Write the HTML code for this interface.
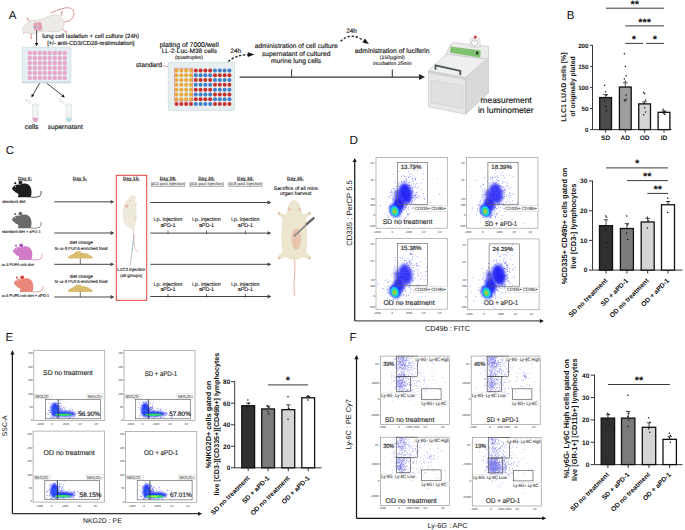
<!DOCTYPE html><html><head><meta charset="utf-8"><style>html,body{margin:0;padding:0;background:#fff;width:685px;height:530px;overflow:hidden}svg{display:block}text{font-family:"Liberation Sans",sans-serif;text-rendering:geometricPrecision}</style></head><body><svg width="685" height="530" viewBox="0 0 685 530"><defs><filter id="b04" x="-50%" y="-50%" width="200%" height="200%"><feGaussianBlur stdDeviation="0.4"/></filter><filter id="b06" x="-50%" y="-50%" width="200%" height="200%"><feGaussianBlur stdDeviation="0.6"/></filter><filter id="b08" x="-50%" y="-50%" width="200%" height="200%"><feGaussianBlur stdDeviation="0.8"/></filter><filter id="b10" x="-50%" y="-50%" width="200%" height="200%"><feGaussianBlur stdDeviation="1.0"/></filter><filter id="b12" x="-50%" y="-50%" width="200%" height="200%"><feGaussianBlur stdDeviation="1.2"/></filter><filter id="b15" x="-50%" y="-50%" width="200%" height="200%"><feGaussianBlur stdDeviation="1.5"/></filter></defs><rect width="685" height="530" fill="#fff"/><text x="8.8" y="18.7" font-size="11.5" fill="#111">A</text>
<path d="M64.00,22.00 C65.03,21.73 68.57,21.52 70.20,20.40 C71.83,19.28 73.38,17.08 73.80,15.30 C74.22,13.52 73.82,10.97 72.70,9.70 C71.58,8.43 69.40,7.70 67.10,7.70 C64.80,7.70 61.70,8.77 58.90,9.70 C56.10,10.63 51.73,12.70 50.30,13.30" fill="none" stroke="#d98c8c" stroke-width="0.95"/>
<line x1="29.5" y1="21.5" x2="27.8" y2="18.9" stroke="#d99090" stroke-width="0.9"/>
<line x1="31.3" y1="33" x2="31.3" y2="37.8" stroke="#d99090" stroke-width="0.9"/>
<line x1="61" y1="16" x2="62" y2="12.3" stroke="#d99090" stroke-width="0.9"/>
<line x1="62" y1="29" x2="66.1" y2="31.7" stroke="#d99090" stroke-width="0.9"/>
<line x1="24.5" y1="31.5" x2="23.5" y2="33.8" stroke="#d99090" stroke-width="0.9"/>
<circle cx="27.6" cy="18.7" r="0.9" fill="#e09a9a"/>
<circle cx="31.3" cy="38" r="0.9" fill="#e09a9a"/>
<circle cx="62.1" cy="12" r="0.9" fill="#e09a9a"/>
<circle cx="66.3" cy="31.9" r="0.9" fill="#e09a9a"/>
<path d="M22.40,29.60 C22.48,28.82 23.37,27.43 24.00,26.50 C24.63,25.57 25.15,24.92 26.20,24.00 C27.25,23.08 28.83,21.60 30.30,21.00 C31.77,20.40 33.38,20.58 35.00,20.40 C36.62,20.22 38.42,20.30 40.00,19.90 C41.58,19.50 43.05,18.58 44.50,18.00 C45.95,17.42 46.80,16.93 48.70,16.40 C50.60,15.87 54.02,14.80 55.90,14.80 C57.78,14.80 58.82,15.55 60.00,16.40 C61.18,17.25 62.33,18.72 63.00,19.90 C63.67,21.08 64.00,22.22 64.00,23.50 C64.00,24.78 63.67,26.40 63.00,27.60 C62.33,28.80 61.53,30.02 60.00,30.70 C58.47,31.38 56.18,31.62 53.80,31.70 C51.42,31.78 48.08,31.20 45.70,31.20 C43.32,31.20 41.22,31.37 39.50,31.70 C37.78,32.03 36.77,32.87 35.40,33.20 C34.03,33.53 32.83,33.78 31.30,33.70 C29.77,33.62 27.50,33.12 26.20,32.70 C24.90,32.28 24.13,31.72 23.50,31.20 C22.87,30.68 22.32,30.38 22.40,29.60Z" fill="#ecebe7" stroke="#cbbca6" stroke-width="0.5"/>
<path d="M33.6,23.5 Q36.5,21.3 41.2,22.3 Q42.6,26 41.8,30.3 Q37.5,31.3 34.6,30.2 Q32.8,27 33.6,23.5 Z" fill="#e0a0b2"/>
<line x1="37.6" y1="22.5" x2="37.6" y2="30.5" stroke="#ecebe7" stroke-width="0.5"/>
<line x1="33.2" y1="27.4" x2="38" y2="27.2" stroke="#8fb0d8" stroke-width="0.8"/>
<line x1="36.6" y1="30.5" x2="36.6" y2="44.2" stroke="#222" stroke-width="0.8"/>
<path d="M36.6,46.3 L34.9,42.9 L38.3,42.9 Z" fill="#111"/>
<text x="42.2" y="37.9" font-size="6" stroke="#111" stroke-width="0.14" fill="#111">lung cell isolation + cell culture (24h)</text>
<text x="47.2" y="44.6" font-size="5.9" stroke="#111" stroke-width="0.14" fill="#111">[+/- anti-CD3/CD28-restimulation]</text>
<rect x="22.4" y="47.4" width="48.4" height="35.6" fill="#e5eef0" stroke="#c3d3d7" stroke-width="0.6" rx="0.8"/>
<rect x="22.4" y="81.6" width="48.4" height="1.4" fill="#c9d9dc" stroke="none" stroke-width="1"/>
<circle cx="29.8" cy="53" r="2.2" fill="#e8a6ca"/>
<circle cx="34.79" cy="53" r="2.2" fill="#e8a6ca"/>
<circle cx="39.78" cy="53" r="2.2" fill="#e8a6ca"/>
<circle cx="44.77" cy="53" r="2.2" fill="#e8a6ca"/>
<circle cx="49.76" cy="53" r="2.2" fill="#e8a6ca"/>
<circle cx="54.75" cy="53" r="2.2" fill="#e8a6ca"/>
<circle cx="59.74" cy="53" r="2.2" fill="#e8a6ca"/>
<circle cx="64.73" cy="53" r="2.2" fill="#e8a6ca"/>
<circle cx="29.8" cy="57.98" r="2.2" fill="#e8a6ca"/>
<circle cx="34.79" cy="57.98" r="2.2" fill="#e8a6ca"/>
<circle cx="39.78" cy="57.98" r="2.2" fill="#e8a6ca"/>
<circle cx="44.77" cy="57.98" r="2.2" fill="#e8a6ca"/>
<circle cx="49.76" cy="57.98" r="2.2" fill="#e8a6ca"/>
<circle cx="54.75" cy="57.98" r="2.2" fill="#e8a6ca"/>
<circle cx="59.74" cy="57.98" r="2.2" fill="#e8a6ca"/>
<circle cx="64.73" cy="57.98" r="2.2" fill="#e8a6ca"/>
<circle cx="29.8" cy="62.96" r="2.2" fill="#e8a6ca"/>
<circle cx="34.79" cy="62.96" r="2.2" fill="#e8a6ca"/>
<circle cx="39.78" cy="62.96" r="2.2" fill="#e8a6ca"/>
<circle cx="44.77" cy="62.96" r="2.2" fill="#e8a6ca"/>
<circle cx="49.76" cy="62.96" r="2.2" fill="#e8a6ca"/>
<circle cx="54.75" cy="62.96" r="2.2" fill="#e8a6ca"/>
<circle cx="59.74" cy="62.96" r="2.2" fill="#e8a6ca"/>
<circle cx="64.73" cy="62.96" r="2.2" fill="#e8a6ca"/>
<circle cx="29.8" cy="67.94" r="2.2" fill="#e8a6ca"/>
<circle cx="34.79" cy="67.94" r="2.2" fill="#e8a6ca"/>
<circle cx="39.78" cy="67.94" r="2.2" fill="#e8a6ca"/>
<circle cx="44.77" cy="67.94" r="2.2" fill="#e8a6ca"/>
<circle cx="49.76" cy="67.94" r="2.2" fill="#e8a6ca"/>
<circle cx="54.75" cy="67.94" r="2.2" fill="#e8a6ca"/>
<circle cx="59.74" cy="67.94" r="2.2" fill="#e8a6ca"/>
<circle cx="64.73" cy="67.94" r="2.2" fill="#e8a6ca"/>
<circle cx="29.8" cy="72.92" r="2.2" fill="#e8a6ca"/>
<circle cx="34.79" cy="72.92" r="2.2" fill="#e8a6ca"/>
<circle cx="39.78" cy="72.92" r="2.2" fill="#e8a6ca"/>
<circle cx="44.77" cy="72.92" r="2.2" fill="#e8a6ca"/>
<circle cx="49.76" cy="72.92" r="2.2" fill="#e8a6ca"/>
<circle cx="54.75" cy="72.92" r="2.2" fill="#e8a6ca"/>
<circle cx="59.74" cy="72.92" r="2.2" fill="#e8a6ca"/>
<circle cx="64.73" cy="72.92" r="2.2" fill="#e8a6ca"/>
<circle cx="29.8" cy="77.9" r="2.2" fill="#e8a6ca"/>
<circle cx="34.79" cy="77.9" r="2.2" fill="#e8a6ca"/>
<circle cx="39.78" cy="77.9" r="2.2" fill="#e8a6ca"/>
<circle cx="44.77" cy="77.9" r="2.2" fill="#e8a6ca"/>
<circle cx="49.76" cy="77.9" r="2.2" fill="#e8a6ca"/>
<circle cx="54.75" cy="77.9" r="2.2" fill="#e8a6ca"/>
<circle cx="59.74" cy="77.9" r="2.2" fill="#e8a6ca"/>
<circle cx="64.73" cy="77.9" r="2.2" fill="#e8a6ca"/>
<line x1="39.6" y1="83.3" x2="32.6" y2="95.3" stroke="#222" stroke-width="0.85"/>
<path d="M31.4,97.5 L31.7,93.98 L34.3,95.48 Z" fill="#111"/>
<line x1="46.8" y1="83.3" x2="63" y2="96" stroke="#222" stroke-width="0.85"/>
<path d="M64.8,97.5 L61.35,96.71 L63.2,94.35 Z" fill="#111"/>
<path d="M26,98.8 L31,102.5 L30,103.8 L25.3,100 Z" fill="#f2f4f4" stroke="#c8cfd0" stroke-width="0.4"/>
<path d="M32.5,104 L38.1,104 L38.1,118.5 Q38.1,122.3 35.3,122.3 Q32.5,122.3 32.5,118.5 Z" fill="#f2f5f5" stroke="#c8d0d2" stroke-width="0.45"/>
<path d="M32.8,117.8 L37.8,117.8 L37.8,118.6 Q37.8,122 35.3,122 Q32.8,122 32.8,118.6 Z" fill="#e6a0c6"/>
<path d="M59.5,98.8 L64.5,102.5 L63.5,103.8 L58.8,100 Z" fill="#f2f4f4" stroke="#c8cfd0" stroke-width="0.4"/>
<path d="M66,104 L71.6,104 L71.6,118.5 Q71.6,122.3 68.8,122.3 Q66,122.3 66,118.5 Z" fill="#f2f5f5" stroke="#c8d0d2" stroke-width="0.45"/>
<path d="M66.3,117.8 L71.3,117.8 L71.3,118.6 Q71.3,122 68.8,122 Q66.3,122 66.3,118.6 Z" fill="#b5dced"/>
<text x="24.8" y="128.9" font-size="6.8" stroke="#111" stroke-width="0.14" fill="#111">cells</text>
<text x="47.7" y="128.9" font-size="6.65" stroke="#111" stroke-width="0.14" fill="#111">supernatant</text>
<text x="189.2" y="46.5" font-size="6.9" stroke="#111" stroke-width="0.14" text-anchor="middle" fill="#111">plating of 7000/well</text>
<text x="189.3" y="53" font-size="6.5" stroke="#111" stroke-width="0.14" text-anchor="middle" fill="#111">LL-2-Luc-M38 cells</text>
<text x="189" y="59.3" font-size="5" stroke="#111" stroke-width="0.1" text-anchor="middle" fill="#111">(quadruples)</text>
<text x="136" y="67.1" font-size="6.7" stroke="#111" stroke-width="0.14" fill="#111">standard</text>
<line x1="162.5" y1="65.6" x2="174.6" y2="68.6" stroke="#e0707c" stroke-width="0.6"/>
<rect x="168.3" y="62.4" width="66.2" height="48.2" fill="#e6eef0" stroke="#c4d4d8" stroke-width="0.6" rx="0.8"/>
<circle cx="176.5" cy="70.4" r="2" fill="#e9a93a"/>
<circle cx="181.31" cy="70.4" r="2" fill="#e9a93a"/>
<circle cx="186.12" cy="70.4" r="2" fill="#e9a93a"/>
<circle cx="190.93" cy="70.4" r="2" fill="#e9a93a"/>
<circle cx="195.74" cy="70.4" r="2" fill="#c9302c"/>
<circle cx="200.55" cy="70.4" r="2" fill="#c9302c"/>
<circle cx="205.36" cy="70.4" r="2" fill="#c9302c"/>
<circle cx="210.17" cy="70.4" r="2" fill="#c9302c"/>
<circle cx="214.98" cy="70.4" r="2" fill="#3f7fca"/>
<circle cx="219.79" cy="70.4" r="2" fill="#3f7fca"/>
<circle cx="224.6" cy="70.4" r="2" fill="#3f7fca"/>
<circle cx="229.41" cy="70.4" r="2" fill="#3f7fca"/>
<circle cx="176.5" cy="75.21" r="2" fill="#e9a93a"/>
<circle cx="181.31" cy="75.21" r="2" fill="#e9a93a"/>
<circle cx="186.12" cy="75.21" r="2" fill="#e9a93a"/>
<circle cx="190.93" cy="75.21" r="2" fill="#e9a93a"/>
<circle cx="195.74" cy="75.21" r="2" fill="#3f7fca"/>
<circle cx="200.55" cy="75.21" r="2" fill="#3f7fca"/>
<circle cx="205.36" cy="75.21" r="2" fill="#3f7fca"/>
<circle cx="210.17" cy="75.21" r="2" fill="#3f7fca"/>
<circle cx="214.98" cy="75.21" r="2" fill="#c9302c"/>
<circle cx="219.79" cy="75.21" r="2" fill="#c9302c"/>
<circle cx="224.6" cy="75.21" r="2" fill="#c9302c"/>
<circle cx="229.41" cy="75.21" r="2" fill="#c9302c"/>
<circle cx="176.5" cy="80.02" r="2" fill="#e9a93a"/>
<circle cx="181.31" cy="80.02" r="2" fill="#e9a93a"/>
<circle cx="186.12" cy="80.02" r="2" fill="#e9a93a"/>
<circle cx="190.93" cy="80.02" r="2" fill="#e9a93a"/>
<circle cx="195.74" cy="80.02" r="2" fill="#c9302c"/>
<circle cx="200.55" cy="80.02" r="2" fill="#c9302c"/>
<circle cx="205.36" cy="80.02" r="2" fill="#c9302c"/>
<circle cx="210.17" cy="80.02" r="2" fill="#c9302c"/>
<circle cx="214.98" cy="80.02" r="2" fill="#3f7fca"/>
<circle cx="219.79" cy="80.02" r="2" fill="#3f7fca"/>
<circle cx="224.6" cy="80.02" r="2" fill="#3f7fca"/>
<circle cx="229.41" cy="80.02" r="2" fill="#3f7fca"/>
<circle cx="176.5" cy="84.83" r="2" fill="#e9a93a"/>
<circle cx="181.31" cy="84.83" r="2" fill="#e9a93a"/>
<circle cx="186.12" cy="84.83" r="2" fill="#e9a93a"/>
<circle cx="190.93" cy="84.83" r="2" fill="#e9a93a"/>
<circle cx="195.74" cy="84.83" r="2" fill="#3f7fca"/>
<circle cx="200.55" cy="84.83" r="2" fill="#3f7fca"/>
<circle cx="205.36" cy="84.83" r="2" fill="#3f7fca"/>
<circle cx="210.17" cy="84.83" r="2" fill="#3f7fca"/>
<circle cx="214.98" cy="84.83" r="2" fill="#c9302c"/>
<circle cx="219.79" cy="84.83" r="2" fill="#c9302c"/>
<circle cx="224.6" cy="84.83" r="2" fill="#c9302c"/>
<circle cx="229.41" cy="84.83" r="2" fill="#c9302c"/>
<circle cx="176.5" cy="89.64" r="2" fill="#e9a93a"/>
<circle cx="181.31" cy="89.64" r="2" fill="#e9a93a"/>
<circle cx="186.12" cy="89.64" r="2" fill="#e9a93a"/>
<circle cx="190.93" cy="89.64" r="2" fill="#e9a93a"/>
<circle cx="195.74" cy="89.64" r="2" fill="#c9302c"/>
<circle cx="200.55" cy="89.64" r="2" fill="#c9302c"/>
<circle cx="205.36" cy="89.64" r="2" fill="#c9302c"/>
<circle cx="210.17" cy="89.64" r="2" fill="#c9302c"/>
<circle cx="214.98" cy="89.64" r="2" fill="#3f7fca"/>
<circle cx="219.79" cy="89.64" r="2" fill="#3f7fca"/>
<circle cx="224.6" cy="89.64" r="2" fill="#3f7fca"/>
<circle cx="229.41" cy="89.64" r="2" fill="#3f7fca"/>
<circle cx="176.5" cy="94.45" r="2" fill="#e9a93a"/>
<circle cx="181.31" cy="94.45" r="2" fill="#e9a93a"/>
<circle cx="186.12" cy="94.45" r="2" fill="#e9a93a"/>
<circle cx="190.93" cy="94.45" r="2" fill="#e9a93a"/>
<circle cx="195.74" cy="94.45" r="2" fill="#3f7fca"/>
<circle cx="200.55" cy="94.45" r="2" fill="#3f7fca"/>
<circle cx="205.36" cy="94.45" r="2" fill="#3f7fca"/>
<circle cx="210.17" cy="94.45" r="2" fill="#3f7fca"/>
<circle cx="214.98" cy="94.45" r="2" fill="#c9302c"/>
<circle cx="219.79" cy="94.45" r="2" fill="#c9302c"/>
<circle cx="224.6" cy="94.45" r="2" fill="#c9302c"/>
<circle cx="229.41" cy="94.45" r="2" fill="#c9302c"/>
<circle cx="176.5" cy="99.26" r="2" fill="#e9a93a"/>
<circle cx="181.31" cy="99.26" r="2" fill="#e9a93a"/>
<circle cx="186.12" cy="99.26" r="2" fill="#e9a93a"/>
<circle cx="190.93" cy="99.26" r="2" fill="#e9a93a"/>
<circle cx="195.74" cy="99.26" r="2" fill="#c9302c"/>
<circle cx="200.55" cy="99.26" r="2" fill="#c9302c"/>
<circle cx="205.36" cy="99.26" r="2" fill="#c9302c"/>
<circle cx="210.17" cy="99.26" r="2" fill="#c9302c"/>
<circle cx="214.98" cy="99.26" r="2" fill="#3f7fca"/>
<circle cx="219.79" cy="99.26" r="2" fill="#3f7fca"/>
<circle cx="224.6" cy="99.26" r="2" fill="#3f7fca"/>
<circle cx="229.41" cy="99.26" r="2" fill="#3f7fca"/>
<circle cx="176.5" cy="104.07" r="2" fill="#c9302c"/>
<circle cx="181.31" cy="104.07" r="2" fill="#c9302c"/>
<circle cx="186.12" cy="104.07" r="2" fill="#c9302c"/>
<circle cx="190.93" cy="104.07" r="2" fill="#c9302c"/>
<circle cx="195.74" cy="104.07" r="2" fill="#3f7fca"/>
<circle cx="200.55" cy="104.07" r="2" fill="#3f7fca"/>
<circle cx="205.36" cy="104.07" r="2" fill="#3f7fca"/>
<circle cx="210.17" cy="104.07" r="2" fill="#3f7fca"/>
<circle cx="214.98" cy="104.07" r="2" fill="#c9302c"/>
<circle cx="219.79" cy="104.07" r="2" fill="#c9302c"/>
<circle cx="224.6" cy="104.07" r="2" fill="#c9302c"/>
<circle cx="229.41" cy="104.07" r="2" fill="#c9302c"/>
<rect x="174.4" y="68.2" width="18.3" height="32.8" fill="none" stroke="#e07885" stroke-width="0.6"/>
<text x="230.4" y="52.6" font-size="6.3" stroke="#111" stroke-width="0.14" fill="#111">24h</text>
<path d="M228.4,61.4 Q236,55 248,54.8" fill="none" stroke="#1a1a1a" stroke-width="1.3" stroke-dasharray="2.4,1.6"/>
<path d="M254.3,54.6 L247.8,56.9 L247.8,52.3 Z" fill="#111"/>
<line x1="239.6" y1="77.1" x2="420.5" y2="77.1" stroke="#333" stroke-width="1.3"/>
<path d="M425,77 L419,79.9 L419,74.1 Z" fill="#222"/>
<line x1="291.6" y1="69.4" x2="291.6" y2="77.1" stroke="#333" stroke-width="1"/>
<line x1="392.3" y1="69.4" x2="392.3" y2="77.1" stroke="#333" stroke-width="1"/>
<text x="296.3" y="48.4" font-size="6.7" stroke="#111" stroke-width="0.14" text-anchor="middle" fill="#111">administration of cell culture</text>
<text x="296.2" y="55.9" font-size="6.7" stroke="#111" stroke-width="0.14" text-anchor="middle" fill="#111">supernatant of cultured</text>
<text x="296.1" y="63.4" font-size="6.7" stroke="#111" stroke-width="0.14" text-anchor="middle" fill="#111">murine lung cells</text>
<text x="346.3" y="32.8" font-size="6.3" stroke="#111" stroke-width="0.14" fill="#111">24h</text>
<path d="M340.5,41.4 Q350.2,31.5 363,40.3" fill="none" stroke="#1a1a1a" stroke-width="1.3" stroke-dasharray="2.4,1.8"/>
<path d="M368.9,43.9 L362.45,42.45 L364.95,38.59 Z" fill="#111"/>
<text x="392.2" y="52.6" font-size="6.76" stroke="#111" stroke-width="0.14" text-anchor="middle" fill="#111">administration of luciferin</text>
<text x="392.3" y="58.7" font-size="5.2" stroke="#111" stroke-width="0.1" text-anchor="middle" fill="#111">(150µg/ml)</text>
<text x="392.3" y="64.5" font-size="5.1" stroke="#111" stroke-width="0.1" text-anchor="middle" fill="#111">incubation 25min</text>
<polygon points="465.6,77.5 488.5,58.2 488.5,93.1 465.6,114.2" fill="#d9d9d9" stroke="#b9b9b9" stroke-width="0.5"/>
<polygon points="428.4,70.8 465.6,77.5 465.6,114.2 428.4,106.8" fill="#e7e7e7" stroke="#b9b9b9" stroke-width="0.5"/>
<polygon points="431.2,80.2 463,85.8 463,108.6 431.2,102.6" fill="#e0e0e0" stroke="#c4c4c4" stroke-width="0.45"/>
<polygon points="428.4,70.8 465.6,77.5 465.6,79.6 428.4,72.9" fill="#d4d4d4" stroke="#bdbdbd" stroke-width="0.3"/>
<polygon points="428.4,70.8 446,54 486.5,58.8 465.6,77.5" fill="#efefef" stroke="#b9b9b9" stroke-width="0.5"/>
<polygon points="446,54 450.5,44.2 454,42.6 488.5,46.6 488.5,58.2 486.5,58.8" fill="#ebebeb" stroke="#b9b9b9" stroke-width="0.5"/>
<polygon points="450.6,46.6 480.8,50.4 480.2,57.4 450,52.8" fill="#80c270"/>
<rect x="476" y="51.6" width="2.3" height="2.9" fill="#333"/>
<path d="M435.4,69.6 L435.6,65.4 L460.3,70.9 L460.3,75.1" fill="none" stroke="#4a5357" stroke-width="1.8"/>
<rect x="470.4" y="38.2" width="9.6" height="8.9" rx="1" fill="#f2f2f2" stroke="#aaa" stroke-width="0.4"/>
<circle cx="474.6" cy="42.8" r="3.0" fill="#fff" stroke="#888" stroke-width="0.45"/>
<line x1="474.6" y1="40.6" x2="474.6" y2="42.8" stroke="#777" stroke-width="0.35"/>
<circle cx="475.3" cy="37.0" r="1.5" fill="#d13a3a"/>
<text x="480.6" y="103" font-size="8.35" stroke="#111" stroke-width="0.14" fill="#111">measurement</text>
<text x="477.9" y="112.5" font-size="8.5" stroke="#111" stroke-width="0.14" fill="#111">in luminometer</text>
<text x="566.8" y="19.4" font-size="11.5" fill="#111">B</text>
<line x1="592.5" y1="45" x2="592.5" y2="129.6" stroke="#222" stroke-width="0.9"/>
<line x1="592.5" y1="129.6" x2="671.5" y2="129.6" stroke="#222" stroke-width="0.9"/>
<line x1="590.1" y1="129.6" x2="592.5" y2="129.6" stroke="#222" stroke-width="0.9"/>
<text x="588.5" y="131.8" font-size="6.2" font-weight="bold" text-anchor="end" fill="#111">0</text>
<line x1="590.1" y1="108.52" x2="592.5" y2="108.52" stroke="#222" stroke-width="0.9"/>
<text x="588.5" y="110.72" font-size="6.2" font-weight="bold" text-anchor="end" fill="#111">50</text>
<line x1="590.1" y1="87.45" x2="592.5" y2="87.45" stroke="#222" stroke-width="0.9"/>
<text x="588.5" y="89.65" font-size="6.2" font-weight="bold" text-anchor="end" fill="#111">100</text>
<line x1="590.1" y1="66.38" x2="592.5" y2="66.38" stroke="#222" stroke-width="0.9"/>
<text x="588.5" y="68.58" font-size="6.2" font-weight="bold" text-anchor="end" fill="#111">150</text>
<line x1="590.1" y1="45.3" x2="592.5" y2="45.3" stroke="#222" stroke-width="0.9"/>
<text x="588.5" y="47.5" font-size="6.2" font-weight="bold" text-anchor="end" fill="#111">200</text>
<rect x="599.7" y="97.57" width="11.8" height="32.03" fill="#4b4b4b" stroke="#111" stroke-width="1.3"/>
<line x1="605.6" y1="97.57" x2="605.6" y2="94.62" stroke="#222" stroke-width="0.8"/>
<line x1="603.2" y1="94.62" x2="608" y2="94.62" stroke="#222" stroke-width="0.8"/>
<circle cx="604.7" cy="85.34" r="0.75" fill="#111"/>
<circle cx="605.6" cy="91.66" r="0.75" fill="#111"/>
<circle cx="606.5" cy="95.04" r="0.75" fill="#111"/>
<circle cx="604.7" cy="100.94" r="0.75" fill="#111"/>
<circle cx="605.6" cy="106.42" r="0.75" fill="#111"/>
<circle cx="606.5" cy="110.63" r="0.75" fill="#111"/>
<line x1="605.6" y1="129.6" x2="605.6" y2="132.6" stroke="#222" stroke-width="0.9"/>
<rect x="619.4" y="87.03" width="11.8" height="42.57" fill="#9d9d9d" stroke="#111" stroke-width="1.3"/>
<line x1="625.3" y1="87.03" x2="625.3" y2="82.81" stroke="#222" stroke-width="0.8"/>
<line x1="622.9" y1="82.81" x2="627.7" y2="82.81" stroke="#222" stroke-width="0.8"/>
<circle cx="624.4" cy="53.73" r="0.75" fill="#111"/>
<circle cx="625.3" cy="66.38" r="0.75" fill="#111"/>
<circle cx="626.2" cy="75.65" r="0.75" fill="#111"/>
<circle cx="624.4" cy="79.02" r="0.75" fill="#111"/>
<circle cx="625.3" cy="81.13" r="0.75" fill="#111"/>
<circle cx="626.2" cy="95.04" r="0.75" fill="#111"/>
<circle cx="624.4" cy="100.09" r="0.75" fill="#111"/>
<circle cx="625.3" cy="100.94" r="0.75" fill="#111"/>
<circle cx="626.2" cy="99.25" r="0.75" fill="#111"/>
<line x1="625.3" y1="129.6" x2="625.3" y2="132.6" stroke="#222" stroke-width="0.9"/>
<rect x="638.7" y="103.89" width="11.8" height="25.71" fill="#d5d5d5" stroke="#111" stroke-width="1.3"/>
<line x1="644.6" y1="103.89" x2="644.6" y2="101.78" stroke="#222" stroke-width="0.8"/>
<line x1="642.2" y1="101.78" x2="647" y2="101.78" stroke="#222" stroke-width="0.8"/>
<circle cx="643.7" cy="92.51" r="0.75" fill="#111"/>
<circle cx="644.6" cy="93.77" r="0.75" fill="#111"/>
<circle cx="645.5" cy="100.09" r="0.75" fill="#111"/>
<circle cx="643.7" cy="103.47" r="0.75" fill="#111"/>
<circle cx="644.6" cy="107.68" r="0.75" fill="#111"/>
<circle cx="645.5" cy="111.9" r="0.75" fill="#111"/>
<circle cx="643.7" cy="114.85" r="0.75" fill="#111"/>
<line x1="644.6" y1="129.6" x2="644.6" y2="132.6" stroke="#222" stroke-width="0.9"/>
<rect x="658.1" y="112.32" width="11.8" height="17.28" fill="#ffffff" stroke="#111" stroke-width="1.3"/>
<line x1="664" y1="112.32" x2="664" y2="111.05" stroke="#222" stroke-width="0.8"/>
<line x1="661.6" y1="111.05" x2="666.4" y2="111.05" stroke="#222" stroke-width="0.8"/>
<circle cx="663.1" cy="109.37" r="0.75" fill="#111"/>
<circle cx="664" cy="111.05" r="0.75" fill="#111"/>
<circle cx="664.9" cy="111.9" r="0.75" fill="#111"/>
<circle cx="663.1" cy="112.74" r="0.75" fill="#111"/>
<circle cx="664" cy="113.58" r="0.75" fill="#111"/>
<circle cx="664.9" cy="114.43" r="0.75" fill="#111"/>
<line x1="664" y1="129.6" x2="664" y2="132.6" stroke="#222" stroke-width="0.9"/>
<text x="605.6" y="140.4" font-size="6.5" font-weight="bold" text-anchor="middle" fill="#111">SD</text>
<text x="625.3" y="140.4" font-size="6.5" font-weight="bold" text-anchor="middle" fill="#111">AD</text>
<text x="644.6" y="140.4" font-size="6.5" font-weight="bold" text-anchor="middle" fill="#111">OD</text>
<text x="664" y="140.4" font-size="6.5" font-weight="bold" text-anchor="middle" fill="#111">ID</text>
<line x1="606" y1="8.2" x2="664" y2="8.2" stroke="#222" stroke-width="0.9"/>
<line x1="625.3" y1="25.9" x2="664" y2="25.9" stroke="#222" stroke-width="0.9"/>
<line x1="625.3" y1="43.4" x2="643" y2="43.4" stroke="#222" stroke-width="0.9"/>
<line x1="646.2" y1="43.4" x2="664" y2="43.4" stroke="#222" stroke-width="0.9"/>
<text x="634.8" y="7.93" font-size="11" font-weight="bold" text-anchor="middle" fill="#111">**</text>
<text x="644.7" y="25.83" font-size="11" font-weight="bold" text-anchor="middle" fill="#111">***</text>
<text x="634" y="43.23" font-size="11" font-weight="bold" text-anchor="middle" fill="#111">*</text>
<text x="655" y="43.23" font-size="11" font-weight="bold" text-anchor="middle" fill="#111">*</text>
<text x="565.6" y="87" font-size="7" font-weight="bold" text-anchor="middle" fill="#111" transform="rotate(-90 565.6 87)">LLC1 LUAD cells [%]</text>
<text x="575.4" y="86.6" font-size="6.8" font-weight="bold" text-anchor="middle" fill="#111" transform="rotate(-90 575.4 86.6)">of originally plated</text>
<text x="5.7" y="153.8" font-size="11.5" fill="#111">C</text>
<text x="25" y="179.6" font-size="4.7" font-weight="bold" text-anchor="middle" fill="#111" text-decoration="underline">Day 0:</text>
<text x="79.9" y="179.6" font-size="4.7" font-weight="bold" text-anchor="middle" fill="#111" text-decoration="underline">Day 5:</text>
<text x="131.3" y="179.6" font-size="4.7" font-weight="bold" text-anchor="middle" fill="#111" text-decoration="underline">Day 15:</text>
<text x="168" y="179.6" font-size="4.7" font-weight="bold" text-anchor="middle" fill="#111" text-decoration="underline">Day 28:</text>
<text x="206.5" y="179.6" font-size="4.7" font-weight="bold" text-anchor="middle" fill="#111" text-decoration="underline">Day 30:</text>
<text x="245.4" y="179.6" font-size="4.7" font-weight="bold" text-anchor="middle" fill="#111" text-decoration="underline">Day 33:</text>
<text x="295.4" y="179.6" font-size="4.7" font-weight="bold" text-anchor="middle" fill="#111" text-decoration="underline">Day 35:</text>
<text x="168" y="184.9" font-size="4.1" text-anchor="middle" fill="#111" text-decoration="underline">[d13 post injection]</text>
<text x="206.5" y="184.9" font-size="4.1" text-anchor="middle" fill="#111" text-decoration="underline">[d15 post injection]</text>
<text x="245.4" y="184.9" font-size="4.1" text-anchor="middle" fill="#111" text-decoration="underline">[d18 post injection]</text>
<g transform="translate(11.2,181.3) scale(1)"><path d="M0.7,7.1 Q1.8,4.6 4.2,3.6 Q6.8,2.7 8.6,3.4 Q11,1.9 14.2,2.3 Q20,3.2 20.3,10 Q20.4,14.6 19.2,16 L6.9,16 Q6.4,14.5 7.6,13.2 L5.8,11.7 Q4,11.3 3.6,10.2 Q2,9.6 0.7,7.1 Z" fill="#1e1e1e"/><circle cx="9.2" cy="1.3" r="1.9" fill="#1e1e1e"/><path d="M2.6,2.6 L4.0,0.1 L5.4,2.6 Z" fill="#1e1e1e"/><circle cx="4.3" cy="5.0" r="0.55" fill="#fff"/><path d="M19.4,15.9 Q26,16.3 28.4,15.1 Q30.6,13 29.8,9.7" fill="none" stroke="#1e1e1e" stroke-width="0.75"/></g>
<g transform="translate(11.2,212.3) scale(1)"><path d="M0.7,7.1 Q1.8,4.6 4.2,3.6 Q6.8,2.7 8.6,3.4 Q11,1.9 14.2,2.3 Q20,3.2 20.3,10 Q20.4,14.6 19.2,16 L6.9,16 Q6.4,14.5 7.6,13.2 L5.8,11.7 Q4,11.3 3.6,10.2 Q2,9.6 0.7,7.1 Z" fill="#6a6a6a"/><circle cx="9.2" cy="1.3" r="1.9" fill="#6a6a6a"/><path d="M2.6,2.6 L4.0,0.1 L5.4,2.6 Z" fill="#6a6a6a"/><circle cx="4.3" cy="5.0" r="0.55" fill="#fff"/><path d="M19.4,15.9 Q26,16.3 28.4,15.1 Q30.6,13 29.8,9.7" fill="none" stroke="#6a6a6a" stroke-width="0.75"/></g>
<g transform="translate(12,244) scale(1)"><path d="M0.7,7.1 Q1.8,4.6 4.2,3.6 Q6.8,2.7 8.6,3.4 Q11,1.9 14.2,2.3 Q20,3.2 20.3,10 Q20.4,14.6 19.2,16 L6.9,16 Q6.4,14.5 7.6,13.2 L5.8,11.7 Q4,11.3 3.6,10.2 Q2,9.6 0.7,7.1 Z" fill="#d27cc8"/><circle cx="9.2" cy="1.3" r="1.9" fill="#a855b8"/><path d="M2.6,2.6 L4.0,0.1 L5.4,2.6 Z" fill="#a855b8"/><circle cx="4.3" cy="5.0" r="0.55" fill="#fff"/><path d="M19.4,15.9 Q26,16.3 28.4,15.1 Q30.6,13 29.8,9.7" fill="none" stroke="#d27cc8" stroke-width="0.75"/></g>
<g transform="translate(13,276) scale(1)"><path d="M0.7,7.1 Q1.8,4.6 4.2,3.6 Q6.8,2.7 8.6,3.4 Q11,1.9 14.2,2.3 Q20,3.2 20.3,10 Q20.4,14.6 19.2,16 L6.9,16 Q6.4,14.5 7.6,13.2 L5.8,11.7 Q4,11.3 3.6,10.2 Q2,9.6 0.7,7.1 Z" fill="#e9877a"/><circle cx="9.2" cy="1.3" r="1.9" fill="#d8403e"/><path d="M2.6,2.6 L4.0,0.1 L5.4,2.6 Z" fill="#d8403e"/><circle cx="4.3" cy="5.0" r="0.55" fill="#fff"/><path d="M19.4,15.9 Q26,16.3 28.4,15.1 Q30.6,13 29.8,9.7" fill="none" stroke="#e9877a" stroke-width="0.75"/></g>
<text x="1.9" y="202.7" font-size="4.08" stroke="#111" stroke-width="0.1" fill="#111">standard diet</text>
<text x="1.9" y="233.3" font-size="3.97" stroke="#111" stroke-width="0.1" fill="#111">standard diet + aPD-1</text>
<text x="1.8" y="265.6" font-size="3.92" stroke="#111" stroke-width="0.1" fill="#111">ω-3 PUFA rich diet</text>
<text x="1.8" y="297.1" font-size="3.86" stroke="#111" stroke-width="0.1" fill="#111">ω-3 PUFA rich diet + aPD-1</text>
<line x1="54.3" y1="201.8" x2="111.36" y2="201.8" stroke="#444" stroke-width="1"/>
<path d="M114.4,201.8 L110.6,203.7 L110.6,199.9 Z" fill="#444"/>
<line x1="54.3" y1="233" x2="111.36" y2="233" stroke="#444" stroke-width="1"/>
<path d="M114.4,233 L110.6,234.9 L110.6,231.1 Z" fill="#444"/>
<line x1="54.3" y1="264.3" x2="111.36" y2="264.3" stroke="#444" stroke-width="1"/>
<path d="M114.4,264.3 L110.6,266.2 L110.6,262.4 Z" fill="#444"/>
<line x1="54.3" y1="297" x2="111.36" y2="297" stroke="#444" stroke-width="1"/>
<path d="M114.4,297 L110.6,298.9 L110.6,295.1 Z" fill="#444"/>
<text x="81.3" y="244.2" font-size="4.49" stroke="#111" stroke-width="0.1" text-anchor="middle" fill="#111">diet change</text>
<text x="81.2" y="249.5" font-size="4.43" stroke="#111" stroke-width="0.1" text-anchor="middle" fill="#111">to ω-3 PUFA enriched food</text>
<path d="M68.1,258.6 L68.3,256.4 L70,255.4 L72,254.6 L73.5,253.9 L75,252.6 L76.2,251.6 L78.5,251.1 L80.6,251.7 L82,253 L85.5,253.2 L88,253.9 L89.8,255.4 L92,256.1 L92.5,257.4 L92.5,258.6 Z" fill="#d9b96c"/>
<circle cx="71" cy="257.4" r="0.55" fill="#e6ce92"/>
<circle cx="74" cy="256.8" r="0.55" fill="#e6ce92"/>
<circle cx="77" cy="257.6" r="0.55" fill="#e6ce92"/>
<circle cx="80" cy="256.6" r="0.55" fill="#e6ce92"/>
<circle cx="83" cy="257.5" r="0.55" fill="#e6ce92"/>
<circle cx="86" cy="256.9" r="0.55" fill="#e6ce92"/>
<circle cx="89" cy="257.6" r="0.55" fill="#e6ce92"/>
<circle cx="76.5" cy="254.5" r="0.55" fill="#e6ce92"/>
<circle cx="79.5" cy="253.7" r="0.55" fill="#e6ce92"/>
<circle cx="83.5" cy="255" r="0.55" fill="#e6ce92"/>
<circle cx="86.5" cy="255.2" r="0.55" fill="#e6ce92"/>
<circle cx="78.2" cy="252.4" r="0.55" fill="#e6ce92"/>
<line x1="80.3" y1="258.6" x2="80.3" y2="264" stroke="#333" stroke-width="0.7"/>
<text x="81.3" y="277.5" font-size="4.49" stroke="#111" stroke-width="0.1" text-anchor="middle" fill="#111">diet change</text>
<text x="81.2" y="282.8" font-size="4.43" stroke="#111" stroke-width="0.1" text-anchor="middle" fill="#111">to ω-3 PUFA enriched food</text>
<path d="M68.1,291.9 L68.3,289.7 L70,288.7 L72,287.9 L73.5,287.2 L75,285.9 L76.2,284.9 L78.5,284.4 L80.6,285 L82,286.3 L85.5,286.5 L88,287.2 L89.8,288.7 L92,289.4 L92.5,290.7 L92.5,291.9 Z" fill="#d9b96c"/>
<circle cx="71" cy="290.7" r="0.55" fill="#e6ce92"/>
<circle cx="74" cy="290.1" r="0.55" fill="#e6ce92"/>
<circle cx="77" cy="290.9" r="0.55" fill="#e6ce92"/>
<circle cx="80" cy="289.9" r="0.55" fill="#e6ce92"/>
<circle cx="83" cy="290.8" r="0.55" fill="#e6ce92"/>
<circle cx="86" cy="290.2" r="0.55" fill="#e6ce92"/>
<circle cx="89" cy="290.9" r="0.55" fill="#e6ce92"/>
<circle cx="76.5" cy="287.8" r="0.55" fill="#e6ce92"/>
<circle cx="79.5" cy="287" r="0.55" fill="#e6ce92"/>
<circle cx="83.5" cy="288.3" r="0.55" fill="#e6ce92"/>
<circle cx="86.5" cy="288.5" r="0.55" fill="#e6ce92"/>
<circle cx="78.2" cy="285.7" r="0.55" fill="#e6ce92"/>
<line x1="80.3" y1="291.9" x2="80.3" y2="297.3" stroke="#333" stroke-width="0.7"/>
<rect x="116.3" y="175.3" width="30.4" height="125" fill="none" stroke="#e8403f" stroke-width="1"/>
<path d="M133.40,195.40 C134.22,195.33 135.08,196.00 135.40,196.60 C135.72,197.20 135.38,198.10 135.30,199.00 C135.22,199.90 134.82,201.00 134.90,202.00 C134.98,203.00 135.60,203.67 135.80,205.00 C136.00,206.33 136.05,208.17 136.10,210.00 C136.15,211.83 136.15,214.17 136.10,216.00 C136.05,217.83 136.05,219.42 135.80,221.00 C135.55,222.58 135.03,224.28 134.60,225.50 C134.17,226.72 133.83,227.78 133.20,228.30 C132.57,228.82 131.75,228.88 130.80,228.60 C129.85,228.32 128.60,227.70 127.50,226.60 C126.40,225.50 124.97,223.77 124.20,222.00 C123.43,220.23 123.07,218.00 122.90,216.00 C122.73,214.00 122.93,211.83 123.20,210.00 C123.47,208.17 123.87,206.58 124.50,205.00 C125.13,203.42 126.00,201.83 127.00,200.50 C128.00,199.17 129.43,197.85 130.50,197.00 C131.57,196.15 132.58,195.47 133.40,195.40Z" fill="#eeeadb" stroke="#dcd4bc" stroke-width="0.3"/>
<ellipse cx="126.6" cy="206" rx="1.9" ry="1.5" fill="#e9b7ae"/>
<ellipse cx="135.9" cy="204.4" rx="0.7" ry="1.0" fill="#e9b7ae"/><ellipse cx="135.9" cy="218.7" rx="0.7" ry="1.1" fill="#e9b7ae"/>
<circle cx="130.7" cy="200.2" r="0.35" fill="#a05050"/>
<path d="M133.2,228.3 Q133.6,238 134.6,247 Q135.8,251.5 139,252.4" fill="none" stroke="#e3a08e" stroke-width="0.6"/>
<line x1="134.3" y1="234.7" x2="130.2" y2="265.2" stroke="#9a9a9a" stroke-width="0.6"/>
<line x1="133.4" y1="239.5" x2="131.9" y2="250.8" stroke="#a8cce0" stroke-width="1"/>
<text x="131.3" y="271.4" font-size="4.42" stroke="#111" stroke-width="0.1" text-anchor="middle" fill="#111">L1C2 injection</text>
<text x="131.3" y="277.2" font-size="4.42" stroke="#111" stroke-width="0.1" text-anchor="middle" fill="#111">(all groups)</text>
<line x1="150.3" y1="202.5" x2="268.36" y2="202.5" stroke="#444" stroke-width="1"/>
<path d="M271.4,202.5 L267.6,204.4 L267.6,200.6 Z" fill="#444"/>
<line x1="150.3" y1="233.1" x2="268.36" y2="233.1" stroke="#444" stroke-width="1"/>
<path d="M271.4,233.1 L267.6,235 L267.6,231.2 Z" fill="#444"/>
<line x1="150.3" y1="264.3" x2="268.36" y2="264.3" stroke="#444" stroke-width="1"/>
<path d="M271.4,264.3 L267.6,266.2 L267.6,262.4 Z" fill="#444"/>
<line x1="150.3" y1="296.5" x2="268.36" y2="296.5" stroke="#444" stroke-width="1"/>
<path d="M271.4,296.5 L267.6,298.4 L267.6,294.6 Z" fill="#444"/>
<line x1="168" y1="230.5" x2="168" y2="234.1" stroke="#333" stroke-width="0.7"/>
<line x1="206.5" y1="230.5" x2="206.5" y2="234.1" stroke="#333" stroke-width="0.7"/>
<line x1="245.4" y1="230.5" x2="245.4" y2="234.1" stroke="#333" stroke-width="0.7"/>
<line x1="168" y1="293.9" x2="168" y2="297.5" stroke="#333" stroke-width="0.7"/>
<line x1="206.5" y1="293.9" x2="206.5" y2="297.5" stroke="#333" stroke-width="0.7"/>
<line x1="245.4" y1="293.9" x2="245.4" y2="297.5" stroke="#333" stroke-width="0.7"/>
<text x="168" y="221.4" font-size="5.36" stroke="#111" stroke-width="0.1" text-anchor="middle" fill="#111">i.p. injection</text>
<text x="168" y="227" font-size="5.36" stroke="#111" stroke-width="0.1" text-anchor="middle" fill="#111">aPD-1</text>
<text x="206.5" y="221.4" font-size="5.36" stroke="#111" stroke-width="0.1" text-anchor="middle" fill="#111">i.p. injection</text>
<text x="206.5" y="227" font-size="5.36" stroke="#111" stroke-width="0.1" text-anchor="middle" fill="#111">aPD-1</text>
<text x="245.4" y="221.4" font-size="5.36" stroke="#111" stroke-width="0.1" text-anchor="middle" fill="#111">i.p. injection</text>
<text x="245.4" y="227" font-size="5.36" stroke="#111" stroke-width="0.1" text-anchor="middle" fill="#111">aPD-1</text>
<text x="168" y="285.6" font-size="5.36" stroke="#111" stroke-width="0.1" text-anchor="middle" fill="#111">i.p. injection</text>
<text x="168" y="291.2" font-size="5.36" stroke="#111" stroke-width="0.1" text-anchor="middle" fill="#111">aPD-1</text>
<text x="206.5" y="285.6" font-size="5.36" stroke="#111" stroke-width="0.1" text-anchor="middle" fill="#111">i.p. injection</text>
<text x="206.5" y="291.2" font-size="5.36" stroke="#111" stroke-width="0.1" text-anchor="middle" fill="#111">aPD-1</text>
<text x="245.4" y="285.6" font-size="5.36" stroke="#111" stroke-width="0.1" text-anchor="middle" fill="#111">i.p. injection</text>
<text x="245.4" y="291.2" font-size="5.36" stroke="#111" stroke-width="0.1" text-anchor="middle" fill="#111">aPD-1</text>
<text x="295.9" y="190" font-size="5.14" stroke="#111" stroke-width="0.1" text-anchor="middle" fill="#111">Sacrifice of all mice</text>
<text x="295.7" y="195.3" font-size="5.18" stroke="#111" stroke-width="0.1" text-anchor="middle" fill="#111">organ harvest</text>
<path d="M294.5,296.5 Q293.2,285 294.6,275 Q295.5,265 294.5,256" fill="none" stroke="#e3a08e" stroke-width="0.8"/>
<path d="M294.30,200.60 C295.40,200.60 296.68,201.38 297.60,202.20 C298.52,203.02 299.30,204.37 299.80,205.50 C300.30,206.63 300.37,207.92 300.60,209.00 C300.83,210.08 300.77,210.97 301.20,212.00 C301.63,213.03 302.30,214.90 303.20,215.20 C304.10,215.50 305.53,214.27 306.60,213.80 C307.67,213.33 308.97,212.33 309.60,212.40 C310.23,212.47 311.03,213.17 310.40,214.20 C309.77,215.23 306.50,216.63 305.80,218.60 C305.10,220.57 306.05,222.77 306.20,226.00 C306.35,229.23 306.68,234.50 306.70,238.00 C306.72,241.50 306.48,244.75 306.30,247.00 C306.12,249.25 305.22,250.23 305.60,251.50 C305.98,252.77 307.77,253.58 308.60,254.60 C309.43,255.62 310.57,256.88 310.60,257.60 C310.63,258.32 310.03,259.03 308.80,258.90 C307.57,258.77 304.80,256.85 303.20,256.80 C301.60,256.75 300.68,258.20 299.20,258.60 C297.72,259.00 295.93,259.20 294.30,259.20 C292.67,259.20 290.88,259.00 289.40,258.60 C287.92,258.20 287.00,256.75 285.40,256.80 C283.80,256.85 281.03,258.77 279.80,258.90 C278.57,259.03 277.97,258.32 278.00,257.60 C278.03,256.88 279.17,255.62 280.00,254.60 C280.83,253.58 282.62,252.77 283.00,251.50 C283.38,250.23 282.48,249.25 282.30,247.00 C282.12,244.75 281.88,241.50 281.90,238.00 C281.92,234.50 282.25,229.23 282.40,226.00 C282.55,222.77 283.50,220.57 282.80,218.60 C282.10,216.63 278.83,215.23 278.20,214.20 C277.57,213.17 278.37,212.47 279.00,212.40 C279.63,212.33 280.93,213.33 282.00,213.80 C283.07,214.27 284.50,215.50 285.40,215.20 C286.30,214.90 286.97,213.03 287.40,212.00 C287.83,210.97 287.77,210.08 288.00,209.00 C288.23,207.92 288.30,206.63 288.80,205.50 C289.30,204.37 290.08,203.02 291.00,202.20 C291.92,201.38 293.20,200.60 294.30,200.60Z" fill="#ece6cf" stroke="#d2c6a2" stroke-width="0.35"/>
<circle cx="309.8" cy="213.2" r="0.9" fill="#e8a49a"/>
<circle cx="279" cy="213.2" r="0.9" fill="#e8a49a"/>
<circle cx="309.6" cy="258.2" r="0.9" fill="#e8a49a"/>
<circle cx="279" cy="258.2" r="0.9" fill="#e8a49a"/>
<ellipse cx="296.3" cy="239" rx="5.0" ry="10.5" fill="#e9c6ad"/>
<circle cx="295.6" cy="231" r="0.25" fill="#777"/>
<circle cx="295.6" cy="233" r="0.25" fill="#777"/>
<circle cx="295.6" cy="235" r="0.25" fill="#777"/>
<circle cx="295.6" cy="237" r="0.25" fill="#777"/>
<circle cx="295.6" cy="239" r="0.25" fill="#777"/>
<circle cx="295.6" cy="241" r="0.25" fill="#777"/>
<circle cx="295.6" cy="243" r="0.25" fill="#777"/>
<circle cx="295.6" cy="245" r="0.25" fill="#777"/>
<circle cx="295.6" cy="247" r="0.25" fill="#777"/>
<circle cx="295.6" cy="249" r="0.25" fill="#777"/>
<line x1="293.8" y1="236.3" x2="314.2" y2="217.6" stroke="#8a8a8a" stroke-width="1.8"/>
<line x1="306" y1="224.7" x2="314.2" y2="217.6" stroke="#666" stroke-width="2.2"/>
<circle cx="289.4" cy="209.4" r="1.2" fill="#e8b0a6"/><circle cx="299.4" cy="209.4" r="1.2" fill="#e8b0a6"/>
<text x="349.6" y="144.2" font-size="11.8" fill="#111">D</text>
<line x1="354.7" y1="160.5" x2="354.7" y2="320.9" stroke="#1a1a1a" stroke-width="1.25"/>
<path d="M354.7,157.9 L356.7,161.9 L352.7,161.9 Z" fill="#111"/>
<line x1="354.7" y1="320.9" x2="541" y2="320.9" stroke="#555" stroke-width="1.3"/>
<path d="M543.9,320.9 L539.9,322.9 L539.9,318.9 Z" fill="#111"/>
<text x="351.5" y="213" font-size="7.7" text-anchor="middle" fill="#111" transform="rotate(-90 351.5 213)">CD335 : PerCP 5.5</text>
<text x="447.5" y="330.6" font-size="7.3" text-anchor="middle" fill="#111">CD49b : FITC</text>
<path d="M403.8 198.4h0.6v0.6h-0.6zM404.0 190.5h0.6v0.6h-0.6zM399.5 193.6h0.6v0.6h-0.6zM412.7 193.5h0.6v0.6h-0.6zM412.2 192.1h0.6v0.6h-0.6zM408.1 193.4h0.6v0.6h-0.6zM394.7 206.0h0.6v0.6h-0.6zM408.8 196.0h0.6v0.6h-0.6zM394.5 181.2h0.6v0.6h-0.6zM399.7 191.0h0.6v0.6h-0.6zM407.5 191.4h0.6v0.6h-0.6zM408.9 185.1h0.6v0.6h-0.6zM407.5 195.6h0.6v0.6h-0.6zM401.2 211.2h0.6v0.6h-0.6zM409.1 202.5h0.6v0.6h-0.6zM401.5 187.6h0.6v0.6h-0.6zM403.3 192.8h0.6v0.6h-0.6zM409.6 193.3h0.6v0.6h-0.6zM402.6 185.0h0.6v0.6h-0.6zM402.1 206.0h0.6v0.6h-0.6zM400.2 197.6h0.6v0.6h-0.6zM408.3 177.3h0.6v0.6h-0.6zM405.8 205.1h0.6v0.6h-0.6zM392.4 195.8h0.6v0.6h-0.6zM404.8 185.3h0.6v0.6h-0.6zM408.7 190.7h0.6v0.6h-0.6zM396.0 205.1h0.6v0.6h-0.6zM409.9 199.8h0.6v0.6h-0.6zM414.9 191.9h0.6v0.6h-0.6zM406.3 180.0h0.6v0.6h-0.6zM409.5 185.1h0.6v0.6h-0.6zM402.6 182.1h0.6v0.6h-0.6zM399.2 190.6h0.6v0.6h-0.6zM413.9 169.6h0.6v0.6h-0.6zM396.0 199.5h0.6v0.6h-0.6zM414.9 194.0h0.6v0.6h-0.6zM393.2 174.5h0.6v0.6h-0.6zM407.8 184.7h0.6v0.6h-0.6zM398.2 205.5h0.6v0.6h-0.6zM412.7 191.0h0.6v0.6h-0.6zM407.1 196.2h0.6v0.6h-0.6zM415.9 193.9h0.6v0.6h-0.6zM408.9 196.5h0.6v0.6h-0.6zM395.3 209.7h0.6v0.6h-0.6zM411.7 195.0h0.6v0.6h-0.6zM392.7 192.7h0.6v0.6h-0.6zM411.0 173.0h0.6v0.6h-0.6zM404.3 203.1h0.6v0.6h-0.6zM397.0 212.1h0.6v0.6h-0.6zM409.1 189.7h0.6v0.6h-0.6zM407.6 198.0h0.6v0.6h-0.6zM406.3 203.4h0.6v0.6h-0.6zM401.2 190.8h0.6v0.6h-0.6zM412.3 189.9h0.6v0.6h-0.6zM399.8 204.5h0.6v0.6h-0.6zM415.0 184.2h0.6v0.6h-0.6zM396.5 195.7h0.6v0.6h-0.6zM404.5 190.4h0.6v0.6h-0.6zM414.6 178.8h0.6v0.6h-0.6zM413.7 176.9h0.6v0.6h-0.6zM400.4 201.2h0.6v0.6h-0.6zM412.8 197.6h0.6v0.6h-0.6zM407.7 193.1h0.6v0.6h-0.6zM406.5 197.8h0.6v0.6h-0.6zM404.4 196.0h0.6v0.6h-0.6zM409.2 191.1h0.6v0.6h-0.6zM410.5 195.9h0.6v0.6h-0.6zM418.6 189.9h0.6v0.6h-0.6zM402.7 190.5h0.6v0.6h-0.6zM405.4 201.7h0.6v0.6h-0.6zM403.3 197.5h0.6v0.6h-0.6zM417.4 162.8h0.6v0.6h-0.6zM398.2 198.5h0.6v0.6h-0.6zM408.1 193.9h0.6v0.6h-0.6zM402.7 200.3h0.6v0.6h-0.6zM407.3 187.0h0.6v0.6h-0.6zM421.3 188.9h0.6v0.6h-0.6zM401.9 193.5h0.6v0.6h-0.6zM404.0 192.9h0.6v0.6h-0.6zM387.8 196.3h0.6v0.6h-0.6zM412.1 178.6h0.6v0.6h-0.6zM405.1 202.1h0.6v0.6h-0.6zM411.1 204.5h0.6v0.6h-0.6zM394.4 194.5h0.6v0.6h-0.6zM403.3 199.8h0.6v0.6h-0.6zM412.6 163.9h0.6v0.6h-0.6zM412.6 175.7h0.6v0.6h-0.6zM409.9 176.5h0.6v0.6h-0.6zM406.6 203.7h0.6v0.6h-0.6zM404.5 195.1h0.6v0.6h-0.6zM410.7 191.8h0.6v0.6h-0.6zM404.9 207.7h0.6v0.6h-0.6zM412.3 186.9h0.6v0.6h-0.6zM423.3 173.6h0.6v0.6h-0.6zM411.4 187.5h0.6v0.6h-0.6zM406.4 199.1h0.6v0.6h-0.6zM406.9 198.2h0.6v0.6h-0.6zM395.6 183.0h0.6v0.6h-0.6zM409.5 181.8h0.6v0.6h-0.6zM398.8 181.9h0.6v0.6h-0.6zM413.7 196.1h0.6v0.6h-0.6zM415.1 179.4h0.6v0.6h-0.6zM405.5 181.9h0.6v0.6h-0.6zM410.5 205.7h0.6v0.6h-0.6zM399.7 210.4h0.6v0.6h-0.6zM411.9 188.1h0.6v0.6h-0.6zM392.7 212.1h0.6v0.6h-0.6zM404.9 187.3h0.6v0.6h-0.6zM408.1 195.5h0.6v0.6h-0.6zM415.2 178.6h0.6v0.6h-0.6zM412.9 203.6h0.6v0.6h-0.6zM414.9 186.7h0.6v0.6h-0.6zM400.7 204.7h0.6v0.6h-0.6zM406.2 193.6h0.6v0.6h-0.6zM414.8 186.0h0.6v0.6h-0.6zM390.6 196.0h0.6v0.6h-0.6zM393.4 206.2h0.6v0.6h-0.6zM407.6 186.0h0.6v0.6h-0.6zM405.4 200.8h0.6v0.6h-0.6zM406.0 205.2h0.6v0.6h-0.6zM405.1 202.9h0.6v0.6h-0.6zM415.2 203.7h0.6v0.6h-0.6zM401.1 203.2h0.6v0.6h-0.6zM393.3 188.1h0.6v0.6h-0.6zM392.7 208.9h0.6v0.6h-0.6zM397.5 196.4h0.6v0.6h-0.6zM404.3 193.1h0.6v0.6h-0.6zM401.7 196.8h0.6v0.6h-0.6zM417.1 187.8h0.6v0.6h-0.6zM409.0 200.8h0.6v0.6h-0.6zM404.2 181.4h0.6v0.6h-0.6zM401.9 204.7h0.6v0.6h-0.6zM394.8 192.0h0.6v0.6h-0.6zM412.0 197.3h0.6v0.6h-0.6zM405.5 200.5h0.6v0.6h-0.6zM406.6 181.1h0.6v0.6h-0.6zM395.3 191.4h0.6v0.6h-0.6zM411.5 184.6h0.6v0.6h-0.6zM399.6 188.2h0.6v0.6h-0.6zM395.5 196.3h0.6v0.6h-0.6zM397.8 199.8h0.6v0.6h-0.6zM390.2 203.0h0.6v0.6h-0.6zM401.3 176.2h0.6v0.6h-0.6zM410.2 188.0h0.6v0.6h-0.6zM391.0 191.1h0.6v0.6h-0.6zM407.4 187.6h0.6v0.6h-0.6zM410.6 197.6h0.6v0.6h-0.6zM409.8 193.9h0.6v0.6h-0.6zM414.2 195.1h0.6v0.6h-0.6zM408.4 171.6h0.6v0.6h-0.6zM411.3 202.6h0.6v0.6h-0.6zM403.6 189.2h0.6v0.6h-0.6zM418.1 170.2h0.6v0.6h-0.6zM408.5 214.5h0.6v0.6h-0.6zM399.5 202.2h0.6v0.6h-0.6zM417.8 186.0h0.6v0.6h-0.6zM409.1 199.7h0.6v0.6h-0.6zM399.6 194.7h0.6v0.6h-0.6zM407.4 199.8h0.6v0.6h-0.6zM405.3 191.0h0.6v0.6h-0.6zM398.9 192.4h0.6v0.6h-0.6zM411.3 191.1h0.6v0.6h-0.6zM400.0 187.3h0.6v0.6h-0.6zM422.8 195.7h0.6v0.6h-0.6zM409.6 166.2h0.6v0.6h-0.6zM409.5 195.5h0.6v0.6h-0.6zM416.4 191.8h0.6v0.6h-0.6zM405.1 198.0h0.6v0.6h-0.6zM392.9 208.5h0.6v0.6h-0.6zM407.6 185.1h0.6v0.6h-0.6zM414.1 206.1h0.6v0.6h-0.6zM396.4 190.7h0.6v0.6h-0.6zM407.4 193.7h0.6v0.6h-0.6zM402.9 184.7h0.6v0.6h-0.6zM419.3 196.3h0.6v0.6h-0.6zM397.7 183.6h0.6v0.6h-0.6zM416.6 197.1h0.6v0.6h-0.6zM417.3 195.1h0.6v0.6h-0.6zM399.8 197.9h0.6v0.6h-0.6zM391.5 192.1h0.6v0.6h-0.6zM405.1 198.0h0.6v0.6h-0.6zM400.8 193.8h0.6v0.6h-0.6zM408.5 195.0h0.6v0.6h-0.6zM409.6 192.9h0.6v0.6h-0.6zM403.4 201.3h0.6v0.6h-0.6zM405.8 184.8h0.6v0.6h-0.6zM401.4 194.7h0.6v0.6h-0.6zM404.8 194.6h0.6v0.6h-0.6zM405.5 194.5h0.6v0.6h-0.6zM404.6 181.2h0.6v0.6h-0.6zM408.2 201.6h0.6v0.6h-0.6zM408.3 189.7h0.6v0.6h-0.6zM408.4 182.2h0.6v0.6h-0.6zM393.2 199.1h0.6v0.6h-0.6zM399.5 202.6h0.6v0.6h-0.6zM398.5 171.0h0.6v0.6h-0.6zM398.7 211.0h0.6v0.6h-0.6zM403.0 180.9h0.6v0.6h-0.6zM400.5 200.1h0.6v0.6h-0.6zM408.7 193.0h0.6v0.6h-0.6zM415.1 195.1h0.6v0.6h-0.6zM405.4 198.6h0.6v0.6h-0.6zM416.3 197.1h0.6v0.6h-0.6zM412.2 179.4h0.6v0.6h-0.6zM404.5 200.2h0.6v0.6h-0.6zM403.6 203.9h0.6v0.6h-0.6zM409.4 199.7h0.6v0.6h-0.6zM404.1 217.7h0.6v0.6h-0.6zM413.6 187.0h0.6v0.6h-0.6zM406.1 217.3h0.6v0.6h-0.6zM403.3 202.2h0.6v0.6h-0.6zM411.9 189.9h0.6v0.6h-0.6zM397.9 198.1h0.6v0.6h-0.6zM407.8 202.5h0.6v0.6h-0.6zM410.6 190.7h0.6v0.6h-0.6zM411.0 195.4h0.6v0.6h-0.6zM406.8 192.7h0.6v0.6h-0.6zM403.9 200.1h0.6v0.6h-0.6zM398.6 190.0h0.6v0.6h-0.6zM405.5 178.8h0.6v0.6h-0.6zM402.7 174.9h0.6v0.6h-0.6zM401.1 200.3h0.6v0.6h-0.6zM409.2 190.6h0.6v0.6h-0.6zM404.0 180.0h0.6v0.6h-0.6zM417.4 192.2h0.6v0.6h-0.6zM412.6 181.1h0.6v0.6h-0.6zM404.3 176.0h0.6v0.6h-0.6zM410.6 199.4h0.6v0.6h-0.6zM393.2 198.0h0.6v0.6h-0.6zM409.6 174.1h0.6v0.6h-0.6zM393.6 188.1h0.6v0.6h-0.6zM401.4 181.3h0.6v0.6h-0.6zM405.7 195.1h0.6v0.6h-0.6zM409.6 197.6h0.6v0.6h-0.6zM415.3 199.4h0.6v0.6h-0.6zM397.0 191.9h0.6v0.6h-0.6zM398.6 185.7h0.6v0.6h-0.6zM405.0 193.1h0.6v0.6h-0.6zM408.7 176.2h0.6v0.6h-0.6zM397.5 196.3h0.6v0.6h-0.6zM404.2 190.4h0.6v0.6h-0.6zM405.1 185.7h0.6v0.6h-0.6zM410.1 194.1h0.6v0.6h-0.6zM404.9 186.7h0.6v0.6h-0.6zM404.4 167.4h0.6v0.6h-0.6zM399.1 196.1h0.6v0.6h-0.6zM395.7 199.2h0.6v0.6h-0.6zM406.5 179.2h0.6v0.6h-0.6zM403.9 190.6h0.6v0.6h-0.6zM408.5 197.3h0.6v0.6h-0.6zM405.3 184.8h0.6v0.6h-0.6zM404.6 192.6h0.6v0.6h-0.6zM410.3 193.4h0.6v0.6h-0.6zM400.8 182.0h0.6v0.6h-0.6zM403.1 186.9h0.6v0.6h-0.6zM398.3 195.0h0.6v0.6h-0.6zM402.3 195.3h0.6v0.6h-0.6zM408.9 187.3h0.6v0.6h-0.6zM420.6 182.8h0.6v0.6h-0.6zM412.7 190.7h0.6v0.6h-0.6zM404.7 192.5h0.6v0.6h-0.6zM393.5 208.3h0.6v0.6h-0.6zM401.6 220.8h0.6v0.6h-0.6zM399.9 214.5h0.6v0.6h-0.6zM402.6 212.5h0.6v0.6h-0.6zM401.1 205.9h0.6v0.6h-0.6zM401.1 200.3h0.6v0.6h-0.6zM405.1 200.7h0.6v0.6h-0.6zM399.5 219.5h0.6v0.6h-0.6zM396.7 206.9h0.6v0.6h-0.6zM405.0 207.0h0.6v0.6h-0.6zM393.2 208.3h0.6v0.6h-0.6zM401.5 211.1h0.6v0.6h-0.6zM393.4 217.3h0.6v0.6h-0.6zM408.0 206.9h0.6v0.6h-0.6zM399.6 204.2h0.6v0.6h-0.6zM406.5 202.6h0.6v0.6h-0.6zM402.0 203.9h0.6v0.6h-0.6zM393.8 211.1h0.6v0.6h-0.6zM406.0 206.7h0.6v0.6h-0.6zM393.9 211.7h0.6v0.6h-0.6zM397.7 208.7h0.6v0.6h-0.6zM407.1 213.6h0.6v0.6h-0.6zM394.9 220.5h0.6v0.6h-0.6zM398.0 211.5h0.6v0.6h-0.6zM394.1 206.5h0.6v0.6h-0.6zM387.5 217.5h0.6v0.6h-0.6zM406.2 199.5h0.6v0.6h-0.6zM389.0 197.1h0.6v0.6h-0.6zM405.1 204.0h0.6v0.6h-0.6zM397.6 204.9h0.6v0.6h-0.6zM397.3 200.3h0.6v0.6h-0.6zM398.1 198.2h0.6v0.6h-0.6zM397.6 208.7h0.6v0.6h-0.6zM400.8 205.4h0.6v0.6h-0.6zM392.6 207.8h0.6v0.6h-0.6zM395.1 216.2h0.6v0.6h-0.6zM402.6 206.1h0.6v0.6h-0.6zM395.2 202.6h0.6v0.6h-0.6zM392.4 204.7h0.6v0.6h-0.6zM399.8 209.9h0.6v0.6h-0.6zM401.4 219.4h0.6v0.6h-0.6zM393.8 206.9h0.6v0.6h-0.6zM414.8 195.6h0.6v0.6h-0.6zM394.9 207.8h0.6v0.6h-0.6zM398.9 209.2h0.6v0.6h-0.6zM396.6 209.0h0.6v0.6h-0.6zM398.3 211.4h0.6v0.6h-0.6zM386.6 201.5h0.6v0.6h-0.6zM398.0 200.6h0.6v0.6h-0.6zM391.7 210.6h0.6v0.6h-0.6zM394.1 210.6h0.6v0.6h-0.6zM402.5 208.6h0.6v0.6h-0.6zM401.0 206.2h0.6v0.6h-0.6zM389.5 206.6h0.6v0.6h-0.6zM400.7 203.6h0.6v0.6h-0.6zM397.4 211.3h0.6v0.6h-0.6zM392.7 210.6h0.6v0.6h-0.6zM409.2 203.5h0.6v0.6h-0.6zM398.9 205.9h0.6v0.6h-0.6zM407.2 208.7h0.6v0.6h-0.6zM403.4 202.7h0.6v0.6h-0.6zM397.9 206.7h0.6v0.6h-0.6zM387.3 215.4h0.6v0.6h-0.6zM403.4 196.3h0.6v0.6h-0.6zM402.5 206.0h0.6v0.6h-0.6zM400.7 209.0h0.6v0.6h-0.6zM389.0 205.5h0.6v0.6h-0.6zM407.0 203.4h0.6v0.6h-0.6zM391.9 198.6h0.6v0.6h-0.6zM390.7 208.8h0.6v0.6h-0.6zM408.2 209.4h0.6v0.6h-0.6zM399.5 220.2h0.6v0.6h-0.6zM394.9 202.8h0.6v0.6h-0.6zM401.2 210.1h0.6v0.6h-0.6zM391.9 199.8h0.6v0.6h-0.6zM399.7 208.3h0.6v0.6h-0.6zM390.2 205.6h0.6v0.6h-0.6zM394.7 209.6h0.6v0.6h-0.6zM397.3 206.3h0.6v0.6h-0.6zM395.9 213.1h0.6v0.6h-0.6zM406.3 204.6h0.6v0.6h-0.6zM403.1 202.3h0.6v0.6h-0.6zM398.4 211.3h0.6v0.6h-0.6zM407.1 204.5h0.6v0.6h-0.6zM397.6 208.0h0.6v0.6h-0.6zM389.0 206.9h0.6v0.6h-0.6zM393.9 209.0h0.6v0.6h-0.6zM391.2 194.9h0.6v0.6h-0.6zM398.2 208.4h0.6v0.6h-0.6zM394.7 212.1h0.6v0.6h-0.6zM396.4 203.2h0.6v0.6h-0.6zM400.9 197.4h0.6v0.6h-0.6zM393.9 206.7h0.6v0.6h-0.6zM403.1 205.8h0.6v0.6h-0.6zM399.9 202.9h0.6v0.6h-0.6zM399.8 216.8h0.6v0.6h-0.6zM393.9 221.0h0.6v0.6h-0.6zM394.1 206.9h0.6v0.6h-0.6zM399.0 212.9h0.6v0.6h-0.6zM390.6 194.2h0.6v0.6h-0.6zM401.6 211.6h0.6v0.6h-0.6zM401.7 222.6h0.6v0.6h-0.6zM399.2 208.3h0.6v0.6h-0.6zM403.6 209.0h0.6v0.6h-0.6zM408.0 199.4h0.6v0.6h-0.6zM395.7 186.1h0.6v0.6h-0.6zM402.9 204.6h0.6v0.6h-0.6zM403.5 219.7h0.6v0.6h-0.6zM398.0 205.3h0.6v0.6h-0.6zM395.0 201.8h0.6v0.6h-0.6zM394.2 210.6h0.6v0.6h-0.6zM398.2 207.2h0.6v0.6h-0.6zM397.0 212.3h0.6v0.6h-0.6zM401.0 205.9h0.6v0.6h-0.6zM402.0 205.9h0.6v0.6h-0.6zM391.1 215.5h0.6v0.6h-0.6zM400.8 201.1h0.6v0.6h-0.6zM404.5 208.9h0.6v0.6h-0.6zM388.6 216.5h0.6v0.6h-0.6zM410.7 212.5h0.6v0.6h-0.6zM408.8 200.0h0.6v0.6h-0.6zM384.3 213.5h0.6v0.6h-0.6zM406.4 198.4h0.6v0.6h-0.6zM410.9 202.7h0.6v0.6h-0.6zM415.5 197.3h0.6v0.6h-0.6zM405.5 176.1h0.6v0.6h-0.6zM400.1 209.9h0.6v0.6h-0.6zM424.7 197.4h0.6v0.6h-0.6zM404.3 220.8h0.6v0.6h-0.6zM401.4 210.6h0.6v0.6h-0.6zM429.5 202.3h0.6v0.6h-0.6zM423.2 193.3h0.6v0.6h-0.6zM408.9 200.9h0.6v0.6h-0.6zM407.6 215.4h0.6v0.6h-0.6zM439.5 193.8h0.6v0.6h-0.6zM397.9 207.8h0.6v0.6h-0.6zM391.2 207.8h0.6v0.6h-0.6zM414.0 198.5h0.6v0.6h-0.6zM413.4 183.2h0.6v0.6h-0.6zM416.6 183.3h0.6v0.6h-0.6zM396.2 195.1h0.6v0.6h-0.6zM400.4 212.1h0.6v0.6h-0.6zM407.1 197.0h0.6v0.6h-0.6zM413.6 220.8h0.6v0.6h-0.6zM406.1 206.2h0.6v0.6h-0.6zM423.4 205.0h0.6v0.6h-0.6zM436.9 178.0h0.6v0.6h-0.6zM405.5 206.8h0.6v0.6h-0.6zM419.5 209.8h0.6v0.6h-0.6zM402.2 189.2h0.6v0.6h-0.6zM407.4 214.2h0.6v0.6h-0.6zM390.7 189.5h0.6v0.6h-0.6zM405.7 178.6h0.6v0.6h-0.6zM402.4 196.6h0.6v0.6h-0.6zM412.3 193.4h0.6v0.6h-0.6zM393.7 197.1h0.6v0.6h-0.6zM405.3 193.8h0.6v0.6h-0.6zM406.2 210.8h0.6v0.6h-0.6zM422.6 222.3h0.6v0.6h-0.6zM395.0 196.8h0.6v0.6h-0.6zM395.9 201.4h0.6v0.6h-0.6zM413.3 185.5h0.6v0.6h-0.6zM412.5 201.5h0.6v0.6h-0.6zM380.4 205.3h0.6v0.6h-0.6zM422.7 179.4h0.6v0.6h-0.6zM417.3 204.3h0.6v0.6h-0.6zM412.6 207.1h0.6v0.6h-0.6zM424.3 199.1h0.6v0.6h-0.6zM418.2 196.9h0.6v0.6h-0.6zM416.2 192.0h0.6v0.6h-0.6zM404.5 222.6h0.6v0.6h-0.6zM412.2 199.9h0.6v0.6h-0.6zM390.0 192.3h0.6v0.6h-0.6zM408.7 213.1h0.6v0.6h-0.6zM412.0 208.1h0.6v0.6h-0.6zM405.4 218.0h0.6v0.6h-0.6zM400.5 195.2h0.6v0.6h-0.6z" fill="#2b2bff"/>
<ellipse cx="405.5" cy="193.3" rx="6.6" ry="10.4" fill="#1c1cf4" fill-opacity="0.95" filter="url(#b15)" transform="rotate(-12 405.5 193.3)"/>
<ellipse cx="399" cy="204.3" rx="5.2" ry="6.5" fill="#1c1cf4" fill-opacity="0.95" filter="url(#b12)" transform="rotate(-30 399 204.3)"/>
<ellipse cx="398.5" cy="196.8" rx="3.6" ry="7.5" fill="#2222f0" fill-opacity="0.75" filter="url(#b15)" transform="rotate(-15 398.5 196.8)"/>
<ellipse cx="395.2" cy="210.4" rx="5.6" ry="7.0" fill="#1530ff" filter="url(#b08)" transform="rotate(-25 395.2 210.4)"/>
<ellipse cx="394.8" cy="211" rx="4.0" ry="5.4" fill="#22c8f5" filter="url(#b06)" transform="rotate(-20 394.8 211)"/>
<ellipse cx="394.6" cy="211.3" rx="2.7" ry="3.4" fill="#40e070" filter="url(#b04)"/>
<circle cx="394.5" cy="211.5" r="1.3" fill="#f0e030" filter="url(#b04)"/>
<circle cx="394.4" cy="211.7" r="0.6" fill="#f03020"/>
<rect x="376" y="157.4" width="71.3" height="70.8" fill="none" stroke="#a0a0a0" stroke-width="0.7"/>
<rect x="397.3" y="162.4" width="30.2" height="42.3" fill="none" stroke="#5a5a5a" stroke-width="0.6"/>
<rect x="414" y="205.6" width="33.6" height="5.8" fill="#fff" stroke="#bbb" stroke-width="0.35"/>
<text x="415" y="209.9" font-size="4.6" textLength="31.2" lengthAdjust="spacingAndGlyphs" stroke="#333" stroke-width="0.06" fill="#333">CD335+ CD49b+</text>
<text x="411" y="169.3" font-size="6.1" stroke="#2a2a2a" stroke-width="0.18" text-anchor="middle" fill="#2a2a2a">13.79%</text>
<text x="382.8" y="223.8" font-size="6.9" textLength="49.5" lengthAdjust="spacingAndGlyphs" stroke="#2a2a2a" stroke-width="0.15" fill="#2a2a2a">SD no treatment</text>
<text x="374.8" y="164.3" font-size="2.8" text-anchor="end" fill="#333">10⁵</text>
<line x1="375.1" y1="163.3" x2="376" y2="163.3" stroke="#888" stroke-width="0.35"/>
<text x="374.8" y="181.4" font-size="2.8" text-anchor="end" fill="#333">10⁴</text>
<line x1="375.1" y1="180.4" x2="376" y2="180.4" stroke="#888" stroke-width="0.35"/>
<text x="374.8" y="199.5" font-size="2.8" text-anchor="end" fill="#333">10³</text>
<line x1="375.1" y1="198.5" x2="376" y2="198.5" stroke="#888" stroke-width="0.35"/>
<text x="374.8" y="205.8" font-size="2.8" text-anchor="end" fill="#333">500</text>
<line x1="375.1" y1="204.8" x2="376" y2="204.8" stroke="#888" stroke-width="0.35"/>
<text x="374.8" y="216.4" font-size="2.8" text-anchor="end" fill="#333">0</text>
<line x1="375.1" y1="215.4" x2="376" y2="215.4" stroke="#888" stroke-width="0.35"/>
<text x="374.8" y="226.7" font-size="2.8" text-anchor="end" fill="#333">-500</text>
<line x1="375.1" y1="225.7" x2="376" y2="225.7" stroke="#888" stroke-width="0.35"/>
<text x="377.2" y="233.4" font-size="2.8" text-anchor="middle" fill="#333">-2000</text>
<line x1="377.2" y1="228.2" x2="377.2" y2="229.1" stroke="#888" stroke-width="0.35"/>
<text x="392.2" y="233.4" font-size="2.8" text-anchor="middle" fill="#333">0</text>
<line x1="392.2" y1="228.2" x2="392.2" y2="229.1" stroke="#888" stroke-width="0.35"/>
<text x="408.9" y="233.4" font-size="2.8" text-anchor="middle" fill="#333">2000</text>
<line x1="408.9" y1="228.2" x2="408.9" y2="229.1" stroke="#888" stroke-width="0.35"/>
<text x="424" y="233.4" font-size="2.8" text-anchor="middle" fill="#333">10⁴</text>
<line x1="424" y1="228.2" x2="424" y2="229.1" stroke="#888" stroke-width="0.35"/>
<text x="440" y="233.4" font-size="2.8" text-anchor="middle" fill="#333">10⁵</text>
<line x1="440" y1="228.2" x2="440" y2="229.1" stroke="#888" stroke-width="0.35"/>
<path d="M501.9 190.7h0.6v0.6h-0.6zM494.3 188.1h0.6v0.6h-0.6zM494.4 199.5h0.6v0.6h-0.6zM498.4 180.2h0.6v0.6h-0.6zM498.9 193.2h0.6v0.6h-0.6zM489.6 203.2h0.6v0.6h-0.6zM494.3 190.4h0.6v0.6h-0.6zM501.3 203.0h0.6v0.6h-0.6zM491.6 199.0h0.6v0.6h-0.6zM490.4 217.5h0.6v0.6h-0.6zM492.9 205.7h0.6v0.6h-0.6zM491.9 202.5h0.6v0.6h-0.6zM510.5 161.9h0.6v0.6h-0.6zM493.3 198.9h0.6v0.6h-0.6zM495.5 186.7h0.6v0.6h-0.6zM510.1 187.1h0.6v0.6h-0.6zM485.4 205.9h0.6v0.6h-0.6zM484.9 208.9h0.6v0.6h-0.6zM492.3 195.9h0.6v0.6h-0.6zM504.3 190.1h0.6v0.6h-0.6zM487.1 180.8h0.6v0.6h-0.6zM503.8 196.3h0.6v0.6h-0.6zM490.8 203.4h0.6v0.6h-0.6zM499.3 197.5h0.6v0.6h-0.6zM481.4 196.7h0.6v0.6h-0.6zM502.0 197.1h0.6v0.6h-0.6zM501.8 166.7h0.6v0.6h-0.6zM497.2 197.0h0.6v0.6h-0.6zM512.7 176.0h0.6v0.6h-0.6zM494.0 194.1h0.6v0.6h-0.6zM501.9 185.9h0.6v0.6h-0.6zM503.6 181.8h0.6v0.6h-0.6zM497.8 187.0h0.6v0.6h-0.6zM497.1 185.7h0.6v0.6h-0.6zM485.7 208.0h0.6v0.6h-0.6zM498.1 186.6h0.6v0.6h-0.6zM497.4 201.6h0.6v0.6h-0.6zM489.7 194.7h0.6v0.6h-0.6zM499.6 196.2h0.6v0.6h-0.6zM493.9 173.7h0.6v0.6h-0.6zM504.2 192.2h0.6v0.6h-0.6zM496.2 190.1h0.6v0.6h-0.6zM497.8 187.9h0.6v0.6h-0.6zM489.4 188.8h0.6v0.6h-0.6zM492.2 188.7h0.6v0.6h-0.6zM488.6 202.3h0.6v0.6h-0.6zM487.6 203.0h0.6v0.6h-0.6zM489.5 199.2h0.6v0.6h-0.6zM505.0 190.6h0.6v0.6h-0.6zM491.3 195.5h0.6v0.6h-0.6zM497.1 175.8h0.6v0.6h-0.6zM492.2 196.2h0.6v0.6h-0.6zM493.1 195.0h0.6v0.6h-0.6zM500.9 197.9h0.6v0.6h-0.6zM502.0 195.7h0.6v0.6h-0.6zM494.2 193.5h0.6v0.6h-0.6zM494.3 190.6h0.6v0.6h-0.6zM494.9 176.9h0.6v0.6h-0.6zM493.9 193.6h0.6v0.6h-0.6zM489.8 195.5h0.6v0.6h-0.6zM499.5 189.7h0.6v0.6h-0.6zM509.6 161.7h0.6v0.6h-0.6zM494.8 176.0h0.6v0.6h-0.6zM502.5 215.2h0.6v0.6h-0.6zM479.8 201.5h0.6v0.6h-0.6zM499.5 188.4h0.6v0.6h-0.6zM499.7 169.7h0.6v0.6h-0.6zM501.6 193.8h0.6v0.6h-0.6zM496.2 187.1h0.6v0.6h-0.6zM500.2 186.3h0.6v0.6h-0.6zM497.6 187.3h0.6v0.6h-0.6zM481.5 199.2h0.6v0.6h-0.6zM497.4 199.4h0.6v0.6h-0.6zM490.4 195.1h0.6v0.6h-0.6zM500.1 192.3h0.6v0.6h-0.6zM504.2 208.1h0.6v0.6h-0.6zM490.2 177.2h0.6v0.6h-0.6zM501.7 204.8h0.6v0.6h-0.6zM502.1 197.8h0.6v0.6h-0.6zM492.1 187.8h0.6v0.6h-0.6zM501.9 181.4h0.6v0.6h-0.6zM484.3 188.7h0.6v0.6h-0.6zM512.3 203.7h0.6v0.6h-0.6zM491.6 187.9h0.6v0.6h-0.6zM497.6 185.0h0.6v0.6h-0.6zM504.6 188.1h0.6v0.6h-0.6zM489.0 208.5h0.6v0.6h-0.6zM492.3 196.7h0.6v0.6h-0.6zM496.0 189.8h0.6v0.6h-0.6zM498.2 185.2h0.6v0.6h-0.6zM484.1 177.3h0.6v0.6h-0.6zM487.9 189.4h0.6v0.6h-0.6zM496.0 193.4h0.6v0.6h-0.6zM499.7 192.3h0.6v0.6h-0.6zM490.9 188.4h0.6v0.6h-0.6zM482.3 197.5h0.6v0.6h-0.6zM499.3 196.4h0.6v0.6h-0.6zM495.3 191.5h0.6v0.6h-0.6zM502.2 190.1h0.6v0.6h-0.6zM500.9 196.1h0.6v0.6h-0.6zM497.5 204.6h0.6v0.6h-0.6zM492.4 191.1h0.6v0.6h-0.6zM490.8 187.6h0.6v0.6h-0.6zM506.2 204.9h0.6v0.6h-0.6zM496.2 198.2h0.6v0.6h-0.6zM503.7 197.0h0.6v0.6h-0.6zM503.9 177.1h0.6v0.6h-0.6zM491.9 199.0h0.6v0.6h-0.6zM505.4 189.5h0.6v0.6h-0.6zM490.5 192.0h0.6v0.6h-0.6zM491.8 186.6h0.6v0.6h-0.6zM505.9 182.3h0.6v0.6h-0.6zM496.2 213.4h0.6v0.6h-0.6zM503.8 192.5h0.6v0.6h-0.6zM492.1 198.5h0.6v0.6h-0.6zM506.6 193.9h0.6v0.6h-0.6zM504.3 190.0h0.6v0.6h-0.6zM499.5 189.3h0.6v0.6h-0.6zM498.9 203.9h0.6v0.6h-0.6zM486.8 196.5h0.6v0.6h-0.6zM497.7 186.6h0.6v0.6h-0.6zM494.1 201.2h0.6v0.6h-0.6zM509.1 192.8h0.6v0.6h-0.6zM498.2 177.0h0.6v0.6h-0.6zM508.6 187.8h0.6v0.6h-0.6zM495.9 182.2h0.6v0.6h-0.6zM495.7 182.5h0.6v0.6h-0.6zM496.6 197.0h0.6v0.6h-0.6zM496.3 195.4h0.6v0.6h-0.6zM490.6 209.0h0.6v0.6h-0.6zM491.9 177.4h0.6v0.6h-0.6zM494.9 186.1h0.6v0.6h-0.6zM489.5 192.4h0.6v0.6h-0.6zM498.0 180.7h0.6v0.6h-0.6zM495.2 206.8h0.6v0.6h-0.6zM500.5 189.3h0.6v0.6h-0.6zM496.9 191.3h0.6v0.6h-0.6zM495.8 199.9h0.6v0.6h-0.6zM495.5 170.1h0.6v0.6h-0.6zM496.0 184.4h0.6v0.6h-0.6zM500.3 185.0h0.6v0.6h-0.6zM497.1 213.1h0.6v0.6h-0.6zM489.3 185.2h0.6v0.6h-0.6zM486.9 174.2h0.6v0.6h-0.6zM483.9 201.9h0.6v0.6h-0.6zM492.0 176.9h0.6v0.6h-0.6zM486.5 203.1h0.6v0.6h-0.6zM491.1 191.6h0.6v0.6h-0.6zM498.2 204.7h0.6v0.6h-0.6zM508.7 196.8h0.6v0.6h-0.6zM497.0 194.1h0.6v0.6h-0.6zM507.8 201.0h0.6v0.6h-0.6zM494.1 198.1h0.6v0.6h-0.6zM498.0 192.4h0.6v0.6h-0.6zM492.8 181.6h0.6v0.6h-0.6zM492.6 179.7h0.6v0.6h-0.6zM504.1 194.2h0.6v0.6h-0.6zM488.3 209.7h0.6v0.6h-0.6zM501.9 171.9h0.6v0.6h-0.6zM508.1 195.0h0.6v0.6h-0.6zM509.5 174.9h0.6v0.6h-0.6zM499.5 195.2h0.6v0.6h-0.6zM497.4 193.8h0.6v0.6h-0.6zM502.9 175.4h0.6v0.6h-0.6zM488.0 183.2h0.6v0.6h-0.6zM492.5 188.7h0.6v0.6h-0.6zM498.5 194.2h0.6v0.6h-0.6zM496.3 186.3h0.6v0.6h-0.6zM493.2 203.2h0.6v0.6h-0.6zM501.1 191.5h0.6v0.6h-0.6zM494.0 208.6h0.6v0.6h-0.6zM492.2 200.8h0.6v0.6h-0.6zM503.6 186.8h0.6v0.6h-0.6zM501.5 179.7h0.6v0.6h-0.6zM502.7 191.7h0.6v0.6h-0.6zM485.8 203.9h0.6v0.6h-0.6zM490.3 207.7h0.6v0.6h-0.6zM491.7 193.3h0.6v0.6h-0.6zM497.9 188.8h0.6v0.6h-0.6zM497.8 186.7h0.6v0.6h-0.6zM500.5 190.8h0.6v0.6h-0.6zM497.5 165.9h0.6v0.6h-0.6zM503.6 189.6h0.6v0.6h-0.6zM484.5 199.1h0.6v0.6h-0.6zM499.1 201.6h0.6v0.6h-0.6zM489.1 210.8h0.6v0.6h-0.6zM495.1 216.1h0.6v0.6h-0.6zM495.1 199.7h0.6v0.6h-0.6zM493.7 183.3h0.6v0.6h-0.6zM503.2 198.2h0.6v0.6h-0.6zM506.1 196.4h0.6v0.6h-0.6zM492.4 178.7h0.6v0.6h-0.6zM491.9 188.3h0.6v0.6h-0.6zM490.8 200.8h0.6v0.6h-0.6zM498.2 189.2h0.6v0.6h-0.6zM497.2 190.9h0.6v0.6h-0.6zM497.5 199.3h0.6v0.6h-0.6zM502.3 183.4h0.6v0.6h-0.6zM486.3 210.9h0.6v0.6h-0.6zM496.8 203.0h0.6v0.6h-0.6zM485.4 194.6h0.6v0.6h-0.6zM496.3 179.0h0.6v0.6h-0.6zM492.7 201.3h0.6v0.6h-0.6zM503.1 204.8h0.6v0.6h-0.6zM490.5 182.0h0.6v0.6h-0.6zM499.5 200.2h0.6v0.6h-0.6zM497.4 179.8h0.6v0.6h-0.6zM501.2 198.0h0.6v0.6h-0.6zM499.7 186.5h0.6v0.6h-0.6zM498.1 199.4h0.6v0.6h-0.6zM492.5 176.9h0.6v0.6h-0.6zM498.2 196.4h0.6v0.6h-0.6zM496.2 201.2h0.6v0.6h-0.6zM492.3 193.8h0.6v0.6h-0.6zM494.1 199.2h0.6v0.6h-0.6zM506.5 185.6h0.6v0.6h-0.6zM509.5 201.2h0.6v0.6h-0.6zM501.2 196.0h0.6v0.6h-0.6zM507.6 185.8h0.6v0.6h-0.6zM495.4 183.0h0.6v0.6h-0.6zM499.2 204.2h0.6v0.6h-0.6zM491.8 209.3h0.6v0.6h-0.6zM487.4 207.8h0.6v0.6h-0.6zM480.0 213.1h0.6v0.6h-0.6zM486.1 200.2h0.6v0.6h-0.6zM484.1 201.9h0.6v0.6h-0.6zM493.7 213.1h0.6v0.6h-0.6zM480.5 212.4h0.6v0.6h-0.6zM493.9 203.3h0.6v0.6h-0.6zM479.7 202.3h0.6v0.6h-0.6zM484.8 208.9h0.6v0.6h-0.6zM486.5 194.6h0.6v0.6h-0.6zM490.0 197.6h0.6v0.6h-0.6zM494.0 199.6h0.6v0.6h-0.6zM484.4 201.7h0.6v0.6h-0.6zM485.3 214.6h0.6v0.6h-0.6zM493.7 210.4h0.6v0.6h-0.6zM490.5 197.5h0.6v0.6h-0.6zM485.5 203.5h0.6v0.6h-0.6zM482.7 209.9h0.6v0.6h-0.6zM484.2 202.5h0.6v0.6h-0.6zM482.3 194.5h0.6v0.6h-0.6zM492.2 214.8h0.6v0.6h-0.6zM489.6 200.9h0.6v0.6h-0.6zM472.4 207.8h0.6v0.6h-0.6zM495.9 208.6h0.6v0.6h-0.6zM494.2 215.7h0.6v0.6h-0.6zM495.4 204.2h0.6v0.6h-0.6zM494.9 211.5h0.6v0.6h-0.6zM479.4 204.4h0.6v0.6h-0.6zM480.1 206.1h0.6v0.6h-0.6zM492.1 200.4h0.6v0.6h-0.6zM476.3 214.6h0.6v0.6h-0.6zM490.9 215.6h0.6v0.6h-0.6zM480.7 213.2h0.6v0.6h-0.6zM501.0 218.8h0.6v0.6h-0.6zM487.3 208.4h0.6v0.6h-0.6zM487.7 212.8h0.6v0.6h-0.6zM494.8 207.3h0.6v0.6h-0.6zM480.4 211.2h0.6v0.6h-0.6zM485.8 210.6h0.6v0.6h-0.6zM490.2 216.5h0.6v0.6h-0.6zM495.4 204.1h0.6v0.6h-0.6zM490.7 217.4h0.6v0.6h-0.6zM485.4 209.4h0.6v0.6h-0.6zM495.7 214.3h0.6v0.6h-0.6zM491.7 198.9h0.6v0.6h-0.6zM481.0 208.3h0.6v0.6h-0.6zM490.9 222.1h0.6v0.6h-0.6zM483.4 213.6h0.6v0.6h-0.6zM493.2 196.8h0.6v0.6h-0.6zM483.7 207.8h0.6v0.6h-0.6zM485.6 205.9h0.6v0.6h-0.6zM491.4 201.9h0.6v0.6h-0.6zM491.4 203.0h0.6v0.6h-0.6zM485.3 210.0h0.6v0.6h-0.6zM485.2 208.5h0.6v0.6h-0.6zM498.2 207.0h0.6v0.6h-0.6zM487.7 211.2h0.6v0.6h-0.6zM486.4 213.3h0.6v0.6h-0.6zM480.9 210.5h0.6v0.6h-0.6zM485.5 202.0h0.6v0.6h-0.6zM499.2 201.7h0.6v0.6h-0.6zM499.1 210.7h0.6v0.6h-0.6zM497.3 200.9h0.6v0.6h-0.6zM495.8 215.5h0.6v0.6h-0.6zM487.9 206.0h0.6v0.6h-0.6zM503.3 207.9h0.6v0.6h-0.6zM486.1 203.0h0.6v0.6h-0.6zM491.3 208.8h0.6v0.6h-0.6zM489.7 217.1h0.6v0.6h-0.6zM486.6 209.6h0.6v0.6h-0.6zM497.4 200.8h0.6v0.6h-0.6zM494.8 217.8h0.6v0.6h-0.6zM480.5 200.2h0.6v0.6h-0.6zM482.4 195.7h0.6v0.6h-0.6zM491.3 195.7h0.6v0.6h-0.6zM491.6 215.5h0.6v0.6h-0.6zM478.9 204.9h0.6v0.6h-0.6zM477.1 211.5h0.6v0.6h-0.6zM484.2 205.2h0.6v0.6h-0.6zM488.9 210.1h0.6v0.6h-0.6zM486.5 206.9h0.6v0.6h-0.6zM485.3 207.5h0.6v0.6h-0.6zM481.6 207.2h0.6v0.6h-0.6zM477.0 203.9h0.6v0.6h-0.6zM500.1 207.3h0.6v0.6h-0.6zM481.0 208.3h0.6v0.6h-0.6zM482.8 196.9h0.6v0.6h-0.6zM484.2 211.2h0.6v0.6h-0.6zM490.9 206.2h0.6v0.6h-0.6zM483.0 200.3h0.6v0.6h-0.6zM496.7 208.3h0.6v0.6h-0.6zM482.9 194.1h0.6v0.6h-0.6zM480.4 221.7h0.6v0.6h-0.6zM481.7 206.3h0.6v0.6h-0.6zM489.9 205.9h0.6v0.6h-0.6zM486.9 198.6h0.6v0.6h-0.6zM482.3 216.9h0.6v0.6h-0.6zM484.1 211.9h0.6v0.6h-0.6zM478.4 205.2h0.6v0.6h-0.6zM490.2 213.0h0.6v0.6h-0.6zM481.9 210.4h0.6v0.6h-0.6zM502.0 192.9h0.6v0.6h-0.6zM503.3 191.0h0.6v0.6h-0.6zM485.5 201.6h0.6v0.6h-0.6zM482.6 184.2h0.6v0.6h-0.6zM490.6 211.0h0.6v0.6h-0.6zM490.9 217.0h0.6v0.6h-0.6zM480.4 186.1h0.6v0.6h-0.6zM518.3 206.6h0.6v0.6h-0.6zM509.8 191.9h0.6v0.6h-0.6zM507.9 204.9h0.6v0.6h-0.6zM505.7 202.1h0.6v0.6h-0.6zM513.5 194.0h0.6v0.6h-0.6zM483.1 184.1h0.6v0.6h-0.6zM512.8 192.9h0.6v0.6h-0.6zM482.0 190.5h0.6v0.6h-0.6zM490.4 186.5h0.6v0.6h-0.6zM492.5 194.3h0.6v0.6h-0.6zM488.9 190.3h0.6v0.6h-0.6zM497.1 196.3h0.6v0.6h-0.6zM498.2 204.8h0.6v0.6h-0.6zM501.4 175.5h0.6v0.6h-0.6zM489.1 192.2h0.6v0.6h-0.6zM507.4 182.9h0.6v0.6h-0.6zM486.6 198.3h0.6v0.6h-0.6zM491.9 213.7h0.6v0.6h-0.6zM490.4 213.4h0.6v0.6h-0.6zM476.1 180.1h0.6v0.6h-0.6zM513.7 207.0h0.6v0.6h-0.6zM503.4 203.3h0.6v0.6h-0.6zM503.4 187.2h0.6v0.6h-0.6zM509.9 195.4h0.6v0.6h-0.6zM510.4 202.9h0.6v0.6h-0.6zM469.0 186.4h0.6v0.6h-0.6zM512.4 200.2h0.6v0.6h-0.6zM491.1 204.7h0.6v0.6h-0.6zM490.6 195.3h0.6v0.6h-0.6zM498.0 203.5h0.6v0.6h-0.6zM517.8 202.3h0.6v0.6h-0.6zM522.9 223.4h0.6v0.6h-0.6zM520.6 214.5h0.6v0.6h-0.6zM498.4 203.4h0.6v0.6h-0.6zM494.6 193.0h0.6v0.6h-0.6zM495.7 194.1h0.6v0.6h-0.6zM519.6 208.2h0.6v0.6h-0.6zM490.3 178.8h0.6v0.6h-0.6zM495.9 196.8h0.6v0.6h-0.6zM481.4 188.2h0.6v0.6h-0.6zM496.2 200.0h0.6v0.6h-0.6zM516.8 203.4h0.6v0.6h-0.6zM498.9 197.3h0.6v0.6h-0.6zM488.1 219.8h0.6v0.6h-0.6zM510.6 222.4h0.6v0.6h-0.6zM491.7 202.2h0.6v0.6h-0.6zM484.3 213.4h0.6v0.6h-0.6zM477.1 208.6h0.6v0.6h-0.6zM511.9 218.7h0.6v0.6h-0.6zM483.4 214.9h0.6v0.6h-0.6z" fill="#2b2bff"/>
<ellipse cx="496.1" cy="193.3" rx="6.6" ry="10.4" fill="#1c1cf4" fill-opacity="0.85" filter="url(#b15)" transform="rotate(-12 496.1 193.3)"/>
<ellipse cx="489.6" cy="204.3" rx="5.2" ry="6.5" fill="#1c1cf4" fill-opacity="0.85" filter="url(#b12)" transform="rotate(-30 489.6 204.3)"/>
<ellipse cx="489.1" cy="196.8" rx="3.6" ry="7.5" fill="#2222f0" fill-opacity="0.75" filter="url(#b15)" transform="rotate(-15 489.1 196.8)"/>
<ellipse cx="485.8" cy="210.4" rx="5.6" ry="7.0" fill="#1530ff" filter="url(#b08)" transform="rotate(-25 485.8 210.4)"/>
<ellipse cx="485.4" cy="211" rx="4.0" ry="5.4" fill="#22c8f5" filter="url(#b06)" transform="rotate(-20 485.4 211)"/>
<ellipse cx="485.2" cy="211.3" rx="2.7" ry="3.4" fill="#40e070" filter="url(#b04)"/>
<circle cx="485.1" cy="211.5" r="1.3" fill="#f0e030" filter="url(#b04)"/>
<circle cx="485" cy="211.7" r="0.6" fill="#f03020"/>
<rect x="466.6" y="157.4" width="71.3" height="70.8" fill="none" stroke="#a0a0a0" stroke-width="0.7"/>
<rect x="487.9" y="162.4" width="30.2" height="42.3" fill="none" stroke="#5a5a5a" stroke-width="0.6"/>
<rect x="504.6" y="205.6" width="33.6" height="5.8" fill="#fff" stroke="#bbb" stroke-width="0.35"/>
<text x="505.6" y="209.9" font-size="4.6" textLength="31.2" lengthAdjust="spacingAndGlyphs" stroke="#333" stroke-width="0.06" fill="#333">CD335+ CD49b+</text>
<text x="501.6" y="169.3" font-size="6.1" stroke="#2a2a2a" stroke-width="0.18" text-anchor="middle" fill="#2a2a2a">18.39%</text>
<text x="484.8" y="225.6" font-size="6.9" textLength="32.4" lengthAdjust="spacingAndGlyphs" stroke="#2a2a2a" stroke-width="0.15" fill="#2a2a2a">SD + aPD-1</text>
<text x="465.4" y="164.3" font-size="2.8" text-anchor="end" fill="#333">10⁵</text>
<line x1="465.7" y1="163.3" x2="466.6" y2="163.3" stroke="#888" stroke-width="0.35"/>
<text x="465.4" y="181.4" font-size="2.8" text-anchor="end" fill="#333">10⁴</text>
<line x1="465.7" y1="180.4" x2="466.6" y2="180.4" stroke="#888" stroke-width="0.35"/>
<text x="465.4" y="199.5" font-size="2.8" text-anchor="end" fill="#333">10³</text>
<line x1="465.7" y1="198.5" x2="466.6" y2="198.5" stroke="#888" stroke-width="0.35"/>
<text x="465.4" y="205.8" font-size="2.8" text-anchor="end" fill="#333">500</text>
<line x1="465.7" y1="204.8" x2="466.6" y2="204.8" stroke="#888" stroke-width="0.35"/>
<text x="465.4" y="216.4" font-size="2.8" text-anchor="end" fill="#333">0</text>
<line x1="465.7" y1="215.4" x2="466.6" y2="215.4" stroke="#888" stroke-width="0.35"/>
<text x="465.4" y="226.7" font-size="2.8" text-anchor="end" fill="#333">-500</text>
<line x1="465.7" y1="225.7" x2="466.6" y2="225.7" stroke="#888" stroke-width="0.35"/>
<text x="467.8" y="233.4" font-size="2.8" text-anchor="middle" fill="#333">-2000</text>
<line x1="467.8" y1="228.2" x2="467.8" y2="229.1" stroke="#888" stroke-width="0.35"/>
<text x="482.8" y="233.4" font-size="2.8" text-anchor="middle" fill="#333">0</text>
<line x1="482.8" y1="228.2" x2="482.8" y2="229.1" stroke="#888" stroke-width="0.35"/>
<text x="499.5" y="233.4" font-size="2.8" text-anchor="middle" fill="#333">2000</text>
<line x1="499.5" y1="228.2" x2="499.5" y2="229.1" stroke="#888" stroke-width="0.35"/>
<text x="514.6" y="233.4" font-size="2.8" text-anchor="middle" fill="#333">10⁴</text>
<line x1="514.6" y1="228.2" x2="514.6" y2="229.1" stroke="#888" stroke-width="0.35"/>
<text x="530.6" y="233.4" font-size="2.8" text-anchor="middle" fill="#333">10⁵</text>
<line x1="530.6" y1="228.2" x2="530.6" y2="229.1" stroke="#888" stroke-width="0.35"/>
<path d="M400.9 268.7h0.6v0.6h-0.6zM396.9 288.8h0.6v0.6h-0.6zM416.2 263.2h0.6v0.6h-0.6zM400.6 272.8h0.6v0.6h-0.6zM421.8 275.9h0.6v0.6h-0.6zM402.0 258.3h0.6v0.6h-0.6zM401.1 287.1h0.6v0.6h-0.6zM417.6 265.7h0.6v0.6h-0.6zM401.0 271.0h0.6v0.6h-0.6zM393.2 288.1h0.6v0.6h-0.6zM398.4 287.2h0.6v0.6h-0.6zM394.4 266.8h0.6v0.6h-0.6zM407.4 265.7h0.6v0.6h-0.6zM410.6 271.5h0.6v0.6h-0.6zM397.9 283.3h0.6v0.6h-0.6zM411.0 253.0h0.6v0.6h-0.6zM417.4 273.1h0.6v0.6h-0.6zM410.4 253.8h0.6v0.6h-0.6zM400.8 272.6h0.6v0.6h-0.6zM412.5 256.6h0.6v0.6h-0.6zM399.8 257.1h0.6v0.6h-0.6zM403.9 277.8h0.6v0.6h-0.6zM394.5 273.2h0.6v0.6h-0.6zM408.8 287.4h0.6v0.6h-0.6zM409.8 268.9h0.6v0.6h-0.6zM397.8 268.4h0.6v0.6h-0.6zM401.2 277.2h0.6v0.6h-0.6zM405.2 289.9h0.6v0.6h-0.6zM407.4 262.7h0.6v0.6h-0.6zM415.5 278.2h0.6v0.6h-0.6zM406.2 266.6h0.6v0.6h-0.6zM393.3 269.7h0.6v0.6h-0.6zM411.4 263.4h0.6v0.6h-0.6zM396.9 279.6h0.6v0.6h-0.6zM407.1 278.9h0.6v0.6h-0.6zM409.8 285.3h0.6v0.6h-0.6zM400.0 285.7h0.6v0.6h-0.6zM399.1 283.4h0.6v0.6h-0.6zM406.7 275.6h0.6v0.6h-0.6zM411.8 270.7h0.6v0.6h-0.6zM412.7 278.8h0.6v0.6h-0.6zM406.4 268.0h0.6v0.6h-0.6zM400.6 271.0h0.6v0.6h-0.6zM404.2 274.2h0.6v0.6h-0.6zM424.9 270.9h0.6v0.6h-0.6zM410.5 263.3h0.6v0.6h-0.6zM400.9 272.9h0.6v0.6h-0.6zM406.7 263.3h0.6v0.6h-0.6zM416.0 263.6h0.6v0.6h-0.6zM412.5 248.3h0.6v0.6h-0.6zM405.5 276.5h0.6v0.6h-0.6zM406.7 279.0h0.6v0.6h-0.6zM407.3 274.5h0.6v0.6h-0.6zM393.2 272.7h0.6v0.6h-0.6zM390.3 286.8h0.6v0.6h-0.6zM407.5 271.0h0.6v0.6h-0.6zM400.2 270.7h0.6v0.6h-0.6zM417.5 284.8h0.6v0.6h-0.6zM405.1 286.3h0.6v0.6h-0.6zM395.2 260.1h0.6v0.6h-0.6zM402.4 266.9h0.6v0.6h-0.6zM401.9 277.3h0.6v0.6h-0.6zM425.2 258.4h0.6v0.6h-0.6zM405.8 276.3h0.6v0.6h-0.6zM405.3 282.8h0.6v0.6h-0.6zM417.0 256.6h0.6v0.6h-0.6zM406.6 270.8h0.6v0.6h-0.6zM407.8 258.1h0.6v0.6h-0.6zM394.1 257.0h0.6v0.6h-0.6zM408.9 274.1h0.6v0.6h-0.6zM406.0 251.0h0.6v0.6h-0.6zM403.1 267.7h0.6v0.6h-0.6zM396.3 269.3h0.6v0.6h-0.6zM410.0 276.9h0.6v0.6h-0.6zM405.4 278.8h0.6v0.6h-0.6zM401.6 276.3h0.6v0.6h-0.6zM405.8 279.0h0.6v0.6h-0.6zM405.0 272.6h0.6v0.6h-0.6zM404.6 268.1h0.6v0.6h-0.6zM420.0 272.0h0.6v0.6h-0.6zM408.3 294.4h0.6v0.6h-0.6zM414.6 254.7h0.6v0.6h-0.6zM410.0 279.7h0.6v0.6h-0.6zM417.8 280.7h0.6v0.6h-0.6zM410.5 260.3h0.6v0.6h-0.6zM399.8 279.0h0.6v0.6h-0.6zM408.8 262.5h0.6v0.6h-0.6zM403.0 271.1h0.6v0.6h-0.6zM405.9 276.8h0.6v0.6h-0.6zM403.6 262.9h0.6v0.6h-0.6zM413.6 285.3h0.6v0.6h-0.6zM404.8 283.9h0.6v0.6h-0.6zM408.4 278.8h0.6v0.6h-0.6zM408.6 265.1h0.6v0.6h-0.6zM409.2 281.7h0.6v0.6h-0.6zM399.7 295.2h0.6v0.6h-0.6zM419.1 284.9h0.6v0.6h-0.6zM418.4 274.9h0.6v0.6h-0.6zM403.3 269.1h0.6v0.6h-0.6zM400.2 277.3h0.6v0.6h-0.6zM405.3 280.3h0.6v0.6h-0.6zM392.4 301.9h0.6v0.6h-0.6zM420.3 266.7h0.6v0.6h-0.6zM409.9 276.3h0.6v0.6h-0.6zM407.3 271.0h0.6v0.6h-0.6zM404.7 266.3h0.6v0.6h-0.6zM406.7 273.0h0.6v0.6h-0.6zM407.6 264.7h0.6v0.6h-0.6zM405.8 274.1h0.6v0.6h-0.6zM409.4 261.8h0.6v0.6h-0.6zM408.2 281.9h0.6v0.6h-0.6zM409.4 268.5h0.6v0.6h-0.6zM402.3 273.0h0.6v0.6h-0.6zM410.2 286.4h0.6v0.6h-0.6zM404.5 268.1h0.6v0.6h-0.6zM407.9 274.6h0.6v0.6h-0.6zM399.6 269.5h0.6v0.6h-0.6zM404.8 280.5h0.6v0.6h-0.6zM397.7 267.7h0.6v0.6h-0.6zM408.7 260.6h0.6v0.6h-0.6zM406.2 276.8h0.6v0.6h-0.6zM404.8 264.4h0.6v0.6h-0.6zM405.1 270.8h0.6v0.6h-0.6zM407.7 264.8h0.6v0.6h-0.6zM412.6 254.5h0.6v0.6h-0.6zM404.4 274.4h0.6v0.6h-0.6zM411.8 265.1h0.6v0.6h-0.6zM409.0 266.8h0.6v0.6h-0.6zM410.3 288.2h0.6v0.6h-0.6zM402.9 279.2h0.6v0.6h-0.6zM399.5 285.9h0.6v0.6h-0.6zM413.4 270.5h0.6v0.6h-0.6zM398.1 281.0h0.6v0.6h-0.6zM413.0 280.7h0.6v0.6h-0.6zM410.8 253.9h0.6v0.6h-0.6zM401.1 289.4h0.6v0.6h-0.6zM397.5 288.3h0.6v0.6h-0.6zM417.7 275.4h0.6v0.6h-0.6zM412.8 267.3h0.6v0.6h-0.6zM397.5 276.5h0.6v0.6h-0.6zM404.2 273.9h0.6v0.6h-0.6zM410.0 270.3h0.6v0.6h-0.6zM406.7 277.3h0.6v0.6h-0.6zM405.5 291.4h0.6v0.6h-0.6zM408.4 273.3h0.6v0.6h-0.6zM404.2 268.5h0.6v0.6h-0.6zM414.2 271.2h0.6v0.6h-0.6zM398.5 271.7h0.6v0.6h-0.6zM404.6 270.0h0.6v0.6h-0.6zM412.5 259.5h0.6v0.6h-0.6zM408.7 273.7h0.6v0.6h-0.6zM397.8 277.8h0.6v0.6h-0.6zM404.9 278.9h0.6v0.6h-0.6zM402.6 278.0h0.6v0.6h-0.6zM394.7 268.5h0.6v0.6h-0.6zM410.6 281.4h0.6v0.6h-0.6zM405.4 268.1h0.6v0.6h-0.6zM412.5 250.6h0.6v0.6h-0.6zM400.3 282.6h0.6v0.6h-0.6zM409.7 262.0h0.6v0.6h-0.6zM393.2 293.3h0.6v0.6h-0.6zM406.5 264.8h0.6v0.6h-0.6zM405.9 282.2h0.6v0.6h-0.6zM388.7 292.2h0.6v0.6h-0.6zM410.3 251.7h0.6v0.6h-0.6zM410.5 254.5h0.6v0.6h-0.6zM412.9 274.2h0.6v0.6h-0.6zM420.1 261.2h0.6v0.6h-0.6zM405.5 283.8h0.6v0.6h-0.6zM401.3 269.0h0.6v0.6h-0.6zM403.1 274.2h0.6v0.6h-0.6zM398.5 281.7h0.6v0.6h-0.6zM409.0 272.9h0.6v0.6h-0.6zM416.6 265.6h0.6v0.6h-0.6zM414.0 264.7h0.6v0.6h-0.6zM410.4 253.1h0.6v0.6h-0.6zM406.8 271.5h0.6v0.6h-0.6zM402.3 269.5h0.6v0.6h-0.6zM403.2 268.0h0.6v0.6h-0.6zM391.2 274.7h0.6v0.6h-0.6zM401.9 270.4h0.6v0.6h-0.6zM398.6 275.7h0.6v0.6h-0.6zM410.6 269.1h0.6v0.6h-0.6zM402.3 288.2h0.6v0.6h-0.6zM411.9 279.7h0.6v0.6h-0.6zM413.0 267.2h0.6v0.6h-0.6zM404.7 284.8h0.6v0.6h-0.6zM401.9 274.3h0.6v0.6h-0.6zM408.0 276.2h0.6v0.6h-0.6zM403.7 284.0h0.6v0.6h-0.6zM404.3 281.3h0.6v0.6h-0.6zM412.5 276.9h0.6v0.6h-0.6zM410.3 260.5h0.6v0.6h-0.6zM397.0 271.8h0.6v0.6h-0.6zM408.6 286.7h0.6v0.6h-0.6zM397.6 280.4h0.6v0.6h-0.6zM399.9 269.4h0.6v0.6h-0.6zM403.7 281.2h0.6v0.6h-0.6zM406.9 284.4h0.6v0.6h-0.6zM399.1 285.2h0.6v0.6h-0.6zM411.5 271.7h0.6v0.6h-0.6zM408.6 267.0h0.6v0.6h-0.6zM398.4 273.2h0.6v0.6h-0.6zM401.3 303.3h0.6v0.6h-0.6zM402.3 291.0h0.6v0.6h-0.6zM406.8 276.2h0.6v0.6h-0.6zM410.3 264.1h0.6v0.6h-0.6zM411.5 274.6h0.6v0.6h-0.6zM395.6 284.1h0.6v0.6h-0.6zM409.1 276.5h0.6v0.6h-0.6zM415.8 265.1h0.6v0.6h-0.6zM408.8 279.4h0.6v0.6h-0.6zM399.6 287.9h0.6v0.6h-0.6zM396.1 265.8h0.6v0.6h-0.6zM408.9 261.8h0.6v0.6h-0.6zM404.7 258.5h0.6v0.6h-0.6zM405.9 262.8h0.6v0.6h-0.6zM407.7 258.2h0.6v0.6h-0.6zM408.4 269.9h0.6v0.6h-0.6zM405.9 273.0h0.6v0.6h-0.6zM406.3 260.8h0.6v0.6h-0.6zM382.6 288.0h0.6v0.6h-0.6zM392.4 285.1h0.6v0.6h-0.6zM400.6 275.9h0.6v0.6h-0.6zM393.4 284.1h0.6v0.6h-0.6zM391.7 289.8h0.6v0.6h-0.6zM397.2 282.9h0.6v0.6h-0.6zM392.1 292.6h0.6v0.6h-0.6zM394.0 291.3h0.6v0.6h-0.6zM400.7 276.4h0.6v0.6h-0.6zM391.5 287.8h0.6v0.6h-0.6zM400.1 292.5h0.6v0.6h-0.6zM402.8 294.0h0.6v0.6h-0.6zM395.8 286.5h0.6v0.6h-0.6zM402.7 285.2h0.6v0.6h-0.6zM404.3 278.3h0.6v0.6h-0.6zM401.9 286.8h0.6v0.6h-0.6zM386.2 293.7h0.6v0.6h-0.6zM399.9 287.9h0.6v0.6h-0.6zM391.5 285.0h0.6v0.6h-0.6zM407.1 282.8h0.6v0.6h-0.6zM377.2 282.7h0.6v0.6h-0.6zM390.8 287.0h0.6v0.6h-0.6zM395.6 282.3h0.6v0.6h-0.6zM392.9 294.1h0.6v0.6h-0.6zM389.3 299.5h0.6v0.6h-0.6zM394.7 281.2h0.6v0.6h-0.6zM402.7 291.2h0.6v0.6h-0.6zM391.7 292.3h0.6v0.6h-0.6zM387.0 282.3h0.6v0.6h-0.6zM404.8 286.3h0.6v0.6h-0.6zM390.2 290.9h0.6v0.6h-0.6zM403.5 287.7h0.6v0.6h-0.6zM387.2 285.7h0.6v0.6h-0.6zM400.5 292.4h0.6v0.6h-0.6zM409.1 286.3h0.6v0.6h-0.6zM395.1 287.6h0.6v0.6h-0.6zM405.2 282.2h0.6v0.6h-0.6zM405.8 271.3h0.6v0.6h-0.6zM402.8 283.7h0.6v0.6h-0.6zM400.8 291.9h0.6v0.6h-0.6zM390.9 287.3h0.6v0.6h-0.6zM399.4 291.3h0.6v0.6h-0.6zM392.4 281.9h0.6v0.6h-0.6zM386.5 303.0h0.6v0.6h-0.6zM396.8 286.5h0.6v0.6h-0.6zM389.0 293.4h0.6v0.6h-0.6zM394.8 296.4h0.6v0.6h-0.6zM403.1 287.9h0.6v0.6h-0.6zM402.4 281.1h0.6v0.6h-0.6zM396.0 284.3h0.6v0.6h-0.6zM390.4 287.9h0.6v0.6h-0.6zM397.1 296.4h0.6v0.6h-0.6zM377.9 283.8h0.6v0.6h-0.6zM392.5 285.0h0.6v0.6h-0.6zM400.5 290.2h0.6v0.6h-0.6zM398.2 285.0h0.6v0.6h-0.6zM401.0 290.0h0.6v0.6h-0.6zM386.9 286.2h0.6v0.6h-0.6zM389.8 280.7h0.6v0.6h-0.6zM398.9 288.2h0.6v0.6h-0.6zM398.7 282.5h0.6v0.6h-0.6zM396.8 282.3h0.6v0.6h-0.6zM400.3 291.9h0.6v0.6h-0.6zM408.5 295.4h0.6v0.6h-0.6zM393.2 285.1h0.6v0.6h-0.6zM392.4 289.6h0.6v0.6h-0.6zM409.9 292.1h0.6v0.6h-0.6zM384.8 280.3h0.6v0.6h-0.6zM390.2 290.9h0.6v0.6h-0.6zM398.0 289.6h0.6v0.6h-0.6zM408.7 282.8h0.6v0.6h-0.6zM392.9 299.6h0.6v0.6h-0.6zM400.1 283.1h0.6v0.6h-0.6zM385.8 278.7h0.6v0.6h-0.6zM383.3 288.2h0.6v0.6h-0.6zM398.3 293.8h0.6v0.6h-0.6zM397.2 283.6h0.6v0.6h-0.6zM393.6 299.2h0.6v0.6h-0.6zM387.4 288.8h0.6v0.6h-0.6zM398.2 291.5h0.6v0.6h-0.6zM395.6 290.8h0.6v0.6h-0.6zM402.9 286.9h0.6v0.6h-0.6zM395.3 286.7h0.6v0.6h-0.6zM392.2 286.6h0.6v0.6h-0.6zM396.2 289.1h0.6v0.6h-0.6zM406.0 295.6h0.6v0.6h-0.6zM395.3 291.4h0.6v0.6h-0.6zM399.8 292.4h0.6v0.6h-0.6zM398.1 289.4h0.6v0.6h-0.6zM395.2 283.1h0.6v0.6h-0.6zM403.2 295.6h0.6v0.6h-0.6zM402.0 290.4h0.6v0.6h-0.6zM399.6 285.1h0.6v0.6h-0.6zM387.3 291.8h0.6v0.6h-0.6zM399.2 284.5h0.6v0.6h-0.6zM392.2 295.5h0.6v0.6h-0.6zM387.2 298.4h0.6v0.6h-0.6zM401.8 302.0h0.6v0.6h-0.6zM393.7 287.7h0.6v0.6h-0.6zM395.0 288.7h0.6v0.6h-0.6zM396.7 283.3h0.6v0.6h-0.6zM404.4 283.1h0.6v0.6h-0.6zM398.9 289.5h0.6v0.6h-0.6zM398.5 277.6h0.6v0.6h-0.6zM411.0 278.4h0.6v0.6h-0.6zM388.5 281.6h0.6v0.6h-0.6zM402.9 303.3h0.6v0.6h-0.6zM390.6 294.4h0.6v0.6h-0.6zM395.0 278.5h0.6v0.6h-0.6zM401.4 286.0h0.6v0.6h-0.6zM418.1 303.8h0.6v0.6h-0.6zM397.1 298.8h0.6v0.6h-0.6zM419.9 292.6h0.6v0.6h-0.6zM395.4 293.6h0.6v0.6h-0.6zM404.5 287.0h0.6v0.6h-0.6zM402.2 290.8h0.6v0.6h-0.6zM421.6 296.4h0.6v0.6h-0.6zM403.1 294.7h0.6v0.6h-0.6zM426.3 271.6h0.6v0.6h-0.6zM426.6 266.8h0.6v0.6h-0.6zM413.6 289.9h0.6v0.6h-0.6zM426.8 286.1h0.6v0.6h-0.6zM399.3 273.2h0.6v0.6h-0.6zM388.5 292.0h0.6v0.6h-0.6zM402.7 274.2h0.6v0.6h-0.6zM413.4 273.6h0.6v0.6h-0.6zM399.9 277.3h0.6v0.6h-0.6zM429.2 300.4h0.6v0.6h-0.6zM403.8 263.9h0.6v0.6h-0.6zM409.9 283.7h0.6v0.6h-0.6zM410.9 289.6h0.6v0.6h-0.6zM401.5 293.9h0.6v0.6h-0.6zM417.7 285.3h0.6v0.6h-0.6zM400.3 277.0h0.6v0.6h-0.6zM415.7 269.6h0.6v0.6h-0.6zM403.8 273.8h0.6v0.6h-0.6zM386.5 290.0h0.6v0.6h-0.6zM405.6 283.2h0.6v0.6h-0.6zM418.2 264.9h0.6v0.6h-0.6zM405.1 286.3h0.6v0.6h-0.6zM417.7 269.8h0.6v0.6h-0.6zM416.0 285.4h0.6v0.6h-0.6zM425.0 296.5h0.6v0.6h-0.6zM406.0 277.7h0.6v0.6h-0.6zM401.2 271.5h0.6v0.6h-0.6zM405.6 260.3h0.6v0.6h-0.6zM404.8 287.9h0.6v0.6h-0.6zM419.9 278.6h0.6v0.6h-0.6zM425.4 275.0h0.6v0.6h-0.6zM404.1 260.3h0.6v0.6h-0.6zM395.3 273.3h0.6v0.6h-0.6zM426.4 289.0h0.6v0.6h-0.6zM390.9 289.1h0.6v0.6h-0.6zM412.6 280.1h0.6v0.6h-0.6zM406.3 279.2h0.6v0.6h-0.6zM398.6 262.0h0.6v0.6h-0.6zM404.8 297.9h0.6v0.6h-0.6zM425.6 279.5h0.6v0.6h-0.6zM395.8 280.3h0.6v0.6h-0.6zM418.3 286.9h0.6v0.6h-0.6zM398.0 287.0h0.6v0.6h-0.6z" fill="#2b2bff"/>
<ellipse cx="405.5" cy="274.3" rx="6.6" ry="10.4" fill="#1c1cf4" fill-opacity="0.85" filter="url(#b15)" transform="rotate(-12 405.5 274.3)"/>
<ellipse cx="399" cy="285.3" rx="5.2" ry="6.5" fill="#1c1cf4" fill-opacity="0.85" filter="url(#b12)" transform="rotate(-30 399 285.3)"/>
<ellipse cx="398.5" cy="277.8" rx="3.6" ry="7.5" fill="#2222f0" fill-opacity="0.75" filter="url(#b15)" transform="rotate(-15 398.5 277.8)"/>
<ellipse cx="395.2" cy="291.4" rx="5.6" ry="7.0" fill="#1530ff" filter="url(#b08)" transform="rotate(-25 395.2 291.4)"/>
<ellipse cx="394.8" cy="292" rx="4.0" ry="5.4" fill="#22c8f5" filter="url(#b06)" transform="rotate(-20 394.8 292)"/>
<ellipse cx="394.6" cy="292.3" rx="2.7" ry="3.4" fill="#40e070" filter="url(#b04)"/>
<circle cx="394.5" cy="292.5" r="1.3" fill="#f0e030" filter="url(#b04)"/>
<circle cx="394.4" cy="292.7" r="0.6" fill="#f03020"/>
<rect x="376" y="238.4" width="71.3" height="70.8" fill="none" stroke="#a0a0a0" stroke-width="0.7"/>
<rect x="397.3" y="243.4" width="30.2" height="42.3" fill="none" stroke="#5a5a5a" stroke-width="0.6"/>
<rect x="414" y="286.6" width="33.6" height="5.8" fill="#fff" stroke="#bbb" stroke-width="0.35"/>
<text x="415" y="290.9" font-size="4.6" textLength="31.2" lengthAdjust="spacingAndGlyphs" stroke="#333" stroke-width="0.06" fill="#333">CD335+ CD49b+</text>
<text x="411" y="250.3" font-size="6.1" stroke="#2a2a2a" stroke-width="0.18" text-anchor="middle" fill="#2a2a2a">15.38%</text>
<text x="383.4" y="304.8" font-size="6.9" textLength="51.2" lengthAdjust="spacingAndGlyphs" stroke="#2a2a2a" stroke-width="0.15" fill="#2a2a2a">OD no treatment</text>
<text x="374.8" y="245.3" font-size="2.8" text-anchor="end" fill="#333">10⁵</text>
<line x1="375.1" y1="244.3" x2="376" y2="244.3" stroke="#888" stroke-width="0.35"/>
<text x="374.8" y="262.4" font-size="2.8" text-anchor="end" fill="#333">10⁴</text>
<line x1="375.1" y1="261.4" x2="376" y2="261.4" stroke="#888" stroke-width="0.35"/>
<text x="374.8" y="280.5" font-size="2.8" text-anchor="end" fill="#333">10³</text>
<line x1="375.1" y1="279.5" x2="376" y2="279.5" stroke="#888" stroke-width="0.35"/>
<text x="374.8" y="286.8" font-size="2.8" text-anchor="end" fill="#333">500</text>
<line x1="375.1" y1="285.8" x2="376" y2="285.8" stroke="#888" stroke-width="0.35"/>
<text x="374.8" y="297.4" font-size="2.8" text-anchor="end" fill="#333">0</text>
<line x1="375.1" y1="296.4" x2="376" y2="296.4" stroke="#888" stroke-width="0.35"/>
<text x="374.8" y="307.7" font-size="2.8" text-anchor="end" fill="#333">-500</text>
<line x1="375.1" y1="306.7" x2="376" y2="306.7" stroke="#888" stroke-width="0.35"/>
<text x="377.2" y="314.4" font-size="2.8" text-anchor="middle" fill="#333">-2000</text>
<line x1="377.2" y1="309.2" x2="377.2" y2="310.1" stroke="#888" stroke-width="0.35"/>
<text x="392.2" y="314.4" font-size="2.8" text-anchor="middle" fill="#333">0</text>
<line x1="392.2" y1="309.2" x2="392.2" y2="310.1" stroke="#888" stroke-width="0.35"/>
<text x="408.9" y="314.4" font-size="2.8" text-anchor="middle" fill="#333">2000</text>
<line x1="408.9" y1="309.2" x2="408.9" y2="310.1" stroke="#888" stroke-width="0.35"/>
<text x="424" y="314.4" font-size="2.8" text-anchor="middle" fill="#333">10⁴</text>
<line x1="424" y1="309.2" x2="424" y2="310.1" stroke="#888" stroke-width="0.35"/>
<text x="440" y="314.4" font-size="2.8" text-anchor="middle" fill="#333">10⁵</text>
<line x1="440" y1="309.2" x2="440" y2="310.1" stroke="#888" stroke-width="0.35"/>
<path d="M497.5 279.7h0.6v0.6h-0.6zM496.2 261.8h0.6v0.6h-0.6zM499.2 281.2h0.6v0.6h-0.6zM491.8 276.5h0.6v0.6h-0.6zM504.4 268.2h0.6v0.6h-0.6zM494.7 295.1h0.6v0.6h-0.6zM504.1 281.4h0.6v0.6h-0.6zM492.8 292.2h0.6v0.6h-0.6zM488.3 274.3h0.6v0.6h-0.6zM503.5 284.5h0.6v0.6h-0.6zM492.9 270.9h0.6v0.6h-0.6zM500.0 255.8h0.6v0.6h-0.6zM502.8 277.6h0.6v0.6h-0.6zM496.0 280.6h0.6v0.6h-0.6zM503.7 274.9h0.6v0.6h-0.6zM502.1 286.8h0.6v0.6h-0.6zM495.8 277.2h0.6v0.6h-0.6zM495.5 285.4h0.6v0.6h-0.6zM496.2 279.9h0.6v0.6h-0.6zM499.7 274.5h0.6v0.6h-0.6zM509.6 268.5h0.6v0.6h-0.6zM507.7 277.8h0.6v0.6h-0.6zM507.1 268.9h0.6v0.6h-0.6zM504.6 278.6h0.6v0.6h-0.6zM494.9 278.6h0.6v0.6h-0.6zM498.0 274.3h0.6v0.6h-0.6zM507.0 263.9h0.6v0.6h-0.6zM488.2 263.1h0.6v0.6h-0.6zM496.0 269.7h0.6v0.6h-0.6zM498.9 279.5h0.6v0.6h-0.6zM509.8 272.0h0.6v0.6h-0.6zM501.7 266.2h0.6v0.6h-0.6zM502.4 285.1h0.6v0.6h-0.6zM507.2 252.4h0.6v0.6h-0.6zM504.4 286.3h0.6v0.6h-0.6zM504.0 258.2h0.6v0.6h-0.6zM496.9 280.6h0.6v0.6h-0.6zM501.4 265.6h0.6v0.6h-0.6zM493.2 285.8h0.6v0.6h-0.6zM490.4 291.3h0.6v0.6h-0.6zM498.9 277.0h0.6v0.6h-0.6zM490.5 272.7h0.6v0.6h-0.6zM503.1 258.8h0.6v0.6h-0.6zM511.8 255.4h0.6v0.6h-0.6zM491.2 278.2h0.6v0.6h-0.6zM501.8 279.6h0.6v0.6h-0.6zM496.5 273.5h0.6v0.6h-0.6zM497.3 269.7h0.6v0.6h-0.6zM482.7 290.6h0.6v0.6h-0.6zM500.4 275.0h0.6v0.6h-0.6zM494.9 278.4h0.6v0.6h-0.6zM498.7 273.6h0.6v0.6h-0.6zM505.7 255.3h0.6v0.6h-0.6zM500.4 263.8h0.6v0.6h-0.6zM496.8 289.0h0.6v0.6h-0.6zM492.0 276.5h0.6v0.6h-0.6zM495.1 284.7h0.6v0.6h-0.6zM492.7 261.7h0.6v0.6h-0.6zM502.0 269.6h0.6v0.6h-0.6zM496.8 285.1h0.6v0.6h-0.6zM493.3 273.4h0.6v0.6h-0.6zM499.7 277.7h0.6v0.6h-0.6zM495.6 285.3h0.6v0.6h-0.6zM512.8 264.1h0.6v0.6h-0.6zM510.5 249.6h0.6v0.6h-0.6zM507.6 267.1h0.6v0.6h-0.6zM499.7 270.8h0.6v0.6h-0.6zM494.8 264.4h0.6v0.6h-0.6zM496.3 287.3h0.6v0.6h-0.6zM505.9 267.8h0.6v0.6h-0.6zM495.5 269.4h0.6v0.6h-0.6zM491.3 294.3h0.6v0.6h-0.6zM502.9 273.5h0.6v0.6h-0.6zM495.7 266.4h0.6v0.6h-0.6zM507.0 277.7h0.6v0.6h-0.6zM492.9 286.1h0.6v0.6h-0.6zM491.9 283.4h0.6v0.6h-0.6zM492.8 273.3h0.6v0.6h-0.6zM501.9 276.8h0.6v0.6h-0.6zM505.1 263.7h0.6v0.6h-0.6zM508.7 282.1h0.6v0.6h-0.6zM498.7 278.6h0.6v0.6h-0.6zM493.9 275.1h0.6v0.6h-0.6zM490.6 278.9h0.6v0.6h-0.6zM500.0 286.0h0.6v0.6h-0.6zM504.7 279.0h0.6v0.6h-0.6zM496.5 273.3h0.6v0.6h-0.6zM496.7 277.3h0.6v0.6h-0.6zM486.8 286.9h0.6v0.6h-0.6zM489.0 274.1h0.6v0.6h-0.6zM498.9 269.5h0.6v0.6h-0.6zM509.2 268.6h0.6v0.6h-0.6zM508.6 280.5h0.6v0.6h-0.6zM495.7 279.4h0.6v0.6h-0.6zM506.9 267.5h0.6v0.6h-0.6zM499.4 268.9h0.6v0.6h-0.6zM499.2 270.9h0.6v0.6h-0.6zM499.3 283.2h0.6v0.6h-0.6zM507.5 271.5h0.6v0.6h-0.6zM500.1 281.6h0.6v0.6h-0.6zM497.0 265.4h0.6v0.6h-0.6zM505.7 262.5h0.6v0.6h-0.6zM504.6 262.8h0.6v0.6h-0.6zM510.2 259.5h0.6v0.6h-0.6zM504.1 285.6h0.6v0.6h-0.6zM492.8 290.7h0.6v0.6h-0.6zM493.7 260.5h0.6v0.6h-0.6zM503.3 278.6h0.6v0.6h-0.6zM497.5 251.8h0.6v0.6h-0.6zM498.5 271.7h0.6v0.6h-0.6zM496.4 272.7h0.6v0.6h-0.6zM487.6 274.3h0.6v0.6h-0.6zM510.0 283.3h0.6v0.6h-0.6zM496.5 268.8h0.6v0.6h-0.6zM501.3 282.9h0.6v0.6h-0.6zM503.3 261.5h0.6v0.6h-0.6zM499.8 275.1h0.6v0.6h-0.6zM507.8 281.1h0.6v0.6h-0.6zM502.1 283.9h0.6v0.6h-0.6zM496.3 289.5h0.6v0.6h-0.6zM496.1 279.2h0.6v0.6h-0.6zM504.5 263.3h0.6v0.6h-0.6zM494.4 260.2h0.6v0.6h-0.6zM499.8 273.3h0.6v0.6h-0.6zM496.8 279.8h0.6v0.6h-0.6zM485.6 280.2h0.6v0.6h-0.6zM499.3 271.6h0.6v0.6h-0.6zM503.8 288.1h0.6v0.6h-0.6zM496.0 267.0h0.6v0.6h-0.6zM495.0 276.9h0.6v0.6h-0.6zM502.5 264.7h0.6v0.6h-0.6zM505.0 262.0h0.6v0.6h-0.6zM504.0 275.8h0.6v0.6h-0.6zM501.7 292.7h0.6v0.6h-0.6zM497.2 273.5h0.6v0.6h-0.6zM501.8 280.8h0.6v0.6h-0.6zM490.4 280.7h0.6v0.6h-0.6zM494.2 282.2h0.6v0.6h-0.6zM507.3 270.8h0.6v0.6h-0.6zM498.1 276.3h0.6v0.6h-0.6zM480.4 289.9h0.6v0.6h-0.6zM502.3 274.2h0.6v0.6h-0.6zM496.3 268.7h0.6v0.6h-0.6zM497.7 285.9h0.6v0.6h-0.6zM498.2 286.9h0.6v0.6h-0.6zM482.8 277.5h0.6v0.6h-0.6zM500.5 273.4h0.6v0.6h-0.6zM488.4 273.0h0.6v0.6h-0.6zM506.6 258.9h0.6v0.6h-0.6zM492.6 267.1h0.6v0.6h-0.6zM495.4 281.8h0.6v0.6h-0.6zM502.5 254.0h0.6v0.6h-0.6zM507.9 264.7h0.6v0.6h-0.6zM495.1 291.3h0.6v0.6h-0.6zM498.3 263.2h0.6v0.6h-0.6zM494.8 269.5h0.6v0.6h-0.6zM492.5 274.2h0.6v0.6h-0.6zM504.3 275.0h0.6v0.6h-0.6zM490.2 303.8h0.6v0.6h-0.6zM492.6 278.2h0.6v0.6h-0.6zM499.0 281.2h0.6v0.6h-0.6zM496.8 279.4h0.6v0.6h-0.6zM511.9 269.1h0.6v0.6h-0.6zM492.0 280.4h0.6v0.6h-0.6zM493.8 273.2h0.6v0.6h-0.6zM500.0 276.8h0.6v0.6h-0.6zM497.0 282.9h0.6v0.6h-0.6zM497.6 262.9h0.6v0.6h-0.6zM504.3 268.4h0.6v0.6h-0.6zM506.4 264.8h0.6v0.6h-0.6zM502.4 275.5h0.6v0.6h-0.6zM482.0 268.4h0.6v0.6h-0.6zM491.8 290.4h0.6v0.6h-0.6zM487.0 288.1h0.6v0.6h-0.6zM505.6 275.7h0.6v0.6h-0.6zM503.0 267.8h0.6v0.6h-0.6zM498.7 276.4h0.6v0.6h-0.6zM501.4 279.6h0.6v0.6h-0.6zM497.5 268.5h0.6v0.6h-0.6zM495.3 279.7h0.6v0.6h-0.6zM488.4 267.6h0.6v0.6h-0.6zM496.2 270.4h0.6v0.6h-0.6zM497.1 250.7h0.6v0.6h-0.6zM496.7 273.0h0.6v0.6h-0.6zM503.6 253.9h0.6v0.6h-0.6zM496.9 279.5h0.6v0.6h-0.6zM501.9 283.8h0.6v0.6h-0.6zM505.4 261.6h0.6v0.6h-0.6zM502.8 269.4h0.6v0.6h-0.6zM493.8 290.7h0.6v0.6h-0.6zM494.9 268.3h0.6v0.6h-0.6zM496.3 267.7h0.6v0.6h-0.6zM505.1 274.9h0.6v0.6h-0.6zM507.6 274.0h0.6v0.6h-0.6zM495.0 285.7h0.6v0.6h-0.6zM494.7 271.9h0.6v0.6h-0.6zM497.8 275.1h0.6v0.6h-0.6zM506.3 265.3h0.6v0.6h-0.6zM501.0 273.0h0.6v0.6h-0.6zM490.9 267.9h0.6v0.6h-0.6zM497.4 278.6h0.6v0.6h-0.6zM500.8 277.8h0.6v0.6h-0.6zM499.1 270.0h0.6v0.6h-0.6zM501.5 263.9h0.6v0.6h-0.6zM490.4 275.1h0.6v0.6h-0.6zM489.8 273.7h0.6v0.6h-0.6zM494.1 271.4h0.6v0.6h-0.6zM498.5 267.1h0.6v0.6h-0.6zM496.2 259.8h0.6v0.6h-0.6zM499.7 265.8h0.6v0.6h-0.6zM501.3 247.1h0.6v0.6h-0.6zM493.8 278.9h0.6v0.6h-0.6zM483.5 278.0h0.6v0.6h-0.6zM499.4 275.0h0.6v0.6h-0.6zM489.4 280.7h0.6v0.6h-0.6zM499.7 264.9h0.6v0.6h-0.6zM503.5 271.7h0.6v0.6h-0.6zM498.9 270.1h0.6v0.6h-0.6zM502.2 273.6h0.6v0.6h-0.6zM505.9 275.2h0.6v0.6h-0.6zM494.9 274.0h0.6v0.6h-0.6zM504.6 268.3h0.6v0.6h-0.6zM501.2 278.0h0.6v0.6h-0.6zM497.7 253.4h0.6v0.6h-0.6zM499.6 275.9h0.6v0.6h-0.6zM499.7 266.9h0.6v0.6h-0.6zM506.4 269.6h0.6v0.6h-0.6zM494.9 269.5h0.6v0.6h-0.6zM501.1 263.2h0.6v0.6h-0.6zM492.5 295.7h0.6v0.6h-0.6zM507.0 280.2h0.6v0.6h-0.6zM507.4 275.8h0.6v0.6h-0.6zM488.2 290.2h0.6v0.6h-0.6zM506.6 275.2h0.6v0.6h-0.6zM486.5 291.5h0.6v0.6h-0.6zM507.4 265.8h0.6v0.6h-0.6zM499.6 281.1h0.6v0.6h-0.6zM498.3 284.7h0.6v0.6h-0.6zM499.3 280.4h0.6v0.6h-0.6zM499.3 260.4h0.6v0.6h-0.6zM492.5 306.5h0.6v0.6h-0.6zM500.6 285.6h0.6v0.6h-0.6zM506.0 286.8h0.6v0.6h-0.6zM502.3 267.2h0.6v0.6h-0.6zM498.9 256.5h0.6v0.6h-0.6zM497.6 283.2h0.6v0.6h-0.6zM485.2 282.4h0.6v0.6h-0.6zM504.0 284.2h0.6v0.6h-0.6zM493.0 271.0h0.6v0.6h-0.6zM487.0 270.3h0.6v0.6h-0.6zM502.2 291.9h0.6v0.6h-0.6zM491.6 290.4h0.6v0.6h-0.6zM501.5 268.5h0.6v0.6h-0.6zM512.6 244.6h0.6v0.6h-0.6zM498.4 276.5h0.6v0.6h-0.6zM512.2 284.7h0.6v0.6h-0.6zM513.1 268.9h0.6v0.6h-0.6zM505.0 284.1h0.6v0.6h-0.6zM502.0 276.1h0.6v0.6h-0.6zM497.6 271.1h0.6v0.6h-0.6zM482.6 299.7h0.6v0.6h-0.6zM487.2 276.2h0.6v0.6h-0.6zM491.3 288.1h0.6v0.6h-0.6zM490.8 298.9h0.6v0.6h-0.6zM489.2 286.8h0.6v0.6h-0.6zM485.4 288.2h0.6v0.6h-0.6zM487.2 289.5h0.6v0.6h-0.6zM508.0 290.6h0.6v0.6h-0.6zM484.8 299.6h0.6v0.6h-0.6zM494.8 293.1h0.6v0.6h-0.6zM494.0 293.1h0.6v0.6h-0.6zM493.7 296.5h0.6v0.6h-0.6zM495.7 296.2h0.6v0.6h-0.6zM486.9 288.3h0.6v0.6h-0.6zM485.5 293.9h0.6v0.6h-0.6zM494.7 285.6h0.6v0.6h-0.6zM493.2 303.6h0.6v0.6h-0.6zM497.0 281.8h0.6v0.6h-0.6zM489.3 292.0h0.6v0.6h-0.6zM489.6 290.6h0.6v0.6h-0.6zM496.7 290.2h0.6v0.6h-0.6zM483.4 292.5h0.6v0.6h-0.6zM489.2 289.0h0.6v0.6h-0.6zM486.5 280.2h0.6v0.6h-0.6zM482.5 286.2h0.6v0.6h-0.6zM483.6 272.4h0.6v0.6h-0.6zM496.5 281.5h0.6v0.6h-0.6zM485.6 291.4h0.6v0.6h-0.6zM475.7 296.1h0.6v0.6h-0.6zM485.3 292.2h0.6v0.6h-0.6zM487.0 290.1h0.6v0.6h-0.6zM490.4 288.3h0.6v0.6h-0.6zM479.1 279.7h0.6v0.6h-0.6zM489.6 296.5h0.6v0.6h-0.6zM486.6 291.4h0.6v0.6h-0.6zM490.7 291.1h0.6v0.6h-0.6zM495.6 279.5h0.6v0.6h-0.6zM491.4 287.3h0.6v0.6h-0.6zM488.0 283.3h0.6v0.6h-0.6zM485.2 282.3h0.6v0.6h-0.6zM483.4 303.0h0.6v0.6h-0.6zM499.7 288.4h0.6v0.6h-0.6zM494.1 282.6h0.6v0.6h-0.6zM473.5 277.6h0.6v0.6h-0.6zM490.6 296.7h0.6v0.6h-0.6zM489.6 282.4h0.6v0.6h-0.6zM488.4 282.5h0.6v0.6h-0.6zM481.6 286.9h0.6v0.6h-0.6zM487.5 283.6h0.6v0.6h-0.6zM484.6 282.9h0.6v0.6h-0.6zM491.2 296.4h0.6v0.6h-0.6zM488.6 301.4h0.6v0.6h-0.6zM480.3 289.9h0.6v0.6h-0.6zM483.0 287.4h0.6v0.6h-0.6zM490.4 291.6h0.6v0.6h-0.6zM496.4 285.1h0.6v0.6h-0.6zM482.5 287.2h0.6v0.6h-0.6zM491.5 284.2h0.6v0.6h-0.6zM495.0 298.1h0.6v0.6h-0.6zM481.5 290.4h0.6v0.6h-0.6zM495.7 277.1h0.6v0.6h-0.6zM491.0 287.0h0.6v0.6h-0.6zM481.5 296.0h0.6v0.6h-0.6zM491.1 285.5h0.6v0.6h-0.6zM492.4 292.1h0.6v0.6h-0.6zM494.3 291.7h0.6v0.6h-0.6zM492.2 281.4h0.6v0.6h-0.6zM487.3 289.1h0.6v0.6h-0.6zM473.6 300.8h0.6v0.6h-0.6zM487.6 282.1h0.6v0.6h-0.6zM479.2 289.8h0.6v0.6h-0.6zM490.0 284.9h0.6v0.6h-0.6zM487.4 283.1h0.6v0.6h-0.6zM485.4 287.7h0.6v0.6h-0.6zM486.0 292.3h0.6v0.6h-0.6zM489.0 289.1h0.6v0.6h-0.6zM492.2 295.7h0.6v0.6h-0.6zM493.3 289.6h0.6v0.6h-0.6zM488.8 283.6h0.6v0.6h-0.6zM487.8 292.3h0.6v0.6h-0.6zM491.1 286.0h0.6v0.6h-0.6zM482.0 279.3h0.6v0.6h-0.6zM491.7 294.3h0.6v0.6h-0.6zM492.0 280.3h0.6v0.6h-0.6zM488.6 289.6h0.6v0.6h-0.6zM484.4 290.3h0.6v0.6h-0.6zM488.6 283.4h0.6v0.6h-0.6zM482.5 293.0h0.6v0.6h-0.6zM491.9 283.1h0.6v0.6h-0.6zM483.9 293.5h0.6v0.6h-0.6zM493.3 286.5h0.6v0.6h-0.6zM499.1 286.6h0.6v0.6h-0.6zM483.6 294.7h0.6v0.6h-0.6zM488.7 290.3h0.6v0.6h-0.6zM490.0 282.4h0.6v0.6h-0.6zM482.9 287.2h0.6v0.6h-0.6zM498.0 282.4h0.6v0.6h-0.6zM497.7 289.6h0.6v0.6h-0.6zM483.3 289.9h0.6v0.6h-0.6zM493.1 283.0h0.6v0.6h-0.6zM477.4 290.4h0.6v0.6h-0.6zM483.3 290.9h0.6v0.6h-0.6zM478.6 287.5h0.6v0.6h-0.6zM485.1 279.7h0.6v0.6h-0.6zM488.4 289.3h0.6v0.6h-0.6zM486.5 281.4h0.6v0.6h-0.6zM491.0 278.1h0.6v0.6h-0.6zM492.9 291.2h0.6v0.6h-0.6zM499.6 293.5h0.6v0.6h-0.6zM491.9 289.8h0.6v0.6h-0.6zM490.0 280.6h0.6v0.6h-0.6zM498.3 291.4h0.6v0.6h-0.6zM488.1 281.6h0.6v0.6h-0.6zM498.5 291.4h0.6v0.6h-0.6zM482.9 292.2h0.6v0.6h-0.6zM500.9 288.2h0.6v0.6h-0.6zM492.1 285.9h0.6v0.6h-0.6zM486.1 294.6h0.6v0.6h-0.6zM507.7 289.0h0.6v0.6h-0.6zM489.1 292.9h0.6v0.6h-0.6zM493.7 291.8h0.6v0.6h-0.6zM509.1 271.5h0.6v0.6h-0.6zM483.2 282.4h0.6v0.6h-0.6zM509.1 286.5h0.6v0.6h-0.6zM514.7 267.3h0.6v0.6h-0.6zM504.5 276.0h0.6v0.6h-0.6zM499.2 287.0h0.6v0.6h-0.6zM484.6 280.6h0.6v0.6h-0.6zM482.0 286.4h0.6v0.6h-0.6zM486.2 277.5h0.6v0.6h-0.6zM500.8 275.7h0.6v0.6h-0.6zM513.4 275.9h0.6v0.6h-0.6zM509.3 286.6h0.6v0.6h-0.6zM483.8 280.8h0.6v0.6h-0.6zM486.4 279.1h0.6v0.6h-0.6zM494.1 304.5h0.6v0.6h-0.6zM492.1 301.6h0.6v0.6h-0.6zM503.9 268.1h0.6v0.6h-0.6zM470.8 291.7h0.6v0.6h-0.6zM511.8 287.8h0.6v0.6h-0.6zM495.0 280.4h0.6v0.6h-0.6zM501.3 279.8h0.6v0.6h-0.6zM490.5 279.0h0.6v0.6h-0.6zM513.7 276.1h0.6v0.6h-0.6zM502.9 269.9h0.6v0.6h-0.6zM488.1 267.3h0.6v0.6h-0.6zM495.1 291.2h0.6v0.6h-0.6zM501.9 277.6h0.6v0.6h-0.6zM506.1 279.3h0.6v0.6h-0.6zM502.8 286.5h0.6v0.6h-0.6zM505.1 254.5h0.6v0.6h-0.6zM480.1 292.3h0.6v0.6h-0.6zM494.6 276.9h0.6v0.6h-0.6zM518.0 289.8h0.6v0.6h-0.6zM523.5 289.2h0.6v0.6h-0.6zM495.0 291.7h0.6v0.6h-0.6zM487.1 278.1h0.6v0.6h-0.6zM490.3 280.7h0.6v0.6h-0.6zM508.3 277.7h0.6v0.6h-0.6zM502.2 277.5h0.6v0.6h-0.6zM509.8 251.3h0.6v0.6h-0.6zM495.0 285.3h0.6v0.6h-0.6zM483.2 295.1h0.6v0.6h-0.6zM500.7 298.2h0.6v0.6h-0.6zM510.8 290.7h0.6v0.6h-0.6zM495.8 270.7h0.6v0.6h-0.6zM494.8 278.0h0.6v0.6h-0.6zM501.2 277.9h0.6v0.6h-0.6zM513.7 277.9h0.6v0.6h-0.6zM494.5 294.0h0.6v0.6h-0.6zM497.8 269.2h0.6v0.6h-0.6zM503.4 281.0h0.6v0.6h-0.6zM470.0 285.6h0.6v0.6h-0.6zM483.5 274.7h0.6v0.6h-0.6zM504.3 286.8h0.6v0.6h-0.6zM493.9 308.4h0.6v0.6h-0.6zM503.5 276.2h0.6v0.6h-0.6z" fill="#2b2bff"/>
<ellipse cx="498.8" cy="274.8" rx="6.6" ry="10.4" fill="#1c1cf4" fill-opacity="0.95" filter="url(#b15)" transform="rotate(-12 498.8 274.8)"/>
<ellipse cx="490.8" cy="285.8" rx="5.2" ry="6.5" fill="#1c1cf4" fill-opacity="0.95" filter="url(#b12)" transform="rotate(-30 490.8 285.8)"/>
<ellipse cx="490.3" cy="278.3" rx="3.6" ry="7.5" fill="#2222f0" fill-opacity="0.75" filter="url(#b15)" transform="rotate(-15 490.3 278.3)"/>
<ellipse cx="487" cy="291.9" rx="5.6" ry="7.0" fill="#1530ff" filter="url(#b08)" transform="rotate(-25 487 291.9)"/>
<ellipse cx="486.6" cy="292.5" rx="4.0" ry="5.4" fill="#22c8f5" filter="url(#b06)" transform="rotate(-20 486.6 292.5)"/>
<ellipse cx="486.4" cy="292.8" rx="2.7" ry="3.4" fill="#40e070" filter="url(#b04)"/>
<circle cx="486.3" cy="293" r="1.3" fill="#f0e030" filter="url(#b04)"/>
<circle cx="486.2" cy="293.2" r="0.6" fill="#f03020"/>
<rect x="467.8" y="238.9" width="71.3" height="70.8" fill="none" stroke="#a0a0a0" stroke-width="0.7"/>
<rect x="489.1" y="243.9" width="30.2" height="42.3" fill="none" stroke="#5a5a5a" stroke-width="0.6"/>
<rect x="505.8" y="287.1" width="33.6" height="5.8" fill="#fff" stroke="#bbb" stroke-width="0.35"/>
<text x="506.8" y="291.4" font-size="4.6" textLength="31.2" lengthAdjust="spacingAndGlyphs" stroke="#333" stroke-width="0.06" fill="#333">CD335+ CD49b+</text>
<text x="502.8" y="250.8" font-size="6.1" stroke="#2a2a2a" stroke-width="0.18" text-anchor="middle" fill="#2a2a2a">24.29%</text>
<text x="484.1" y="304.8" font-size="6.9" textLength="34.2" lengthAdjust="spacingAndGlyphs" stroke="#2a2a2a" stroke-width="0.15" fill="#2a2a2a">OD + aPD-1</text>
<text x="466.6" y="245.8" font-size="2.8" text-anchor="end" fill="#333">10⁵</text>
<line x1="466.9" y1="244.8" x2="467.8" y2="244.8" stroke="#888" stroke-width="0.35"/>
<text x="466.6" y="262.9" font-size="2.8" text-anchor="end" fill="#333">10⁴</text>
<line x1="466.9" y1="261.9" x2="467.8" y2="261.9" stroke="#888" stroke-width="0.35"/>
<text x="466.6" y="281" font-size="2.8" text-anchor="end" fill="#333">10³</text>
<line x1="466.9" y1="280" x2="467.8" y2="280" stroke="#888" stroke-width="0.35"/>
<text x="466.6" y="287.3" font-size="2.8" text-anchor="end" fill="#333">500</text>
<line x1="466.9" y1="286.3" x2="467.8" y2="286.3" stroke="#888" stroke-width="0.35"/>
<text x="466.6" y="297.9" font-size="2.8" text-anchor="end" fill="#333">0</text>
<line x1="466.9" y1="296.9" x2="467.8" y2="296.9" stroke="#888" stroke-width="0.35"/>
<text x="466.6" y="308.2" font-size="2.8" text-anchor="end" fill="#333">-500</text>
<line x1="466.9" y1="307.2" x2="467.8" y2="307.2" stroke="#888" stroke-width="0.35"/>
<text x="469" y="314.9" font-size="2.8" text-anchor="middle" fill="#333">-2000</text>
<line x1="469" y1="309.7" x2="469" y2="310.6" stroke="#888" stroke-width="0.35"/>
<text x="484" y="314.9" font-size="2.8" text-anchor="middle" fill="#333">0</text>
<line x1="484" y1="309.7" x2="484" y2="310.6" stroke="#888" stroke-width="0.35"/>
<text x="500.7" y="314.9" font-size="2.8" text-anchor="middle" fill="#333">2000</text>
<line x1="500.7" y1="309.7" x2="500.7" y2="310.6" stroke="#888" stroke-width="0.35"/>
<text x="515.8" y="314.9" font-size="2.8" text-anchor="middle" fill="#333">10⁴</text>
<line x1="515.8" y1="309.7" x2="515.8" y2="310.6" stroke="#888" stroke-width="0.35"/>
<text x="531.8" y="314.9" font-size="2.8" text-anchor="middle" fill="#333">10⁵</text>
<line x1="531.8" y1="309.7" x2="531.8" y2="310.6" stroke="#888" stroke-width="0.35"/>
<line x1="592.5" y1="180.5" x2="592.5" y2="270.1" stroke="#222" stroke-width="0.9"/>
<line x1="592.5" y1="270.1" x2="682.5" y2="270.1" stroke="#222" stroke-width="0.9"/>
<line x1="589" y1="270.1" x2="592.5" y2="270.1" stroke="#222" stroke-width="0.9"/>
<text x="587.3" y="272.4" font-size="6.5" font-weight="bold" text-anchor="end" fill="#111">0</text>
<line x1="589" y1="240.4" x2="592.5" y2="240.4" stroke="#222" stroke-width="0.9"/>
<text x="587.3" y="242.7" font-size="6.5" font-weight="bold" text-anchor="end" fill="#111">10</text>
<line x1="589" y1="210.7" x2="592.5" y2="210.7" stroke="#222" stroke-width="0.9"/>
<text x="587.3" y="213" font-size="6.5" font-weight="bold" text-anchor="end" fill="#111">20</text>
<line x1="589" y1="181" x2="592.5" y2="181" stroke="#222" stroke-width="0.9"/>
<text x="587.3" y="183.3" font-size="6.5" font-weight="bold" text-anchor="end" fill="#111">30</text>
<rect x="599.5" y="225.7" width="13" height="44.4" fill="#2f2f2f" stroke="#111" stroke-width="1.3"/>
<line x1="606" y1="225.7" x2="606" y2="219.76" stroke="#222" stroke-width="0.8"/>
<line x1="603.8" y1="219.76" x2="608.2" y2="219.76" stroke="#222" stroke-width="0.8"/>
<circle cx="605.7" cy="216.05" r="0.75" fill="#111"/>
<circle cx="606.7" cy="217.23" r="0.75" fill="#111"/>
<circle cx="605.7" cy="229.41" r="0.75" fill="#111"/>
<circle cx="606.7" cy="242.78" r="0.75" fill="#111"/>
<line x1="606" y1="270.1" x2="606" y2="273.5" stroke="#222" stroke-width="0.9"/>
<rect x="620.4" y="228.52" width="13" height="41.58" fill="#7b7b7b" stroke="#111" stroke-width="1.3"/>
<line x1="626.9" y1="228.52" x2="626.9" y2="223.62" stroke="#222" stroke-width="0.8"/>
<line x1="624.7" y1="223.62" x2="629.1" y2="223.62" stroke="#222" stroke-width="0.8"/>
<circle cx="626.6" cy="216.05" r="0.75" fill="#111"/>
<circle cx="627.6" cy="224.66" r="0.75" fill="#111"/>
<circle cx="626.6" cy="232.98" r="0.75" fill="#111"/>
<circle cx="627.6" cy="239.51" r="0.75" fill="#111"/>
<line x1="626.9" y1="270.1" x2="626.9" y2="273.5" stroke="#222" stroke-width="0.9"/>
<rect x="641.2" y="221.99" width="13" height="48.11" fill="#d5d5d5" stroke="#111" stroke-width="1.3"/>
<line x1="647.7" y1="221.99" x2="647.7" y2="218.42" stroke="#222" stroke-width="0.8"/>
<line x1="645.5" y1="218.42" x2="649.9" y2="218.42" stroke="#222" stroke-width="0.8"/>
<circle cx="647.4" cy="217.23" r="0.75" fill="#111"/>
<circle cx="648.4" cy="220.8" r="0.75" fill="#111"/>
<circle cx="647.4" cy="227.93" r="0.75" fill="#111"/>
<line x1="647.7" y1="270.1" x2="647.7" y2="273.5" stroke="#222" stroke-width="0.9"/>
<rect x="661.5" y="204.76" width="13" height="65.34" fill="#ffffff" stroke="#111" stroke-width="1.3"/>
<line x1="668" y1="204.76" x2="668" y2="201.49" stroke="#222" stroke-width="0.8"/>
<line x1="665.8" y1="201.49" x2="670.2" y2="201.49" stroke="#222" stroke-width="0.8"/>
<circle cx="667.7" cy="198.23" r="0.75" fill="#111"/>
<circle cx="668.7" cy="201.79" r="0.75" fill="#111"/>
<circle cx="667.7" cy="212.48" r="0.75" fill="#111"/>
<line x1="668" y1="270.1" x2="668" y2="273.5" stroke="#222" stroke-width="0.9"/>
<line x1="606.1" y1="167.9" x2="668" y2="167.9" stroke="#222" stroke-width="0.9"/>
<text x="637.1" y="167.23" font-size="11" font-weight="bold" text-anchor="middle" fill="#111">*</text>
<line x1="627.1" y1="180.6" x2="668" y2="180.6" stroke="#222" stroke-width="0.9"/>
<text x="647.3" y="180.03" font-size="11" font-weight="bold" text-anchor="middle" fill="#111">**</text>
<line x1="647.3" y1="193.4" x2="668" y2="193.4" stroke="#222" stroke-width="0.9"/>
<text x="657.7" y="192.93" font-size="11" font-weight="bold" text-anchor="middle" fill="#111">**</text>
<text x="566.9" y="226" font-size="7.5" font-weight="bold" text-anchor="middle" fill="#111" transform="rotate(-90 566.9 226)">%CD335+ CD49b+ cells gated on</text>
<text x="575.9" y="226.2" font-size="7.5" font-weight="bold" text-anchor="middle" fill="#111" transform="rotate(-90 575.9 226.2)">live [CD3-] lymphocytes</text>
<text x="607.9" y="281" font-size="6.7" font-weight="bold" text-anchor="end" fill="#111" transform="rotate(-45 607.9 281)">SD no treatment</text>
<text x="628.7" y="281" font-size="6.7" font-weight="bold" text-anchor="end" fill="#111" transform="rotate(-45 628.7 281)">SD + aPD-1</text>
<text x="649.3" y="281" font-size="6.7" font-weight="bold" text-anchor="end" fill="#111" transform="rotate(-45 649.3 281)">OD no treatment</text>
<text x="669.7" y="281" font-size="6.7" font-weight="bold" text-anchor="end" fill="#111" transform="rotate(-45 669.7 281)">OD + aPD-1</text>
<text x="5.6" y="340.7" font-size="11.5" fill="#111">E</text>
<line x1="12.4" y1="353" x2="12.4" y2="513.7" stroke="#1a1a1a" stroke-width="1.25"/>
<path d="M12.4,350.2 L14.5,354.4 L10.3,354.4 Z" fill="#111"/>
<line x1="12.4" y1="513.7" x2="199" y2="513.7" stroke="#333" stroke-width="1.25"/>
<path d="M202,513.7 L198,515.7 L198,511.7 Z" fill="#111"/>
<text x="7" y="425.8" font-size="6.8" text-anchor="middle" fill="#111" transform="rotate(-90 7 425.8)">SSC-A</text>
<text x="102.4" y="522.6" font-size="6.9" text-anchor="middle" fill="#111">NKG2D : PE</text>
<path d="M57.1 409.3h0.6v0.6h-0.6zM48.6 403.0h0.6v0.6h-0.6zM55.7 408.6h0.6v0.6h-0.6zM54.3 414.1h0.6v0.6h-0.6zM56.4 417.2h0.6v0.6h-0.6zM59.0 416.9h0.6v0.6h-0.6zM55.9 411.4h0.6v0.6h-0.6zM54.8 409.1h0.6v0.6h-0.6zM50.3 407.3h0.6v0.6h-0.6zM53.0 407.0h0.6v0.6h-0.6zM60.5 410.9h0.6v0.6h-0.6zM60.6 413.5h0.6v0.6h-0.6zM59.5 414.2h0.6v0.6h-0.6zM54.2 413.3h0.6v0.6h-0.6zM55.2 407.5h0.6v0.6h-0.6zM52.9 417.3h0.6v0.6h-0.6zM59.2 406.1h0.6v0.6h-0.6zM57.2 411.4h0.6v0.6h-0.6zM57.6 408.3h0.6v0.6h-0.6zM51.8 409.9h0.6v0.6h-0.6zM59.3 413.2h0.6v0.6h-0.6zM58.6 414.6h0.6v0.6h-0.6zM52.9 409.6h0.6v0.6h-0.6zM57.5 414.1h0.6v0.6h-0.6zM56.8 412.0h0.6v0.6h-0.6zM48.7 409.7h0.6v0.6h-0.6zM64.9 410.8h0.6v0.6h-0.6zM49.9 410.4h0.6v0.6h-0.6zM51.3 406.9h0.6v0.6h-0.6zM57.1 417.2h0.6v0.6h-0.6zM57.9 412.7h0.6v0.6h-0.6zM59.8 410.7h0.6v0.6h-0.6zM53.3 409.4h0.6v0.6h-0.6zM57.5 408.6h0.6v0.6h-0.6zM54.0 408.2h0.6v0.6h-0.6zM51.1 405.4h0.6v0.6h-0.6zM56.0 408.2h0.6v0.6h-0.6zM56.4 415.9h0.6v0.6h-0.6zM57.3 409.7h0.6v0.6h-0.6zM52.2 405.1h0.6v0.6h-0.6zM57.6 406.0h0.6v0.6h-0.6zM57.8 405.1h0.6v0.6h-0.6zM56.8 409.5h0.6v0.6h-0.6zM59.8 408.1h0.6v0.6h-0.6zM55.0 410.9h0.6v0.6h-0.6zM56.5 417.1h0.6v0.6h-0.6zM55.4 407.5h0.6v0.6h-0.6zM55.2 411.9h0.6v0.6h-0.6zM57.1 412.8h0.6v0.6h-0.6zM62.7 409.7h0.6v0.6h-0.6zM52.1 410.5h0.6v0.6h-0.6zM57.7 400.1h0.6v0.6h-0.6zM56.3 403.4h0.6v0.6h-0.6zM57.9 415.8h0.6v0.6h-0.6zM59.9 403.3h0.6v0.6h-0.6zM61.1 413.7h0.6v0.6h-0.6zM55.0 412.0h0.6v0.6h-0.6zM61.6 408.4h0.6v0.6h-0.6zM56.2 407.4h0.6v0.6h-0.6zM60.3 400.5h0.6v0.6h-0.6zM61.2 405.6h0.6v0.6h-0.6zM59.5 402.8h0.6v0.6h-0.6zM53.1 407.2h0.6v0.6h-0.6zM59.2 402.8h0.6v0.6h-0.6zM58.4 407.0h0.6v0.6h-0.6zM60.6 408.5h0.6v0.6h-0.6zM58.0 409.1h0.6v0.6h-0.6zM62.5 408.2h0.6v0.6h-0.6zM56.6 412.8h0.6v0.6h-0.6zM53.7 410.7h0.6v0.6h-0.6zM48.4 410.3h0.6v0.6h-0.6zM54.1 403.3h0.6v0.6h-0.6zM51.4 414.7h0.6v0.6h-0.6zM57.8 403.2h0.6v0.6h-0.6zM62.6 406.8h0.6v0.6h-0.6zM55.0 410.9h0.6v0.6h-0.6zM52.4 402.8h0.6v0.6h-0.6zM53.7 414.9h0.6v0.6h-0.6zM59.6 403.0h0.6v0.6h-0.6zM60.5 409.9h0.6v0.6h-0.6zM58.0 410.0h0.6v0.6h-0.6zM57.7 405.5h0.6v0.6h-0.6zM53.2 406.8h0.6v0.6h-0.6zM55.0 412.5h0.6v0.6h-0.6zM52.1 416.7h0.6v0.6h-0.6zM54.1 407.3h0.6v0.6h-0.6zM58.7 411.7h0.6v0.6h-0.6zM55.1 405.2h0.6v0.6h-0.6zM52.8 402.9h0.6v0.6h-0.6zM60.3 414.5h0.6v0.6h-0.6zM62.8 412.0h0.6v0.6h-0.6zM57.5 413.1h0.6v0.6h-0.6zM59.6 408.7h0.6v0.6h-0.6zM50.4 403.7h0.6v0.6h-0.6zM53.0 413.1h0.6v0.6h-0.6zM60.4 408.3h0.6v0.6h-0.6zM58.6 409.6h0.6v0.6h-0.6zM57.3 407.5h0.6v0.6h-0.6zM56.2 409.8h0.6v0.6h-0.6zM50.0 412.1h0.6v0.6h-0.6zM56.3 414.0h0.6v0.6h-0.6zM60.0 413.2h0.6v0.6h-0.6zM59.1 405.7h0.6v0.6h-0.6zM50.4 417.0h0.6v0.6h-0.6zM60.5 405.7h0.6v0.6h-0.6zM60.8 412.7h0.6v0.6h-0.6zM47.8 413.7h0.6v0.6h-0.6zM52.9 414.9h0.6v0.6h-0.6zM53.9 406.6h0.6v0.6h-0.6zM50.9 408.9h0.6v0.6h-0.6zM59.8 406.9h0.6v0.6h-0.6zM62.7 412.8h0.6v0.6h-0.6zM54.4 404.5h0.6v0.6h-0.6zM50.6 412.2h0.6v0.6h-0.6zM60.8 405.2h0.6v0.6h-0.6zM56.3 408.6h0.6v0.6h-0.6zM55.4 412.0h0.6v0.6h-0.6zM63.6 407.0h0.6v0.6h-0.6zM59.2 414.5h0.6v0.6h-0.6zM55.3 409.2h0.6v0.6h-0.6zM51.6 414.5h0.6v0.6h-0.6zM54.5 407.0h0.6v0.6h-0.6zM56.5 406.1h0.6v0.6h-0.6zM52.7 408.5h0.6v0.6h-0.6zM61.5 408.9h0.6v0.6h-0.6zM58.1 403.4h0.6v0.6h-0.6zM49.5 417.7h0.6v0.6h-0.6zM54.9 403.1h0.6v0.6h-0.6zM55.9 412.4h0.6v0.6h-0.6zM50.3 406.0h0.6v0.6h-0.6zM57.2 405.8h0.6v0.6h-0.6zM59.1 414.0h0.6v0.6h-0.6zM57.8 407.9h0.6v0.6h-0.6zM56.1 407.1h0.6v0.6h-0.6zM55.8 411.2h0.6v0.6h-0.6zM55.3 414.0h0.6v0.6h-0.6zM65.3 407.4h0.6v0.6h-0.6zM57.5 413.4h0.6v0.6h-0.6zM58.5 408.8h0.6v0.6h-0.6zM54.6 414.2h0.6v0.6h-0.6zM58.5 412.0h0.6v0.6h-0.6zM53.5 412.5h0.6v0.6h-0.6zM59.1 409.0h0.6v0.6h-0.6zM49.8 412.4h0.6v0.6h-0.6zM52.2 403.9h0.6v0.6h-0.6zM55.5 412.2h0.6v0.6h-0.6zM56.5 404.7h0.6v0.6h-0.6zM51.3 407.4h0.6v0.6h-0.6zM56.3 406.2h0.6v0.6h-0.6zM51.1 417.4h0.6v0.6h-0.6zM53.4 409.1h0.6v0.6h-0.6zM60.0 411.8h0.6v0.6h-0.6zM65.1 412.6h0.6v0.6h-0.6zM70.2 410.3h0.6v0.6h-0.6zM51.9 418.2h0.6v0.6h-0.6zM64.1 415.2h0.6v0.6h-0.6zM75.1 414.7h0.6v0.6h-0.6zM65.1 409.4h0.6v0.6h-0.6zM50.9 415.8h0.6v0.6h-0.6zM70.7 414.7h0.6v0.6h-0.6zM50.3 407.9h0.6v0.6h-0.6zM55.6 410.3h0.6v0.6h-0.6zM66.2 410.7h0.6v0.6h-0.6zM78.6 411.7h0.6v0.6h-0.6zM59.9 415.5h0.6v0.6h-0.6zM67.7 411.0h0.6v0.6h-0.6zM72.0 418.1h0.6v0.6h-0.6zM54.1 412.7h0.6v0.6h-0.6zM55.4 408.4h0.6v0.6h-0.6zM70.3 415.1h0.6v0.6h-0.6zM73.3 414.4h0.6v0.6h-0.6zM47.2 413.2h0.6v0.6h-0.6zM59.0 410.3h0.6v0.6h-0.6zM55.1 415.2h0.6v0.6h-0.6zM62.2 418.3h0.6v0.6h-0.6zM68.9 408.5h0.6v0.6h-0.6zM72.6 416.5h0.6v0.6h-0.6zM65.1 410.2h0.6v0.6h-0.6zM80.3 410.0h0.6v0.6h-0.6zM64.1 408.5h0.6v0.6h-0.6zM53.8 409.0h0.6v0.6h-0.6zM74.3 416.3h0.6v0.6h-0.6zM61.3 409.9h0.6v0.6h-0.6zM64.3 414.3h0.6v0.6h-0.6zM51.4 410.4h0.6v0.6h-0.6zM63.9 415.1h0.6v0.6h-0.6zM65.5 414.4h0.6v0.6h-0.6zM53.9 407.0h0.6v0.6h-0.6zM67.5 411.0h0.6v0.6h-0.6zM63.7 412.3h0.6v0.6h-0.6zM69.0 411.3h0.6v0.6h-0.6zM77.5 413.4h0.6v0.6h-0.6zM69.4 414.9h0.6v0.6h-0.6zM73.9 414.3h0.6v0.6h-0.6zM49.4 411.7h0.6v0.6h-0.6zM81.2 414.5h0.6v0.6h-0.6zM69.7 414.5h0.6v0.6h-0.6zM59.2 411.6h0.6v0.6h-0.6zM59.1 416.2h0.6v0.6h-0.6zM68.0 417.8h0.6v0.6h-0.6zM69.2 418.1h0.6v0.6h-0.6zM68.8 410.3h0.6v0.6h-0.6zM80.1 414.2h0.6v0.6h-0.6zM75.3 413.8h0.6v0.6h-0.6zM61.9 413.7h0.6v0.6h-0.6zM54.9 410.3h0.6v0.6h-0.6zM57.0 412.0h0.6v0.6h-0.6zM52.8 413.0h0.6v0.6h-0.6zM81.0 413.2h0.6v0.6h-0.6zM72.6 412.7h0.6v0.6h-0.6zM68.3 413.2h0.6v0.6h-0.6zM60.0 413.5h0.6v0.6h-0.6zM51.7 414.4h0.6v0.6h-0.6zM62.2 410.5h0.6v0.6h-0.6zM61.6 414.7h0.6v0.6h-0.6zM58.8 414.5h0.6v0.6h-0.6zM69.8 417.3h0.6v0.6h-0.6zM55.2 413.0h0.6v0.6h-0.6zM69.3 417.1h0.6v0.6h-0.6zM67.1 415.2h0.6v0.6h-0.6zM51.8 411.8h0.6v0.6h-0.6zM79.5 412.6h0.6v0.6h-0.6zM84.0 411.4h0.6v0.6h-0.6zM62.3 409.2h0.6v0.6h-0.6zM70.4 414.0h0.6v0.6h-0.6zM82.7 413.7h0.6v0.6h-0.6zM62.6 409.7h0.6v0.6h-0.6zM64.1 415.7h0.6v0.6h-0.6zM71.4 416.4h0.6v0.6h-0.6zM72.5 413.2h0.6v0.6h-0.6zM70.2 413.7h0.6v0.6h-0.6zM53.0 417.7h0.6v0.6h-0.6zM68.1 410.6h0.6v0.6h-0.6zM68.2 414.0h0.6v0.6h-0.6zM73.7 417.0h0.6v0.6h-0.6zM78.4 410.9h0.6v0.6h-0.6zM48.3 414.0h0.6v0.6h-0.6zM67.8 414.2h0.6v0.6h-0.6zM54.9 412.1h0.6v0.6h-0.6zM66.5 415.2h0.6v0.6h-0.6zM84.3 414.1h0.6v0.6h-0.6zM59.4 407.2h0.6v0.6h-0.6zM74.4 413.0h0.6v0.6h-0.6zM63.8 410.8h0.6v0.6h-0.6zM71.3 408.7h0.6v0.6h-0.6zM65.8 413.6h0.6v0.6h-0.6zM67.5 416.7h0.6v0.6h-0.6zM63.9 413.5h0.6v0.6h-0.6zM72.4 409.3h0.6v0.6h-0.6zM62.2 413.5h0.6v0.6h-0.6zM73.3 411.2h0.6v0.6h-0.6zM72.0 414.3h0.6v0.6h-0.6zM51.5 409.5h0.6v0.6h-0.6zM52.0 413.7h0.6v0.6h-0.6zM66.6 415.2h0.6v0.6h-0.6zM72.1 411.9h0.6v0.6h-0.6zM74.4 415.4h0.6v0.6h-0.6zM69.0 414.5h0.6v0.6h-0.6zM53.3 414.2h0.6v0.6h-0.6zM55.6 410.2h0.6v0.6h-0.6zM61.7 413.7h0.6v0.6h-0.6zM64.3 412.4h0.6v0.6h-0.6zM55.9 413.8h0.6v0.6h-0.6zM58.2 409.7h0.6v0.6h-0.6zM65.6 417.1h0.6v0.6h-0.6zM61.2 410.6h0.6v0.6h-0.6zM77.2 417.7h0.6v0.6h-0.6zM62.2 412.8h0.6v0.6h-0.6z" fill="#2f3cff"/>
<ellipse cx="55" cy="409.6" rx="3.8" ry="6.8" fill="#2233f6" filter="url(#b10)"/>
<ellipse cx="63.8" cy="413.9" rx="11.5" ry="2.7" fill="#2233f6" filter="url(#b10)"/>
<ellipse cx="55.3" cy="410.3" rx="2.0" ry="3.5" fill="#3a70ff" fill-opacity="0.7" filter="url(#b10)"/>
<ellipse cx="63.3" cy="414.7" rx="8.6" ry="1.25" fill="#30e068" filter="url(#b04)"/>
<rect x="33.8" y="350.3" width="71" height="70.3" fill="none" stroke="#999" stroke-width="0.7"/>
<rect x="45.5" y="399.5" width="54.9" height="19.3" fill="none" stroke="#444" stroke-width="0.55"/>
<line x1="58.2" y1="399.5" x2="58.2" y2="418.8" stroke="#222" stroke-width="0.7"/>
<rect x="34.6" y="394.7" width="16.9" height="4" fill="#fff" stroke="#bbb" stroke-width="0.35"/>
<text x="35.3" y="397.8" font-size="4.3" textLength="14.5" lengthAdjust="spacingAndGlyphs" stroke="#333" stroke-width="0.06" fill="#333">NKG2D-</text>
<rect x="86.7" y="393.9" width="17.6" height="4.8" fill="#fff" stroke="#bbb" stroke-width="0.35"/>
<text x="87.8" y="397.7" font-size="4.3" textLength="15.2" lengthAdjust="spacingAndGlyphs" stroke="#333" stroke-width="0.06" fill="#333">NKG2D+</text>
<text x="89.1" y="415.6" font-size="6.4" stroke="#2a2a2a" stroke-width="0.18" text-anchor="middle" fill="#2a2a2a">56.90%</text>
<text x="43.1" y="374.6" font-size="6.9" textLength="49.5" lengthAdjust="spacingAndGlyphs" stroke="#2a2a2a" stroke-width="0.15" fill="#2a2a2a">SD no treatment</text>
<text x="32.6" y="354" font-size="2.8" text-anchor="end" fill="#333">250</text>
<line x1="32.9" y1="353" x2="33.8" y2="353" stroke="#888" stroke-width="0.35"/>
<text x="32.6" y="367.7" font-size="2.8" text-anchor="end" fill="#333">200</text>
<line x1="32.9" y1="366.7" x2="33.8" y2="366.7" stroke="#888" stroke-width="0.35"/>
<text x="32.6" y="381.3" font-size="2.8" text-anchor="end" fill="#333">150</text>
<line x1="32.9" y1="380.3" x2="33.8" y2="380.3" stroke="#888" stroke-width="0.35"/>
<text x="32.6" y="395" font-size="2.8" text-anchor="end" fill="#333">100</text>
<line x1="32.9" y1="394" x2="33.8" y2="394" stroke="#888" stroke-width="0.35"/>
<text x="32.6" y="408.2" font-size="2.8" text-anchor="end" fill="#333">50</text>
<line x1="32.9" y1="407.2" x2="33.8" y2="407.2" stroke="#888" stroke-width="0.35"/>
<text x="32.6" y="421.4" font-size="2.8" text-anchor="end" fill="#333">0</text>
<line x1="32.9" y1="420.4" x2="33.8" y2="420.4" stroke="#888" stroke-width="0.35"/>
<text x="40.2" y="425.4" font-size="2.8" text-anchor="middle" fill="#333">-2000</text>
<text x="52.3" y="425.4" font-size="2.8" text-anchor="middle" fill="#333">0</text>
<text x="65.9" y="425.4" font-size="2.8" text-anchor="middle" fill="#333">2000</text>
<text x="80.3" y="425.4" font-size="2.8" text-anchor="middle" fill="#333">10⁴</text>
<text x="96.4" y="425.4" font-size="2.8" text-anchor="middle" fill="#333">10⁵</text>
<path d="M147.0 414.3h0.6v0.6h-0.6zM148.1 401.7h0.6v0.6h-0.6zM142.6 404.3h0.6v0.6h-0.6zM148.1 410.3h0.6v0.6h-0.6zM152.9 408.6h0.6v0.6h-0.6zM147.6 410.1h0.6v0.6h-0.6zM147.5 416.4h0.6v0.6h-0.6zM151.2 407.1h0.6v0.6h-0.6zM149.0 408.1h0.6v0.6h-0.6zM146.9 410.5h0.6v0.6h-0.6zM146.6 407.7h0.6v0.6h-0.6zM152.1 408.6h0.6v0.6h-0.6zM149.0 417.3h0.6v0.6h-0.6zM148.7 414.4h0.6v0.6h-0.6zM151.5 414.7h0.6v0.6h-0.6zM152.7 403.4h0.6v0.6h-0.6zM153.5 409.9h0.6v0.6h-0.6zM140.2 406.9h0.6v0.6h-0.6zM141.5 409.7h0.6v0.6h-0.6zM141.2 405.3h0.6v0.6h-0.6zM147.6 410.5h0.6v0.6h-0.6zM143.6 408.7h0.6v0.6h-0.6zM146.1 410.1h0.6v0.6h-0.6zM146.5 408.8h0.6v0.6h-0.6zM149.7 402.6h0.6v0.6h-0.6zM144.7 410.4h0.6v0.6h-0.6zM145.1 407.3h0.6v0.6h-0.6zM144.9 410.7h0.6v0.6h-0.6zM151.0 409.0h0.6v0.6h-0.6zM145.5 411.4h0.6v0.6h-0.6zM145.6 401.1h0.6v0.6h-0.6zM147.5 408.1h0.6v0.6h-0.6zM144.4 412.6h0.6v0.6h-0.6zM146.7 407.3h0.6v0.6h-0.6zM138.7 402.1h0.6v0.6h-0.6zM146.6 409.3h0.6v0.6h-0.6zM148.1 410.8h0.6v0.6h-0.6zM144.8 404.1h0.6v0.6h-0.6zM142.6 409.2h0.6v0.6h-0.6zM142.4 413.2h0.6v0.6h-0.6zM141.7 401.7h0.6v0.6h-0.6zM145.8 401.8h0.6v0.6h-0.6zM152.4 405.3h0.6v0.6h-0.6zM146.3 408.7h0.6v0.6h-0.6zM143.5 401.8h0.6v0.6h-0.6zM139.8 413.7h0.6v0.6h-0.6zM141.2 412.3h0.6v0.6h-0.6zM146.4 413.6h0.6v0.6h-0.6zM144.7 413.0h0.6v0.6h-0.6zM149.7 412.5h0.6v0.6h-0.6zM151.7 409.0h0.6v0.6h-0.6zM152.1 406.6h0.6v0.6h-0.6zM146.5 406.2h0.6v0.6h-0.6zM146.5 414.4h0.6v0.6h-0.6zM149.1 410.2h0.6v0.6h-0.6zM152.6 403.2h0.6v0.6h-0.6zM143.6 416.6h0.6v0.6h-0.6zM147.7 400.5h0.6v0.6h-0.6zM147.7 404.5h0.6v0.6h-0.6zM151.8 414.9h0.6v0.6h-0.6zM144.5 415.6h0.6v0.6h-0.6zM143.5 413.9h0.6v0.6h-0.6zM148.6 409.2h0.6v0.6h-0.6zM141.4 408.5h0.6v0.6h-0.6zM138.3 407.3h0.6v0.6h-0.6zM139.8 415.3h0.6v0.6h-0.6zM148.6 411.5h0.6v0.6h-0.6zM149.3 410.1h0.6v0.6h-0.6zM148.2 414.1h0.6v0.6h-0.6zM144.4 403.4h0.6v0.6h-0.6zM146.3 402.3h0.6v0.6h-0.6zM146.5 413.3h0.6v0.6h-0.6zM151.9 411.0h0.6v0.6h-0.6zM147.2 413.2h0.6v0.6h-0.6zM151.5 408.4h0.6v0.6h-0.6zM142.1 406.2h0.6v0.6h-0.6zM142.0 405.8h0.6v0.6h-0.6zM146.1 411.3h0.6v0.6h-0.6zM147.1 410.1h0.6v0.6h-0.6zM145.2 411.7h0.6v0.6h-0.6zM149.7 413.2h0.6v0.6h-0.6zM151.9 408.5h0.6v0.6h-0.6zM145.6 417.4h0.6v0.6h-0.6zM147.2 411.7h0.6v0.6h-0.6zM145.3 414.2h0.6v0.6h-0.6zM145.1 405.3h0.6v0.6h-0.6zM146.3 407.8h0.6v0.6h-0.6zM149.5 408.1h0.6v0.6h-0.6zM146.9 408.8h0.6v0.6h-0.6zM147.7 407.0h0.6v0.6h-0.6zM150.5 403.4h0.6v0.6h-0.6zM145.1 406.6h0.6v0.6h-0.6zM148.8 410.0h0.6v0.6h-0.6zM148.2 408.3h0.6v0.6h-0.6zM143.9 404.8h0.6v0.6h-0.6zM145.3 407.4h0.6v0.6h-0.6zM147.5 411.4h0.6v0.6h-0.6zM150.0 409.3h0.6v0.6h-0.6zM143.8 405.0h0.6v0.6h-0.6zM146.7 411.4h0.6v0.6h-0.6zM153.5 410.6h0.6v0.6h-0.6zM152.8 418.2h0.6v0.6h-0.6zM142.7 415.2h0.6v0.6h-0.6zM150.6 415.9h0.6v0.6h-0.6zM146.5 414.1h0.6v0.6h-0.6zM144.8 409.5h0.6v0.6h-0.6zM146.6 417.8h0.6v0.6h-0.6zM145.7 414.1h0.6v0.6h-0.6zM146.7 406.6h0.6v0.6h-0.6zM147.4 412.8h0.6v0.6h-0.6zM143.9 412.7h0.6v0.6h-0.6zM143.9 405.9h0.6v0.6h-0.6zM147.3 408.7h0.6v0.6h-0.6zM143.0 402.5h0.6v0.6h-0.6zM146.6 410.9h0.6v0.6h-0.6zM144.8 410.6h0.6v0.6h-0.6zM141.0 411.6h0.6v0.6h-0.6zM148.0 411.1h0.6v0.6h-0.6zM144.3 410.2h0.6v0.6h-0.6zM147.0 414.6h0.6v0.6h-0.6zM147.5 410.9h0.6v0.6h-0.6zM143.9 413.7h0.6v0.6h-0.6zM150.7 407.6h0.6v0.6h-0.6zM148.8 411.2h0.6v0.6h-0.6zM146.3 404.0h0.6v0.6h-0.6zM152.8 401.4h0.6v0.6h-0.6zM147.6 408.1h0.6v0.6h-0.6zM150.6 407.9h0.6v0.6h-0.6zM146.6 412.5h0.6v0.6h-0.6zM148.1 407.5h0.6v0.6h-0.6zM149.0 411.6h0.6v0.6h-0.6zM150.1 407.5h0.6v0.6h-0.6zM146.3 408.0h0.6v0.6h-0.6zM143.5 410.9h0.6v0.6h-0.6zM148.0 416.2h0.6v0.6h-0.6zM145.3 411.5h0.6v0.6h-0.6zM150.6 409.3h0.6v0.6h-0.6zM146.7 410.4h0.6v0.6h-0.6zM144.0 405.4h0.6v0.6h-0.6zM150.5 410.6h0.6v0.6h-0.6zM146.2 404.2h0.6v0.6h-0.6zM146.9 415.1h0.6v0.6h-0.6zM142.4 405.8h0.6v0.6h-0.6zM150.5 416.2h0.6v0.6h-0.6zM152.1 407.3h0.6v0.6h-0.6zM148.7 406.4h0.6v0.6h-0.6zM148.4 408.2h0.6v0.6h-0.6zM147.2 415.8h0.6v0.6h-0.6zM147.7 408.7h0.6v0.6h-0.6zM146.7 411.0h0.6v0.6h-0.6zM144.7 410.7h0.6v0.6h-0.6zM148.6 416.8h0.6v0.6h-0.6zM139.1 404.5h0.6v0.6h-0.6zM142.1 413.7h0.6v0.6h-0.6zM176.8 413.8h0.6v0.6h-0.6zM156.1 416.2h0.6v0.6h-0.6zM150.5 412.0h0.6v0.6h-0.6zM158.0 411.8h0.6v0.6h-0.6zM164.9 413.3h0.6v0.6h-0.6zM151.0 415.7h0.6v0.6h-0.6zM147.6 416.5h0.6v0.6h-0.6zM163.6 413.7h0.6v0.6h-0.6zM163.9 417.5h0.6v0.6h-0.6zM167.3 413.3h0.6v0.6h-0.6zM154.5 416.2h0.6v0.6h-0.6zM141.9 411.7h0.6v0.6h-0.6zM159.3 414.8h0.6v0.6h-0.6zM171.6 417.8h0.6v0.6h-0.6zM157.9 414.4h0.6v0.6h-0.6zM143.2 412.8h0.6v0.6h-0.6zM157.3 412.7h0.6v0.6h-0.6zM155.5 414.9h0.6v0.6h-0.6zM146.5 411.8h0.6v0.6h-0.6zM139.2 416.2h0.6v0.6h-0.6zM145.6 408.9h0.6v0.6h-0.6zM161.9 412.7h0.6v0.6h-0.6zM163.6 412.4h0.6v0.6h-0.6zM173.9 415.1h0.6v0.6h-0.6zM156.3 413.6h0.6v0.6h-0.6zM153.2 415.4h0.6v0.6h-0.6zM172.8 412.2h0.6v0.6h-0.6zM145.3 414.8h0.6v0.6h-0.6zM164.5 409.5h0.6v0.6h-0.6zM148.8 410.7h0.6v0.6h-0.6zM160.0 414.6h0.6v0.6h-0.6zM148.5 410.4h0.6v0.6h-0.6zM161.1 408.0h0.6v0.6h-0.6zM160.7 412.9h0.6v0.6h-0.6zM172.1 415.9h0.6v0.6h-0.6zM149.9 412.6h0.6v0.6h-0.6zM152.5 411.4h0.6v0.6h-0.6zM155.7 415.8h0.6v0.6h-0.6zM141.6 412.7h0.6v0.6h-0.6zM168.3 415.2h0.6v0.6h-0.6zM147.8 411.2h0.6v0.6h-0.6zM147.4 409.2h0.6v0.6h-0.6zM165.2 413.5h0.6v0.6h-0.6zM148.8 409.6h0.6v0.6h-0.6zM151.6 412.0h0.6v0.6h-0.6zM170.3 412.1h0.6v0.6h-0.6zM156.0 416.0h0.6v0.6h-0.6zM160.9 412.8h0.6v0.6h-0.6zM160.3 412.2h0.6v0.6h-0.6zM154.2 410.9h0.6v0.6h-0.6zM147.0 409.5h0.6v0.6h-0.6zM159.4 414.6h0.6v0.6h-0.6zM156.5 415.3h0.6v0.6h-0.6zM159.7 413.6h0.6v0.6h-0.6zM147.2 414.8h0.6v0.6h-0.6zM165.5 414.9h0.6v0.6h-0.6zM166.0 412.1h0.6v0.6h-0.6zM146.3 416.5h0.6v0.6h-0.6zM149.8 413.9h0.6v0.6h-0.6zM153.3 413.4h0.6v0.6h-0.6zM152.6 411.9h0.6v0.6h-0.6zM139.2 418.2h0.6v0.6h-0.6zM156.8 408.4h0.6v0.6h-0.6zM147.0 410.4h0.6v0.6h-0.6zM148.4 406.8h0.6v0.6h-0.6zM160.1 417.5h0.6v0.6h-0.6zM152.8 415.2h0.6v0.6h-0.6zM160.3 410.1h0.6v0.6h-0.6zM165.8 409.0h0.6v0.6h-0.6zM149.9 412.4h0.6v0.6h-0.6zM166.1 413.6h0.6v0.6h-0.6zM153.9 411.3h0.6v0.6h-0.6zM155.8 413.4h0.6v0.6h-0.6zM161.4 416.9h0.6v0.6h-0.6zM161.5 413.3h0.6v0.6h-0.6zM153.7 417.4h0.6v0.6h-0.6zM156.8 413.3h0.6v0.6h-0.6zM170.8 417.3h0.6v0.6h-0.6zM160.0 413.0h0.6v0.6h-0.6zM149.4 416.0h0.6v0.6h-0.6zM151.0 415.7h0.6v0.6h-0.6zM148.1 413.6h0.6v0.6h-0.6zM158.5 413.7h0.6v0.6h-0.6zM157.1 414.3h0.6v0.6h-0.6zM145.1 410.5h0.6v0.6h-0.6zM153.7 417.9h0.6v0.6h-0.6zM153.9 410.9h0.6v0.6h-0.6zM149.2 413.4h0.6v0.6h-0.6zM165.4 411.9h0.6v0.6h-0.6zM159.9 413.8h0.6v0.6h-0.6zM151.9 410.9h0.6v0.6h-0.6zM153.7 411.5h0.6v0.6h-0.6zM159.7 408.8h0.6v0.6h-0.6zM164.9 415.2h0.6v0.6h-0.6zM160.1 417.1h0.6v0.6h-0.6zM160.3 409.0h0.6v0.6h-0.6zM155.5 414.4h0.6v0.6h-0.6zM149.0 410.4h0.6v0.6h-0.6zM158.8 414.6h0.6v0.6h-0.6zM151.3 412.7h0.6v0.6h-0.6zM150.5 411.9h0.6v0.6h-0.6zM154.5 416.0h0.6v0.6h-0.6zM140.9 412.4h0.6v0.6h-0.6zM169.2 414.1h0.6v0.6h-0.6zM156.4 415.4h0.6v0.6h-0.6zM146.2 410.2h0.6v0.6h-0.6zM140.4 409.6h0.6v0.6h-0.6zM157.2 415.5h0.6v0.6h-0.6zM151.3 411.6h0.6v0.6h-0.6zM158.5 414.9h0.6v0.6h-0.6zM157.3 408.5h0.6v0.6h-0.6zM150.2 406.9h0.6v0.6h-0.6zM157.1 411.1h0.6v0.6h-0.6zM149.2 417.1h0.6v0.6h-0.6zM166.6 414.5h0.6v0.6h-0.6zM157.4 413.7h0.6v0.6h-0.6z" fill="#2f3cff"/>
<ellipse cx="145.2" cy="409.6" rx="3.8" ry="6.8" fill="#2233f6" filter="url(#b10)"/>
<ellipse cx="154" cy="413.9" rx="11.5" ry="2.7" fill="#2233f6" filter="url(#b10)"/>
<ellipse cx="145.5" cy="410.3" rx="2.0" ry="3.5" fill="#3a70ff" fill-opacity="0.7" filter="url(#b10)"/>
<ellipse cx="153.5" cy="414.7" rx="8.6" ry="1.25" fill="#30e068" filter="url(#b04)"/>
<rect x="124" y="350.3" width="71" height="70.3" fill="none" stroke="#999" stroke-width="0.7"/>
<rect x="135.7" y="399.5" width="54.9" height="19.3" fill="none" stroke="#444" stroke-width="0.55"/>
<line x1="148.4" y1="399.5" x2="148.4" y2="418.8" stroke="#222" stroke-width="0.7"/>
<rect x="124.8" y="394.7" width="16.9" height="4" fill="#fff" stroke="#bbb" stroke-width="0.35"/>
<text x="125.5" y="397.8" font-size="4.3" textLength="14.5" lengthAdjust="spacingAndGlyphs" stroke="#333" stroke-width="0.06" fill="#333">NKG2D-</text>
<rect x="176.9" y="393.9" width="17.6" height="4.8" fill="#fff" stroke="#bbb" stroke-width="0.35"/>
<text x="178" y="397.7" font-size="4.3" textLength="15.2" lengthAdjust="spacingAndGlyphs" stroke="#333" stroke-width="0.06" fill="#333">NKG2D+</text>
<text x="180" y="415.6" font-size="6.4" stroke="#2a2a2a" stroke-width="0.18" text-anchor="middle" fill="#2a2a2a">57.80%</text>
<text x="144.7" y="376.1" font-size="6.9" textLength="32.4" lengthAdjust="spacingAndGlyphs" stroke="#2a2a2a" stroke-width="0.15" fill="#2a2a2a">SD + aPD-1</text>
<text x="122.8" y="354" font-size="2.8" text-anchor="end" fill="#333">250</text>
<line x1="123.1" y1="353" x2="124" y2="353" stroke="#888" stroke-width="0.35"/>
<text x="122.8" y="367.7" font-size="2.8" text-anchor="end" fill="#333">200</text>
<line x1="123.1" y1="366.7" x2="124" y2="366.7" stroke="#888" stroke-width="0.35"/>
<text x="122.8" y="381.3" font-size="2.8" text-anchor="end" fill="#333">150</text>
<line x1="123.1" y1="380.3" x2="124" y2="380.3" stroke="#888" stroke-width="0.35"/>
<text x="122.8" y="395" font-size="2.8" text-anchor="end" fill="#333">100</text>
<line x1="123.1" y1="394" x2="124" y2="394" stroke="#888" stroke-width="0.35"/>
<text x="122.8" y="408.2" font-size="2.8" text-anchor="end" fill="#333">50</text>
<line x1="123.1" y1="407.2" x2="124" y2="407.2" stroke="#888" stroke-width="0.35"/>
<text x="122.8" y="421.4" font-size="2.8" text-anchor="end" fill="#333">0</text>
<line x1="123.1" y1="420.4" x2="124" y2="420.4" stroke="#888" stroke-width="0.35"/>
<text x="130.4" y="425.4" font-size="2.8" text-anchor="middle" fill="#333">-2000</text>
<text x="142.5" y="425.4" font-size="2.8" text-anchor="middle" fill="#333">0</text>
<text x="156.1" y="425.4" font-size="2.8" text-anchor="middle" fill="#333">2000</text>
<text x="170.5" y="425.4" font-size="2.8" text-anchor="middle" fill="#333">10⁴</text>
<text x="186.6" y="425.4" font-size="2.8" text-anchor="middle" fill="#333">10⁵</text>
<path d="M53.5 490.4h0.6v0.6h-0.6zM62.3 486.8h0.6v0.6h-0.6zM53.3 491.3h0.6v0.6h-0.6zM58.7 494.3h0.6v0.6h-0.6zM52.2 490.0h0.6v0.6h-0.6zM54.7 485.2h0.6v0.6h-0.6zM55.9 488.5h0.6v0.6h-0.6zM58.8 492.5h0.6v0.6h-0.6zM52.9 491.0h0.6v0.6h-0.6zM54.4 487.8h0.6v0.6h-0.6zM53.9 495.3h0.6v0.6h-0.6zM54.2 483.1h0.6v0.6h-0.6zM52.9 494.1h0.6v0.6h-0.6zM63.1 486.0h0.6v0.6h-0.6zM54.4 489.2h0.6v0.6h-0.6zM50.7 492.4h0.6v0.6h-0.6zM55.4 491.8h0.6v0.6h-0.6zM63.4 489.4h0.6v0.6h-0.6zM58.4 494.3h0.6v0.6h-0.6zM53.4 488.0h0.6v0.6h-0.6zM61.1 493.7h0.6v0.6h-0.6zM56.1 485.8h0.6v0.6h-0.6zM58.7 492.9h0.6v0.6h-0.6zM63.3 497.1h0.6v0.6h-0.6zM58.4 491.8h0.6v0.6h-0.6zM55.8 488.2h0.6v0.6h-0.6zM56.7 491.7h0.6v0.6h-0.6zM57.9 495.4h0.6v0.6h-0.6zM56.7 488.2h0.6v0.6h-0.6zM58.4 497.4h0.6v0.6h-0.6zM52.7 492.4h0.6v0.6h-0.6zM57.5 492.9h0.6v0.6h-0.6zM57.4 490.2h0.6v0.6h-0.6zM55.2 498.0h0.6v0.6h-0.6zM61.7 484.5h0.6v0.6h-0.6zM46.7 492.5h0.6v0.6h-0.6zM53.2 488.3h0.6v0.6h-0.6zM50.0 492.1h0.6v0.6h-0.6zM55.4 488.2h0.6v0.6h-0.6zM60.8 495.7h0.6v0.6h-0.6zM54.2 493.5h0.6v0.6h-0.6zM55.5 495.7h0.6v0.6h-0.6zM57.6 490.4h0.6v0.6h-0.6zM57.5 487.5h0.6v0.6h-0.6zM58.4 497.2h0.6v0.6h-0.6zM54.3 493.0h0.6v0.6h-0.6zM49.8 494.7h0.6v0.6h-0.6zM58.7 486.1h0.6v0.6h-0.6zM61.7 491.1h0.6v0.6h-0.6zM49.5 484.6h0.6v0.6h-0.6zM58.7 489.4h0.6v0.6h-0.6zM59.5 483.8h0.6v0.6h-0.6zM55.3 494.9h0.6v0.6h-0.6zM53.2 493.6h0.6v0.6h-0.6zM54.3 492.1h0.6v0.6h-0.6zM51.3 494.0h0.6v0.6h-0.6zM60.2 485.7h0.6v0.6h-0.6zM54.8 483.1h0.6v0.6h-0.6zM56.7 487.4h0.6v0.6h-0.6zM53.6 486.9h0.6v0.6h-0.6zM56.6 488.6h0.6v0.6h-0.6zM52.4 489.6h0.6v0.6h-0.6zM57.0 486.9h0.6v0.6h-0.6zM59.5 483.3h0.6v0.6h-0.6zM57.0 488.9h0.6v0.6h-0.6zM61.1 487.8h0.6v0.6h-0.6zM53.3 484.7h0.6v0.6h-0.6zM62.5 493.3h0.6v0.6h-0.6zM51.8 489.1h0.6v0.6h-0.6zM52.3 497.3h0.6v0.6h-0.6zM57.1 481.7h0.6v0.6h-0.6zM56.3 494.6h0.6v0.6h-0.6zM55.6 492.7h0.6v0.6h-0.6zM55.2 491.5h0.6v0.6h-0.6zM56.3 487.5h0.6v0.6h-0.6zM56.8 491.3h0.6v0.6h-0.6zM55.5 487.6h0.6v0.6h-0.6zM52.1 491.7h0.6v0.6h-0.6zM53.7 496.5h0.6v0.6h-0.6zM58.8 487.5h0.6v0.6h-0.6zM60.3 486.3h0.6v0.6h-0.6zM52.8 499.1h0.6v0.6h-0.6zM54.1 489.7h0.6v0.6h-0.6zM49.8 486.2h0.6v0.6h-0.6zM51.5 490.0h0.6v0.6h-0.6zM49.2 495.3h0.6v0.6h-0.6zM54.4 488.0h0.6v0.6h-0.6zM53.4 493.9h0.6v0.6h-0.6zM61.0 488.8h0.6v0.6h-0.6zM61.2 497.6h0.6v0.6h-0.6zM60.3 491.9h0.6v0.6h-0.6zM50.4 493.5h0.6v0.6h-0.6zM54.2 491.5h0.6v0.6h-0.6zM49.0 489.4h0.6v0.6h-0.6zM56.4 486.5h0.6v0.6h-0.6zM56.6 497.9h0.6v0.6h-0.6zM56.4 487.6h0.6v0.6h-0.6zM64.0 481.2h0.6v0.6h-0.6zM52.4 492.4h0.6v0.6h-0.6zM56.5 494.2h0.6v0.6h-0.6zM52.8 497.0h0.6v0.6h-0.6zM57.4 495.8h0.6v0.6h-0.6zM50.3 490.6h0.6v0.6h-0.6zM60.2 490.6h0.6v0.6h-0.6zM56.2 487.9h0.6v0.6h-0.6zM59.5 487.6h0.6v0.6h-0.6zM56.0 481.6h0.6v0.6h-0.6zM50.3 498.4h0.6v0.6h-0.6zM55.8 491.5h0.6v0.6h-0.6zM47.9 490.5h0.6v0.6h-0.6zM62.9 484.0h0.6v0.6h-0.6zM47.3 489.9h0.6v0.6h-0.6zM53.7 489.7h0.6v0.6h-0.6zM51.2 484.6h0.6v0.6h-0.6zM51.3 493.4h0.6v0.6h-0.6zM55.4 494.2h0.6v0.6h-0.6zM51.8 493.2h0.6v0.6h-0.6zM54.0 491.0h0.6v0.6h-0.6zM58.9 490.7h0.6v0.6h-0.6zM54.4 483.3h0.6v0.6h-0.6zM55.8 494.0h0.6v0.6h-0.6zM53.4 490.3h0.6v0.6h-0.6zM49.4 484.7h0.6v0.6h-0.6zM57.0 496.3h0.6v0.6h-0.6zM54.5 483.2h0.6v0.6h-0.6zM54.3 483.7h0.6v0.6h-0.6zM56.7 489.9h0.6v0.6h-0.6zM59.3 488.9h0.6v0.6h-0.6zM56.8 491.5h0.6v0.6h-0.6zM57.2 484.1h0.6v0.6h-0.6zM58.1 494.5h0.6v0.6h-0.6zM52.4 497.2h0.6v0.6h-0.6zM55.7 493.6h0.6v0.6h-0.6zM57.6 494.5h0.6v0.6h-0.6zM53.3 488.0h0.6v0.6h-0.6zM56.9 493.3h0.6v0.6h-0.6zM57.6 492.1h0.6v0.6h-0.6zM53.9 495.5h0.6v0.6h-0.6zM57.3 495.3h0.6v0.6h-0.6zM46.6 495.1h0.6v0.6h-0.6zM47.0 491.5h0.6v0.6h-0.6zM53.2 491.1h0.6v0.6h-0.6zM53.9 489.2h0.6v0.6h-0.6zM56.3 492.1h0.6v0.6h-0.6zM52.8 493.0h0.6v0.6h-0.6zM52.6 492.5h0.6v0.6h-0.6zM54.3 486.4h0.6v0.6h-0.6zM59.7 498.0h0.6v0.6h-0.6zM55.2 490.4h0.6v0.6h-0.6zM59.0 484.7h0.6v0.6h-0.6zM56.4 497.0h0.6v0.6h-0.6zM72.1 492.8h0.6v0.6h-0.6zM57.2 495.0h0.6v0.6h-0.6zM51.6 492.8h0.6v0.6h-0.6zM62.0 487.8h0.6v0.6h-0.6zM69.4 496.1h0.6v0.6h-0.6zM73.6 490.4h0.6v0.6h-0.6zM52.7 492.0h0.6v0.6h-0.6zM55.4 493.3h0.6v0.6h-0.6zM65.9 495.3h0.6v0.6h-0.6zM77.0 491.3h0.6v0.6h-0.6zM71.9 494.5h0.6v0.6h-0.6zM53.7 494.5h0.6v0.6h-0.6zM51.6 498.3h0.6v0.6h-0.6zM57.6 496.7h0.6v0.6h-0.6zM75.7 492.5h0.6v0.6h-0.6zM56.1 494.4h0.6v0.6h-0.6zM54.7 496.4h0.6v0.6h-0.6zM65.7 492.1h0.6v0.6h-0.6zM58.0 496.0h0.6v0.6h-0.6zM51.1 498.5h0.6v0.6h-0.6zM57.1 493.6h0.6v0.6h-0.6zM55.8 498.3h0.6v0.6h-0.6zM71.5 497.5h0.6v0.6h-0.6zM69.9 494.3h0.6v0.6h-0.6zM79.3 495.8h0.6v0.6h-0.6zM68.0 495.6h0.6v0.6h-0.6zM70.7 494.8h0.6v0.6h-0.6zM62.6 490.0h0.6v0.6h-0.6zM82.5 490.7h0.6v0.6h-0.6zM81.4 497.3h0.6v0.6h-0.6zM58.7 494.8h0.6v0.6h-0.6zM63.9 489.0h0.6v0.6h-0.6zM61.1 494.9h0.6v0.6h-0.6zM74.6 491.0h0.6v0.6h-0.6zM67.1 494.3h0.6v0.6h-0.6zM65.4 494.5h0.6v0.6h-0.6zM60.8 490.6h0.6v0.6h-0.6zM68.2 495.1h0.6v0.6h-0.6zM69.3 497.3h0.6v0.6h-0.6zM53.0 488.0h0.6v0.6h-0.6zM55.9 495.1h0.6v0.6h-0.6zM64.0 496.0h0.6v0.6h-0.6zM93.0 492.8h0.6v0.6h-0.6zM62.6 492.5h0.6v0.6h-0.6zM66.3 495.5h0.6v0.6h-0.6zM55.4 497.5h0.6v0.6h-0.6zM74.4 495.3h0.6v0.6h-0.6zM63.1 493.5h0.6v0.6h-0.6zM49.3 495.8h0.6v0.6h-0.6zM55.3 492.8h0.6v0.6h-0.6zM73.1 491.7h0.6v0.6h-0.6zM59.4 496.3h0.6v0.6h-0.6zM80.8 492.3h0.6v0.6h-0.6zM74.0 492.4h0.6v0.6h-0.6zM67.6 495.4h0.6v0.6h-0.6zM53.9 496.8h0.6v0.6h-0.6zM80.3 494.2h0.6v0.6h-0.6zM66.5 491.1h0.6v0.6h-0.6zM80.2 494.3h0.6v0.6h-0.6zM52.6 496.1h0.6v0.6h-0.6zM50.9 492.3h0.6v0.6h-0.6zM84.0 492.4h0.6v0.6h-0.6zM58.2 492.6h0.6v0.6h-0.6zM59.0 495.5h0.6v0.6h-0.6zM77.2 491.5h0.6v0.6h-0.6zM68.1 489.4h0.6v0.6h-0.6zM77.8 493.9h0.6v0.6h-0.6zM57.8 498.1h0.6v0.6h-0.6zM63.1 497.7h0.6v0.6h-0.6zM73.8 498.4h0.6v0.6h-0.6zM56.9 494.2h0.6v0.6h-0.6zM67.4 493.6h0.6v0.6h-0.6zM77.8 492.2h0.6v0.6h-0.6zM73.1 497.6h0.6v0.6h-0.6zM46.5 491.6h0.6v0.6h-0.6zM56.0 492.7h0.6v0.6h-0.6zM67.6 493.6h0.6v0.6h-0.6zM64.8 492.9h0.6v0.6h-0.6zM63.4 495.4h0.6v0.6h-0.6zM70.8 492.1h0.6v0.6h-0.6zM63.1 492.1h0.6v0.6h-0.6zM62.5 490.4h0.6v0.6h-0.6zM72.7 495.8h0.6v0.6h-0.6zM63.0 492.3h0.6v0.6h-0.6zM60.0 492.4h0.6v0.6h-0.6zM50.2 498.3h0.6v0.6h-0.6zM93.7 490.9h0.6v0.6h-0.6zM53.6 495.6h0.6v0.6h-0.6zM69.6 490.0h0.6v0.6h-0.6zM46.8 495.5h0.6v0.6h-0.6zM46.2 497.8h0.6v0.6h-0.6zM59.6 494.3h0.6v0.6h-0.6zM64.1 492.6h0.6v0.6h-0.6zM62.8 493.3h0.6v0.6h-0.6zM75.3 493.9h0.6v0.6h-0.6zM63.8 492.7h0.6v0.6h-0.6zM58.4 492.2h0.6v0.6h-0.6zM64.2 498.9h0.6v0.6h-0.6zM74.1 494.7h0.6v0.6h-0.6zM79.1 496.7h0.6v0.6h-0.6zM66.0 493.7h0.6v0.6h-0.6zM54.2 494.7h0.6v0.6h-0.6zM61.3 490.0h0.6v0.6h-0.6zM66.0 495.4h0.6v0.6h-0.6zM65.9 492.9h0.6v0.6h-0.6zM68.3 496.9h0.6v0.6h-0.6zM61.3 495.4h0.6v0.6h-0.6zM73.3 492.8h0.6v0.6h-0.6zM65.6 492.2h0.6v0.6h-0.6zM69.5 493.1h0.6v0.6h-0.6zM74.4 492.1h0.6v0.6h-0.6zM79.3 493.3h0.6v0.6h-0.6zM56.5 491.8h0.6v0.6h-0.6z" fill="#2f3cff"/>
<ellipse cx="54.3" cy="490.4" rx="3.8" ry="6.8" fill="#2233f6" filter="url(#b10)"/>
<ellipse cx="63.1" cy="494.7" rx="11.5" ry="2.7" fill="#2233f6" filter="url(#b10)"/>
<ellipse cx="54.6" cy="491.1" rx="2.0" ry="3.5" fill="#3a70ff" fill-opacity="0.7" filter="url(#b10)"/>
<ellipse cx="62.6" cy="496.1" rx="8.6" ry="1.25" fill="#30e068" filter="url(#b04)"/>
<rect x="33.1" y="431.1" width="71.3" height="71" fill="none" stroke="#999" stroke-width="0.7"/>
<rect x="44.8" y="480.3" width="54.9" height="19.3" fill="none" stroke="#444" stroke-width="0.55"/>
<line x1="57.5" y1="480.3" x2="57.5" y2="499.6" stroke="#222" stroke-width="0.7"/>
<rect x="33.9" y="475.5" width="16.9" height="4" fill="#fff" stroke="#bbb" stroke-width="0.35"/>
<text x="34.6" y="478.6" font-size="4.3" textLength="14.5" lengthAdjust="spacingAndGlyphs" stroke="#333" stroke-width="0.06" fill="#333">NKG2D-</text>
<rect x="86" y="474.7" width="17.6" height="4.8" fill="#fff" stroke="#bbb" stroke-width="0.35"/>
<text x="87.1" y="478.5" font-size="4.3" textLength="15.2" lengthAdjust="spacingAndGlyphs" stroke="#333" stroke-width="0.06" fill="#333">NKG2D+</text>
<text x="90.6" y="497" font-size="6.4" stroke="#2a2a2a" stroke-width="0.18" text-anchor="middle" fill="#2a2a2a">58.15%</text>
<text x="43.6" y="455.4" font-size="6.9" textLength="51.2" lengthAdjust="spacingAndGlyphs" stroke="#2a2a2a" stroke-width="0.15" fill="#2a2a2a">OD no treatment</text>
<text x="31.9" y="434.8" font-size="2.8" text-anchor="end" fill="#333">250</text>
<line x1="32.2" y1="433.8" x2="33.1" y2="433.8" stroke="#888" stroke-width="0.35"/>
<text x="31.9" y="448.5" font-size="2.8" text-anchor="end" fill="#333">200</text>
<line x1="32.2" y1="447.5" x2="33.1" y2="447.5" stroke="#888" stroke-width="0.35"/>
<text x="31.9" y="462.1" font-size="2.8" text-anchor="end" fill="#333">150</text>
<line x1="32.2" y1="461.1" x2="33.1" y2="461.1" stroke="#888" stroke-width="0.35"/>
<text x="31.9" y="475.8" font-size="2.8" text-anchor="end" fill="#333">100</text>
<line x1="32.2" y1="474.8" x2="33.1" y2="474.8" stroke="#888" stroke-width="0.35"/>
<text x="31.9" y="489" font-size="2.8" text-anchor="end" fill="#333">50</text>
<line x1="32.2" y1="488" x2="33.1" y2="488" stroke="#888" stroke-width="0.35"/>
<text x="31.9" y="502.2" font-size="2.8" text-anchor="end" fill="#333">0</text>
<line x1="32.2" y1="501.2" x2="33.1" y2="501.2" stroke="#888" stroke-width="0.35"/>
<text x="39.5" y="506.9" font-size="2.8" text-anchor="middle" fill="#333">-2000</text>
<text x="51.6" y="506.9" font-size="2.8" text-anchor="middle" fill="#333">0</text>
<text x="65.2" y="506.9" font-size="2.8" text-anchor="middle" fill="#333">2000</text>
<text x="79.6" y="506.9" font-size="2.8" text-anchor="middle" fill="#333">10⁴</text>
<text x="95.7" y="506.9" font-size="2.8" text-anchor="middle" fill="#333">10⁵</text>
<path d="M150.4 487.0h0.6v0.6h-0.6zM154.5 496.7h0.6v0.6h-0.6zM149.9 484.5h0.6v0.6h-0.6zM147.9 487.6h0.6v0.6h-0.6zM141.5 492.8h0.6v0.6h-0.6zM155.9 488.5h0.6v0.6h-0.6zM150.9 496.7h0.6v0.6h-0.6zM144.5 489.4h0.6v0.6h-0.6zM149.0 493.0h0.6v0.6h-0.6zM143.9 491.9h0.6v0.6h-0.6zM147.6 495.2h0.6v0.6h-0.6zM142.2 488.4h0.6v0.6h-0.6zM146.2 489.5h0.6v0.6h-0.6zM150.6 488.1h0.6v0.6h-0.6zM157.9 487.7h0.6v0.6h-0.6zM151.0 495.5h0.6v0.6h-0.6zM151.5 490.0h0.6v0.6h-0.6zM145.0 489.8h0.6v0.6h-0.6zM150.4 491.4h0.6v0.6h-0.6zM150.1 493.5h0.6v0.6h-0.6zM144.8 486.7h0.6v0.6h-0.6zM153.2 488.7h0.6v0.6h-0.6zM142.3 499.3h0.6v0.6h-0.6zM145.0 486.7h0.6v0.6h-0.6zM151.5 485.8h0.6v0.6h-0.6zM144.9 495.6h0.6v0.6h-0.6zM148.5 491.1h0.6v0.6h-0.6zM145.7 489.9h0.6v0.6h-0.6zM146.2 490.8h0.6v0.6h-0.6zM150.8 485.2h0.6v0.6h-0.6zM144.7 481.5h0.6v0.6h-0.6zM153.4 490.6h0.6v0.6h-0.6zM148.0 490.6h0.6v0.6h-0.6zM151.6 492.3h0.6v0.6h-0.6zM151.1 490.1h0.6v0.6h-0.6zM147.6 490.6h0.6v0.6h-0.6zM141.3 495.8h0.6v0.6h-0.6zM142.3 486.4h0.6v0.6h-0.6zM150.4 491.1h0.6v0.6h-0.6zM150.9 498.6h0.6v0.6h-0.6zM154.7 497.1h0.6v0.6h-0.6zM144.8 490.5h0.6v0.6h-0.6zM151.6 489.9h0.6v0.6h-0.6zM147.6 489.3h0.6v0.6h-0.6zM152.6 495.7h0.6v0.6h-0.6zM147.7 493.4h0.6v0.6h-0.6zM144.5 495.9h0.6v0.6h-0.6zM159.0 486.8h0.6v0.6h-0.6zM153.0 490.6h0.6v0.6h-0.6zM146.8 488.7h0.6v0.6h-0.6zM147.3 485.3h0.6v0.6h-0.6zM143.1 498.4h0.6v0.6h-0.6zM147.9 493.4h0.6v0.6h-0.6zM149.1 493.0h0.6v0.6h-0.6zM142.5 486.6h0.6v0.6h-0.6zM150.3 495.4h0.6v0.6h-0.6zM143.9 488.3h0.6v0.6h-0.6zM144.2 493.8h0.6v0.6h-0.6zM149.2 491.0h0.6v0.6h-0.6zM145.7 492.4h0.6v0.6h-0.6zM148.1 487.6h0.6v0.6h-0.6zM149.2 487.9h0.6v0.6h-0.6zM151.4 493.7h0.6v0.6h-0.6zM145.5 493.5h0.6v0.6h-0.6zM148.2 487.7h0.6v0.6h-0.6zM144.7 483.4h0.6v0.6h-0.6zM143.9 492.5h0.6v0.6h-0.6zM152.3 488.1h0.6v0.6h-0.6zM148.6 492.4h0.6v0.6h-0.6zM150.8 492.9h0.6v0.6h-0.6zM152.4 494.3h0.6v0.6h-0.6zM145.3 492.7h0.6v0.6h-0.6zM139.6 490.1h0.6v0.6h-0.6zM148.1 493.5h0.6v0.6h-0.6zM146.9 494.6h0.6v0.6h-0.6zM152.8 487.1h0.6v0.6h-0.6zM146.0 492.1h0.6v0.6h-0.6zM149.8 491.5h0.6v0.6h-0.6zM151.0 485.6h0.6v0.6h-0.6zM150.8 496.1h0.6v0.6h-0.6zM152.0 492.8h0.6v0.6h-0.6zM147.1 492.7h0.6v0.6h-0.6zM147.7 483.8h0.6v0.6h-0.6zM145.8 490.7h0.6v0.6h-0.6zM146.1 486.7h0.6v0.6h-0.6zM147.2 489.2h0.6v0.6h-0.6zM148.2 490.7h0.6v0.6h-0.6zM148.6 495.4h0.6v0.6h-0.6zM148.5 492.7h0.6v0.6h-0.6zM146.6 493.9h0.6v0.6h-0.6zM146.8 488.1h0.6v0.6h-0.6zM143.5 494.9h0.6v0.6h-0.6zM146.1 492.0h0.6v0.6h-0.6zM152.1 493.3h0.6v0.6h-0.6zM156.1 490.3h0.6v0.6h-0.6zM151.4 494.0h0.6v0.6h-0.6zM145.6 491.1h0.6v0.6h-0.6zM146.0 486.3h0.6v0.6h-0.6zM149.1 487.4h0.6v0.6h-0.6zM154.0 487.6h0.6v0.6h-0.6zM146.0 491.3h0.6v0.6h-0.6zM146.1 491.1h0.6v0.6h-0.6zM145.8 484.5h0.6v0.6h-0.6zM139.3 485.1h0.6v0.6h-0.6zM153.5 492.9h0.6v0.6h-0.6zM148.6 488.8h0.6v0.6h-0.6zM147.5 492.2h0.6v0.6h-0.6zM143.0 487.3h0.6v0.6h-0.6zM144.8 496.6h0.6v0.6h-0.6zM144.2 496.2h0.6v0.6h-0.6zM147.7 491.0h0.6v0.6h-0.6zM152.9 494.8h0.6v0.6h-0.6zM151.4 486.1h0.6v0.6h-0.6zM152.1 498.5h0.6v0.6h-0.6zM147.6 488.7h0.6v0.6h-0.6zM144.1 495.5h0.6v0.6h-0.6zM149.1 490.9h0.6v0.6h-0.6zM143.6 498.2h0.6v0.6h-0.6zM151.2 490.8h0.6v0.6h-0.6zM153.3 486.6h0.6v0.6h-0.6zM151.2 486.4h0.6v0.6h-0.6zM153.1 489.7h0.6v0.6h-0.6zM152.4 489.0h0.6v0.6h-0.6zM149.4 496.0h0.6v0.6h-0.6zM144.8 491.3h0.6v0.6h-0.6zM145.0 494.7h0.6v0.6h-0.6zM145.8 489.2h0.6v0.6h-0.6zM147.3 496.1h0.6v0.6h-0.6zM144.3 490.8h0.6v0.6h-0.6zM146.8 488.4h0.6v0.6h-0.6zM145.2 490.2h0.6v0.6h-0.6zM148.7 483.9h0.6v0.6h-0.6zM148.8 485.6h0.6v0.6h-0.6zM144.5 490.6h0.6v0.6h-0.6zM147.1 495.3h0.6v0.6h-0.6zM146.3 482.9h0.6v0.6h-0.6zM142.2 491.7h0.6v0.6h-0.6zM148.9 495.7h0.6v0.6h-0.6zM146.1 493.9h0.6v0.6h-0.6zM144.2 496.7h0.6v0.6h-0.6zM147.7 487.8h0.6v0.6h-0.6zM148.6 498.7h0.6v0.6h-0.6zM144.9 485.3h0.6v0.6h-0.6zM144.3 485.7h0.6v0.6h-0.6zM147.8 492.5h0.6v0.6h-0.6zM147.4 491.8h0.6v0.6h-0.6zM152.3 489.6h0.6v0.6h-0.6zM148.9 487.8h0.6v0.6h-0.6zM147.1 492.7h0.6v0.6h-0.6zM149.7 483.8h0.6v0.6h-0.6zM144.6 491.2h0.6v0.6h-0.6zM147.5 496.1h0.6v0.6h-0.6zM152.0 489.0h0.6v0.6h-0.6zM167.0 490.1h0.6v0.6h-0.6zM147.8 495.4h0.6v0.6h-0.6zM158.6 495.8h0.6v0.6h-0.6zM161.4 492.5h0.6v0.6h-0.6zM167.8 490.0h0.6v0.6h-0.6zM151.2 495.2h0.6v0.6h-0.6zM157.7 491.9h0.6v0.6h-0.6zM170.7 498.2h0.6v0.6h-0.6zM148.1 495.4h0.6v0.6h-0.6zM150.8 493.3h0.6v0.6h-0.6zM165.4 494.7h0.6v0.6h-0.6zM155.5 494.7h0.6v0.6h-0.6zM145.9 497.6h0.6v0.6h-0.6zM149.7 497.8h0.6v0.6h-0.6zM152.4 493.2h0.6v0.6h-0.6zM169.9 494.9h0.6v0.6h-0.6zM150.7 493.0h0.6v0.6h-0.6zM161.9 499.3h0.6v0.6h-0.6zM162.0 493.4h0.6v0.6h-0.6zM146.4 492.7h0.6v0.6h-0.6zM155.4 495.0h0.6v0.6h-0.6zM150.6 497.7h0.6v0.6h-0.6zM147.9 492.5h0.6v0.6h-0.6zM161.0 495.7h0.6v0.6h-0.6zM153.0 496.9h0.6v0.6h-0.6zM143.8 498.6h0.6v0.6h-0.6zM157.0 497.9h0.6v0.6h-0.6zM154.7 494.9h0.6v0.6h-0.6zM161.2 489.9h0.6v0.6h-0.6zM154.6 498.9h0.6v0.6h-0.6zM164.8 495.3h0.6v0.6h-0.6zM158.3 498.0h0.6v0.6h-0.6zM159.5 489.5h0.6v0.6h-0.6zM148.0 493.6h0.6v0.6h-0.6zM157.8 493.2h0.6v0.6h-0.6zM155.6 498.7h0.6v0.6h-0.6zM164.9 496.0h0.6v0.6h-0.6zM156.6 494.6h0.6v0.6h-0.6zM159.8 495.0h0.6v0.6h-0.6zM150.0 496.4h0.6v0.6h-0.6zM149.1 494.3h0.6v0.6h-0.6zM153.3 491.4h0.6v0.6h-0.6zM161.9 494.2h0.6v0.6h-0.6zM146.0 494.2h0.6v0.6h-0.6zM144.1 498.1h0.6v0.6h-0.6zM151.4 496.2h0.6v0.6h-0.6zM147.8 492.2h0.6v0.6h-0.6zM155.7 495.5h0.6v0.6h-0.6zM164.8 493.7h0.6v0.6h-0.6zM166.4 496.9h0.6v0.6h-0.6zM148.6 493.9h0.6v0.6h-0.6zM148.3 498.8h0.6v0.6h-0.6zM151.6 496.7h0.6v0.6h-0.6zM164.7 493.7h0.6v0.6h-0.6zM152.1 495.3h0.6v0.6h-0.6zM149.5 491.1h0.6v0.6h-0.6zM147.8 495.3h0.6v0.6h-0.6zM158.2 499.0h0.6v0.6h-0.6zM140.1 495.7h0.6v0.6h-0.6zM146.2 497.4h0.6v0.6h-0.6zM162.7 494.7h0.6v0.6h-0.6zM169.7 493.4h0.6v0.6h-0.6zM151.8 491.7h0.6v0.6h-0.6zM150.6 494.7h0.6v0.6h-0.6zM162.5 497.7h0.6v0.6h-0.6zM154.1 492.5h0.6v0.6h-0.6zM153.5 493.3h0.6v0.6h-0.6zM152.3 493.4h0.6v0.6h-0.6zM148.7 494.3h0.6v0.6h-0.6zM151.9 494.0h0.6v0.6h-0.6zM144.1 494.8h0.6v0.6h-0.6zM161.6 496.1h0.6v0.6h-0.6zM151.6 491.5h0.6v0.6h-0.6zM144.9 491.4h0.6v0.6h-0.6zM150.8 493.6h0.6v0.6h-0.6zM140.6 496.1h0.6v0.6h-0.6zM142.7 492.6h0.6v0.6h-0.6zM150.1 496.5h0.6v0.6h-0.6zM172.9 493.5h0.6v0.6h-0.6zM154.1 493.4h0.6v0.6h-0.6zM154.7 494.0h0.6v0.6h-0.6zM178.5 491.6h0.6v0.6h-0.6zM155.5 492.4h0.6v0.6h-0.6zM159.7 493.1h0.6v0.6h-0.6zM161.6 491.6h0.6v0.6h-0.6zM175.3 494.9h0.6v0.6h-0.6zM140.7 496.2h0.6v0.6h-0.6zM152.3 491.4h0.6v0.6h-0.6zM160.4 493.1h0.6v0.6h-0.6zM163.1 493.0h0.6v0.6h-0.6zM164.5 494.8h0.6v0.6h-0.6zM159.7 494.8h0.6v0.6h-0.6zM153.3 493.5h0.6v0.6h-0.6zM160.5 496.2h0.6v0.6h-0.6zM171.6 491.5h0.6v0.6h-0.6zM166.2 494.2h0.6v0.6h-0.6zM158.6 492.4h0.6v0.6h-0.6zM171.2 492.3h0.6v0.6h-0.6zM155.8 492.5h0.6v0.6h-0.6zM173.7 497.6h0.6v0.6h-0.6zM144.8 493.2h0.6v0.6h-0.6zM159.7 493.3h0.6v0.6h-0.6zM153.4 491.6h0.6v0.6h-0.6zM158.7 491.6h0.6v0.6h-0.6zM153.6 498.6h0.6v0.6h-0.6zM159.8 492.7h0.6v0.6h-0.6zM153.4 491.9h0.6v0.6h-0.6zM157.5 496.2h0.6v0.6h-0.6zM164.8 493.7h0.6v0.6h-0.6zM145.9 494.2h0.6v0.6h-0.6z" fill="#2f3cff"/>
<ellipse cx="146.7" cy="490.7" rx="3.8" ry="6.8" fill="#2233f6" filter="url(#b10)"/>
<ellipse cx="155.5" cy="495" rx="11.5" ry="2.7" fill="#2233f6" filter="url(#b10)"/>
<ellipse cx="147" cy="491.4" rx="2.0" ry="3.5" fill="#3a70ff" fill-opacity="0.7" filter="url(#b10)"/>
<ellipse cx="155" cy="496.4" rx="9.2" ry="1.5" fill="#30e068" filter="url(#b04)"/>
<ellipse cx="153.5" cy="496.4" rx="4.5" ry="0.7" fill="#a8f040" filter="url(#b04)"/>
<rect x="125.5" y="431.4" width="71.3" height="71" fill="none" stroke="#999" stroke-width="0.7"/>
<rect x="137.2" y="480.6" width="54.9" height="19.3" fill="none" stroke="#444" stroke-width="0.55"/>
<line x1="149.9" y1="480.6" x2="149.9" y2="499.9" stroke="#222" stroke-width="0.7"/>
<rect x="126.3" y="475.8" width="16.9" height="4" fill="#fff" stroke="#bbb" stroke-width="0.35"/>
<text x="127" y="478.9" font-size="4.3" textLength="14.5" lengthAdjust="spacingAndGlyphs" stroke="#333" stroke-width="0.06" fill="#333">NKG2D-</text>
<rect x="178.4" y="475" width="17.6" height="4.8" fill="#fff" stroke="#bbb" stroke-width="0.35"/>
<text x="179.5" y="478.8" font-size="4.3" textLength="15.2" lengthAdjust="spacingAndGlyphs" stroke="#333" stroke-width="0.06" fill="#333">NKG2D+</text>
<text x="180.8" y="497.1" font-size="6.4" stroke="#2a2a2a" stroke-width="0.18" text-anchor="middle" fill="#2a2a2a">67.01%</text>
<text x="144.1" y="455.4" font-size="6.9" textLength="34.2" lengthAdjust="spacingAndGlyphs" stroke="#2a2a2a" stroke-width="0.15" fill="#2a2a2a">OD + aPD-1</text>
<text x="124.3" y="435.1" font-size="2.8" text-anchor="end" fill="#333">250</text>
<line x1="124.6" y1="434.1" x2="125.5" y2="434.1" stroke="#888" stroke-width="0.35"/>
<text x="124.3" y="448.8" font-size="2.8" text-anchor="end" fill="#333">200</text>
<line x1="124.6" y1="447.8" x2="125.5" y2="447.8" stroke="#888" stroke-width="0.35"/>
<text x="124.3" y="462.4" font-size="2.8" text-anchor="end" fill="#333">150</text>
<line x1="124.6" y1="461.4" x2="125.5" y2="461.4" stroke="#888" stroke-width="0.35"/>
<text x="124.3" y="476.1" font-size="2.8" text-anchor="end" fill="#333">100</text>
<line x1="124.6" y1="475.1" x2="125.5" y2="475.1" stroke="#888" stroke-width="0.35"/>
<text x="124.3" y="489.3" font-size="2.8" text-anchor="end" fill="#333">50</text>
<line x1="124.6" y1="488.3" x2="125.5" y2="488.3" stroke="#888" stroke-width="0.35"/>
<text x="124.3" y="502.5" font-size="2.8" text-anchor="end" fill="#333">0</text>
<line x1="124.6" y1="501.5" x2="125.5" y2="501.5" stroke="#888" stroke-width="0.35"/>
<text x="131.9" y="507.2" font-size="2.8" text-anchor="middle" fill="#333">-2000</text>
<text x="144" y="507.2" font-size="2.8" text-anchor="middle" fill="#333">0</text>
<text x="157.6" y="507.2" font-size="2.8" text-anchor="middle" fill="#333">2000</text>
<text x="172" y="507.2" font-size="2.8" text-anchor="middle" fill="#333">10⁴</text>
<text x="188.1" y="507.2" font-size="2.8" text-anchor="middle" fill="#333">10⁵</text>
<line x1="234.7" y1="381.2" x2="234.7" y2="467.8" stroke="#222" stroke-width="0.9"/>
<line x1="234.7" y1="467.8" x2="321.5" y2="467.8" stroke="#222" stroke-width="0.9"/>
<line x1="231" y1="467.8" x2="234.7" y2="467.8" stroke="#222" stroke-width="0.9"/>
<text x="230.3" y="470.1" font-size="6.5" font-weight="bold" text-anchor="end" fill="#111">0</text>
<line x1="231" y1="446.27" x2="234.7" y2="446.27" stroke="#222" stroke-width="0.9"/>
<text x="230.3" y="448.57" font-size="6.5" font-weight="bold" text-anchor="end" fill="#111">20</text>
<line x1="231" y1="424.75" x2="234.7" y2="424.75" stroke="#222" stroke-width="0.9"/>
<text x="230.3" y="427.05" font-size="6.5" font-weight="bold" text-anchor="end" fill="#111">40</text>
<line x1="231" y1="403.23" x2="234.7" y2="403.23" stroke="#222" stroke-width="0.9"/>
<text x="230.3" y="405.53" font-size="6.5" font-weight="bold" text-anchor="end" fill="#111">60</text>
<line x1="231" y1="381.7" x2="234.7" y2="381.7" stroke="#222" stroke-width="0.9"/>
<text x="230.3" y="384" font-size="6.5" font-weight="bold" text-anchor="end" fill="#111">80</text>
<rect x="241.8" y="405.7" width="12.8" height="62.1" fill="#2f2f2f" stroke="#111" stroke-width="1.3"/>
<line x1="248.2" y1="405.7" x2="248.2" y2="403.01" stroke="#222" stroke-width="0.8"/>
<line x1="246" y1="403.01" x2="250.4" y2="403.01" stroke="#222" stroke-width="0.8"/>
<circle cx="247.9" cy="400" r="0.75" fill="#111"/>
<circle cx="248.9" cy="403.23" r="0.75" fill="#111"/>
<circle cx="247.9" cy="408.61" r="0.75" fill="#111"/>
<line x1="248.2" y1="467.8" x2="248.2" y2="471.2" stroke="#222" stroke-width="0.9"/>
<rect x="261.7" y="408.93" width="12.8" height="58.87" fill="#7b7b7b" stroke="#111" stroke-width="1.3"/>
<line x1="268.1" y1="408.93" x2="268.1" y2="406.24" stroke="#222" stroke-width="0.8"/>
<line x1="265.9" y1="406.24" x2="270.3" y2="406.24" stroke="#222" stroke-width="0.8"/>
<circle cx="267.8" cy="405.38" r="0.75" fill="#111"/>
<circle cx="268.8" cy="407.53" r="0.75" fill="#111"/>
<circle cx="267.8" cy="411.83" r="0.75" fill="#111"/>
<circle cx="268.8" cy="413.99" r="0.75" fill="#111"/>
<line x1="268.1" y1="467.8" x2="268.1" y2="471.2" stroke="#222" stroke-width="0.9"/>
<rect x="281.9" y="409.68" width="12.8" height="58.12" fill="#d5d5d5" stroke="#111" stroke-width="1.3"/>
<line x1="288.3" y1="409.68" x2="288.3" y2="404.84" stroke="#222" stroke-width="0.8"/>
<line x1="286.1" y1="404.84" x2="290.5" y2="404.84" stroke="#222" stroke-width="0.8"/>
<circle cx="288" cy="396.77" r="0.75" fill="#111"/>
<circle cx="289" cy="408.61" r="0.75" fill="#111"/>
<circle cx="288" cy="419.37" r="0.75" fill="#111"/>
<line x1="288.3" y1="467.8" x2="288.3" y2="471.2" stroke="#222" stroke-width="0.9"/>
<rect x="301.8" y="397.84" width="12.8" height="69.96" fill="#ffffff" stroke="#111" stroke-width="1.3"/>
<line x1="308.2" y1="397.84" x2="308.2" y2="396.44" stroke="#222" stroke-width="0.8"/>
<line x1="306" y1="396.44" x2="310.4" y2="396.44" stroke="#222" stroke-width="0.8"/>
<circle cx="307.9" cy="395.69" r="0.75" fill="#111"/>
<circle cx="308.9" cy="396.77" r="0.75" fill="#111"/>
<circle cx="307.9" cy="400" r="0.75" fill="#111"/>
<line x1="308.2" y1="467.8" x2="308.2" y2="471.2" stroke="#222" stroke-width="0.9"/>
<line x1="268.1" y1="384.9" x2="308" y2="384.9" stroke="#222" stroke-width="0.9"/>
<text x="288" y="384.33" font-size="11" font-weight="bold" text-anchor="middle" fill="#111">*</text>
<text x="210.9" y="424.5" font-size="7.35" font-weight="bold" text-anchor="middle" fill="#111" transform="rotate(-90 210.9 424.5)">%NKG2D+ cells gated on</text>
<text x="219.2" y="424.1" font-size="7.1" font-weight="bold" text-anchor="middle" fill="#111" transform="rotate(-90 219.2 424.1)">live [CD3-][CD335+][CD49b+] lymphocytes</text>
<text x="250.1" y="478.6" font-size="6.7" font-weight="bold" text-anchor="end" fill="#111" transform="rotate(-45 250.1 478.6)">SD no treatment</text>
<text x="270" y="478.6" font-size="6.7" font-weight="bold" text-anchor="end" fill="#111" transform="rotate(-45 270 478.6)">SD + aPD-1</text>
<text x="290.2" y="478.6" font-size="6.7" font-weight="bold" text-anchor="end" fill="#111" transform="rotate(-45 290.2 478.6)">OD no treatment</text>
<text x="310.1" y="478.6" font-size="6.7" font-weight="bold" text-anchor="end" fill="#111" transform="rotate(-45 310.1 478.6)">OD + aPD-1</text>
<text x="349.4" y="341.4" font-size="11.5" fill="#111">F</text>
<line x1="356.5" y1="358" x2="356.5" y2="518.3" stroke="#1a1a1a" stroke-width="1.25"/>
<path d="M356.5,355 L358.6,359.2 L354.4,359.2 Z" fill="#111"/>
<line x1="356.5" y1="518.3" x2="543" y2="518.3" stroke="#111" stroke-width="1.25"/>
<path d="M546.2,518.3 L542.2,520.3 L542.2,516.3 Z" fill="#111"/>
<text x="351" y="424.3" font-size="7.3" text-anchor="middle" fill="#111" transform="rotate(-90 351 424.3)">Ly-6C : PE Cy7</text>
<text x="447.5" y="527.5" font-size="7.25" text-anchor="middle" fill="#111">Ly-6G : APC</text>
<path d="M405.3 360.4h0.6v0.6h-0.6zM399.5 362.1h0.6v0.6h-0.6zM398.1 367.2h0.6v0.6h-0.6zM399.1 358.0h0.6v0.6h-0.6zM395.8 358.1h0.6v0.6h-0.6zM402.1 368.5h0.6v0.6h-0.6zM397.6 368.1h0.6v0.6h-0.6zM402.6 361.5h0.6v0.6h-0.6zM398.1 364.6h0.6v0.6h-0.6zM401.3 365.4h0.6v0.6h-0.6zM405.7 358.7h0.6v0.6h-0.6zM400.6 370.8h0.6v0.6h-0.6zM396.8 362.4h0.6v0.6h-0.6zM402.4 357.4h0.6v0.6h-0.6zM403.0 362.6h0.6v0.6h-0.6zM399.1 358.4h0.6v0.6h-0.6zM401.7 371.4h0.6v0.6h-0.6zM399.5 361.0h0.6v0.6h-0.6zM402.2 366.4h0.6v0.6h-0.6zM401.9 365.5h0.6v0.6h-0.6zM397.8 357.0h0.6v0.6h-0.6zM395.4 358.3h0.6v0.6h-0.6zM407.1 360.2h0.6v0.6h-0.6zM400.9 360.3h0.6v0.6h-0.6zM398.8 357.5h0.6v0.6h-0.6zM398.5 364.0h0.6v0.6h-0.6zM404.4 362.3h0.6v0.6h-0.6zM405.0 366.0h0.6v0.6h-0.6zM401.3 357.1h0.6v0.6h-0.6zM400.7 361.3h0.6v0.6h-0.6zM400.7 361.4h0.6v0.6h-0.6zM398.6 358.9h0.6v0.6h-0.6zM399.7 365.5h0.6v0.6h-0.6zM397.3 366.9h0.6v0.6h-0.6zM400.8 359.4h0.6v0.6h-0.6zM400.1 361.3h0.6v0.6h-0.6zM402.6 358.5h0.6v0.6h-0.6zM405.3 361.1h0.6v0.6h-0.6zM395.2 366.5h0.6v0.6h-0.6zM398.8 362.1h0.6v0.6h-0.6zM406.8 365.6h0.6v0.6h-0.6zM397.7 358.1h0.6v0.6h-0.6zM396.3 362.9h0.6v0.6h-0.6zM401.9 364.6h0.6v0.6h-0.6zM397.1 360.6h0.6v0.6h-0.6zM400.8 366.9h0.6v0.6h-0.6zM401.5 356.6h0.6v0.6h-0.6zM396.8 368.4h0.6v0.6h-0.6zM401.2 358.5h0.6v0.6h-0.6zM402.3 362.6h0.6v0.6h-0.6zM401.8 367.5h0.6v0.6h-0.6zM403.7 359.6h0.6v0.6h-0.6zM399.0 366.4h0.6v0.6h-0.6zM399.9 361.5h0.6v0.6h-0.6zM404.1 365.6h0.6v0.6h-0.6zM406.7 364.9h0.6v0.6h-0.6zM405.1 360.2h0.6v0.6h-0.6zM399.5 361.6h0.6v0.6h-0.6zM398.1 363.3h0.6v0.6h-0.6zM399.5 360.3h0.6v0.6h-0.6zM398.4 357.8h0.6v0.6h-0.6zM403.4 357.3h0.6v0.6h-0.6zM398.8 360.4h0.6v0.6h-0.6zM403.1 357.5h0.6v0.6h-0.6zM397.0 365.4h0.6v0.6h-0.6zM400.5 361.7h0.6v0.6h-0.6zM403.7 360.5h0.6v0.6h-0.6zM396.3 362.6h0.6v0.6h-0.6zM400.4 362.3h0.6v0.6h-0.6zM397.8 357.8h0.6v0.6h-0.6zM401.0 366.9h0.6v0.6h-0.6zM400.1 359.5h0.6v0.6h-0.6zM394.9 363.6h0.6v0.6h-0.6zM399.5 366.8h0.6v0.6h-0.6zM401.9 357.2h0.6v0.6h-0.6zM399.3 368.4h0.6v0.6h-0.6zM403.4 359.4h0.6v0.6h-0.6zM402.9 363.9h0.6v0.6h-0.6zM402.3 359.0h0.6v0.6h-0.6zM400.9 361.2h0.6v0.6h-0.6zM402.3 360.9h0.6v0.6h-0.6zM399.2 358.2h0.6v0.6h-0.6zM400.7 363.4h0.6v0.6h-0.6zM401.2 356.9h0.6v0.6h-0.6zM401.5 360.0h0.6v0.6h-0.6zM398.9 358.7h0.6v0.6h-0.6zM398.6 360.6h0.6v0.6h-0.6zM400.1 367.8h0.6v0.6h-0.6zM405.0 364.6h0.6v0.6h-0.6zM398.7 358.7h0.6v0.6h-0.6zM403.2 363.7h0.6v0.6h-0.6zM396.2 358.3h0.6v0.6h-0.6zM398.7 363.4h0.6v0.6h-0.6zM406.6 357.0h0.6v0.6h-0.6zM407.4 357.6h0.6v0.6h-0.6zM400.5 370.5h0.6v0.6h-0.6zM404.7 358.5h0.6v0.6h-0.6zM405.6 364.8h0.6v0.6h-0.6zM401.7 363.1h0.6v0.6h-0.6zM396.4 361.0h0.6v0.6h-0.6zM404.1 364.0h0.6v0.6h-0.6zM403.2 363.1h0.6v0.6h-0.6zM402.5 359.7h0.6v0.6h-0.6zM403.4 357.0h0.6v0.6h-0.6zM398.3 361.5h0.6v0.6h-0.6zM403.3 373.3h0.6v0.6h-0.6zM403.8 358.3h0.6v0.6h-0.6zM399.7 364.4h0.6v0.6h-0.6zM401.5 361.9h0.6v0.6h-0.6zM398.9 356.7h0.6v0.6h-0.6zM400.0 361.2h0.6v0.6h-0.6zM403.2 367.1h0.6v0.6h-0.6zM401.6 371.0h0.6v0.6h-0.6zM398.1 369.7h0.6v0.6h-0.6zM400.0 363.5h0.6v0.6h-0.6zM400.4 359.2h0.6v0.6h-0.6zM398.2 361.1h0.6v0.6h-0.6zM406.3 359.6h0.6v0.6h-0.6zM400.6 358.7h0.6v0.6h-0.6zM402.7 357.4h0.6v0.6h-0.6zM400.7 360.0h0.6v0.6h-0.6zM404.3 364.6h0.6v0.6h-0.6zM400.8 363.9h0.6v0.6h-0.6zM403.4 357.4h0.6v0.6h-0.6zM406.5 357.7h0.6v0.6h-0.6zM404.6 367.5h0.6v0.6h-0.6zM405.1 359.9h0.6v0.6h-0.6zM402.7 365.3h0.6v0.6h-0.6zM400.4 365.1h0.6v0.6h-0.6zM402.3 368.1h0.6v0.6h-0.6zM402.7 362.1h0.6v0.6h-0.6zM397.8 361.0h0.6v0.6h-0.6zM403.7 364.4h0.6v0.6h-0.6zM401.8 361.1h0.6v0.6h-0.6zM398.2 358.9h0.6v0.6h-0.6zM396.0 362.5h0.6v0.6h-0.6zM402.4 357.9h0.6v0.6h-0.6zM403.4 361.9h0.6v0.6h-0.6zM403.9 359.4h0.6v0.6h-0.6zM394.8 367.1h0.6v0.6h-0.6zM396.0 365.1h0.6v0.6h-0.6zM400.9 364.1h0.6v0.6h-0.6zM397.9 358.9h0.6v0.6h-0.6zM399.0 366.6h0.6v0.6h-0.6zM402.6 358.5h0.6v0.6h-0.6zM400.5 359.5h0.6v0.6h-0.6zM401.5 359.8h0.6v0.6h-0.6zM396.0 364.4h0.6v0.6h-0.6zM400.3 358.1h0.6v0.6h-0.6zM399.1 362.0h0.6v0.6h-0.6zM400.0 357.0h0.6v0.6h-0.6zM398.1 356.9h0.6v0.6h-0.6zM397.9 358.9h0.6v0.6h-0.6zM404.3 364.9h0.6v0.6h-0.6zM403.5 364.4h0.6v0.6h-0.6zM400.7 356.6h0.6v0.6h-0.6zM399.7 373.0h0.6v0.6h-0.6zM400.8 367.1h0.6v0.6h-0.6zM399.0 362.4h0.6v0.6h-0.6zM399.0 365.7h0.6v0.6h-0.6zM401.4 358.5h0.6v0.6h-0.6zM397.3 360.7h0.6v0.6h-0.6zM403.2 359.1h0.6v0.6h-0.6zM401.4 357.0h0.6v0.6h-0.6zM400.9 357.0h0.6v0.6h-0.6zM400.9 365.0h0.6v0.6h-0.6zM401.3 368.6h0.6v0.6h-0.6zM396.9 357.0h0.6v0.6h-0.6zM399.0 366.3h0.6v0.6h-0.6zM402.7 357.1h0.6v0.6h-0.6zM397.9 358.0h0.6v0.6h-0.6zM397.8 368.3h0.6v0.6h-0.6zM402.3 366.0h0.6v0.6h-0.6zM402.9 359.2h0.6v0.6h-0.6zM394.1 359.3h0.6v0.6h-0.6zM403.5 369.3h0.6v0.6h-0.6zM397.9 363.5h0.6v0.6h-0.6zM401.6 357.6h0.6v0.6h-0.6zM399.9 361.9h0.6v0.6h-0.6zM402.3 362.7h0.6v0.6h-0.6zM404.3 366.7h0.6v0.6h-0.6zM399.1 358.4h0.6v0.6h-0.6zM402.1 373.7h0.6v0.6h-0.6zM406.3 358.7h0.6v0.6h-0.6zM403.2 358.0h0.6v0.6h-0.6zM399.0 367.7h0.6v0.6h-0.6zM398.6 356.5h0.6v0.6h-0.6zM400.7 366.7h0.6v0.6h-0.6zM404.4 368.3h0.6v0.6h-0.6zM404.2 366.4h0.6v0.6h-0.6zM402.6 361.7h0.6v0.6h-0.6zM402.7 362.3h0.6v0.6h-0.6zM404.9 363.4h0.6v0.6h-0.6zM404.2 363.8h0.6v0.6h-0.6zM402.5 361.1h0.6v0.6h-0.6zM398.1 362.4h0.6v0.6h-0.6zM403.2 359.8h0.6v0.6h-0.6zM405.9 378.4h0.6v0.6h-0.6zM397.0 364.0h0.6v0.6h-0.6zM409.2 371.0h0.6v0.6h-0.6zM404.2 371.6h0.6v0.6h-0.6zM405.1 361.3h0.6v0.6h-0.6zM403.4 371.2h0.6v0.6h-0.6zM410.6 358.6h0.6v0.6h-0.6zM400.1 366.9h0.6v0.6h-0.6zM416.9 358.3h0.6v0.6h-0.6zM398.6 368.9h0.6v0.6h-0.6zM408.1 362.0h0.6v0.6h-0.6zM405.3 369.4h0.6v0.6h-0.6zM396.0 366.0h0.6v0.6h-0.6zM408.6 372.3h0.6v0.6h-0.6zM411.7 365.6h0.6v0.6h-0.6zM397.6 375.1h0.6v0.6h-0.6zM409.6 361.8h0.6v0.6h-0.6zM411.0 373.1h0.6v0.6h-0.6zM402.9 361.0h0.6v0.6h-0.6zM400.9 365.6h0.6v0.6h-0.6zM399.6 368.7h0.6v0.6h-0.6zM415.6 358.1h0.6v0.6h-0.6zM411.0 362.5h0.6v0.6h-0.6zM408.3 365.3h0.6v0.6h-0.6zM412.3 361.3h0.6v0.6h-0.6zM409.4 360.9h0.6v0.6h-0.6zM406.6 366.0h0.6v0.6h-0.6zM398.1 375.4h0.6v0.6h-0.6zM407.5 377.5h0.6v0.6h-0.6zM399.9 367.5h0.6v0.6h-0.6zM408.7 378.0h0.6v0.6h-0.6zM405.1 363.1h0.6v0.6h-0.6zM409.3 365.4h0.6v0.6h-0.6zM401.4 371.2h0.6v0.6h-0.6zM395.1 359.3h0.6v0.6h-0.6zM412.7 362.8h0.6v0.6h-0.6zM403.7 368.6h0.6v0.6h-0.6zM411.4 369.6h0.6v0.6h-0.6zM400.2 362.3h0.6v0.6h-0.6zM411.0 365.3h0.6v0.6h-0.6zM402.0 372.0h0.6v0.6h-0.6zM411.5 380.7h0.6v0.6h-0.6zM399.6 361.4h0.6v0.6h-0.6zM401.7 368.5h0.6v0.6h-0.6zM402.8 373.6h0.6v0.6h-0.6zM390.9 372.6h0.6v0.6h-0.6zM401.9 364.3h0.6v0.6h-0.6zM408.5 367.5h0.6v0.6h-0.6zM400.0 376.2h0.6v0.6h-0.6zM408.5 362.8h0.6v0.6h-0.6zM406.5 358.7h0.6v0.6h-0.6zM398.8 364.1h0.6v0.6h-0.6zM407.4 366.8h0.6v0.6h-0.6zM401.2 356.8h0.6v0.6h-0.6zM396.4 376.8h0.6v0.6h-0.6zM407.4 360.7h0.6v0.6h-0.6zM411.8 369.7h0.6v0.6h-0.6zM403.2 362.0h0.6v0.6h-0.6zM411.5 368.3h0.6v0.6h-0.6zM414.2 368.5h0.6v0.6h-0.6zM402.3 362.1h0.6v0.6h-0.6zM401.6 367.8h0.6v0.6h-0.6zM406.8 370.2h0.6v0.6h-0.6zM407.8 359.1h0.6v0.6h-0.6zM404.3 359.8h0.6v0.6h-0.6zM408.0 357.3h0.6v0.6h-0.6zM402.3 360.3h0.6v0.6h-0.6zM402.1 364.4h0.6v0.6h-0.6zM413.5 364.4h0.6v0.6h-0.6zM397.7 364.1h0.6v0.6h-0.6zM409.4 369.8h0.6v0.6h-0.6zM406.7 379.5h0.6v0.6h-0.6zM411.3 366.7h0.6v0.6h-0.6zM411.9 357.1h0.6v0.6h-0.6zM404.5 360.3h0.6v0.6h-0.6zM406.4 377.0h0.6v0.6h-0.6zM402.7 376.8h0.6v0.6h-0.6zM399.9 375.7h0.6v0.6h-0.6zM396.3 360.4h0.6v0.6h-0.6zM410.7 365.5h0.6v0.6h-0.6zM406.2 366.0h0.6v0.6h-0.6zM406.4 364.9h0.6v0.6h-0.6zM400.2 364.2h0.6v0.6h-0.6zM406.0 360.1h0.6v0.6h-0.6zM407.9 377.9h0.6v0.6h-0.6zM396.6 362.4h0.6v0.6h-0.6zM403.9 366.2h0.6v0.6h-0.6zM405.9 361.2h0.6v0.6h-0.6zM405.2 366.1h0.6v0.6h-0.6zM404.9 376.4h0.6v0.6h-0.6zM397.0 370.1h0.6v0.6h-0.6zM403.6 361.9h0.6v0.6h-0.6zM398.2 364.0h0.6v0.6h-0.6zM404.9 361.5h0.6v0.6h-0.6zM403.5 372.1h0.6v0.6h-0.6zM409.6 369.8h0.6v0.6h-0.6zM404.5 357.0h0.6v0.6h-0.6zM409.6 376.1h0.6v0.6h-0.6zM412.2 373.9h0.6v0.6h-0.6zM406.9 368.6h0.6v0.6h-0.6zM405.3 374.5h0.6v0.6h-0.6zM404.0 380.5h0.6v0.6h-0.6zM409.6 363.9h0.6v0.6h-0.6zM401.5 364.1h0.6v0.6h-0.6zM418.5 360.6h0.6v0.6h-0.6zM410.3 366.6h0.6v0.6h-0.6zM403.8 370.3h0.6v0.6h-0.6zM394.8 372.4h0.6v0.6h-0.6zM415.7 368.1h0.6v0.6h-0.6zM405.1 367.2h0.6v0.6h-0.6zM408.9 362.8h0.6v0.6h-0.6zM406.0 369.5h0.6v0.6h-0.6zM403.5 368.7h0.6v0.6h-0.6zM407.2 370.9h0.6v0.6h-0.6zM400.1 362.5h0.6v0.6h-0.6zM403.1 374.1h0.6v0.6h-0.6zM398.6 379.1h0.6v0.6h-0.6zM407.2 357.4h0.6v0.6h-0.6zM400.5 367.1h0.6v0.6h-0.6zM413.0 377.0h0.6v0.6h-0.6zM403.5 364.1h0.6v0.6h-0.6zM415.7 359.5h0.6v0.6h-0.6zM413.8 368.4h0.6v0.6h-0.6zM405.9 374.7h0.6v0.6h-0.6zM408.0 360.5h0.6v0.6h-0.6zM397.3 366.2h0.6v0.6h-0.6zM408.1 375.3h0.6v0.6h-0.6zM391.4 375.1h0.6v0.6h-0.6zM408.7 376.3h0.6v0.6h-0.6zM409.7 367.5h0.6v0.6h-0.6zM407.7 368.8h0.6v0.6h-0.6zM402.0 365.3h0.6v0.6h-0.6zM406.1 363.1h0.6v0.6h-0.6zM408.1 369.6h0.6v0.6h-0.6zM406.0 358.2h0.6v0.6h-0.6zM409.9 363.5h0.6v0.6h-0.6zM394.3 376.6h0.6v0.6h-0.6zM397.4 381.3h0.6v0.6h-0.6zM408.2 363.1h0.6v0.6h-0.6zM392.8 361.4h0.6v0.6h-0.6zM413.3 375.2h0.6v0.6h-0.6zM403.4 364.2h0.6v0.6h-0.6zM407.9 365.3h0.6v0.6h-0.6zM402.0 375.8h0.6v0.6h-0.6zM397.6 372.3h0.6v0.6h-0.6zM417.7 370.5h0.6v0.6h-0.6zM398.0 374.5h0.6v0.6h-0.6zM395.5 368.4h0.6v0.6h-0.6zM403.2 374.4h0.6v0.6h-0.6zM411.7 367.4h0.6v0.6h-0.6zM415.0 372.7h0.6v0.6h-0.6zM402.8 359.5h0.6v0.6h-0.6zM418.5 363.4h0.6v0.6h-0.6zM407.6 365.3h0.6v0.6h-0.6zM404.6 365.3h0.6v0.6h-0.6zM410.6 362.6h0.6v0.6h-0.6zM397.0 358.9h0.6v0.6h-0.6zM405.2 367.8h0.6v0.6h-0.6zM409.3 363.5h0.6v0.6h-0.6zM408.3 367.1h0.6v0.6h-0.6zM404.1 382.3h0.6v0.6h-0.6zM400.5 385.3h0.6v0.6h-0.6zM403.0 378.2h0.6v0.6h-0.6zM399.1 381.3h0.6v0.6h-0.6zM395.2 388.9h0.6v0.6h-0.6zM402.7 382.7h0.6v0.6h-0.6zM408.0 388.7h0.6v0.6h-0.6zM404.9 390.2h0.6v0.6h-0.6zM402.3 375.8h0.6v0.6h-0.6zM403.8 384.6h0.6v0.6h-0.6zM397.4 382.9h0.6v0.6h-0.6zM402.0 387.3h0.6v0.6h-0.6zM400.6 380.1h0.6v0.6h-0.6zM402.0 378.9h0.6v0.6h-0.6zM400.0 386.3h0.6v0.6h-0.6zM396.8 384.4h0.6v0.6h-0.6zM395.6 378.1h0.6v0.6h-0.6zM397.3 382.2h0.6v0.6h-0.6zM401.9 382.4h0.6v0.6h-0.6zM402.3 383.1h0.6v0.6h-0.6zM399.7 385.0h0.6v0.6h-0.6zM399.6 383.3h0.6v0.6h-0.6zM402.6 379.9h0.6v0.6h-0.6zM402.9 377.3h0.6v0.6h-0.6zM399.7 374.2h0.6v0.6h-0.6zM399.0 390.3h0.6v0.6h-0.6zM401.0 388.7h0.6v0.6h-0.6zM396.8 377.7h0.6v0.6h-0.6zM401.3 386.6h0.6v0.6h-0.6zM402.2 374.5h0.6v0.6h-0.6zM401.4 382.3h0.6v0.6h-0.6zM400.5 384.9h0.6v0.6h-0.6zM399.5 374.4h0.6v0.6h-0.6zM397.7 375.6h0.6v0.6h-0.6zM397.1 382.0h0.6v0.6h-0.6zM403.3 379.2h0.6v0.6h-0.6zM398.4 377.1h0.6v0.6h-0.6zM396.2 382.9h0.6v0.6h-0.6zM399.1 381.4h0.6v0.6h-0.6zM398.0 384.9h0.6v0.6h-0.6zM397.4 385.2h0.6v0.6h-0.6zM398.7 386.4h0.6v0.6h-0.6zM398.1 384.7h0.6v0.6h-0.6zM401.2 382.2h0.6v0.6h-0.6zM404.0 383.4h0.6v0.6h-0.6zM398.1 385.9h0.6v0.6h-0.6zM398.3 380.0h0.6v0.6h-0.6zM400.2 383.5h0.6v0.6h-0.6zM404.2 374.2h0.6v0.6h-0.6zM399.6 388.1h0.6v0.6h-0.6zM399.8 384.2h0.6v0.6h-0.6zM403.8 376.7h0.6v0.6h-0.6zM400.3 386.4h0.6v0.6h-0.6zM398.8 374.1h0.6v0.6h-0.6zM397.9 383.5h0.6v0.6h-0.6zM400.6 391.5h0.6v0.6h-0.6zM403.3 375.1h0.6v0.6h-0.6zM402.6 387.0h0.6v0.6h-0.6zM404.0 381.9h0.6v0.6h-0.6zM398.9 383.3h0.6v0.6h-0.6zM403.8 385.6h0.6v0.6h-0.6zM404.2 386.4h0.6v0.6h-0.6zM398.8 377.7h0.6v0.6h-0.6zM404.5 375.3h0.6v0.6h-0.6zM399.4 381.1h0.6v0.6h-0.6zM398.1 379.8h0.6v0.6h-0.6zM400.2 394.1h0.6v0.6h-0.6zM400.0 380.1h0.6v0.6h-0.6zM400.5 387.1h0.6v0.6h-0.6zM398.3 380.6h0.6v0.6h-0.6zM396.1 386.0h0.6v0.6h-0.6zM401.8 389.9h0.6v0.6h-0.6zM397.4 393.1h0.6v0.6h-0.6zM402.2 381.3h0.6v0.6h-0.6zM399.3 381.1h0.6v0.6h-0.6zM397.4 386.3h0.6v0.6h-0.6zM398.8 379.1h0.6v0.6h-0.6zM401.4 383.1h0.6v0.6h-0.6zM398.8 381.5h0.6v0.6h-0.6zM399.0 389.1h0.6v0.6h-0.6zM402.5 379.1h0.6v0.6h-0.6zM400.1 389.2h0.6v0.6h-0.6zM399.5 391.2h0.6v0.6h-0.6zM401.2 385.8h0.6v0.6h-0.6zM395.3 386.7h0.6v0.6h-0.6zM401.0 385.4h0.6v0.6h-0.6zM401.3 385.2h0.6v0.6h-0.6zM399.0 387.0h0.6v0.6h-0.6zM400.3 377.5h0.6v0.6h-0.6zM397.8 383.4h0.6v0.6h-0.6zM401.0 371.9h0.6v0.6h-0.6zM395.4 387.7h0.6v0.6h-0.6zM400.2 396.4h0.6v0.6h-0.6zM396.6 381.4h0.6v0.6h-0.6zM398.8 385.3h0.6v0.6h-0.6zM403.5 390.4h0.6v0.6h-0.6zM397.8 388.6h0.6v0.6h-0.6zM397.4 384.1h0.6v0.6h-0.6zM400.6 385.6h0.6v0.6h-0.6zM398.3 389.1h0.6v0.6h-0.6zM400.0 382.5h0.6v0.6h-0.6zM399.6 377.4h0.6v0.6h-0.6zM401.9 384.2h0.6v0.6h-0.6zM401.3 391.6h0.6v0.6h-0.6zM398.2 381.2h0.6v0.6h-0.6zM400.2 386.7h0.6v0.6h-0.6zM399.8 387.1h0.6v0.6h-0.6zM401.3 374.1h0.6v0.6h-0.6zM398.6 372.8h0.6v0.6h-0.6zM399.5 380.6h0.6v0.6h-0.6zM401.6 383.4h0.6v0.6h-0.6zM400.1 388.7h0.6v0.6h-0.6zM401.6 376.6h0.6v0.6h-0.6zM398.6 384.2h0.6v0.6h-0.6zM404.2 381.6h0.6v0.6h-0.6zM399.8 383.9h0.6v0.6h-0.6zM402.0 382.2h0.6v0.6h-0.6zM400.9 380.6h0.6v0.6h-0.6zM398.9 378.7h0.6v0.6h-0.6zM401.7 379.9h0.6v0.6h-0.6zM401.5 384.6h0.6v0.6h-0.6zM402.5 369.6h0.6v0.6h-0.6zM397.9 376.7h0.6v0.6h-0.6zM399.8 386.5h0.6v0.6h-0.6zM406.1 390.1h0.6v0.6h-0.6zM403.4 384.5h0.6v0.6h-0.6zM399.3 385.2h0.6v0.6h-0.6zM395.1 387.1h0.6v0.6h-0.6zM400.2 385.6h0.6v0.6h-0.6zM397.8 377.3h0.6v0.6h-0.6zM398.7 382.4h0.6v0.6h-0.6zM401.0 380.9h0.6v0.6h-0.6zM401.0 385.9h0.6v0.6h-0.6zM397.5 382.1h0.6v0.6h-0.6zM396.6 379.9h0.6v0.6h-0.6zM402.3 379.1h0.6v0.6h-0.6zM404.6 385.1h0.6v0.6h-0.6zM402.3 383.1h0.6v0.6h-0.6zM402.2 387.9h0.6v0.6h-0.6zM400.5 380.0h0.6v0.6h-0.6zM398.9 392.0h0.6v0.6h-0.6zM399.8 380.4h0.6v0.6h-0.6zM398.5 374.4h0.6v0.6h-0.6zM399.0 384.2h0.6v0.6h-0.6zM399.1 378.9h0.6v0.6h-0.6zM401.2 384.8h0.6v0.6h-0.6zM399.2 384.1h0.6v0.6h-0.6zM397.9 386.8h0.6v0.6h-0.6zM397.9 381.0h0.6v0.6h-0.6zM400.5 380.6h0.6v0.6h-0.6zM397.5 392.8h0.6v0.6h-0.6zM403.8 374.1h0.6v0.6h-0.6zM400.5 376.4h0.6v0.6h-0.6zM400.9 376.3h0.6v0.6h-0.6zM401.6 385.2h0.6v0.6h-0.6zM404.2 388.5h0.6v0.6h-0.6zM399.1 387.2h0.6v0.6h-0.6zM399.1 382.1h0.6v0.6h-0.6zM399.0 374.0h0.6v0.6h-0.6zM401.6 372.7h0.6v0.6h-0.6zM399.6 385.2h0.6v0.6h-0.6zM400.5 374.9h0.6v0.6h-0.6zM398.7 385.9h0.6v0.6h-0.6zM402.8 390.4h0.6v0.6h-0.6zM395.9 384.8h0.6v0.6h-0.6zM399.1 386.3h0.6v0.6h-0.6zM396.2 381.9h0.6v0.6h-0.6zM401.9 379.5h0.6v0.6h-0.6zM399.4 377.8h0.6v0.6h-0.6zM402.8 376.1h0.6v0.6h-0.6zM398.1 381.0h0.6v0.6h-0.6zM399.5 392.9h0.6v0.6h-0.6zM400.8 378.5h0.6v0.6h-0.6zM401.6 384.3h0.6v0.6h-0.6zM400.9 382.3h0.6v0.6h-0.6zM401.3 376.9h0.6v0.6h-0.6zM397.4 380.5h0.6v0.6h-0.6zM397.6 386.0h0.6v0.6h-0.6zM404.8 388.6h0.6v0.6h-0.6zM401.2 384.2h0.6v0.6h-0.6zM398.6 376.3h0.6v0.6h-0.6zM401.5 375.4h0.6v0.6h-0.6zM400.9 381.9h0.6v0.6h-0.6zM402.0 382.8h0.6v0.6h-0.6zM400.4 379.8h0.6v0.6h-0.6zM396.2 380.9h0.6v0.6h-0.6zM401.8 387.7h0.6v0.6h-0.6zM403.4 377.8h0.6v0.6h-0.6zM398.0 386.0h0.6v0.6h-0.6zM399.1 395.1h0.6v0.6h-0.6zM400.9 375.2h0.6v0.6h-0.6zM398.9 390.2h0.6v0.6h-0.6zM395.9 383.3h0.6v0.6h-0.6zM396.9 390.4h0.6v0.6h-0.6zM399.2 377.6h0.6v0.6h-0.6zM396.2 379.1h0.6v0.6h-0.6zM394.2 380.3h0.6v0.6h-0.6zM405.3 383.1h0.6v0.6h-0.6zM399.6 376.9h0.6v0.6h-0.6zM401.0 380.3h0.6v0.6h-0.6zM398.2 389.3h0.6v0.6h-0.6zM401.2 378.3h0.6v0.6h-0.6zM403.7 382.3h0.6v0.6h-0.6zM401.4 383.3h0.6v0.6h-0.6zM403.0 385.6h0.6v0.6h-0.6zM399.4 386.1h0.6v0.6h-0.6zM399.3 383.3h0.6v0.6h-0.6zM404.1 377.4h0.6v0.6h-0.6zM397.8 380.6h0.6v0.6h-0.6zM399.0 388.9h0.6v0.6h-0.6zM396.5 393.8h0.6v0.6h-0.6zM403.9 380.4h0.6v0.6h-0.6zM400.6 380.8h0.6v0.6h-0.6zM401.8 385.8h0.6v0.6h-0.6zM402.0 386.3h0.6v0.6h-0.6zM404.7 381.8h0.6v0.6h-0.6zM401.8 381.7h0.6v0.6h-0.6zM400.3 383.7h0.6v0.6h-0.6zM400.1 384.3h0.6v0.6h-0.6zM398.2 381.9h0.6v0.6h-0.6zM398.8 376.9h0.6v0.6h-0.6zM398.5 380.2h0.6v0.6h-0.6zM399.9 375.0h0.6v0.6h-0.6zM399.6 377.1h0.6v0.6h-0.6zM398.3 383.5h0.6v0.6h-0.6zM402.8 384.0h0.6v0.6h-0.6zM399.1 380.5h0.6v0.6h-0.6zM403.3 374.7h0.6v0.6h-0.6zM402.9 375.3h0.6v0.6h-0.6zM398.7 382.8h0.6v0.6h-0.6zM403.8 393.8h0.6v0.6h-0.6zM407.3 383.8h0.6v0.6h-0.6zM409.6 384.3h0.6v0.6h-0.6zM401.0 390.7h0.6v0.6h-0.6zM412.2 391.6h0.6v0.6h-0.6zM399.2 395.3h0.6v0.6h-0.6zM402.9 388.6h0.6v0.6h-0.6zM410.7 398.0h0.6v0.6h-0.6zM397.0 378.1h0.6v0.6h-0.6zM410.7 387.0h0.6v0.6h-0.6zM403.4 367.0h0.6v0.6h-0.6zM407.1 383.0h0.6v0.6h-0.6zM392.1 399.8h0.6v0.6h-0.6zM392.7 380.8h0.6v0.6h-0.6zM404.9 385.5h0.6v0.6h-0.6zM408.6 382.5h0.6v0.6h-0.6zM400.5 382.0h0.6v0.6h-0.6zM394.6 377.6h0.6v0.6h-0.6zM414.6 380.1h0.6v0.6h-0.6zM404.5 395.2h0.6v0.6h-0.6zM410.1 384.8h0.6v0.6h-0.6zM408.5 382.5h0.6v0.6h-0.6zM400.5 390.0h0.6v0.6h-0.6zM405.6 393.5h0.6v0.6h-0.6zM403.6 381.9h0.6v0.6h-0.6zM406.6 383.0h0.6v0.6h-0.6zM403.4 378.9h0.6v0.6h-0.6zM406.1 386.0h0.6v0.6h-0.6zM413.9 383.9h0.6v0.6h-0.6zM396.3 386.8h0.6v0.6h-0.6zM416.1 381.5h0.6v0.6h-0.6zM401.0 383.1h0.6v0.6h-0.6zM390.9 382.1h0.6v0.6h-0.6zM404.0 375.2h0.6v0.6h-0.6zM407.7 379.0h0.6v0.6h-0.6zM395.8 379.9h0.6v0.6h-0.6zM408.0 395.4h0.6v0.6h-0.6zM411.0 385.2h0.6v0.6h-0.6zM402.4 382.6h0.6v0.6h-0.6zM409.6 381.1h0.6v0.6h-0.6zM406.9 389.8h0.6v0.6h-0.6zM400.5 380.6h0.6v0.6h-0.6zM407.1 384.1h0.6v0.6h-0.6zM404.3 381.0h0.6v0.6h-0.6zM404.6 395.0h0.6v0.6h-0.6zM411.6 374.6h0.6v0.6h-0.6zM405.1 384.6h0.6v0.6h-0.6zM405.1 376.0h0.6v0.6h-0.6zM404.3 385.0h0.6v0.6h-0.6zM401.6 385.9h0.6v0.6h-0.6zM392.9 375.3h0.6v0.6h-0.6zM405.4 386.4h0.6v0.6h-0.6zM404.1 381.4h0.6v0.6h-0.6zM405.8 390.5h0.6v0.6h-0.6zM409.3 383.6h0.6v0.6h-0.6zM402.6 390.3h0.6v0.6h-0.6zM407.6 389.3h0.6v0.6h-0.6zM403.5 379.0h0.6v0.6h-0.6zM405.8 380.4h0.6v0.6h-0.6zM410.5 389.1h0.6v0.6h-0.6zM394.2 388.0h0.6v0.6h-0.6zM411.4 390.2h0.6v0.6h-0.6zM402.6 379.0h0.6v0.6h-0.6zM409.7 390.1h0.6v0.6h-0.6zM405.2 377.3h0.6v0.6h-0.6zM397.4 385.7h0.6v0.6h-0.6zM400.8 380.1h0.6v0.6h-0.6zM407.1 390.3h0.6v0.6h-0.6zM394.8 380.2h0.6v0.6h-0.6zM411.3 383.9h0.6v0.6h-0.6zM403.2 387.9h0.6v0.6h-0.6zM399.3 376.9h0.6v0.6h-0.6zM405.0 393.3h0.6v0.6h-0.6zM409.9 384.1h0.6v0.6h-0.6zM409.9 381.7h0.6v0.6h-0.6zM399.1 374.3h0.6v0.6h-0.6zM406.2 389.4h0.6v0.6h-0.6zM406.7 383.9h0.6v0.6h-0.6zM402.9 390.5h0.6v0.6h-0.6zM404.7 375.6h0.6v0.6h-0.6zM411.6 380.3h0.6v0.6h-0.6zM406.8 384.1h0.6v0.6h-0.6zM410.1 385.6h0.6v0.6h-0.6zM410.9 385.3h0.6v0.6h-0.6zM402.6 381.1h0.6v0.6h-0.6zM408.1 379.2h0.6v0.6h-0.6zM409.5 382.7h0.6v0.6h-0.6zM400.3 379.0h0.6v0.6h-0.6zM404.2 394.5h0.6v0.6h-0.6zM408.7 384.2h0.6v0.6h-0.6zM400.5 395.3h0.6v0.6h-0.6zM403.5 384.1h0.6v0.6h-0.6zM402.8 391.9h0.6v0.6h-0.6zM405.8 381.4h0.6v0.6h-0.6zM405.8 378.2h0.6v0.6h-0.6zM399.7 383.2h0.6v0.6h-0.6zM390.8 391.0h0.6v0.6h-0.6zM414.7 377.6h0.6v0.6h-0.6zM404.2 374.8h0.6v0.6h-0.6zM405.7 385.3h0.6v0.6h-0.6zM408.5 376.3h0.6v0.6h-0.6zM401.9 380.3h0.6v0.6h-0.6zM403.7 397.5h0.6v0.6h-0.6zM403.9 383.9h0.6v0.6h-0.6zM402.4 388.8h0.6v0.6h-0.6zM417.5 390.9h0.6v0.6h-0.6zM412.4 377.8h0.6v0.6h-0.6zM410.1 384.3h0.6v0.6h-0.6zM411.0 390.3h0.6v0.6h-0.6zM408.1 374.2h0.6v0.6h-0.6zM420.2 374.7h0.6v0.6h-0.6zM424.6 380.5h0.6v0.6h-0.6zM432.8 362.8h0.6v0.6h-0.6zM408.2 379.3h0.6v0.6h-0.6zM422.8 375.7h0.6v0.6h-0.6zM418.0 380.7h0.6v0.6h-0.6zM432.8 378.9h0.6v0.6h-0.6zM421.7 360.5h0.6v0.6h-0.6zM382.4 364.3h0.6v0.6h-0.6zM424.0 379.1h0.6v0.6h-0.6zM418.4 372.2h0.6v0.6h-0.6zM412.6 389.1h0.6v0.6h-0.6zM423.3 379.8h0.6v0.6h-0.6zM411.7 382.4h0.6v0.6h-0.6zM434.8 379.9h0.6v0.6h-0.6zM413.3 367.4h0.6v0.6h-0.6zM419.8 370.2h0.6v0.6h-0.6zM398.6 389.5h0.6v0.6h-0.6zM409.8 358.1h0.6v0.6h-0.6zM408.5 400.0h0.6v0.6h-0.6zM416.9 365.8h0.6v0.6h-0.6zM403.2 387.9h0.6v0.6h-0.6zM424.0 382.4h0.6v0.6h-0.6zM415.7 385.3h0.6v0.6h-0.6zM439.6 385.4h0.6v0.6h-0.6zM416.1 365.0h0.6v0.6h-0.6zM424.5 397.0h0.6v0.6h-0.6zM427.3 366.5h0.6v0.6h-0.6zM421.0 394.1h0.6v0.6h-0.6zM409.7 385.4h0.6v0.6h-0.6zM435.1 397.8h0.6v0.6h-0.6zM396.5 361.2h0.6v0.6h-0.6zM423.6 387.7h0.6v0.6h-0.6zM413.5 379.9h0.6v0.6h-0.6zM412.8 393.1h0.6v0.6h-0.6zM387.9 382.9h0.6v0.6h-0.6zM400.8 372.8h0.6v0.6h-0.6zM397.3 370.3h0.6v0.6h-0.6zM418.1 380.4h0.6v0.6h-0.6zM443.0 377.7h0.6v0.6h-0.6zM423.2 383.9h0.6v0.6h-0.6zM422.0 396.0h0.6v0.6h-0.6zM420.3 381.7h0.6v0.6h-0.6zM416.9 380.1h0.6v0.6h-0.6zM417.6 390.9h0.6v0.6h-0.6zM418.7 380.8h0.6v0.6h-0.6zM417.7 388.3h0.6v0.6h-0.6zM411.9 390.3h0.6v0.6h-0.6zM410.5 387.6h0.6v0.6h-0.6zM444.9 382.6h0.6v0.6h-0.6zM417.2 367.3h0.6v0.6h-0.6zM428.6 380.2h0.6v0.6h-0.6zM431.0 373.0h0.6v0.6h-0.6zM425.6 399.7h0.6v0.6h-0.6zM423.9 376.6h0.6v0.6h-0.6zM400.4 380.0h0.6v0.6h-0.6zM427.5 386.6h0.6v0.6h-0.6zM403.0 369.0h0.6v0.6h-0.6zM404.9 369.0h0.6v0.6h-0.6zM414.6 383.0h0.6v0.6h-0.6zM445.0 382.2h0.6v0.6h-0.6zM438.5 362.2h0.6v0.6h-0.6zM439.7 388.8h0.6v0.6h-0.6zM424.5 389.0h0.6v0.6h-0.6zM426.9 400.9h0.6v0.6h-0.6zM429.5 361.2h0.6v0.6h-0.6zM394.3 397.6h0.6v0.6h-0.6zM417.2 394.4h0.6v0.6h-0.6zM413.7 373.0h0.6v0.6h-0.6zM413.7 383.5h0.6v0.6h-0.6zM421.0 373.4h0.6v0.6h-0.6zM425.8 386.8h0.6v0.6h-0.6zM405.7 368.0h0.6v0.6h-0.6zM391.3 376.8h0.6v0.6h-0.6zM418.5 372.6h0.6v0.6h-0.6zM410.1 378.7h0.6v0.6h-0.6zM418.8 386.3h0.6v0.6h-0.6zM429.9 384.9h0.6v0.6h-0.6zM433.9 369.6h0.6v0.6h-0.6zM426.8 384.2h0.6v0.6h-0.6zM404.0 372.7h0.6v0.6h-0.6zM424.5 380.9h0.6v0.6h-0.6zM401.0 374.1h0.6v0.6h-0.6zM439.5 389.3h0.6v0.6h-0.6zM419.5 394.7h0.6v0.6h-0.6zM405.9 378.2h0.6v0.6h-0.6zM431.7 376.4h0.6v0.6h-0.6zM402.9 386.5h0.6v0.6h-0.6zM420.5 366.5h0.6v0.6h-0.6zM414.3 364.8h0.6v0.6h-0.6zM419.0 372.4h0.6v0.6h-0.6zM404.7 375.2h0.6v0.6h-0.6zM421.3 399.2h0.6v0.6h-0.6zM422.4 397.1h0.6v0.6h-0.6zM403.7 380.9h0.6v0.6h-0.6zM412.4 363.1h0.6v0.6h-0.6zM421.8 371.9h0.6v0.6h-0.6zM410.4 368.9h0.6v0.6h-0.6zM432.6 375.7h0.6v0.6h-0.6zM416.4 382.1h0.6v0.6h-0.6zM401.4 382.6h0.6v0.6h-0.6zM416.0 384.9h0.6v0.6h-0.6zM413.1 380.5h0.6v0.6h-0.6zM425.6 390.6h0.6v0.6h-0.6zM408.9 390.7h0.6v0.6h-0.6zM404.8 378.0h0.6v0.6h-0.6z" fill="#2828d8" fill-opacity="0.6"/>
<rect x="380.4" y="356.1" width="69" height="68.4" fill="none" stroke="#999" stroke-width="0.7"/>
<rect x="396.4" y="356.1" width="21.1" height="20.4" fill="none" stroke="#444" stroke-width="0.6"/>
<rect x="396.4" y="376.5" width="14.1" height="14.9" fill="none" stroke="#444" stroke-width="0.6"/>
<rect x="421.5" y="388.8" width="19.6" height="10.6" fill="none" stroke="#444" stroke-width="0.6"/>
<rect x="414.2" y="356.9" width="35.4" height="4.4" fill="#fff" stroke="#ccc" stroke-width="0.3"/>
<text x="415.4" y="361.1" font-size="4.8" textLength="33.8" lengthAdjust="spacingAndGlyphs" stroke="#333" stroke-width="0.06" fill="#333">Ly-6G- Ly-6C High</text>
<rect x="381.1" y="392.9" width="34.8" height="4.4" fill="#fff" stroke="#ccc" stroke-width="0.3"/>
<text x="381.3" y="397.1" font-size="4.8" textLength="33.5" lengthAdjust="spacingAndGlyphs" stroke="#333" stroke-width="0.06" fill="#333">Ly-6G- Ly-6C Low</text>
<rect x="421.2" y="400.9" width="28.4" height="4.4" fill="#fff" stroke="#ccc" stroke-width="0.3"/>
<text x="421.4" y="405.1" font-size="4.8" textLength="27.5" lengthAdjust="spacingAndGlyphs" stroke="#333" stroke-width="0.06" fill="#333">Ly-6G+ Ly-6C -</text>
<text x="383.2" y="366.4" font-size="6" textLength="11.1" lengthAdjust="spacingAndGlyphs" stroke="#2a2a2a" stroke-width="0.18" fill="#2a2a2a">39%</text>
<text x="384.8" y="421.7" font-size="6.9" textLength="49.5" lengthAdjust="spacingAndGlyphs" stroke="#2a2a2a" stroke-width="0.15" fill="#2a2a2a">SD no treatment</text>
<text x="379.2" y="364.6" font-size="2.8" text-anchor="end" fill="#333">10⁵</text>
<line x1="379.5" y1="363.6" x2="380.4" y2="363.6" stroke="#888" stroke-width="0.35"/>
<text x="379.2" y="383.9" font-size="2.8" text-anchor="end" fill="#333">20000</text>
<line x1="379.5" y1="382.9" x2="380.4" y2="382.9" stroke="#888" stroke-width="0.35"/>
<text x="379.2" y="400.4" font-size="2.8" text-anchor="end" fill="#333">0</text>
<line x1="379.5" y1="399.4" x2="380.4" y2="399.4" stroke="#888" stroke-width="0.35"/>
<text x="379.2" y="416" font-size="2.8" text-anchor="end" fill="#333">-20000</text>
<line x1="379.5" y1="415" x2="380.4" y2="415" stroke="#888" stroke-width="0.35"/>
<text x="382.2" y="428.3" font-size="2.8" text-anchor="middle" fill="#333">-4000</text>
<text x="399.1" y="428.3" font-size="2.8" text-anchor="middle" fill="#333">0</text>
<text x="412.7" y="428.3" font-size="2.8" text-anchor="middle" fill="#333">2000 4000</text>
<text x="425.5" y="428.3" font-size="2.8" text-anchor="middle" fill="#333">10⁴</text>
<text x="443.2" y="428.3" font-size="2.8" text-anchor="middle" fill="#333">10⁵</text>
<path d="M491.9 359.5h0.6v0.6h-0.6zM491.0 364.5h0.6v0.6h-0.6zM489.6 368.3h0.6v0.6h-0.6zM486.5 359.1h0.6v0.6h-0.6zM493.0 358.7h0.6v0.6h-0.6zM492.2 364.6h0.6v0.6h-0.6zM489.3 362.4h0.6v0.6h-0.6zM494.4 357.1h0.6v0.6h-0.6zM498.4 362.3h0.6v0.6h-0.6zM487.9 356.8h0.6v0.6h-0.6zM495.7 363.0h0.6v0.6h-0.6zM488.7 365.2h0.6v0.6h-0.6zM490.2 372.8h0.6v0.6h-0.6zM490.0 362.4h0.6v0.6h-0.6zM491.1 366.0h0.6v0.6h-0.6zM492.9 358.2h0.6v0.6h-0.6zM492.7 369.8h0.6v0.6h-0.6zM494.1 361.7h0.6v0.6h-0.6zM491.4 362.3h0.6v0.6h-0.6zM490.6 358.6h0.6v0.6h-0.6zM494.4 370.0h0.6v0.6h-0.6zM493.4 364.6h0.6v0.6h-0.6zM490.2 359.2h0.6v0.6h-0.6zM491.0 373.2h0.6v0.6h-0.6zM496.9 362.7h0.6v0.6h-0.6zM492.6 362.7h0.6v0.6h-0.6zM493.7 364.5h0.6v0.6h-0.6zM490.0 359.3h0.6v0.6h-0.6zM489.6 370.1h0.6v0.6h-0.6zM492.6 358.4h0.6v0.6h-0.6zM489.2 363.2h0.6v0.6h-0.6zM491.3 369.3h0.6v0.6h-0.6zM492.8 356.6h0.6v0.6h-0.6zM484.2 357.9h0.6v0.6h-0.6zM493.9 363.0h0.6v0.6h-0.6zM486.6 357.3h0.6v0.6h-0.6zM492.4 363.4h0.6v0.6h-0.6zM491.9 358.5h0.6v0.6h-0.6zM490.5 356.7h0.6v0.6h-0.6zM493.3 356.5h0.6v0.6h-0.6zM492.6 359.4h0.6v0.6h-0.6zM494.0 361.6h0.6v0.6h-0.6zM494.1 357.5h0.6v0.6h-0.6zM491.3 356.9h0.6v0.6h-0.6zM488.0 357.8h0.6v0.6h-0.6zM494.5 363.5h0.6v0.6h-0.6zM489.1 360.5h0.6v0.6h-0.6zM492.5 360.7h0.6v0.6h-0.6zM493.6 360.2h0.6v0.6h-0.6zM495.0 366.7h0.6v0.6h-0.6zM495.3 358.4h0.6v0.6h-0.6zM492.9 361.7h0.6v0.6h-0.6zM494.1 365.1h0.6v0.6h-0.6zM491.9 358.7h0.6v0.6h-0.6zM493.7 357.7h0.6v0.6h-0.6zM491.0 371.6h0.6v0.6h-0.6zM495.3 366.0h0.6v0.6h-0.6zM491.3 358.2h0.6v0.6h-0.6zM493.0 361.6h0.6v0.6h-0.6zM490.8 356.4h0.6v0.6h-0.6zM493.2 361.7h0.6v0.6h-0.6zM487.0 371.7h0.6v0.6h-0.6zM489.5 363.7h0.6v0.6h-0.6zM487.1 360.3h0.6v0.6h-0.6zM494.8 359.6h0.6v0.6h-0.6zM490.0 366.7h0.6v0.6h-0.6zM491.4 366.4h0.6v0.6h-0.6zM489.6 357.7h0.6v0.6h-0.6zM490.2 362.5h0.6v0.6h-0.6zM493.5 356.7h0.6v0.6h-0.6zM495.1 362.6h0.6v0.6h-0.6zM496.9 360.6h0.6v0.6h-0.6zM487.5 362.1h0.6v0.6h-0.6zM492.9 363.8h0.6v0.6h-0.6zM490.4 357.0h0.6v0.6h-0.6zM491.9 363.5h0.6v0.6h-0.6zM495.4 360.4h0.6v0.6h-0.6zM488.2 360.1h0.6v0.6h-0.6zM490.9 365.7h0.6v0.6h-0.6zM494.1 358.7h0.6v0.6h-0.6zM492.8 367.2h0.6v0.6h-0.6zM488.3 358.2h0.6v0.6h-0.6zM492.1 359.4h0.6v0.6h-0.6zM494.5 360.2h0.6v0.6h-0.6zM492.9 359.5h0.6v0.6h-0.6zM493.7 367.3h0.6v0.6h-0.6zM494.2 362.4h0.6v0.6h-0.6zM495.0 368.8h0.6v0.6h-0.6zM491.4 357.8h0.6v0.6h-0.6zM494.8 361.8h0.6v0.6h-0.6zM492.4 356.4h0.6v0.6h-0.6zM489.9 356.7h0.6v0.6h-0.6zM490.7 361.8h0.6v0.6h-0.6zM490.7 359.1h0.6v0.6h-0.6zM496.5 364.6h0.6v0.6h-0.6zM490.3 358.7h0.6v0.6h-0.6zM495.0 357.8h0.6v0.6h-0.6zM489.6 367.1h0.6v0.6h-0.6zM491.0 365.3h0.6v0.6h-0.6zM493.3 364.9h0.6v0.6h-0.6zM490.9 356.6h0.6v0.6h-0.6zM490.5 375.8h0.6v0.6h-0.6zM491.0 369.7h0.6v0.6h-0.6zM491.1 361.2h0.6v0.6h-0.6zM485.9 359.7h0.6v0.6h-0.6zM491.6 356.6h0.6v0.6h-0.6zM487.4 359.7h0.6v0.6h-0.6zM489.7 358.0h0.6v0.6h-0.6zM489.5 370.4h0.6v0.6h-0.6zM488.9 364.1h0.6v0.6h-0.6zM494.1 359.4h0.6v0.6h-0.6zM500.5 363.9h0.6v0.6h-0.6zM494.5 369.3h0.6v0.6h-0.6zM490.5 370.1h0.6v0.6h-0.6zM491.4 365.3h0.6v0.6h-0.6zM490.8 360.6h0.6v0.6h-0.6zM488.0 359.1h0.6v0.6h-0.6zM492.3 356.9h0.6v0.6h-0.6zM488.8 366.3h0.6v0.6h-0.6zM488.3 357.0h0.6v0.6h-0.6zM491.4 363.2h0.6v0.6h-0.6zM493.7 357.6h0.6v0.6h-0.6zM490.2 358.3h0.6v0.6h-0.6zM490.8 360.6h0.6v0.6h-0.6zM484.5 358.4h0.6v0.6h-0.6zM490.4 373.4h0.6v0.6h-0.6zM496.6 362.7h0.6v0.6h-0.6zM492.2 356.7h0.6v0.6h-0.6zM489.2 363.0h0.6v0.6h-0.6zM491.3 359.4h0.6v0.6h-0.6zM490.9 356.5h0.6v0.6h-0.6zM496.8 365.0h0.6v0.6h-0.6zM489.4 364.2h0.6v0.6h-0.6zM493.3 357.9h0.6v0.6h-0.6zM490.8 356.9h0.6v0.6h-0.6zM494.1 367.8h0.6v0.6h-0.6zM492.6 363.9h0.6v0.6h-0.6zM489.0 370.0h0.6v0.6h-0.6zM492.5 358.5h0.6v0.6h-0.6zM493.8 360.8h0.6v0.6h-0.6zM497.6 366.0h0.6v0.6h-0.6zM489.7 363.6h0.6v0.6h-0.6zM484.7 362.6h0.6v0.6h-0.6zM490.9 366.4h0.6v0.6h-0.6zM490.0 359.1h0.6v0.6h-0.6zM493.5 364.7h0.6v0.6h-0.6zM497.6 364.1h0.6v0.6h-0.6zM495.3 368.9h0.6v0.6h-0.6zM495.4 361.2h0.6v0.6h-0.6zM492.8 362.6h0.6v0.6h-0.6zM487.4 363.8h0.6v0.6h-0.6zM488.8 361.3h0.6v0.6h-0.6zM488.7 363.1h0.6v0.6h-0.6zM490.2 374.4h0.6v0.6h-0.6zM492.0 361.8h0.6v0.6h-0.6zM489.0 356.8h0.6v0.6h-0.6zM491.4 356.8h0.6v0.6h-0.6zM489.3 360.9h0.6v0.6h-0.6zM489.3 357.5h0.6v0.6h-0.6zM488.1 360.8h0.6v0.6h-0.6zM490.4 359.8h0.6v0.6h-0.6zM492.7 361.0h0.6v0.6h-0.6zM492.2 362.4h0.6v0.6h-0.6zM491.5 362.7h0.6v0.6h-0.6zM494.1 366.4h0.6v0.6h-0.6zM488.0 362.5h0.6v0.6h-0.6zM493.7 362.0h0.6v0.6h-0.6zM494.1 356.5h0.6v0.6h-0.6zM490.7 356.5h0.6v0.6h-0.6zM489.6 363.1h0.6v0.6h-0.6zM489.4 358.2h0.6v0.6h-0.6zM491.9 361.9h0.6v0.6h-0.6zM491.8 357.4h0.6v0.6h-0.6zM496.7 371.5h0.6v0.6h-0.6zM490.1 360.3h0.6v0.6h-0.6zM489.4 357.0h0.6v0.6h-0.6zM495.6 367.7h0.6v0.6h-0.6zM490.5 366.8h0.6v0.6h-0.6zM490.6 370.7h0.6v0.6h-0.6zM492.5 367.7h0.6v0.6h-0.6zM489.2 356.6h0.6v0.6h-0.6zM494.3 362.2h0.6v0.6h-0.6zM486.4 356.9h0.6v0.6h-0.6zM492.0 362.6h0.6v0.6h-0.6zM489.8 369.6h0.6v0.6h-0.6zM491.9 367.8h0.6v0.6h-0.6zM492.6 359.1h0.6v0.6h-0.6zM493.9 363.4h0.6v0.6h-0.6zM490.7 358.5h0.6v0.6h-0.6zM490.2 363.0h0.6v0.6h-0.6zM494.0 372.6h0.6v0.6h-0.6zM491.7 360.2h0.6v0.6h-0.6zM491.0 358.1h0.6v0.6h-0.6zM493.2 359.1h0.6v0.6h-0.6zM495.6 358.1h0.6v0.6h-0.6zM491.0 358.5h0.6v0.6h-0.6zM494.6 356.6h0.6v0.6h-0.6zM492.0 357.1h0.6v0.6h-0.6zM492.1 365.1h0.6v0.6h-0.6zM494.8 362.5h0.6v0.6h-0.6zM492.3 368.5h0.6v0.6h-0.6zM493.5 367.4h0.6v0.6h-0.6zM493.7 356.9h0.6v0.6h-0.6zM491.1 372.8h0.6v0.6h-0.6zM488.8 368.9h0.6v0.6h-0.6zM487.6 365.7h0.6v0.6h-0.6zM492.0 357.4h0.6v0.6h-0.6zM494.6 359.2h0.6v0.6h-0.6zM495.9 365.8h0.6v0.6h-0.6zM496.4 365.7h0.6v0.6h-0.6zM491.7 362.0h0.6v0.6h-0.6zM488.3 363.3h0.6v0.6h-0.6zM488.0 358.2h0.6v0.6h-0.6zM488.7 360.2h0.6v0.6h-0.6zM490.7 360.9h0.6v0.6h-0.6zM494.4 363.0h0.6v0.6h-0.6zM493.4 368.5h0.6v0.6h-0.6zM492.8 373.3h0.6v0.6h-0.6zM495.3 358.5h0.6v0.6h-0.6zM492.6 379.4h0.6v0.6h-0.6zM491.7 370.7h0.6v0.6h-0.6zM497.2 374.0h0.6v0.6h-0.6zM494.8 359.7h0.6v0.6h-0.6zM492.8 359.1h0.6v0.6h-0.6zM510.2 367.4h0.6v0.6h-0.6zM494.6 374.6h0.6v0.6h-0.6zM499.8 364.9h0.6v0.6h-0.6zM499.6 368.0h0.6v0.6h-0.6zM502.3 377.3h0.6v0.6h-0.6zM494.6 365.9h0.6v0.6h-0.6zM495.3 374.4h0.6v0.6h-0.6zM498.4 371.4h0.6v0.6h-0.6zM501.1 361.8h0.6v0.6h-0.6zM497.0 375.5h0.6v0.6h-0.6zM501.3 371.6h0.6v0.6h-0.6zM494.8 363.7h0.6v0.6h-0.6zM491.7 364.3h0.6v0.6h-0.6zM495.9 356.4h0.6v0.6h-0.6zM502.5 360.9h0.6v0.6h-0.6zM497.6 370.2h0.6v0.6h-0.6zM501.5 368.9h0.6v0.6h-0.6zM494.9 373.8h0.6v0.6h-0.6zM501.1 359.7h0.6v0.6h-0.6zM494.9 375.7h0.6v0.6h-0.6zM491.8 371.7h0.6v0.6h-0.6zM488.2 364.1h0.6v0.6h-0.6zM501.4 377.7h0.6v0.6h-0.6zM498.7 371.2h0.6v0.6h-0.6zM487.1 378.9h0.6v0.6h-0.6zM509.5 370.2h0.6v0.6h-0.6zM496.6 367.9h0.6v0.6h-0.6zM496.4 362.0h0.6v0.6h-0.6zM496.2 365.3h0.6v0.6h-0.6zM499.9 370.7h0.6v0.6h-0.6zM501.6 370.1h0.6v0.6h-0.6zM491.1 375.5h0.6v0.6h-0.6zM482.0 366.9h0.6v0.6h-0.6zM498.1 362.5h0.6v0.6h-0.6zM506.3 358.7h0.6v0.6h-0.6zM490.0 362.7h0.6v0.6h-0.6zM498.5 371.5h0.6v0.6h-0.6zM496.9 370.6h0.6v0.6h-0.6zM492.5 362.0h0.6v0.6h-0.6zM497.0 357.0h0.6v0.6h-0.6zM497.3 363.5h0.6v0.6h-0.6zM500.0 359.3h0.6v0.6h-0.6zM493.5 362.3h0.6v0.6h-0.6zM494.3 359.4h0.6v0.6h-0.6zM494.9 357.0h0.6v0.6h-0.6zM499.2 370.7h0.6v0.6h-0.6zM496.2 364.8h0.6v0.6h-0.6zM491.5 359.6h0.6v0.6h-0.6zM495.1 360.0h0.6v0.6h-0.6zM490.0 367.2h0.6v0.6h-0.6zM496.2 363.4h0.6v0.6h-0.6zM491.9 365.8h0.6v0.6h-0.6zM492.6 363.2h0.6v0.6h-0.6zM497.3 371.0h0.6v0.6h-0.6zM500.3 362.0h0.6v0.6h-0.6zM502.7 358.3h0.6v0.6h-0.6zM495.4 374.9h0.6v0.6h-0.6zM509.0 367.0h0.6v0.6h-0.6zM494.4 363.6h0.6v0.6h-0.6zM489.8 365.1h0.6v0.6h-0.6zM494.0 361.0h0.6v0.6h-0.6zM502.7 360.9h0.6v0.6h-0.6zM505.3 371.8h0.6v0.6h-0.6zM499.7 362.1h0.6v0.6h-0.6zM497.7 364.3h0.6v0.6h-0.6zM498.4 361.6h0.6v0.6h-0.6zM484.6 369.3h0.6v0.6h-0.6zM503.1 363.8h0.6v0.6h-0.6zM491.0 370.9h0.6v0.6h-0.6zM492.4 365.9h0.6v0.6h-0.6zM495.5 379.6h0.6v0.6h-0.6zM501.0 357.2h0.6v0.6h-0.6zM493.7 358.4h0.6v0.6h-0.6zM488.9 361.5h0.6v0.6h-0.6zM502.1 366.4h0.6v0.6h-0.6zM499.9 365.2h0.6v0.6h-0.6zM494.0 366.7h0.6v0.6h-0.6zM495.9 379.1h0.6v0.6h-0.6zM505.8 368.7h0.6v0.6h-0.6zM495.6 382.3h0.6v0.6h-0.6zM492.0 371.6h0.6v0.6h-0.6zM502.8 363.4h0.6v0.6h-0.6zM495.1 363.0h0.6v0.6h-0.6zM500.5 366.3h0.6v0.6h-0.6zM504.3 374.1h0.6v0.6h-0.6zM496.2 383.7h0.6v0.6h-0.6zM494.6 362.0h0.6v0.6h-0.6zM495.0 360.2h0.6v0.6h-0.6zM494.0 365.6h0.6v0.6h-0.6zM488.8 360.9h0.6v0.6h-0.6zM494.7 369.2h0.6v0.6h-0.6zM492.1 376.3h0.6v0.6h-0.6zM493.5 364.6h0.6v0.6h-0.6zM496.6 374.0h0.6v0.6h-0.6zM497.9 366.3h0.6v0.6h-0.6zM493.4 367.3h0.6v0.6h-0.6zM498.4 363.7h0.6v0.6h-0.6zM493.5 374.1h0.6v0.6h-0.6zM503.8 365.6h0.6v0.6h-0.6zM484.8 378.5h0.6v0.6h-0.6zM495.4 383.5h0.6v0.6h-0.6zM494.1 372.9h0.6v0.6h-0.6zM493.0 375.4h0.6v0.6h-0.6zM502.4 358.9h0.6v0.6h-0.6zM503.1 385.5h0.6v0.6h-0.6zM495.1 357.9h0.6v0.6h-0.6zM497.7 363.4h0.6v0.6h-0.6zM488.3 359.0h0.6v0.6h-0.6zM502.0 369.2h0.6v0.6h-0.6zM495.3 375.6h0.6v0.6h-0.6zM491.4 370.8h0.6v0.6h-0.6zM489.1 363.9h0.6v0.6h-0.6zM499.7 362.5h0.6v0.6h-0.6zM495.7 370.5h0.6v0.6h-0.6zM504.3 374.9h0.6v0.6h-0.6zM498.7 364.3h0.6v0.6h-0.6zM488.6 377.8h0.6v0.6h-0.6zM500.9 365.8h0.6v0.6h-0.6zM500.0 368.3h0.6v0.6h-0.6zM495.2 366.1h0.6v0.6h-0.6zM496.1 374.0h0.6v0.6h-0.6zM494.9 362.4h0.6v0.6h-0.6zM499.7 370.5h0.6v0.6h-0.6zM498.6 368.0h0.6v0.6h-0.6zM504.1 373.7h0.6v0.6h-0.6zM497.4 364.7h0.6v0.6h-0.6zM493.5 361.3h0.6v0.6h-0.6zM497.2 363.5h0.6v0.6h-0.6zM509.3 371.1h0.6v0.6h-0.6zM498.4 381.4h0.6v0.6h-0.6zM496.2 363.9h0.6v0.6h-0.6zM502.8 371.7h0.6v0.6h-0.6zM501.2 374.3h0.6v0.6h-0.6zM494.3 361.6h0.6v0.6h-0.6zM492.4 366.8h0.6v0.6h-0.6zM501.6 359.0h0.6v0.6h-0.6zM493.4 357.0h0.6v0.6h-0.6zM506.8 371.5h0.6v0.6h-0.6zM497.4 357.8h0.6v0.6h-0.6zM490.8 361.7h0.6v0.6h-0.6zM496.4 357.5h0.6v0.6h-0.6zM495.1 374.4h0.6v0.6h-0.6zM496.3 366.8h0.6v0.6h-0.6zM485.2 364.3h0.6v0.6h-0.6zM495.5 361.4h0.6v0.6h-0.6zM488.9 365.6h0.6v0.6h-0.6zM490.8 362.4h0.6v0.6h-0.6zM487.8 365.5h0.6v0.6h-0.6zM501.1 360.4h0.6v0.6h-0.6zM499.3 369.8h0.6v0.6h-0.6zM494.2 372.1h0.6v0.6h-0.6zM491.6 366.4h0.6v0.6h-0.6zM505.2 365.9h0.6v0.6h-0.6zM490.3 374.0h0.6v0.6h-0.6zM499.1 364.2h0.6v0.6h-0.6zM488.2 376.2h0.6v0.6h-0.6zM497.8 360.3h0.6v0.6h-0.6zM502.3 376.1h0.6v0.6h-0.6zM491.8 369.4h0.6v0.6h-0.6zM487.6 368.6h0.6v0.6h-0.6zM505.8 356.5h0.6v0.6h-0.6zM496.6 361.8h0.6v0.6h-0.6zM495.8 366.7h0.6v0.6h-0.6zM497.7 372.2h0.6v0.6h-0.6zM499.0 373.2h0.6v0.6h-0.6zM501.6 373.6h0.6v0.6h-0.6zM492.7 368.9h0.6v0.6h-0.6zM494.3 360.4h0.6v0.6h-0.6zM506.6 368.1h0.6v0.6h-0.6zM495.0 371.4h0.6v0.6h-0.6zM495.2 362.4h0.6v0.6h-0.6zM504.0 364.0h0.6v0.6h-0.6zM490.3 382.1h0.6v0.6h-0.6zM490.5 387.7h0.6v0.6h-0.6zM492.3 382.3h0.6v0.6h-0.6zM490.2 381.5h0.6v0.6h-0.6zM494.9 381.1h0.6v0.6h-0.6zM492.5 374.9h0.6v0.6h-0.6zM491.8 386.0h0.6v0.6h-0.6zM493.9 384.1h0.6v0.6h-0.6zM492.4 384.2h0.6v0.6h-0.6zM493.5 392.6h0.6v0.6h-0.6zM491.5 378.6h0.6v0.6h-0.6zM492.4 382.1h0.6v0.6h-0.6zM492.5 386.4h0.6v0.6h-0.6zM491.4 380.5h0.6v0.6h-0.6zM491.7 376.5h0.6v0.6h-0.6zM491.7 378.3h0.6v0.6h-0.6zM492.1 383.2h0.6v0.6h-0.6zM490.5 376.7h0.6v0.6h-0.6zM491.1 379.3h0.6v0.6h-0.6zM490.7 386.0h0.6v0.6h-0.6zM493.2 376.3h0.6v0.6h-0.6zM493.2 389.2h0.6v0.6h-0.6zM493.6 384.0h0.6v0.6h-0.6zM490.8 391.1h0.6v0.6h-0.6zM490.3 375.2h0.6v0.6h-0.6zM491.2 384.0h0.6v0.6h-0.6zM488.6 376.7h0.6v0.6h-0.6zM495.6 383.2h0.6v0.6h-0.6zM492.8 379.8h0.6v0.6h-0.6zM487.5 381.7h0.6v0.6h-0.6zM494.1 379.3h0.6v0.6h-0.6zM486.9 381.8h0.6v0.6h-0.6zM490.4 382.7h0.6v0.6h-0.6zM488.6 381.1h0.6v0.6h-0.6zM489.8 386.9h0.6v0.6h-0.6zM491.4 386.9h0.6v0.6h-0.6zM490.9 372.2h0.6v0.6h-0.6zM486.5 385.2h0.6v0.6h-0.6zM493.0 386.9h0.6v0.6h-0.6zM490.9 373.9h0.6v0.6h-0.6zM489.9 384.6h0.6v0.6h-0.6zM494.2 380.9h0.6v0.6h-0.6zM489.7 378.8h0.6v0.6h-0.6zM493.4 386.8h0.6v0.6h-0.6zM486.8 388.5h0.6v0.6h-0.6zM488.9 375.4h0.6v0.6h-0.6zM487.4 379.1h0.6v0.6h-0.6zM496.3 395.1h0.6v0.6h-0.6zM488.2 379.3h0.6v0.6h-0.6zM491.4 384.6h0.6v0.6h-0.6zM489.9 374.9h0.6v0.6h-0.6zM490.1 379.3h0.6v0.6h-0.6zM486.9 383.3h0.6v0.6h-0.6zM487.7 374.1h0.6v0.6h-0.6zM494.5 387.2h0.6v0.6h-0.6zM494.4 383.2h0.6v0.6h-0.6zM490.1 382.2h0.6v0.6h-0.6zM487.9 386.2h0.6v0.6h-0.6zM491.6 381.1h0.6v0.6h-0.6zM486.7 382.1h0.6v0.6h-0.6zM494.8 389.7h0.6v0.6h-0.6zM493.0 380.9h0.6v0.6h-0.6zM491.3 385.3h0.6v0.6h-0.6zM491.5 387.7h0.6v0.6h-0.6zM489.5 371.3h0.6v0.6h-0.6zM485.5 378.2h0.6v0.6h-0.6zM487.9 385.8h0.6v0.6h-0.6zM493.5 382.6h0.6v0.6h-0.6zM492.3 383.0h0.6v0.6h-0.6zM491.4 380.3h0.6v0.6h-0.6zM490.1 388.4h0.6v0.6h-0.6zM490.4 382.4h0.6v0.6h-0.6zM493.8 387.4h0.6v0.6h-0.6zM490.1 383.8h0.6v0.6h-0.6zM488.7 383.2h0.6v0.6h-0.6zM491.8 382.6h0.6v0.6h-0.6zM491.4 384.4h0.6v0.6h-0.6zM485.2 378.6h0.6v0.6h-0.6zM491.2 380.2h0.6v0.6h-0.6zM488.8 381.4h0.6v0.6h-0.6zM494.7 381.5h0.6v0.6h-0.6zM489.5 380.3h0.6v0.6h-0.6zM488.3 385.0h0.6v0.6h-0.6zM488.8 387.1h0.6v0.6h-0.6zM493.1 385.4h0.6v0.6h-0.6zM493.4 382.2h0.6v0.6h-0.6zM487.0 382.3h0.6v0.6h-0.6zM492.5 375.1h0.6v0.6h-0.6zM488.2 388.0h0.6v0.6h-0.6zM492.0 389.2h0.6v0.6h-0.6zM492.6 382.9h0.6v0.6h-0.6zM492.0 386.8h0.6v0.6h-0.6zM491.0 381.6h0.6v0.6h-0.6zM491.8 381.1h0.6v0.6h-0.6zM496.6 378.9h0.6v0.6h-0.6zM487.5 376.3h0.6v0.6h-0.6zM493.4 380.6h0.6v0.6h-0.6zM491.4 381.6h0.6v0.6h-0.6zM491.7 375.5h0.6v0.6h-0.6zM491.2 379.8h0.6v0.6h-0.6zM493.5 385.6h0.6v0.6h-0.6zM488.1 377.9h0.6v0.6h-0.6zM492.3 388.4h0.6v0.6h-0.6zM492.8 381.9h0.6v0.6h-0.6zM493.6 371.1h0.6v0.6h-0.6zM489.8 377.8h0.6v0.6h-0.6zM488.7 385.4h0.6v0.6h-0.6zM491.7 384.0h0.6v0.6h-0.6zM490.7 385.6h0.6v0.6h-0.6zM492.8 379.8h0.6v0.6h-0.6zM493.2 378.1h0.6v0.6h-0.6zM495.1 376.2h0.6v0.6h-0.6zM490.4 377.3h0.6v0.6h-0.6zM491.1 389.0h0.6v0.6h-0.6zM489.3 391.3h0.6v0.6h-0.6zM494.3 384.5h0.6v0.6h-0.6zM489.7 387.0h0.6v0.6h-0.6zM484.4 378.9h0.6v0.6h-0.6zM493.3 382.4h0.6v0.6h-0.6zM496.8 379.3h0.6v0.6h-0.6zM488.0 381.5h0.6v0.6h-0.6zM492.4 390.9h0.6v0.6h-0.6zM487.0 383.4h0.6v0.6h-0.6zM494.0 379.3h0.6v0.6h-0.6zM490.0 376.7h0.6v0.6h-0.6zM492.8 386.7h0.6v0.6h-0.6zM492.4 383.8h0.6v0.6h-0.6zM493.3 382.0h0.6v0.6h-0.6zM492.7 386.6h0.6v0.6h-0.6zM494.0 385.1h0.6v0.6h-0.6zM491.2 386.1h0.6v0.6h-0.6zM487.4 374.0h0.6v0.6h-0.6zM494.8 383.3h0.6v0.6h-0.6zM488.6 379.8h0.6v0.6h-0.6zM490.7 383.0h0.6v0.6h-0.6zM489.3 387.5h0.6v0.6h-0.6zM487.1 396.4h0.6v0.6h-0.6zM488.5 390.8h0.6v0.6h-0.6zM492.6 374.3h0.6v0.6h-0.6zM488.2 382.9h0.6v0.6h-0.6zM491.7 380.5h0.6v0.6h-0.6zM491.1 383.4h0.6v0.6h-0.6zM488.4 382.9h0.6v0.6h-0.6zM496.3 379.4h0.6v0.6h-0.6zM488.7 385.9h0.6v0.6h-0.6zM494.2 387.7h0.6v0.6h-0.6zM489.6 382.2h0.6v0.6h-0.6zM491.5 381.6h0.6v0.6h-0.6zM492.0 387.9h0.6v0.6h-0.6zM492.3 382.5h0.6v0.6h-0.6zM490.6 391.4h0.6v0.6h-0.6zM488.2 392.5h0.6v0.6h-0.6zM492.8 383.0h0.6v0.6h-0.6zM489.3 391.6h0.6v0.6h-0.6zM493.9 387.1h0.6v0.6h-0.6zM495.9 373.8h0.6v0.6h-0.6zM491.3 381.1h0.6v0.6h-0.6zM489.3 383.0h0.6v0.6h-0.6zM492.3 385.2h0.6v0.6h-0.6zM490.7 376.1h0.6v0.6h-0.6zM492.3 385.6h0.6v0.6h-0.6zM496.0 387.2h0.6v0.6h-0.6zM491.1 376.9h0.6v0.6h-0.6zM497.4 379.3h0.6v0.6h-0.6zM491.5 386.3h0.6v0.6h-0.6zM492.2 389.2h0.6v0.6h-0.6zM488.6 379.2h0.6v0.6h-0.6zM491.4 376.5h0.6v0.6h-0.6zM489.6 389.4h0.6v0.6h-0.6zM491.7 382.1h0.6v0.6h-0.6zM489.7 382.8h0.6v0.6h-0.6zM491.0 377.3h0.6v0.6h-0.6zM492.9 376.3h0.6v0.6h-0.6zM494.1 380.9h0.6v0.6h-0.6zM485.6 374.9h0.6v0.6h-0.6zM491.7 378.3h0.6v0.6h-0.6zM495.3 389.4h0.6v0.6h-0.6zM496.0 387.0h0.6v0.6h-0.6zM494.2 379.6h0.6v0.6h-0.6zM494.1 380.4h0.6v0.6h-0.6zM490.9 375.9h0.6v0.6h-0.6zM491.2 384.6h0.6v0.6h-0.6zM490.9 377.1h0.6v0.6h-0.6zM493.2 387.1h0.6v0.6h-0.6zM490.8 386.5h0.6v0.6h-0.6zM493.4 377.7h0.6v0.6h-0.6zM490.9 373.4h0.6v0.6h-0.6zM488.6 384.7h0.6v0.6h-0.6zM488.9 384.5h0.6v0.6h-0.6zM491.9 372.4h0.6v0.6h-0.6zM489.9 390.1h0.6v0.6h-0.6zM491.1 383.2h0.6v0.6h-0.6zM489.4 374.7h0.6v0.6h-0.6zM487.2 396.9h0.6v0.6h-0.6zM490.6 378.3h0.6v0.6h-0.6zM491.3 373.0h0.6v0.6h-0.6zM494.4 391.1h0.6v0.6h-0.6zM489.2 384.2h0.6v0.6h-0.6zM488.9 386.9h0.6v0.6h-0.6zM489.0 381.9h0.6v0.6h-0.6zM494.1 385.2h0.6v0.6h-0.6zM490.3 375.1h0.6v0.6h-0.6zM487.2 388.6h0.6v0.6h-0.6zM492.3 382.9h0.6v0.6h-0.6zM494.0 383.3h0.6v0.6h-0.6zM489.3 382.1h0.6v0.6h-0.6zM490.8 382.5h0.6v0.6h-0.6zM508.2 387.6h0.6v0.6h-0.6zM497.1 382.6h0.6v0.6h-0.6zM492.4 378.2h0.6v0.6h-0.6zM486.4 381.4h0.6v0.6h-0.6zM488.2 373.0h0.6v0.6h-0.6zM491.1 372.0h0.6v0.6h-0.6zM502.6 391.6h0.6v0.6h-0.6zM490.9 396.3h0.6v0.6h-0.6zM499.1 369.0h0.6v0.6h-0.6zM495.9 378.1h0.6v0.6h-0.6zM487.1 382.5h0.6v0.6h-0.6zM501.5 386.8h0.6v0.6h-0.6zM488.5 380.1h0.6v0.6h-0.6zM492.0 391.0h0.6v0.6h-0.6zM495.3 378.2h0.6v0.6h-0.6zM491.2 372.3h0.6v0.6h-0.6zM491.5 389.5h0.6v0.6h-0.6zM486.2 385.3h0.6v0.6h-0.6zM495.2 389.0h0.6v0.6h-0.6zM490.0 389.6h0.6v0.6h-0.6zM503.5 397.8h0.6v0.6h-0.6zM487.6 383.9h0.6v0.6h-0.6zM494.7 384.8h0.6v0.6h-0.6zM490.8 389.2h0.6v0.6h-0.6zM507.5 393.1h0.6v0.6h-0.6zM491.0 380.6h0.6v0.6h-0.6zM499.4 384.9h0.6v0.6h-0.6zM491.9 391.5h0.6v0.6h-0.6zM498.3 390.2h0.6v0.6h-0.6zM494.9 391.8h0.6v0.6h-0.6zM493.4 377.4h0.6v0.6h-0.6zM495.7 375.7h0.6v0.6h-0.6zM502.0 388.5h0.6v0.6h-0.6zM487.3 385.1h0.6v0.6h-0.6zM500.0 381.9h0.6v0.6h-0.6zM497.8 380.6h0.6v0.6h-0.6zM495.4 383.6h0.6v0.6h-0.6zM498.2 378.3h0.6v0.6h-0.6zM490.1 386.1h0.6v0.6h-0.6zM493.2 387.2h0.6v0.6h-0.6zM493.2 376.2h0.6v0.6h-0.6zM499.4 385.7h0.6v0.6h-0.6zM499.4 382.1h0.6v0.6h-0.6zM493.9 391.7h0.6v0.6h-0.6zM487.2 394.6h0.6v0.6h-0.6zM498.3 383.8h0.6v0.6h-0.6zM496.2 387.7h0.6v0.6h-0.6zM491.9 385.8h0.6v0.6h-0.6zM490.9 373.0h0.6v0.6h-0.6zM496.7 384.7h0.6v0.6h-0.6zM499.0 387.4h0.6v0.6h-0.6zM499.2 388.9h0.6v0.6h-0.6zM490.4 391.4h0.6v0.6h-0.6zM509.2 380.7h0.6v0.6h-0.6zM489.4 388.2h0.6v0.6h-0.6zM500.3 390.2h0.6v0.6h-0.6zM503.4 375.8h0.6v0.6h-0.6zM497.6 386.9h0.6v0.6h-0.6zM502.0 378.7h0.6v0.6h-0.6zM495.8 381.9h0.6v0.6h-0.6zM494.9 383.2h0.6v0.6h-0.6zM495.0 373.5h0.6v0.6h-0.6zM495.5 384.5h0.6v0.6h-0.6zM493.8 362.7h0.6v0.6h-0.6zM492.2 380.2h0.6v0.6h-0.6zM491.3 393.7h0.6v0.6h-0.6zM500.4 383.0h0.6v0.6h-0.6zM498.7 403.9h0.6v0.6h-0.6zM490.8 387.0h0.6v0.6h-0.6zM492.7 393.0h0.6v0.6h-0.6zM501.3 383.4h0.6v0.6h-0.6zM498.8 379.3h0.6v0.6h-0.6zM487.8 389.2h0.6v0.6h-0.6zM503.9 382.3h0.6v0.6h-0.6zM493.1 373.3h0.6v0.6h-0.6zM506.5 376.9h0.6v0.6h-0.6zM490.8 382.9h0.6v0.6h-0.6zM501.8 384.4h0.6v0.6h-0.6zM495.6 384.2h0.6v0.6h-0.6zM500.0 383.9h0.6v0.6h-0.6zM496.5 383.7h0.6v0.6h-0.6zM490.1 392.2h0.6v0.6h-0.6zM492.2 376.2h0.6v0.6h-0.6zM493.5 384.3h0.6v0.6h-0.6zM499.8 375.2h0.6v0.6h-0.6zM489.3 385.2h0.6v0.6h-0.6zM497.6 377.5h0.6v0.6h-0.6zM490.0 385.2h0.6v0.6h-0.6zM495.0 374.4h0.6v0.6h-0.6zM491.3 393.0h0.6v0.6h-0.6zM490.4 390.4h0.6v0.6h-0.6zM488.0 393.1h0.6v0.6h-0.6zM503.8 380.3h0.6v0.6h-0.6zM492.3 387.9h0.6v0.6h-0.6zM489.5 387.4h0.6v0.6h-0.6zM501.8 385.7h0.6v0.6h-0.6zM497.3 383.2h0.6v0.6h-0.6zM500.8 379.2h0.6v0.6h-0.6zM503.7 384.0h0.6v0.6h-0.6zM504.6 362.1h0.6v0.6h-0.6zM503.0 382.7h0.6v0.6h-0.6zM526.7 362.3h0.6v0.6h-0.6zM507.4 372.5h0.6v0.6h-0.6zM492.4 380.2h0.6v0.6h-0.6zM498.5 389.7h0.6v0.6h-0.6zM482.4 358.6h0.6v0.6h-0.6zM516.5 376.4h0.6v0.6h-0.6zM511.0 369.4h0.6v0.6h-0.6zM494.5 372.0h0.6v0.6h-0.6zM508.4 370.8h0.6v0.6h-0.6zM503.3 370.6h0.6v0.6h-0.6zM512.5 367.5h0.6v0.6h-0.6zM508.9 381.2h0.6v0.6h-0.6zM522.7 371.9h0.6v0.6h-0.6zM493.2 363.6h0.6v0.6h-0.6zM519.9 373.2h0.6v0.6h-0.6zM523.1 379.2h0.6v0.6h-0.6zM505.3 359.6h0.6v0.6h-0.6zM499.7 388.8h0.6v0.6h-0.6zM500.6 387.6h0.6v0.6h-0.6zM486.1 391.3h0.6v0.6h-0.6zM513.7 366.5h0.6v0.6h-0.6zM501.8 372.9h0.6v0.6h-0.6zM511.8 357.8h0.6v0.6h-0.6zM497.1 388.8h0.6v0.6h-0.6zM511.3 388.3h0.6v0.6h-0.6zM521.2 367.5h0.6v0.6h-0.6zM490.3 385.2h0.6v0.6h-0.6zM509.7 381.0h0.6v0.6h-0.6zM497.8 391.3h0.6v0.6h-0.6zM516.2 392.7h0.6v0.6h-0.6zM504.2 387.7h0.6v0.6h-0.6zM508.4 369.7h0.6v0.6h-0.6zM508.1 361.8h0.6v0.6h-0.6zM506.7 382.1h0.6v0.6h-0.6zM519.0 368.5h0.6v0.6h-0.6zM490.5 372.0h0.6v0.6h-0.6zM480.1 372.9h0.6v0.6h-0.6zM498.5 372.6h0.6v0.6h-0.6zM534.0 367.2h0.6v0.6h-0.6zM507.6 379.2h0.6v0.6h-0.6zM498.9 372.2h0.6v0.6h-0.6zM485.6 370.8h0.6v0.6h-0.6zM527.5 395.7h0.6v0.6h-0.6zM505.2 387.9h0.6v0.6h-0.6zM515.7 381.3h0.6v0.6h-0.6zM507.3 393.5h0.6v0.6h-0.6zM517.2 377.6h0.6v0.6h-0.6zM505.9 390.4h0.6v0.6h-0.6zM500.9 372.2h0.6v0.6h-0.6zM505.3 374.6h0.6v0.6h-0.6zM526.9 384.0h0.6v0.6h-0.6zM508.0 374.3h0.6v0.6h-0.6zM529.1 385.0h0.6v0.6h-0.6zM538.5 390.1h0.6v0.6h-0.6zM506.2 374.0h0.6v0.6h-0.6zM505.2 382.1h0.6v0.6h-0.6zM520.3 385.5h0.6v0.6h-0.6zM531.3 363.3h0.6v0.6h-0.6zM509.6 364.4h0.6v0.6h-0.6zM494.7 373.5h0.6v0.6h-0.6zM500.1 369.4h0.6v0.6h-0.6zM487.9 392.7h0.6v0.6h-0.6zM504.7 390.8h0.6v0.6h-0.6zM500.8 389.8h0.6v0.6h-0.6zM501.4 384.5h0.6v0.6h-0.6zM494.1 395.5h0.6v0.6h-0.6zM515.3 391.7h0.6v0.6h-0.6zM505.3 394.2h0.6v0.6h-0.6zM510.2 374.7h0.6v0.6h-0.6zM500.2 380.7h0.6v0.6h-0.6zM496.4 366.9h0.6v0.6h-0.6zM511.0 387.9h0.6v0.6h-0.6zM505.1 389.4h0.6v0.6h-0.6zM531.5 366.1h0.6v0.6h-0.6zM512.8 369.5h0.6v0.6h-0.6zM500.2 382.1h0.6v0.6h-0.6zM475.9 386.8h0.6v0.6h-0.6zM521.0 386.1h0.6v0.6h-0.6zM518.3 400.1h0.6v0.6h-0.6zM504.1 392.2h0.6v0.6h-0.6zM529.5 385.5h0.6v0.6h-0.6zM484.1 378.4h0.6v0.6h-0.6zM505.1 362.2h0.6v0.6h-0.6zM508.3 388.4h0.6v0.6h-0.6zM505.6 378.1h0.6v0.6h-0.6zM529.8 373.3h0.6v0.6h-0.6zM496.0 380.5h0.6v0.6h-0.6zM524.9 386.6h0.6v0.6h-0.6zM510.2 374.7h0.6v0.6h-0.6zM526.5 389.9h0.6v0.6h-0.6zM484.8 383.8h0.6v0.6h-0.6zM475.4 396.6h0.6v0.6h-0.6zM517.8 373.1h0.6v0.6h-0.6zM491.1 376.8h0.6v0.6h-0.6zM484.6 386.3h0.6v0.6h-0.6zM502.0 360.6h0.6v0.6h-0.6zM508.9 393.1h0.6v0.6h-0.6zM491.4 376.2h0.6v0.6h-0.6zM534.7 382.1h0.6v0.6h-0.6zM501.4 382.2h0.6v0.6h-0.6zM520.1 369.0h0.6v0.6h-0.6zM507.8 362.1h0.6v0.6h-0.6zM487.0 363.1h0.6v0.6h-0.6zM525.6 376.2h0.6v0.6h-0.6zM525.4 378.0h0.6v0.6h-0.6zM524.3 376.1h0.6v0.6h-0.6zM524.8 376.5h0.6v0.6h-0.6zM522.5 375.0h0.6v0.6h-0.6zM524.0 375.7h0.6v0.6h-0.6zM523.0 375.3h0.6v0.6h-0.6zM524.7 376.0h0.6v0.6h-0.6zM525.1 377.2h0.6v0.6h-0.6zM525.1 377.5h0.6v0.6h-0.6zM525.5 378.4h0.6v0.6h-0.6zM525.2 374.4h0.6v0.6h-0.6zM527.9 377.9h0.6v0.6h-0.6zM526.2 377.1h0.6v0.6h-0.6zM524.3 373.3h0.6v0.6h-0.6zM524.9 374.9h0.6v0.6h-0.6zM523.6 371.3h0.6v0.6h-0.6zM526.7 373.3h0.6v0.6h-0.6zM522.4 376.5h0.6v0.6h-0.6zM525.1 374.0h0.6v0.6h-0.6zM524.2 376.1h0.6v0.6h-0.6zM524.5 376.7h0.6v0.6h-0.6zM525.4 374.9h0.6v0.6h-0.6zM521.6 379.9h0.6v0.6h-0.6zM523.6 373.6h0.6v0.6h-0.6zM525.4 376.8h0.6v0.6h-0.6zM523.2 380.3h0.6v0.6h-0.6zM520.4 378.2h0.6v0.6h-0.6zM524.1 376.2h0.6v0.6h-0.6zM524.7 375.1h0.6v0.6h-0.6z" fill="#2828d8" fill-opacity="0.6"/>
<rect x="471.2" y="356.1" width="69" height="68.4" fill="none" stroke="#999" stroke-width="0.7"/>
<rect x="487.2" y="356.1" width="21.1" height="20.4" fill="none" stroke="#444" stroke-width="0.6"/>
<rect x="487.2" y="376.5" width="14.1" height="14.9" fill="none" stroke="#444" stroke-width="0.6"/>
<rect x="512.3" y="388.8" width="19.6" height="10.6" fill="none" stroke="#444" stroke-width="0.6"/>
<rect x="505" y="356.9" width="35.4" height="4.4" fill="#fff" stroke="#ccc" stroke-width="0.3"/>
<text x="506.2" y="361.1" font-size="4.8" textLength="33.8" lengthAdjust="spacingAndGlyphs" stroke="#333" stroke-width="0.06" fill="#333">Ly-6G- Ly-6C High</text>
<rect x="471.9" y="392.9" width="34.8" height="4.4" fill="#fff" stroke="#ccc" stroke-width="0.3"/>
<text x="472.1" y="397.1" font-size="4.8" textLength="33.5" lengthAdjust="spacingAndGlyphs" stroke="#333" stroke-width="0.06" fill="#333">Ly-6G- Ly-6C Low</text>
<rect x="512" y="400.9" width="28.4" height="4.4" fill="#fff" stroke="#ccc" stroke-width="0.3"/>
<text x="512.2" y="405.1" font-size="4.8" textLength="27.5" lengthAdjust="spacingAndGlyphs" stroke="#333" stroke-width="0.06" fill="#333">Ly-6G+ Ly-6C -</text>
<text x="474" y="366.4" font-size="6" textLength="11.1" lengthAdjust="spacingAndGlyphs" stroke="#2a2a2a" stroke-width="0.18" fill="#2a2a2a">46%</text>
<text x="486.5" y="421.7" font-size="6.9" textLength="32.4" lengthAdjust="spacingAndGlyphs" stroke="#2a2a2a" stroke-width="0.15" fill="#2a2a2a">SD + aPD-1</text>
<text x="470" y="364.6" font-size="2.8" text-anchor="end" fill="#333">10⁵</text>
<line x1="470.3" y1="363.6" x2="471.2" y2="363.6" stroke="#888" stroke-width="0.35"/>
<text x="470" y="383.9" font-size="2.8" text-anchor="end" fill="#333">20000</text>
<line x1="470.3" y1="382.9" x2="471.2" y2="382.9" stroke="#888" stroke-width="0.35"/>
<text x="470" y="400.4" font-size="2.8" text-anchor="end" fill="#333">0</text>
<line x1="470.3" y1="399.4" x2="471.2" y2="399.4" stroke="#888" stroke-width="0.35"/>
<text x="470" y="416" font-size="2.8" text-anchor="end" fill="#333">-20000</text>
<line x1="470.3" y1="415" x2="471.2" y2="415" stroke="#888" stroke-width="0.35"/>
<text x="473" y="428.3" font-size="2.8" text-anchor="middle" fill="#333">-4000</text>
<text x="489.9" y="428.3" font-size="2.8" text-anchor="middle" fill="#333">0</text>
<text x="503.5" y="428.3" font-size="2.8" text-anchor="middle" fill="#333">2000 4000</text>
<text x="516.3" y="428.3" font-size="2.8" text-anchor="middle" fill="#333">10⁴</text>
<text x="534" y="428.3" font-size="2.8" text-anchor="middle" fill="#333">10⁵</text>
<path d="M399.6 451.7h0.6v0.6h-0.6zM393.5 447.7h0.6v0.6h-0.6zM400.4 438.5h0.6v0.6h-0.6zM401.1 442.4h0.6v0.6h-0.6zM403.9 443.0h0.6v0.6h-0.6zM405.0 447.5h0.6v0.6h-0.6zM392.8 450.5h0.6v0.6h-0.6zM401.9 445.9h0.6v0.6h-0.6zM404.8 441.1h0.6v0.6h-0.6zM405.5 450.8h0.6v0.6h-0.6zM402.7 447.8h0.6v0.6h-0.6zM398.4 454.1h0.6v0.6h-0.6zM400.1 447.1h0.6v0.6h-0.6zM394.1 439.4h0.6v0.6h-0.6zM398.7 452.6h0.6v0.6h-0.6zM402.6 440.9h0.6v0.6h-0.6zM396.7 447.6h0.6v0.6h-0.6zM397.4 442.4h0.6v0.6h-0.6zM407.1 438.4h0.6v0.6h-0.6zM399.8 438.1h0.6v0.6h-0.6zM401.4 438.5h0.6v0.6h-0.6zM403.7 446.1h0.6v0.6h-0.6zM402.2 450.0h0.6v0.6h-0.6zM397.7 447.0h0.6v0.6h-0.6zM399.6 442.6h0.6v0.6h-0.6zM399.2 440.7h0.6v0.6h-0.6zM399.4 440.2h0.6v0.6h-0.6zM401.9 438.5h0.6v0.6h-0.6zM401.9 448.4h0.6v0.6h-0.6zM402.0 446.5h0.6v0.6h-0.6zM400.8 445.6h0.6v0.6h-0.6zM401.4 438.2h0.6v0.6h-0.6zM397.4 440.8h0.6v0.6h-0.6zM400.5 439.9h0.6v0.6h-0.6zM404.9 447.4h0.6v0.6h-0.6zM398.5 441.2h0.6v0.6h-0.6zM399.8 440.3h0.6v0.6h-0.6zM405.3 445.7h0.6v0.6h-0.6zM400.2 442.1h0.6v0.6h-0.6zM399.3 446.9h0.6v0.6h-0.6zM399.9 438.9h0.6v0.6h-0.6zM403.5 447.0h0.6v0.6h-0.6zM404.8 449.9h0.6v0.6h-0.6zM401.6 440.4h0.6v0.6h-0.6zM403.6 439.5h0.6v0.6h-0.6zM402.6 443.7h0.6v0.6h-0.6zM397.6 447.5h0.6v0.6h-0.6zM402.0 446.3h0.6v0.6h-0.6zM402.2 437.7h0.6v0.6h-0.6zM398.4 447.0h0.6v0.6h-0.6zM401.3 439.7h0.6v0.6h-0.6zM403.8 444.7h0.6v0.6h-0.6zM398.8 449.7h0.6v0.6h-0.6zM403.4 448.7h0.6v0.6h-0.6zM400.8 449.6h0.6v0.6h-0.6zM397.1 441.9h0.6v0.6h-0.6zM399.1 439.2h0.6v0.6h-0.6zM401.8 444.4h0.6v0.6h-0.6zM404.2 442.2h0.6v0.6h-0.6zM400.4 440.9h0.6v0.6h-0.6zM403.6 450.4h0.6v0.6h-0.6zM403.2 446.3h0.6v0.6h-0.6zM397.7 446.5h0.6v0.6h-0.6zM394.0 451.2h0.6v0.6h-0.6zM399.1 446.7h0.6v0.6h-0.6zM398.6 444.2h0.6v0.6h-0.6zM401.2 440.4h0.6v0.6h-0.6zM402.4 438.2h0.6v0.6h-0.6zM400.8 440.7h0.6v0.6h-0.6zM397.3 443.5h0.6v0.6h-0.6zM401.1 440.0h0.6v0.6h-0.6zM399.4 452.7h0.6v0.6h-0.6zM398.3 443.5h0.6v0.6h-0.6zM398.7 445.8h0.6v0.6h-0.6zM400.9 446.6h0.6v0.6h-0.6zM403.1 441.8h0.6v0.6h-0.6zM398.9 437.7h0.6v0.6h-0.6zM398.0 445.1h0.6v0.6h-0.6zM399.5 442.8h0.6v0.6h-0.6zM401.4 438.0h0.6v0.6h-0.6zM401.7 438.1h0.6v0.6h-0.6zM397.4 444.6h0.6v0.6h-0.6zM402.4 441.3h0.6v0.6h-0.6zM398.8 448.6h0.6v0.6h-0.6zM402.1 444.7h0.6v0.6h-0.6zM395.9 442.1h0.6v0.6h-0.6zM403.8 445.6h0.6v0.6h-0.6zM398.6 448.5h0.6v0.6h-0.6zM400.2 443.7h0.6v0.6h-0.6zM400.2 450.0h0.6v0.6h-0.6zM399.8 440.9h0.6v0.6h-0.6zM400.0 440.3h0.6v0.6h-0.6zM401.4 450.4h0.6v0.6h-0.6zM395.1 443.1h0.6v0.6h-0.6zM400.9 439.7h0.6v0.6h-0.6zM397.9 444.4h0.6v0.6h-0.6zM406.0 444.1h0.6v0.6h-0.6zM402.9 446.6h0.6v0.6h-0.6zM400.3 446.0h0.6v0.6h-0.6zM398.4 440.9h0.6v0.6h-0.6zM402.7 448.2h0.6v0.6h-0.6zM399.9 437.8h0.6v0.6h-0.6zM402.0 439.2h0.6v0.6h-0.6zM401.1 444.9h0.6v0.6h-0.6zM398.6 445.4h0.6v0.6h-0.6zM401.8 438.0h0.6v0.6h-0.6zM400.6 445.8h0.6v0.6h-0.6zM395.2 444.3h0.6v0.6h-0.6zM403.1 442.3h0.6v0.6h-0.6zM397.6 445.6h0.6v0.6h-0.6zM404.6 442.1h0.6v0.6h-0.6zM395.9 446.1h0.6v0.6h-0.6zM400.4 447.7h0.6v0.6h-0.6zM398.7 446.5h0.6v0.6h-0.6zM398.7 443.5h0.6v0.6h-0.6zM403.2 439.7h0.6v0.6h-0.6zM398.1 441.0h0.6v0.6h-0.6zM398.6 438.3h0.6v0.6h-0.6zM398.8 446.6h0.6v0.6h-0.6zM397.0 457.9h0.6v0.6h-0.6zM395.5 450.4h0.6v0.6h-0.6zM397.7 442.8h0.6v0.6h-0.6zM406.3 443.6h0.6v0.6h-0.6zM395.8 442.2h0.6v0.6h-0.6zM403.5 440.6h0.6v0.6h-0.6zM400.7 448.6h0.6v0.6h-0.6zM398.4 446.7h0.6v0.6h-0.6zM401.0 440.4h0.6v0.6h-0.6zM400.1 440.3h0.6v0.6h-0.6zM400.8 439.8h0.6v0.6h-0.6zM401.4 438.5h0.6v0.6h-0.6zM399.3 446.3h0.6v0.6h-0.6zM398.9 437.7h0.6v0.6h-0.6zM407.8 446.9h0.6v0.6h-0.6zM404.7 450.3h0.6v0.6h-0.6zM404.5 451.9h0.6v0.6h-0.6zM415.2 449.6h0.6v0.6h-0.6zM404.0 458.6h0.6v0.6h-0.6zM412.6 448.7h0.6v0.6h-0.6zM410.0 439.2h0.6v0.6h-0.6zM400.8 442.7h0.6v0.6h-0.6zM408.4 439.4h0.6v0.6h-0.6zM401.6 453.8h0.6v0.6h-0.6zM401.9 448.0h0.6v0.6h-0.6zM404.9 446.4h0.6v0.6h-0.6zM397.6 453.9h0.6v0.6h-0.6zM409.8 453.3h0.6v0.6h-0.6zM402.6 439.3h0.6v0.6h-0.6zM404.9 448.3h0.6v0.6h-0.6zM404.5 443.2h0.6v0.6h-0.6zM400.0 442.1h0.6v0.6h-0.6zM404.9 443.8h0.6v0.6h-0.6zM414.4 445.3h0.6v0.6h-0.6zM407.8 444.0h0.6v0.6h-0.6zM404.4 440.5h0.6v0.6h-0.6zM394.2 456.4h0.6v0.6h-0.6zM399.7 450.2h0.6v0.6h-0.6zM404.7 443.3h0.6v0.6h-0.6zM409.3 443.4h0.6v0.6h-0.6zM407.7 444.7h0.6v0.6h-0.6zM410.6 453.8h0.6v0.6h-0.6zM405.7 454.7h0.6v0.6h-0.6zM408.1 457.9h0.6v0.6h-0.6zM406.5 448.8h0.6v0.6h-0.6zM403.4 445.8h0.6v0.6h-0.6zM403.9 438.6h0.6v0.6h-0.6zM414.7 441.9h0.6v0.6h-0.6zM400.8 446.9h0.6v0.6h-0.6zM413.3 451.3h0.6v0.6h-0.6zM401.5 438.7h0.6v0.6h-0.6zM399.4 446.6h0.6v0.6h-0.6zM410.1 443.9h0.6v0.6h-0.6zM414.0 460.5h0.6v0.6h-0.6zM411.3 446.5h0.6v0.6h-0.6zM409.0 454.0h0.6v0.6h-0.6zM400.0 447.6h0.6v0.6h-0.6zM406.3 442.0h0.6v0.6h-0.6zM409.1 446.3h0.6v0.6h-0.6zM403.2 460.1h0.6v0.6h-0.6zM406.3 458.4h0.6v0.6h-0.6zM404.6 454.3h0.6v0.6h-0.6zM401.3 448.2h0.6v0.6h-0.6zM408.3 445.3h0.6v0.6h-0.6zM411.2 448.4h0.6v0.6h-0.6zM405.0 438.4h0.6v0.6h-0.6zM421.2 442.1h0.6v0.6h-0.6zM403.6 442.2h0.6v0.6h-0.6zM403.8 448.7h0.6v0.6h-0.6zM398.2 454.4h0.6v0.6h-0.6zM404.0 451.3h0.6v0.6h-0.6zM394.0 443.6h0.6v0.6h-0.6zM403.8 444.5h0.6v0.6h-0.6zM401.8 449.3h0.6v0.6h-0.6zM407.6 440.5h0.6v0.6h-0.6zM394.8 452.2h0.6v0.6h-0.6zM403.7 454.5h0.6v0.6h-0.6zM410.1 446.5h0.6v0.6h-0.6zM397.7 444.7h0.6v0.6h-0.6zM401.5 455.7h0.6v0.6h-0.6zM396.3 453.5h0.6v0.6h-0.6zM397.1 443.3h0.6v0.6h-0.6zM397.8 442.4h0.6v0.6h-0.6zM403.0 449.7h0.6v0.6h-0.6zM402.2 451.9h0.6v0.6h-0.6zM414.8 448.3h0.6v0.6h-0.6zM399.2 446.0h0.6v0.6h-0.6zM404.8 444.7h0.6v0.6h-0.6zM411.6 455.1h0.6v0.6h-0.6zM416.1 450.8h0.6v0.6h-0.6zM391.1 446.3h0.6v0.6h-0.6zM409.0 441.7h0.6v0.6h-0.6zM402.1 453.4h0.6v0.6h-0.6zM406.1 439.5h0.6v0.6h-0.6zM405.4 438.8h0.6v0.6h-0.6zM405.1 439.0h0.6v0.6h-0.6zM400.4 443.6h0.6v0.6h-0.6zM420.3 439.0h0.6v0.6h-0.6zM399.0 443.5h0.6v0.6h-0.6zM411.1 452.7h0.6v0.6h-0.6zM409.1 445.0h0.6v0.6h-0.6zM406.1 441.9h0.6v0.6h-0.6zM404.4 441.6h0.6v0.6h-0.6zM397.6 440.4h0.6v0.6h-0.6zM415.7 449.9h0.6v0.6h-0.6zM401.3 446.4h0.6v0.6h-0.6zM402.9 455.5h0.6v0.6h-0.6zM405.2 442.8h0.6v0.6h-0.6zM409.0 449.4h0.6v0.6h-0.6zM401.7 441.9h0.6v0.6h-0.6zM400.5 454.1h0.6v0.6h-0.6zM410.0 454.8h0.6v0.6h-0.6zM403.0 443.1h0.6v0.6h-0.6zM403.9 443.9h0.6v0.6h-0.6zM412.2 445.6h0.6v0.6h-0.6zM412.6 442.3h0.6v0.6h-0.6zM407.4 458.3h0.6v0.6h-0.6zM401.4 442.7h0.6v0.6h-0.6zM403.8 442.8h0.6v0.6h-0.6zM417.2 443.9h0.6v0.6h-0.6zM393.9 453.6h0.6v0.6h-0.6zM410.5 446.9h0.6v0.6h-0.6zM406.9 452.1h0.6v0.6h-0.6zM402.3 447.5h0.6v0.6h-0.6zM406.1 458.5h0.6v0.6h-0.6zM412.9 448.3h0.6v0.6h-0.6zM398.2 453.2h0.6v0.6h-0.6zM405.1 455.2h0.6v0.6h-0.6zM405.6 448.4h0.6v0.6h-0.6zM408.9 442.2h0.6v0.6h-0.6zM401.8 462.9h0.6v0.6h-0.6zM398.1 468.2h0.6v0.6h-0.6zM401.8 467.7h0.6v0.6h-0.6zM403.4 457.1h0.6v0.6h-0.6zM402.4 453.6h0.6v0.6h-0.6zM400.3 465.3h0.6v0.6h-0.6zM402.6 469.0h0.6v0.6h-0.6zM398.0 462.3h0.6v0.6h-0.6zM399.8 460.3h0.6v0.6h-0.6zM398.3 460.4h0.6v0.6h-0.6zM402.9 470.3h0.6v0.6h-0.6zM401.9 471.9h0.6v0.6h-0.6zM400.4 458.4h0.6v0.6h-0.6zM398.6 464.7h0.6v0.6h-0.6zM402.6 469.6h0.6v0.6h-0.6zM398.1 468.4h0.6v0.6h-0.6zM398.9 466.6h0.6v0.6h-0.6zM402.3 470.9h0.6v0.6h-0.6zM398.9 464.9h0.6v0.6h-0.6zM401.2 461.6h0.6v0.6h-0.6zM400.4 466.6h0.6v0.6h-0.6zM396.3 460.5h0.6v0.6h-0.6zM405.6 465.9h0.6v0.6h-0.6zM398.9 454.7h0.6v0.6h-0.6zM397.9 466.2h0.6v0.6h-0.6zM401.8 465.9h0.6v0.6h-0.6zM401.6 460.7h0.6v0.6h-0.6zM403.9 458.2h0.6v0.6h-0.6zM401.4 462.4h0.6v0.6h-0.6zM396.2 468.1h0.6v0.6h-0.6zM399.5 467.2h0.6v0.6h-0.6zM403.1 464.5h0.6v0.6h-0.6zM398.6 462.6h0.6v0.6h-0.6zM400.0 470.8h0.6v0.6h-0.6zM402.2 471.5h0.6v0.6h-0.6zM401.9 459.9h0.6v0.6h-0.6zM402.3 468.4h0.6v0.6h-0.6zM399.9 466.0h0.6v0.6h-0.6zM399.4 457.5h0.6v0.6h-0.6zM400.0 467.4h0.6v0.6h-0.6zM399.3 452.7h0.6v0.6h-0.6zM398.3 469.0h0.6v0.6h-0.6zM400.7 469.2h0.6v0.6h-0.6zM398.4 461.6h0.6v0.6h-0.6zM397.8 459.9h0.6v0.6h-0.6zM401.4 464.4h0.6v0.6h-0.6zM399.0 465.2h0.6v0.6h-0.6zM397.1 461.8h0.6v0.6h-0.6zM396.7 456.3h0.6v0.6h-0.6zM397.0 458.3h0.6v0.6h-0.6zM403.8 470.4h0.6v0.6h-0.6zM403.1 460.8h0.6v0.6h-0.6zM401.6 458.1h0.6v0.6h-0.6zM398.9 464.9h0.6v0.6h-0.6zM396.4 464.7h0.6v0.6h-0.6zM401.6 453.5h0.6v0.6h-0.6zM394.5 462.3h0.6v0.6h-0.6zM399.9 464.4h0.6v0.6h-0.6zM397.5 466.5h0.6v0.6h-0.6zM400.5 460.1h0.6v0.6h-0.6zM404.0 465.0h0.6v0.6h-0.6zM401.9 472.8h0.6v0.6h-0.6zM399.0 462.6h0.6v0.6h-0.6zM396.1 462.6h0.6v0.6h-0.6zM401.2 476.0h0.6v0.6h-0.6zM401.5 464.7h0.6v0.6h-0.6zM397.2 459.5h0.6v0.6h-0.6zM395.8 456.9h0.6v0.6h-0.6zM400.4 465.2h0.6v0.6h-0.6zM398.0 462.6h0.6v0.6h-0.6zM398.3 466.7h0.6v0.6h-0.6zM401.7 460.9h0.6v0.6h-0.6zM399.1 457.7h0.6v0.6h-0.6zM399.1 474.5h0.6v0.6h-0.6zM400.1 467.9h0.6v0.6h-0.6zM401.5 471.0h0.6v0.6h-0.6zM399.4 459.2h0.6v0.6h-0.6zM402.6 468.2h0.6v0.6h-0.6zM398.6 469.1h0.6v0.6h-0.6zM400.1 463.5h0.6v0.6h-0.6zM404.5 466.3h0.6v0.6h-0.6zM400.9 462.1h0.6v0.6h-0.6zM400.6 468.9h0.6v0.6h-0.6zM401.2 460.0h0.6v0.6h-0.6zM401.2 463.1h0.6v0.6h-0.6zM400.9 462.7h0.6v0.6h-0.6zM395.1 455.7h0.6v0.6h-0.6zM399.3 452.8h0.6v0.6h-0.6zM396.6 473.7h0.6v0.6h-0.6zM401.8 461.4h0.6v0.6h-0.6zM400.9 452.6h0.6v0.6h-0.6zM400.7 468.6h0.6v0.6h-0.6zM400.6 457.2h0.6v0.6h-0.6zM402.4 461.1h0.6v0.6h-0.6zM398.8 464.7h0.6v0.6h-0.6zM399.5 473.8h0.6v0.6h-0.6zM399.8 474.3h0.6v0.6h-0.6zM401.2 457.6h0.6v0.6h-0.6zM400.2 464.0h0.6v0.6h-0.6zM403.5 470.0h0.6v0.6h-0.6zM406.1 460.4h0.6v0.6h-0.6zM399.1 475.2h0.6v0.6h-0.6zM398.1 465.5h0.6v0.6h-0.6zM403.9 458.7h0.6v0.6h-0.6zM399.3 460.0h0.6v0.6h-0.6zM401.4 465.7h0.6v0.6h-0.6zM400.1 467.0h0.6v0.6h-0.6zM398.3 461.8h0.6v0.6h-0.6zM401.3 473.7h0.6v0.6h-0.6zM400.1 464.0h0.6v0.6h-0.6zM403.2 464.1h0.6v0.6h-0.6zM403.2 464.9h0.6v0.6h-0.6zM402.9 464.6h0.6v0.6h-0.6zM398.0 459.5h0.6v0.6h-0.6zM401.2 473.0h0.6v0.6h-0.6zM404.5 462.1h0.6v0.6h-0.6zM406.0 458.2h0.6v0.6h-0.6zM398.2 468.3h0.6v0.6h-0.6zM396.6 468.2h0.6v0.6h-0.6zM401.0 466.8h0.6v0.6h-0.6zM397.3 465.6h0.6v0.6h-0.6zM402.4 463.4h0.6v0.6h-0.6zM402.6 463.8h0.6v0.6h-0.6zM401.0 462.1h0.6v0.6h-0.6zM397.0 462.9h0.6v0.6h-0.6zM401.3 459.9h0.6v0.6h-0.6zM395.6 456.0h0.6v0.6h-0.6zM403.2 462.6h0.6v0.6h-0.6zM398.4 469.9h0.6v0.6h-0.6zM399.8 456.2h0.6v0.6h-0.6zM399.1 459.3h0.6v0.6h-0.6zM399.7 459.2h0.6v0.6h-0.6zM400.3 466.0h0.6v0.6h-0.6zM398.8 462.7h0.6v0.6h-0.6zM399.8 467.8h0.6v0.6h-0.6zM398.5 467.4h0.6v0.6h-0.6zM403.1 462.7h0.6v0.6h-0.6zM397.9 462.2h0.6v0.6h-0.6zM396.0 461.0h0.6v0.6h-0.6zM397.4 462.9h0.6v0.6h-0.6zM399.3 466.3h0.6v0.6h-0.6zM400.4 465.8h0.6v0.6h-0.6zM400.1 465.1h0.6v0.6h-0.6zM397.5 467.0h0.6v0.6h-0.6zM403.2 469.2h0.6v0.6h-0.6zM397.0 465.8h0.6v0.6h-0.6zM396.3 467.5h0.6v0.6h-0.6zM399.7 461.4h0.6v0.6h-0.6zM398.4 462.5h0.6v0.6h-0.6zM400.2 458.9h0.6v0.6h-0.6zM400.3 465.0h0.6v0.6h-0.6zM401.4 463.5h0.6v0.6h-0.6zM400.2 475.3h0.6v0.6h-0.6zM402.5 465.3h0.6v0.6h-0.6zM396.9 466.8h0.6v0.6h-0.6zM401.5 450.4h0.6v0.6h-0.6zM399.8 465.6h0.6v0.6h-0.6zM400.3 464.2h0.6v0.6h-0.6zM399.8 470.6h0.6v0.6h-0.6zM401.1 462.3h0.6v0.6h-0.6zM399.6 474.1h0.6v0.6h-0.6zM398.1 461.1h0.6v0.6h-0.6zM400.9 464.4h0.6v0.6h-0.6zM400.9 470.5h0.6v0.6h-0.6zM402.9 465.8h0.6v0.6h-0.6zM400.3 463.4h0.6v0.6h-0.6zM399.6 468.7h0.6v0.6h-0.6zM397.2 458.5h0.6v0.6h-0.6zM399.1 458.9h0.6v0.6h-0.6zM398.4 469.7h0.6v0.6h-0.6zM394.9 466.6h0.6v0.6h-0.6zM397.1 462.5h0.6v0.6h-0.6zM398.8 458.7h0.6v0.6h-0.6zM396.7 464.1h0.6v0.6h-0.6zM393.2 453.1h0.6v0.6h-0.6zM399.2 469.2h0.6v0.6h-0.6zM404.5 462.2h0.6v0.6h-0.6zM398.3 462.3h0.6v0.6h-0.6zM401.3 468.4h0.6v0.6h-0.6zM397.9 466.1h0.6v0.6h-0.6zM400.1 469.4h0.6v0.6h-0.6zM399.2 462.7h0.6v0.6h-0.6zM398.2 457.1h0.6v0.6h-0.6zM400.8 467.3h0.6v0.6h-0.6zM402.8 465.0h0.6v0.6h-0.6zM399.1 459.1h0.6v0.6h-0.6zM397.4 460.1h0.6v0.6h-0.6zM401.0 464.2h0.6v0.6h-0.6zM394.7 463.2h0.6v0.6h-0.6zM399.5 458.5h0.6v0.6h-0.6zM400.1 466.4h0.6v0.6h-0.6zM397.7 456.9h0.6v0.6h-0.6zM399.4 465.0h0.6v0.6h-0.6zM399.6 471.4h0.6v0.6h-0.6zM400.5 458.7h0.6v0.6h-0.6zM402.0 460.5h0.6v0.6h-0.6zM401.8 464.2h0.6v0.6h-0.6zM403.1 458.7h0.6v0.6h-0.6zM401.9 465.8h0.6v0.6h-0.6zM398.0 467.2h0.6v0.6h-0.6zM405.6 465.5h0.6v0.6h-0.6zM398.4 462.9h0.6v0.6h-0.6zM403.3 465.0h0.6v0.6h-0.6zM403.7 460.4h0.6v0.6h-0.6zM403.3 455.8h0.6v0.6h-0.6zM399.8 462.2h0.6v0.6h-0.6zM399.0 469.8h0.6v0.6h-0.6zM398.7 465.5h0.6v0.6h-0.6zM404.6 467.8h0.6v0.6h-0.6zM399.2 460.0h0.6v0.6h-0.6zM395.4 465.6h0.6v0.6h-0.6zM402.3 469.2h0.6v0.6h-0.6zM400.8 474.5h0.6v0.6h-0.6zM402.0 452.1h0.6v0.6h-0.6zM398.1 467.7h0.6v0.6h-0.6zM399.2 467.9h0.6v0.6h-0.6zM406.3 459.9h0.6v0.6h-0.6zM405.4 463.3h0.6v0.6h-0.6zM396.7 464.2h0.6v0.6h-0.6zM402.3 460.8h0.6v0.6h-0.6zM403.9 459.3h0.6v0.6h-0.6zM399.7 468.3h0.6v0.6h-0.6zM399.7 460.9h0.6v0.6h-0.6zM400.1 467.0h0.6v0.6h-0.6zM404.3 470.5h0.6v0.6h-0.6zM404.6 463.6h0.6v0.6h-0.6zM396.2 463.5h0.6v0.6h-0.6zM399.2 458.7h0.6v0.6h-0.6zM399.0 463.4h0.6v0.6h-0.6zM400.3 468.3h0.6v0.6h-0.6zM398.0 469.4h0.6v0.6h-0.6zM405.1 469.6h0.6v0.6h-0.6zM411.1 457.8h0.6v0.6h-0.6zM412.8 460.9h0.6v0.6h-0.6zM406.9 471.7h0.6v0.6h-0.6zM409.5 455.8h0.6v0.6h-0.6zM405.7 472.0h0.6v0.6h-0.6zM404.3 464.7h0.6v0.6h-0.6zM405.2 475.1h0.6v0.6h-0.6zM402.2 459.5h0.6v0.6h-0.6zM399.4 462.0h0.6v0.6h-0.6zM403.7 467.3h0.6v0.6h-0.6zM404.5 454.9h0.6v0.6h-0.6zM397.0 469.3h0.6v0.6h-0.6zM408.5 457.1h0.6v0.6h-0.6zM409.5 450.6h0.6v0.6h-0.6zM416.5 468.7h0.6v0.6h-0.6zM396.6 468.3h0.6v0.6h-0.6zM404.7 462.5h0.6v0.6h-0.6zM403.1 463.9h0.6v0.6h-0.6zM404.4 459.8h0.6v0.6h-0.6zM402.1 468.6h0.6v0.6h-0.6zM407.5 457.2h0.6v0.6h-0.6zM402.4 474.6h0.6v0.6h-0.6zM408.5 475.1h0.6v0.6h-0.6zM398.1 459.0h0.6v0.6h-0.6zM394.1 453.6h0.6v0.6h-0.6zM403.0 458.9h0.6v0.6h-0.6zM399.5 461.0h0.6v0.6h-0.6zM404.0 470.2h0.6v0.6h-0.6zM407.7 454.6h0.6v0.6h-0.6zM412.3 463.2h0.6v0.6h-0.6zM399.9 465.0h0.6v0.6h-0.6zM402.9 456.9h0.6v0.6h-0.6zM412.7 461.7h0.6v0.6h-0.6zM401.9 468.4h0.6v0.6h-0.6zM413.3 468.1h0.6v0.6h-0.6zM400.4 467.8h0.6v0.6h-0.6zM410.4 467.5h0.6v0.6h-0.6zM408.1 462.3h0.6v0.6h-0.6zM404.5 455.1h0.6v0.6h-0.6zM401.3 458.4h0.6v0.6h-0.6zM404.9 474.2h0.6v0.6h-0.6zM393.6 457.3h0.6v0.6h-0.6zM400.2 464.7h0.6v0.6h-0.6zM410.7 460.5h0.6v0.6h-0.6zM401.0 472.5h0.6v0.6h-0.6zM406.8 468.4h0.6v0.6h-0.6zM409.1 460.7h0.6v0.6h-0.6zM406.0 461.2h0.6v0.6h-0.6zM401.3 466.0h0.6v0.6h-0.6zM407.1 457.5h0.6v0.6h-0.6zM401.0 468.9h0.6v0.6h-0.6zM405.7 469.2h0.6v0.6h-0.6zM403.3 460.4h0.6v0.6h-0.6zM408.8 468.8h0.6v0.6h-0.6zM390.7 470.4h0.6v0.6h-0.6zM401.1 469.2h0.6v0.6h-0.6zM412.8 463.5h0.6v0.6h-0.6zM400.0 466.7h0.6v0.6h-0.6zM405.3 468.6h0.6v0.6h-0.6zM397.9 466.7h0.6v0.6h-0.6zM409.4 469.4h0.6v0.6h-0.6zM408.0 472.4h0.6v0.6h-0.6zM400.8 472.6h0.6v0.6h-0.6zM405.9 459.2h0.6v0.6h-0.6zM403.4 466.8h0.6v0.6h-0.6zM406.6 473.3h0.6v0.6h-0.6zM405.9 462.1h0.6v0.6h-0.6zM415.9 463.2h0.6v0.6h-0.6zM400.8 470.8h0.6v0.6h-0.6zM402.8 460.5h0.6v0.6h-0.6zM399.6 472.3h0.6v0.6h-0.6zM399.6 465.8h0.6v0.6h-0.6zM402.6 464.1h0.6v0.6h-0.6zM400.8 466.1h0.6v0.6h-0.6zM407.9 471.5h0.6v0.6h-0.6zM403.1 458.2h0.6v0.6h-0.6zM397.5 465.3h0.6v0.6h-0.6zM392.4 473.2h0.6v0.6h-0.6zM405.0 466.0h0.6v0.6h-0.6zM397.9 461.3h0.6v0.6h-0.6zM401.2 469.3h0.6v0.6h-0.6zM402.8 468.9h0.6v0.6h-0.6zM407.5 453.6h0.6v0.6h-0.6zM403.7 472.8h0.6v0.6h-0.6zM402.3 466.0h0.6v0.6h-0.6zM404.3 457.8h0.6v0.6h-0.6zM415.8 464.4h0.6v0.6h-0.6zM408.1 462.5h0.6v0.6h-0.6zM411.9 472.2h0.6v0.6h-0.6zM410.8 471.0h0.6v0.6h-0.6zM408.4 473.6h0.6v0.6h-0.6zM406.9 466.1h0.6v0.6h-0.6zM409.0 459.9h0.6v0.6h-0.6zM392.2 470.1h0.6v0.6h-0.6zM405.7 461.0h0.6v0.6h-0.6zM403.6 459.5h0.6v0.6h-0.6zM400.7 466.4h0.6v0.6h-0.6zM405.5 470.2h0.6v0.6h-0.6zM404.4 469.0h0.6v0.6h-0.6zM408.3 461.0h0.6v0.6h-0.6zM396.4 461.1h0.6v0.6h-0.6zM403.6 462.0h0.6v0.6h-0.6zM416.0 461.1h0.6v0.6h-0.6zM407.3 460.7h0.6v0.6h-0.6zM408.4 457.7h0.6v0.6h-0.6zM409.7 466.3h0.6v0.6h-0.6zM402.9 458.1h0.6v0.6h-0.6zM413.3 461.8h0.6v0.6h-0.6zM412.1 450.8h0.6v0.6h-0.6zM401.5 481.2h0.6v0.6h-0.6zM443.5 461.5h0.6v0.6h-0.6zM432.4 468.0h0.6v0.6h-0.6zM413.4 462.7h0.6v0.6h-0.6zM402.3 446.6h0.6v0.6h-0.6zM420.1 469.3h0.6v0.6h-0.6zM420.6 447.8h0.6v0.6h-0.6zM430.3 462.3h0.6v0.6h-0.6zM429.0 458.1h0.6v0.6h-0.6zM414.7 472.9h0.6v0.6h-0.6zM437.7 448.1h0.6v0.6h-0.6zM402.8 472.0h0.6v0.6h-0.6zM423.5 461.9h0.6v0.6h-0.6zM404.6 472.4h0.6v0.6h-0.6zM421.0 463.7h0.6v0.6h-0.6zM423.8 455.6h0.6v0.6h-0.6zM424.0 462.8h0.6v0.6h-0.6zM428.5 465.5h0.6v0.6h-0.6zM400.4 453.6h0.6v0.6h-0.6zM414.6 474.1h0.6v0.6h-0.6zM409.3 473.8h0.6v0.6h-0.6zM433.6 470.9h0.6v0.6h-0.6zM422.9 474.7h0.6v0.6h-0.6zM424.1 472.3h0.6v0.6h-0.6zM416.6 476.9h0.6v0.6h-0.6zM423.3 440.3h0.6v0.6h-0.6zM433.6 459.2h0.6v0.6h-0.6zM406.0 458.1h0.6v0.6h-0.6zM414.4 473.9h0.6v0.6h-0.6zM423.1 460.6h0.6v0.6h-0.6zM418.2 451.5h0.6v0.6h-0.6zM409.4 456.2h0.6v0.6h-0.6zM415.2 448.6h0.6v0.6h-0.6zM412.8 472.3h0.6v0.6h-0.6zM424.8 461.3h0.6v0.6h-0.6zM423.3 458.7h0.6v0.6h-0.6zM401.7 471.0h0.6v0.6h-0.6zM428.0 488.3h0.6v0.6h-0.6zM401.4 467.1h0.6v0.6h-0.6zM413.6 458.3h0.6v0.6h-0.6zM395.1 460.5h0.6v0.6h-0.6zM424.0 443.8h0.6v0.6h-0.6zM415.3 456.0h0.6v0.6h-0.6zM404.3 468.3h0.6v0.6h-0.6zM441.5 465.9h0.6v0.6h-0.6zM432.9 469.7h0.6v0.6h-0.6zM417.5 467.7h0.6v0.6h-0.6zM437.0 456.7h0.6v0.6h-0.6zM416.3 446.3h0.6v0.6h-0.6zM392.3 452.4h0.6v0.6h-0.6zM431.0 465.4h0.6v0.6h-0.6zM422.1 475.7h0.6v0.6h-0.6zM393.6 476.5h0.6v0.6h-0.6zM419.6 469.9h0.6v0.6h-0.6zM437.8 452.5h0.6v0.6h-0.6zM406.2 465.8h0.6v0.6h-0.6zM417.6 455.0h0.6v0.6h-0.6zM416.6 453.4h0.6v0.6h-0.6zM420.3 457.2h0.6v0.6h-0.6zM442.3 450.0h0.6v0.6h-0.6zM426.6 462.2h0.6v0.6h-0.6zM440.6 450.8h0.6v0.6h-0.6zM411.9 480.3h0.6v0.6h-0.6zM409.2 457.2h0.6v0.6h-0.6zM412.9 450.7h0.6v0.6h-0.6zM435.6 477.9h0.6v0.6h-0.6zM416.3 453.1h0.6v0.6h-0.6zM399.4 468.6h0.6v0.6h-0.6zM410.9 467.3h0.6v0.6h-0.6zM384.5 456.7h0.6v0.6h-0.6zM427.2 465.9h0.6v0.6h-0.6zM420.2 461.1h0.6v0.6h-0.6zM413.6 456.5h0.6v0.6h-0.6zM420.4 466.9h0.6v0.6h-0.6zM431.5 459.0h0.6v0.6h-0.6zM435.6 451.2h0.6v0.6h-0.6zM445.3 471.8h0.6v0.6h-0.6zM412.7 491.4h0.6v0.6h-0.6zM438.7 478.6h0.6v0.6h-0.6zM401.6 460.1h0.6v0.6h-0.6zM425.0 472.8h0.6v0.6h-0.6zM419.5 447.2h0.6v0.6h-0.6zM435.6 459.5h0.6v0.6h-0.6zM424.6 457.9h0.6v0.6h-0.6zM416.8 446.4h0.6v0.6h-0.6zM427.8 454.5h0.6v0.6h-0.6zM393.5 465.8h0.6v0.6h-0.6zM417.9 471.8h0.6v0.6h-0.6zM429.9 448.1h0.6v0.6h-0.6zM415.9 461.3h0.6v0.6h-0.6zM419.7 449.9h0.6v0.6h-0.6zM419.5 472.0h0.6v0.6h-0.6zM435.8 477.2h0.6v0.6h-0.6zM414.6 455.4h0.6v0.6h-0.6zM431.2 461.3h0.6v0.6h-0.6zM423.5 466.6h0.6v0.6h-0.6zM415.4 476.3h0.6v0.6h-0.6zM444.0 470.3h0.6v0.6h-0.6zM410.6 464.1h0.6v0.6h-0.6zM432.1 469.2h0.6v0.6h-0.6zM408.8 471.7h0.6v0.6h-0.6zM428.6 467.7h0.6v0.6h-0.6zM412.5 461.0h0.6v0.6h-0.6zM391.6 461.0h0.6v0.6h-0.6zM429.3 456.4h0.6v0.6h-0.6zM429.7 456.3h0.6v0.6h-0.6zM430.6 457.5h0.6v0.6h-0.6zM428.9 456.8h0.6v0.6h-0.6zM430.2 458.7h0.6v0.6h-0.6zM431.5 456.2h0.6v0.6h-0.6zM428.3 452.4h0.6v0.6h-0.6zM427.3 458.4h0.6v0.6h-0.6zM428.1 462.0h0.6v0.6h-0.6zM430.0 456.1h0.6v0.6h-0.6zM430.0 455.6h0.6v0.6h-0.6zM428.8 457.4h0.6v0.6h-0.6zM426.8 457.6h0.6v0.6h-0.6zM430.2 454.6h0.6v0.6h-0.6zM433.0 458.3h0.6v0.6h-0.6zM433.1 455.3h0.6v0.6h-0.6zM427.3 453.7h0.6v0.6h-0.6zM426.5 451.6h0.6v0.6h-0.6zM434.3 455.8h0.6v0.6h-0.6zM430.9 455.6h0.6v0.6h-0.6z" fill="#2828d8" fill-opacity="0.6"/>
<rect x="380.4" y="437.2" width="69" height="68.4" fill="none" stroke="#999" stroke-width="0.7"/>
<rect x="396.4" y="437.2" width="21.1" height="20.4" fill="none" stroke="#444" stroke-width="0.6"/>
<rect x="396.4" y="457.6" width="14.1" height="14.9" fill="none" stroke="#444" stroke-width="0.6"/>
<rect x="421.5" y="469.9" width="19.6" height="10.6" fill="none" stroke="#444" stroke-width="0.6"/>
<rect x="414.2" y="438" width="35.4" height="4.4" fill="#fff" stroke="#ccc" stroke-width="0.3"/>
<text x="415.4" y="442.2" font-size="4.8" textLength="33.8" lengthAdjust="spacingAndGlyphs" stroke="#333" stroke-width="0.06" fill="#333">Ly-6G- Ly-6C High</text>
<rect x="381.1" y="474" width="34.8" height="4.4" fill="#fff" stroke="#ccc" stroke-width="0.3"/>
<text x="381.3" y="478.2" font-size="4.8" textLength="33.5" lengthAdjust="spacingAndGlyphs" stroke="#333" stroke-width="0.06" fill="#333">Ly-6G- Ly-6C Low</text>
<rect x="421.2" y="482" width="28.4" height="4.4" fill="#fff" stroke="#ccc" stroke-width="0.3"/>
<text x="421.4" y="486.2" font-size="4.8" textLength="27.5" lengthAdjust="spacingAndGlyphs" stroke="#333" stroke-width="0.06" fill="#333">Ly-6G+ Ly-6C -</text>
<text x="383.2" y="447.5" font-size="6" textLength="11.1" lengthAdjust="spacingAndGlyphs" stroke="#2a2a2a" stroke-width="0.18" fill="#2a2a2a">30%</text>
<text x="385.6" y="502.8" font-size="6.9" textLength="51.2" lengthAdjust="spacingAndGlyphs" stroke="#2a2a2a" stroke-width="0.15" fill="#2a2a2a">OD no treatment</text>
<text x="379.2" y="445.7" font-size="2.8" text-anchor="end" fill="#333">10⁵</text>
<line x1="379.5" y1="444.7" x2="380.4" y2="444.7" stroke="#888" stroke-width="0.35"/>
<text x="379.2" y="465" font-size="2.8" text-anchor="end" fill="#333">20000</text>
<line x1="379.5" y1="464" x2="380.4" y2="464" stroke="#888" stroke-width="0.35"/>
<text x="379.2" y="481.5" font-size="2.8" text-anchor="end" fill="#333">0</text>
<line x1="379.5" y1="480.5" x2="380.4" y2="480.5" stroke="#888" stroke-width="0.35"/>
<text x="379.2" y="497.1" font-size="2.8" text-anchor="end" fill="#333">-20000</text>
<line x1="379.5" y1="496.1" x2="380.4" y2="496.1" stroke="#888" stroke-width="0.35"/>
<text x="382.2" y="509.4" font-size="2.8" text-anchor="middle" fill="#333">-4000</text>
<text x="399.1" y="509.4" font-size="2.8" text-anchor="middle" fill="#333">0</text>
<text x="412.7" y="509.4" font-size="2.8" text-anchor="middle" fill="#333">2000 4000</text>
<text x="425.5" y="509.4" font-size="2.8" text-anchor="middle" fill="#333">10⁴</text>
<text x="443.2" y="509.4" font-size="2.8" text-anchor="middle" fill="#333">10⁵</text>
<path d="M492.2 450.3h0.6v0.6h-0.6zM494.5 448.5h0.6v0.6h-0.6zM495.1 445.0h0.6v0.6h-0.6zM492.1 446.6h0.6v0.6h-0.6zM491.9 438.6h0.6v0.6h-0.6zM493.2 440.5h0.6v0.6h-0.6zM491.1 443.0h0.6v0.6h-0.6zM487.6 444.6h0.6v0.6h-0.6zM493.2 444.3h0.6v0.6h-0.6zM493.6 446.4h0.6v0.6h-0.6zM496.3 450.4h0.6v0.6h-0.6zM495.5 441.1h0.6v0.6h-0.6zM492.0 441.4h0.6v0.6h-0.6zM494.1 459.3h0.6v0.6h-0.6zM494.3 439.4h0.6v0.6h-0.6zM487.5 444.6h0.6v0.6h-0.6zM492.0 446.4h0.6v0.6h-0.6zM492.9 452.7h0.6v0.6h-0.6zM491.3 449.2h0.6v0.6h-0.6zM493.8 447.4h0.6v0.6h-0.6zM494.9 441.5h0.6v0.6h-0.6zM493.0 452.6h0.6v0.6h-0.6zM494.6 450.2h0.6v0.6h-0.6zM493.4 445.7h0.6v0.6h-0.6zM494.0 439.5h0.6v0.6h-0.6zM495.0 438.6h0.6v0.6h-0.6zM492.3 438.7h0.6v0.6h-0.6zM496.9 444.1h0.6v0.6h-0.6zM491.2 443.1h0.6v0.6h-0.6zM492.0 442.1h0.6v0.6h-0.6zM492.0 438.3h0.6v0.6h-0.6zM492.7 442.1h0.6v0.6h-0.6zM494.8 449.6h0.6v0.6h-0.6zM491.7 459.0h0.6v0.6h-0.6zM491.7 451.6h0.6v0.6h-0.6zM491.4 437.9h0.6v0.6h-0.6zM490.8 439.3h0.6v0.6h-0.6zM494.4 442.7h0.6v0.6h-0.6zM495.0 439.1h0.6v0.6h-0.6zM492.0 447.9h0.6v0.6h-0.6zM497.4 442.6h0.6v0.6h-0.6zM498.5 442.7h0.6v0.6h-0.6zM494.3 455.7h0.6v0.6h-0.6zM492.1 438.8h0.6v0.6h-0.6zM496.9 438.9h0.6v0.6h-0.6zM495.0 452.6h0.6v0.6h-0.6zM494.5 440.9h0.6v0.6h-0.6zM492.7 439.1h0.6v0.6h-0.6zM493.0 442.4h0.6v0.6h-0.6zM491.3 438.3h0.6v0.6h-0.6zM494.4 439.4h0.6v0.6h-0.6zM489.3 448.8h0.6v0.6h-0.6zM489.3 453.4h0.6v0.6h-0.6zM490.6 447.9h0.6v0.6h-0.6zM492.4 450.5h0.6v0.6h-0.6zM492.0 446.8h0.6v0.6h-0.6zM493.7 443.2h0.6v0.6h-0.6zM493.7 450.9h0.6v0.6h-0.6zM492.3 440.1h0.6v0.6h-0.6zM490.3 447.2h0.6v0.6h-0.6zM492.3 451.6h0.6v0.6h-0.6zM493.3 446.9h0.6v0.6h-0.6zM493.9 441.0h0.6v0.6h-0.6zM491.0 439.3h0.6v0.6h-0.6zM492.7 442.8h0.6v0.6h-0.6zM494.7 444.3h0.6v0.6h-0.6zM491.7 448.2h0.6v0.6h-0.6zM493.9 448.2h0.6v0.6h-0.6zM492.9 442.4h0.6v0.6h-0.6zM493.0 444.4h0.6v0.6h-0.6zM493.2 440.2h0.6v0.6h-0.6zM493.3 438.2h0.6v0.6h-0.6zM498.1 442.0h0.6v0.6h-0.6zM490.8 444.3h0.6v0.6h-0.6zM491.8 443.4h0.6v0.6h-0.6zM495.9 446.9h0.6v0.6h-0.6zM493.2 439.1h0.6v0.6h-0.6zM493.2 447.9h0.6v0.6h-0.6zM492.3 447.6h0.6v0.6h-0.6zM490.4 440.0h0.6v0.6h-0.6zM494.8 444.6h0.6v0.6h-0.6zM495.0 440.0h0.6v0.6h-0.6zM489.6 440.8h0.6v0.6h-0.6zM493.8 443.1h0.6v0.6h-0.6zM492.6 443.0h0.6v0.6h-0.6zM496.1 438.9h0.6v0.6h-0.6zM490.6 439.5h0.6v0.6h-0.6zM488.8 446.1h0.6v0.6h-0.6zM489.7 440.9h0.6v0.6h-0.6zM493.5 447.2h0.6v0.6h-0.6zM491.9 444.8h0.6v0.6h-0.6zM496.3 447.5h0.6v0.6h-0.6zM487.3 440.0h0.6v0.6h-0.6zM497.7 444.4h0.6v0.6h-0.6zM494.7 440.7h0.6v0.6h-0.6zM489.1 446.0h0.6v0.6h-0.6zM492.6 443.4h0.6v0.6h-0.6zM492.0 442.8h0.6v0.6h-0.6zM496.2 438.0h0.6v0.6h-0.6zM491.6 440.2h0.6v0.6h-0.6zM492.4 443.6h0.6v0.6h-0.6zM490.4 438.9h0.6v0.6h-0.6zM492.8 443.5h0.6v0.6h-0.6zM489.8 439.5h0.6v0.6h-0.6zM490.1 442.1h0.6v0.6h-0.6zM493.3 443.0h0.6v0.6h-0.6zM490.8 439.7h0.6v0.6h-0.6zM503.1 443.2h0.6v0.6h-0.6zM493.2 449.0h0.6v0.6h-0.6zM486.2 461.4h0.6v0.6h-0.6zM489.0 454.6h0.6v0.6h-0.6zM502.6 454.3h0.6v0.6h-0.6zM496.8 452.7h0.6v0.6h-0.6zM495.5 454.2h0.6v0.6h-0.6zM493.8 442.0h0.6v0.6h-0.6zM499.4 444.5h0.6v0.6h-0.6zM500.9 441.7h0.6v0.6h-0.6zM498.8 440.8h0.6v0.6h-0.6zM496.8 462.4h0.6v0.6h-0.6zM491.5 439.1h0.6v0.6h-0.6zM488.7 446.0h0.6v0.6h-0.6zM506.0 444.5h0.6v0.6h-0.6zM502.3 446.3h0.6v0.6h-0.6zM493.9 461.5h0.6v0.6h-0.6zM492.1 450.5h0.6v0.6h-0.6zM500.8 446.1h0.6v0.6h-0.6zM499.0 451.3h0.6v0.6h-0.6zM495.4 454.5h0.6v0.6h-0.6zM492.8 452.8h0.6v0.6h-0.6zM502.2 449.0h0.6v0.6h-0.6zM495.5 447.5h0.6v0.6h-0.6zM485.4 449.4h0.6v0.6h-0.6zM501.4 441.3h0.6v0.6h-0.6zM499.2 447.9h0.6v0.6h-0.6zM487.9 441.4h0.6v0.6h-0.6zM495.9 450.8h0.6v0.6h-0.6zM497.7 438.9h0.6v0.6h-0.6zM494.5 448.3h0.6v0.6h-0.6zM490.5 444.6h0.6v0.6h-0.6zM506.5 453.7h0.6v0.6h-0.6zM494.8 454.1h0.6v0.6h-0.6zM491.7 458.2h0.6v0.6h-0.6zM495.3 448.6h0.6v0.6h-0.6zM494.2 448.2h0.6v0.6h-0.6zM499.1 447.8h0.6v0.6h-0.6zM492.9 452.8h0.6v0.6h-0.6zM500.3 447.6h0.6v0.6h-0.6zM502.9 442.5h0.6v0.6h-0.6zM504.1 446.5h0.6v0.6h-0.6zM505.4 444.6h0.6v0.6h-0.6zM496.0 449.1h0.6v0.6h-0.6zM503.1 457.5h0.6v0.6h-0.6zM494.9 442.6h0.6v0.6h-0.6zM501.4 456.2h0.6v0.6h-0.6zM501.1 445.3h0.6v0.6h-0.6zM504.1 447.4h0.6v0.6h-0.6zM498.2 451.9h0.6v0.6h-0.6zM498.5 452.5h0.6v0.6h-0.6zM499.6 451.3h0.6v0.6h-0.6zM498.2 454.8h0.6v0.6h-0.6zM497.9 457.9h0.6v0.6h-0.6zM497.6 453.1h0.6v0.6h-0.6zM494.4 449.7h0.6v0.6h-0.6zM499.6 448.6h0.6v0.6h-0.6zM505.5 447.9h0.6v0.6h-0.6zM503.3 450.0h0.6v0.6h-0.6zM503.1 441.4h0.6v0.6h-0.6zM495.4 454.3h0.6v0.6h-0.6zM493.0 450.3h0.6v0.6h-0.6zM500.3 449.0h0.6v0.6h-0.6zM499.6 451.3h0.6v0.6h-0.6zM496.1 450.4h0.6v0.6h-0.6zM494.6 444.5h0.6v0.6h-0.6zM488.9 446.9h0.6v0.6h-0.6zM488.3 447.8h0.6v0.6h-0.6zM498.4 440.1h0.6v0.6h-0.6zM497.7 449.6h0.6v0.6h-0.6zM495.4 441.3h0.6v0.6h-0.6zM496.7 450.4h0.6v0.6h-0.6zM502.2 461.0h0.6v0.6h-0.6zM486.8 450.0h0.6v0.6h-0.6zM499.6 443.2h0.6v0.6h-0.6zM499.0 462.0h0.6v0.6h-0.6zM497.9 457.0h0.6v0.6h-0.6zM503.0 444.6h0.6v0.6h-0.6zM485.0 455.6h0.6v0.6h-0.6zM496.3 442.8h0.6v0.6h-0.6zM498.4 448.0h0.6v0.6h-0.6zM503.4 443.5h0.6v0.6h-0.6zM498.5 466.1h0.6v0.6h-0.6zM496.8 451.9h0.6v0.6h-0.6zM494.8 470.4h0.6v0.6h-0.6zM502.1 445.2h0.6v0.6h-0.6zM487.1 449.1h0.6v0.6h-0.6zM494.7 451.5h0.6v0.6h-0.6zM484.5 446.3h0.6v0.6h-0.6zM488.8 438.3h0.6v0.6h-0.6zM499.5 455.5h0.6v0.6h-0.6zM503.5 443.1h0.6v0.6h-0.6zM489.4 451.4h0.6v0.6h-0.6zM495.2 440.6h0.6v0.6h-0.6zM487.8 462.9h0.6v0.6h-0.6zM497.3 454.1h0.6v0.6h-0.6zM489.7 469.7h0.6v0.6h-0.6zM487.6 461.0h0.6v0.6h-0.6zM492.3 469.7h0.6v0.6h-0.6zM491.9 473.1h0.6v0.6h-0.6zM492.0 463.6h0.6v0.6h-0.6zM493.1 465.8h0.6v0.6h-0.6zM488.6 459.4h0.6v0.6h-0.6zM491.6 465.8h0.6v0.6h-0.6zM489.3 460.6h0.6v0.6h-0.6zM490.4 465.8h0.6v0.6h-0.6zM491.1 467.1h0.6v0.6h-0.6zM493.0 459.6h0.6v0.6h-0.6zM491.4 458.0h0.6v0.6h-0.6zM492.4 468.1h0.6v0.6h-0.6zM489.8 455.3h0.6v0.6h-0.6zM493.3 462.7h0.6v0.6h-0.6zM492.0 466.4h0.6v0.6h-0.6zM493.0 468.7h0.6v0.6h-0.6zM491.0 453.2h0.6v0.6h-0.6zM491.0 462.6h0.6v0.6h-0.6zM491.1 466.1h0.6v0.6h-0.6zM491.5 470.5h0.6v0.6h-0.6zM490.6 464.1h0.6v0.6h-0.6zM491.3 474.6h0.6v0.6h-0.6zM489.9 459.1h0.6v0.6h-0.6zM491.2 467.9h0.6v0.6h-0.6zM492.1 463.2h0.6v0.6h-0.6zM488.7 453.8h0.6v0.6h-0.6zM491.6 462.9h0.6v0.6h-0.6zM496.2 465.9h0.6v0.6h-0.6zM493.1 468.9h0.6v0.6h-0.6zM490.0 458.0h0.6v0.6h-0.6zM491.2 471.5h0.6v0.6h-0.6zM494.4 461.2h0.6v0.6h-0.6zM489.2 468.7h0.6v0.6h-0.6zM494.7 458.7h0.6v0.6h-0.6zM495.9 460.3h0.6v0.6h-0.6zM493.9 463.1h0.6v0.6h-0.6zM491.3 461.1h0.6v0.6h-0.6zM493.7 467.2h0.6v0.6h-0.6zM494.0 462.7h0.6v0.6h-0.6zM490.1 474.8h0.6v0.6h-0.6zM496.1 463.1h0.6v0.6h-0.6zM489.4 471.5h0.6v0.6h-0.6zM492.4 464.4h0.6v0.6h-0.6zM494.1 465.8h0.6v0.6h-0.6zM492.4 474.0h0.6v0.6h-0.6zM487.7 467.3h0.6v0.6h-0.6zM489.8 464.5h0.6v0.6h-0.6zM491.7 465.4h0.6v0.6h-0.6zM486.4 467.6h0.6v0.6h-0.6zM497.6 462.0h0.6v0.6h-0.6zM494.2 467.2h0.6v0.6h-0.6zM492.8 461.6h0.6v0.6h-0.6zM493.6 465.5h0.6v0.6h-0.6zM495.5 468.2h0.6v0.6h-0.6zM490.4 449.6h0.6v0.6h-0.6zM495.7 466.5h0.6v0.6h-0.6zM492.5 461.1h0.6v0.6h-0.6zM498.0 470.8h0.6v0.6h-0.6zM492.3 462.3h0.6v0.6h-0.6zM493.5 470.9h0.6v0.6h-0.6zM493.3 468.8h0.6v0.6h-0.6zM492.7 465.9h0.6v0.6h-0.6zM489.1 464.7h0.6v0.6h-0.6zM492.2 463.7h0.6v0.6h-0.6zM491.5 465.6h0.6v0.6h-0.6zM490.7 463.1h0.6v0.6h-0.6zM489.0 475.6h0.6v0.6h-0.6zM490.0 458.1h0.6v0.6h-0.6zM490.8 462.0h0.6v0.6h-0.6zM489.6 451.9h0.6v0.6h-0.6zM496.0 469.2h0.6v0.6h-0.6zM491.2 466.9h0.6v0.6h-0.6zM489.5 456.0h0.6v0.6h-0.6zM492.9 467.0h0.6v0.6h-0.6zM490.5 464.1h0.6v0.6h-0.6zM484.8 463.5h0.6v0.6h-0.6zM494.6 464.9h0.6v0.6h-0.6zM492.5 467.0h0.6v0.6h-0.6zM487.2 457.7h0.6v0.6h-0.6zM489.1 465.3h0.6v0.6h-0.6zM490.6 454.7h0.6v0.6h-0.6zM494.2 463.2h0.6v0.6h-0.6zM494.5 474.1h0.6v0.6h-0.6zM488.2 457.7h0.6v0.6h-0.6zM494.7 471.1h0.6v0.6h-0.6zM493.0 465.9h0.6v0.6h-0.6zM493.7 467.4h0.6v0.6h-0.6zM489.1 467.8h0.6v0.6h-0.6zM494.5 462.1h0.6v0.6h-0.6zM489.9 461.7h0.6v0.6h-0.6zM490.7 466.7h0.6v0.6h-0.6zM493.9 464.2h0.6v0.6h-0.6zM491.4 455.3h0.6v0.6h-0.6zM491.1 459.1h0.6v0.6h-0.6zM490.8 465.8h0.6v0.6h-0.6zM492.5 481.6h0.6v0.6h-0.6zM490.0 461.4h0.6v0.6h-0.6zM489.4 462.8h0.6v0.6h-0.6zM491.4 469.1h0.6v0.6h-0.6zM487.5 468.6h0.6v0.6h-0.6zM493.6 461.5h0.6v0.6h-0.6zM490.5 465.1h0.6v0.6h-0.6zM493.3 463.3h0.6v0.6h-0.6zM491.7 464.2h0.6v0.6h-0.6zM489.5 465.5h0.6v0.6h-0.6zM493.5 464.4h0.6v0.6h-0.6zM489.4 464.1h0.6v0.6h-0.6zM491.8 465.7h0.6v0.6h-0.6zM491.1 468.2h0.6v0.6h-0.6zM494.7 468.2h0.6v0.6h-0.6zM492.7 470.2h0.6v0.6h-0.6zM492.0 463.3h0.6v0.6h-0.6zM488.7 464.2h0.6v0.6h-0.6zM495.0 459.4h0.6v0.6h-0.6zM494.0 457.8h0.6v0.6h-0.6zM492.8 473.1h0.6v0.6h-0.6zM492.2 458.3h0.6v0.6h-0.6zM492.8 463.4h0.6v0.6h-0.6zM494.0 461.5h0.6v0.6h-0.6zM488.0 461.7h0.6v0.6h-0.6zM493.5 469.2h0.6v0.6h-0.6zM492.7 464.2h0.6v0.6h-0.6zM493.7 463.1h0.6v0.6h-0.6zM491.0 465.2h0.6v0.6h-0.6zM494.7 461.6h0.6v0.6h-0.6zM493.3 461.0h0.6v0.6h-0.6zM490.3 465.0h0.6v0.6h-0.6zM488.9 459.9h0.6v0.6h-0.6zM489.3 461.2h0.6v0.6h-0.6zM489.9 475.6h0.6v0.6h-0.6zM493.5 464.5h0.6v0.6h-0.6zM488.9 452.4h0.6v0.6h-0.6zM493.1 461.0h0.6v0.6h-0.6zM494.6 462.2h0.6v0.6h-0.6zM489.0 461.0h0.6v0.6h-0.6zM488.4 457.2h0.6v0.6h-0.6zM493.8 461.5h0.6v0.6h-0.6zM493.7 461.4h0.6v0.6h-0.6zM491.5 461.4h0.6v0.6h-0.6zM490.8 460.9h0.6v0.6h-0.6zM495.6 463.8h0.6v0.6h-0.6zM487.4 472.4h0.6v0.6h-0.6zM495.1 469.6h0.6v0.6h-0.6zM491.8 463.4h0.6v0.6h-0.6zM490.9 464.7h0.6v0.6h-0.6zM493.2 464.1h0.6v0.6h-0.6zM490.1 459.4h0.6v0.6h-0.6zM496.1 472.4h0.6v0.6h-0.6zM489.1 461.0h0.6v0.6h-0.6zM492.0 467.0h0.6v0.6h-0.6zM491.8 465.3h0.6v0.6h-0.6zM492.9 469.7h0.6v0.6h-0.6zM489.0 469.5h0.6v0.6h-0.6zM493.1 466.7h0.6v0.6h-0.6zM488.5 463.0h0.6v0.6h-0.6zM491.5 467.2h0.6v0.6h-0.6zM493.7 467.5h0.6v0.6h-0.6zM489.0 470.2h0.6v0.6h-0.6zM492.2 468.7h0.6v0.6h-0.6zM492.1 460.7h0.6v0.6h-0.6zM498.3 467.3h0.6v0.6h-0.6zM493.9 461.9h0.6v0.6h-0.6zM491.5 469.5h0.6v0.6h-0.6zM493.1 472.6h0.6v0.6h-0.6zM494.9 458.9h0.6v0.6h-0.6zM488.4 469.8h0.6v0.6h-0.6zM493.5 462.9h0.6v0.6h-0.6zM491.4 461.4h0.6v0.6h-0.6zM496.4 463.3h0.6v0.6h-0.6zM488.8 468.5h0.6v0.6h-0.6zM491.9 465.8h0.6v0.6h-0.6zM491.2 463.9h0.6v0.6h-0.6zM487.6 466.7h0.6v0.6h-0.6zM490.4 462.3h0.6v0.6h-0.6zM492.8 470.3h0.6v0.6h-0.6zM486.9 463.5h0.6v0.6h-0.6zM493.4 469.0h0.6v0.6h-0.6zM489.9 465.7h0.6v0.6h-0.6zM493.0 468.6h0.6v0.6h-0.6zM490.6 463.2h0.6v0.6h-0.6zM490.8 469.6h0.6v0.6h-0.6zM494.7 462.0h0.6v0.6h-0.6zM491.7 465.2h0.6v0.6h-0.6zM489.9 463.6h0.6v0.6h-0.6zM494.1 467.9h0.6v0.6h-0.6zM490.4 461.0h0.6v0.6h-0.6zM491.8 457.1h0.6v0.6h-0.6zM492.8 464.7h0.6v0.6h-0.6zM488.9 463.0h0.6v0.6h-0.6zM490.5 462.8h0.6v0.6h-0.6zM490.0 470.7h0.6v0.6h-0.6zM489.8 467.8h0.6v0.6h-0.6zM492.6 471.1h0.6v0.6h-0.6zM491.9 464.1h0.6v0.6h-0.6zM492.2 455.1h0.6v0.6h-0.6zM497.8 463.1h0.6v0.6h-0.6zM491.3 458.7h0.6v0.6h-0.6zM491.7 471.9h0.6v0.6h-0.6zM490.2 466.3h0.6v0.6h-0.6zM494.5 468.7h0.6v0.6h-0.6zM491.1 455.8h0.6v0.6h-0.6zM493.0 466.9h0.6v0.6h-0.6zM491.3 462.1h0.6v0.6h-0.6zM496.3 456.6h0.6v0.6h-0.6zM490.8 461.2h0.6v0.6h-0.6zM488.3 460.8h0.6v0.6h-0.6zM490.1 470.1h0.6v0.6h-0.6zM487.9 457.6h0.6v0.6h-0.6zM492.7 456.8h0.6v0.6h-0.6zM487.3 461.2h0.6v0.6h-0.6zM489.2 459.5h0.6v0.6h-0.6zM491.7 466.3h0.6v0.6h-0.6zM490.5 462.8h0.6v0.6h-0.6zM493.8 463.4h0.6v0.6h-0.6zM493.8 461.4h0.6v0.6h-0.6zM493.2 470.2h0.6v0.6h-0.6zM488.7 478.4h0.6v0.6h-0.6zM491.3 462.5h0.6v0.6h-0.6zM491.7 466.4h0.6v0.6h-0.6zM489.2 464.3h0.6v0.6h-0.6zM490.7 470.9h0.6v0.6h-0.6zM487.9 467.2h0.6v0.6h-0.6zM491.3 460.6h0.6v0.6h-0.6zM492.4 463.0h0.6v0.6h-0.6zM492.2 465.3h0.6v0.6h-0.6zM494.9 462.2h0.6v0.6h-0.6zM496.1 451.3h0.6v0.6h-0.6zM496.4 469.9h0.6v0.6h-0.6zM495.8 465.1h0.6v0.6h-0.6zM492.7 459.4h0.6v0.6h-0.6zM495.3 458.7h0.6v0.6h-0.6zM490.2 464.2h0.6v0.6h-0.6zM492.6 465.8h0.6v0.6h-0.6zM489.3 462.5h0.6v0.6h-0.6zM493.2 469.8h0.6v0.6h-0.6zM493.9 466.1h0.6v0.6h-0.6zM491.4 461.6h0.6v0.6h-0.6zM490.8 463.7h0.6v0.6h-0.6zM493.3 461.8h0.6v0.6h-0.6zM497.0 459.4h0.6v0.6h-0.6zM494.0 463.2h0.6v0.6h-0.6zM491.7 462.4h0.6v0.6h-0.6zM495.7 462.8h0.6v0.6h-0.6zM493.4 464.7h0.6v0.6h-0.6zM493.8 466.9h0.6v0.6h-0.6zM496.0 460.7h0.6v0.6h-0.6zM490.1 472.2h0.6v0.6h-0.6zM495.1 464.5h0.6v0.6h-0.6zM491.4 465.4h0.6v0.6h-0.6zM495.2 460.5h0.6v0.6h-0.6zM495.5 463.9h0.6v0.6h-0.6zM491.2 462.3h0.6v0.6h-0.6zM487.0 465.7h0.6v0.6h-0.6zM488.9 461.5h0.6v0.6h-0.6zM489.9 465.3h0.6v0.6h-0.6zM493.8 464.4h0.6v0.6h-0.6zM492.5 466.1h0.6v0.6h-0.6zM495.9 466.9h0.6v0.6h-0.6zM495.8 463.9h0.6v0.6h-0.6zM492.9 461.1h0.6v0.6h-0.6zM493.5 460.1h0.6v0.6h-0.6zM493.2 461.2h0.6v0.6h-0.6zM491.2 469.9h0.6v0.6h-0.6zM492.4 467.9h0.6v0.6h-0.6zM491.5 455.4h0.6v0.6h-0.6zM495.6 463.3h0.6v0.6h-0.6zM490.5 468.6h0.6v0.6h-0.6zM489.3 460.7h0.6v0.6h-0.6zM494.8 460.9h0.6v0.6h-0.6zM494.8 462.7h0.6v0.6h-0.6zM491.6 464.5h0.6v0.6h-0.6zM490.9 469.2h0.6v0.6h-0.6zM494.7 464.5h0.6v0.6h-0.6zM493.5 466.7h0.6v0.6h-0.6zM496.1 456.7h0.6v0.6h-0.6zM494.5 468.5h0.6v0.6h-0.6zM491.3 464.2h0.6v0.6h-0.6zM491.2 470.0h0.6v0.6h-0.6zM489.3 467.0h0.6v0.6h-0.6zM495.1 466.9h0.6v0.6h-0.6zM490.9 462.0h0.6v0.6h-0.6zM487.0 459.3h0.6v0.6h-0.6zM494.7 459.7h0.6v0.6h-0.6zM488.1 463.0h0.6v0.6h-0.6zM488.5 466.3h0.6v0.6h-0.6zM490.0 468.7h0.6v0.6h-0.6zM491.8 457.5h0.6v0.6h-0.6zM490.2 461.1h0.6v0.6h-0.6zM490.0 470.0h0.6v0.6h-0.6zM489.7 465.9h0.6v0.6h-0.6zM490.7 467.0h0.6v0.6h-0.6zM488.6 456.8h0.6v0.6h-0.6zM493.3 470.9h0.6v0.6h-0.6zM488.7 462.7h0.6v0.6h-0.6zM490.8 459.8h0.6v0.6h-0.6zM501.5 466.0h0.6v0.6h-0.6zM489.8 464.5h0.6v0.6h-0.6zM503.4 461.7h0.6v0.6h-0.6zM494.1 461.0h0.6v0.6h-0.6zM497.5 462.6h0.6v0.6h-0.6zM501.2 461.0h0.6v0.6h-0.6zM489.5 468.3h0.6v0.6h-0.6zM480.9 460.3h0.6v0.6h-0.6zM498.1 467.1h0.6v0.6h-0.6zM493.8 463.2h0.6v0.6h-0.6zM499.3 486.8h0.6v0.6h-0.6zM492.7 464.7h0.6v0.6h-0.6zM494.4 468.8h0.6v0.6h-0.6zM496.8 468.8h0.6v0.6h-0.6zM504.9 464.2h0.6v0.6h-0.6zM495.3 467.8h0.6v0.6h-0.6zM507.2 463.7h0.6v0.6h-0.6zM505.1 472.4h0.6v0.6h-0.6zM483.1 460.1h0.6v0.6h-0.6zM491.8 467.9h0.6v0.6h-0.6zM503.3 466.0h0.6v0.6h-0.6zM497.5 478.0h0.6v0.6h-0.6zM498.5 477.9h0.6v0.6h-0.6zM492.3 475.0h0.6v0.6h-0.6zM494.2 452.0h0.6v0.6h-0.6zM492.6 463.0h0.6v0.6h-0.6zM496.5 470.0h0.6v0.6h-0.6zM500.2 468.7h0.6v0.6h-0.6zM493.0 475.8h0.6v0.6h-0.6zM502.7 465.9h0.6v0.6h-0.6zM493.9 465.4h0.6v0.6h-0.6zM495.6 461.8h0.6v0.6h-0.6zM496.7 461.9h0.6v0.6h-0.6zM499.9 462.0h0.6v0.6h-0.6zM499.2 467.5h0.6v0.6h-0.6zM497.6 468.7h0.6v0.6h-0.6zM491.6 480.3h0.6v0.6h-0.6zM493.3 469.9h0.6v0.6h-0.6zM496.8 463.2h0.6v0.6h-0.6zM505.4 471.9h0.6v0.6h-0.6zM495.4 468.9h0.6v0.6h-0.6zM500.1 474.7h0.6v0.6h-0.6zM501.8 464.7h0.6v0.6h-0.6zM495.5 459.1h0.6v0.6h-0.6zM498.0 470.6h0.6v0.6h-0.6zM494.8 469.5h0.6v0.6h-0.6zM497.4 463.1h0.6v0.6h-0.6zM490.6 472.0h0.6v0.6h-0.6zM509.4 468.8h0.6v0.6h-0.6zM491.3 459.8h0.6v0.6h-0.6zM498.0 469.4h0.6v0.6h-0.6zM504.3 452.0h0.6v0.6h-0.6zM506.0 466.6h0.6v0.6h-0.6zM497.4 467.9h0.6v0.6h-0.6zM495.0 464.1h0.6v0.6h-0.6zM502.0 455.9h0.6v0.6h-0.6zM496.2 468.9h0.6v0.6h-0.6zM488.5 464.8h0.6v0.6h-0.6zM504.4 467.8h0.6v0.6h-0.6zM500.3 469.7h0.6v0.6h-0.6zM497.8 467.7h0.6v0.6h-0.6zM492.7 464.5h0.6v0.6h-0.6zM506.0 458.7h0.6v0.6h-0.6zM495.9 458.5h0.6v0.6h-0.6zM494.1 461.3h0.6v0.6h-0.6zM490.6 467.1h0.6v0.6h-0.6zM492.0 468.7h0.6v0.6h-0.6zM505.8 451.2h0.6v0.6h-0.6zM495.9 453.8h0.6v0.6h-0.6zM496.1 467.8h0.6v0.6h-0.6zM497.8 472.6h0.6v0.6h-0.6zM497.5 455.9h0.6v0.6h-0.6zM504.3 460.3h0.6v0.6h-0.6zM496.3 467.5h0.6v0.6h-0.6zM492.4 466.2h0.6v0.6h-0.6zM504.2 456.1h0.6v0.6h-0.6zM488.4 463.1h0.6v0.6h-0.6zM495.9 458.4h0.6v0.6h-0.6zM485.2 470.9h0.6v0.6h-0.6zM498.7 458.1h0.6v0.6h-0.6zM499.6 465.3h0.6v0.6h-0.6zM497.6 458.1h0.6v0.6h-0.6zM495.7 468.4h0.6v0.6h-0.6zM488.0 459.7h0.6v0.6h-0.6zM501.6 477.1h0.6v0.6h-0.6zM500.1 465.3h0.6v0.6h-0.6zM491.3 463.4h0.6v0.6h-0.6zM495.5 468.2h0.6v0.6h-0.6zM495.5 479.8h0.6v0.6h-0.6zM503.4 453.1h0.6v0.6h-0.6zM490.9 465.7h0.6v0.6h-0.6zM501.7 468.0h0.6v0.6h-0.6zM483.0 456.3h0.6v0.6h-0.6zM503.5 469.1h0.6v0.6h-0.6zM509.6 470.2h0.6v0.6h-0.6zM499.1 474.4h0.6v0.6h-0.6zM494.5 462.6h0.6v0.6h-0.6zM491.7 467.1h0.6v0.6h-0.6zM499.0 471.0h0.6v0.6h-0.6zM504.0 469.2h0.6v0.6h-0.6zM502.9 464.2h0.6v0.6h-0.6zM492.0 469.9h0.6v0.6h-0.6zM501.9 473.3h0.6v0.6h-0.6zM496.0 463.0h0.6v0.6h-0.6zM495.0 467.7h0.6v0.6h-0.6zM496.5 464.6h0.6v0.6h-0.6zM498.1 464.0h0.6v0.6h-0.6zM498.5 462.2h0.6v0.6h-0.6zM489.0 463.9h0.6v0.6h-0.6zM506.3 461.0h0.6v0.6h-0.6zM501.4 473.4h0.6v0.6h-0.6zM494.1 467.1h0.6v0.6h-0.6zM485.3 468.9h0.6v0.6h-0.6zM504.5 466.7h0.6v0.6h-0.6zM486.8 462.3h0.6v0.6h-0.6zM493.1 466.3h0.6v0.6h-0.6zM498.2 463.3h0.6v0.6h-0.6zM495.2 461.0h0.6v0.6h-0.6zM499.7 466.8h0.6v0.6h-0.6zM498.5 462.8h0.6v0.6h-0.6zM499.3 463.9h0.6v0.6h-0.6zM498.3 464.7h0.6v0.6h-0.6zM493.5 459.4h0.6v0.6h-0.6zM487.4 457.8h0.6v0.6h-0.6zM499.1 484.4h0.6v0.6h-0.6zM488.6 461.0h0.6v0.6h-0.6zM496.7 486.2h0.6v0.6h-0.6zM495.8 458.9h0.6v0.6h-0.6zM498.9 477.7h0.6v0.6h-0.6zM482.8 458.9h0.6v0.6h-0.6zM503.0 459.0h0.6v0.6h-0.6zM496.3 462.0h0.6v0.6h-0.6zM500.6 457.3h0.6v0.6h-0.6zM498.3 466.9h0.6v0.6h-0.6zM499.6 468.1h0.6v0.6h-0.6zM497.6 455.4h0.6v0.6h-0.6zM495.2 460.2h0.6v0.6h-0.6zM499.5 464.3h0.6v0.6h-0.6zM497.6 472.0h0.6v0.6h-0.6zM496.3 475.4h0.6v0.6h-0.6zM501.0 457.1h0.6v0.6h-0.6zM493.9 472.7h0.6v0.6h-0.6zM494.3 472.5h0.6v0.6h-0.6zM502.4 460.4h0.6v0.6h-0.6zM524.7 445.0h0.6v0.6h-0.6zM511.4 456.9h0.6v0.6h-0.6zM512.7 479.8h0.6v0.6h-0.6zM517.2 447.3h0.6v0.6h-0.6zM523.8 456.9h0.6v0.6h-0.6zM512.6 473.9h0.6v0.6h-0.6zM505.9 471.8h0.6v0.6h-0.6zM512.8 452.1h0.6v0.6h-0.6zM506.0 447.2h0.6v0.6h-0.6zM526.9 463.4h0.6v0.6h-0.6zM523.9 449.8h0.6v0.6h-0.6zM522.2 449.0h0.6v0.6h-0.6zM514.2 461.5h0.6v0.6h-0.6zM502.0 464.9h0.6v0.6h-0.6zM510.8 452.4h0.6v0.6h-0.6zM499.9 447.8h0.6v0.6h-0.6zM529.5 463.2h0.6v0.6h-0.6zM505.2 469.0h0.6v0.6h-0.6zM498.2 449.3h0.6v0.6h-0.6zM515.3 478.5h0.6v0.6h-0.6zM514.5 463.3h0.6v0.6h-0.6zM534.8 445.2h0.6v0.6h-0.6zM509.3 447.4h0.6v0.6h-0.6zM493.3 459.1h0.6v0.6h-0.6zM501.7 464.5h0.6v0.6h-0.6zM496.0 458.9h0.6v0.6h-0.6zM521.8 438.4h0.6v0.6h-0.6zM506.1 458.5h0.6v0.6h-0.6zM503.1 460.4h0.6v0.6h-0.6zM485.1 456.9h0.6v0.6h-0.6zM503.0 450.7h0.6v0.6h-0.6zM528.0 482.9h0.6v0.6h-0.6zM521.5 452.4h0.6v0.6h-0.6zM530.2 466.9h0.6v0.6h-0.6zM498.8 468.1h0.6v0.6h-0.6zM502.2 467.7h0.6v0.6h-0.6zM523.2 473.9h0.6v0.6h-0.6zM495.5 460.3h0.6v0.6h-0.6zM510.3 448.6h0.6v0.6h-0.6zM516.1 469.0h0.6v0.6h-0.6zM490.9 455.7h0.6v0.6h-0.6zM494.8 448.1h0.6v0.6h-0.6zM495.4 476.2h0.6v0.6h-0.6zM501.0 457.4h0.6v0.6h-0.6zM524.2 472.5h0.6v0.6h-0.6zM530.0 439.5h0.6v0.6h-0.6zM520.9 442.9h0.6v0.6h-0.6zM501.4 457.2h0.6v0.6h-0.6zM502.3 482.6h0.6v0.6h-0.6zM508.0 474.1h0.6v0.6h-0.6zM507.8 461.0h0.6v0.6h-0.6zM517.5 466.3h0.6v0.6h-0.6zM517.3 443.1h0.6v0.6h-0.6zM517.4 465.0h0.6v0.6h-0.6zM518.7 461.0h0.6v0.6h-0.6zM516.0 447.7h0.6v0.6h-0.6zM526.2 448.7h0.6v0.6h-0.6zM529.9 472.4h0.6v0.6h-0.6zM509.4 458.5h0.6v0.6h-0.6zM521.2 458.4h0.6v0.6h-0.6zM493.7 464.6h0.6v0.6h-0.6zM493.2 456.7h0.6v0.6h-0.6zM535.4 470.2h0.6v0.6h-0.6zM504.0 460.9h0.6v0.6h-0.6zM501.2 461.5h0.6v0.6h-0.6zM490.0 468.9h0.6v0.6h-0.6zM510.5 455.1h0.6v0.6h-0.6zM501.7 489.7h0.6v0.6h-0.6zM504.1 456.5h0.6v0.6h-0.6zM502.1 456.3h0.6v0.6h-0.6zM528.6 468.8h0.6v0.6h-0.6zM516.2 465.5h0.6v0.6h-0.6zM531.4 469.3h0.6v0.6h-0.6zM513.3 464.6h0.6v0.6h-0.6zM513.1 461.8h0.6v0.6h-0.6zM518.3 462.1h0.6v0.6h-0.6zM524.0 464.9h0.6v0.6h-0.6zM506.3 468.1h0.6v0.6h-0.6zM512.9 456.9h0.6v0.6h-0.6zM505.0 457.1h0.6v0.6h-0.6zM506.1 456.8h0.6v0.6h-0.6zM524.1 492.8h0.6v0.6h-0.6zM508.7 473.6h0.6v0.6h-0.6zM503.7 459.9h0.6v0.6h-0.6zM499.9 447.0h0.6v0.6h-0.6zM498.4 456.1h0.6v0.6h-0.6zM512.5 458.0h0.6v0.6h-0.6zM493.5 457.6h0.6v0.6h-0.6zM531.5 452.2h0.6v0.6h-0.6zM511.2 472.4h0.6v0.6h-0.6zM499.0 455.5h0.6v0.6h-0.6zM502.9 463.3h0.6v0.6h-0.6zM511.7 463.2h0.6v0.6h-0.6zM516.8 458.4h0.6v0.6h-0.6zM479.2 451.3h0.6v0.6h-0.6zM512.4 447.0h0.6v0.6h-0.6zM505.8 477.7h0.6v0.6h-0.6zM513.6 454.6h0.6v0.6h-0.6zM512.2 472.8h0.6v0.6h-0.6zM486.3 448.2h0.6v0.6h-0.6zM501.0 456.9h0.6v0.6h-0.6zM509.1 455.4h0.6v0.6h-0.6zM511.8 462.5h0.6v0.6h-0.6zM489.6 463.5h0.6v0.6h-0.6zM489.3 467.3h0.6v0.6h-0.6zM494.1 468.8h0.6v0.6h-0.6zM490.5 463.9h0.6v0.6h-0.6zM486.2 466.1h0.6v0.6h-0.6zM488.1 467.5h0.6v0.6h-0.6zM496.7 468.0h0.6v0.6h-0.6zM495.3 467.0h0.6v0.6h-0.6zM494.5 470.0h0.6v0.6h-0.6zM497.3 474.5h0.6v0.6h-0.6zM492.4 469.6h0.6v0.6h-0.6zM496.1 467.9h0.6v0.6h-0.6zM494.2 460.8h0.6v0.6h-0.6zM496.8 462.4h0.6v0.6h-0.6zM491.2 462.5h0.6v0.6h-0.6zM495.1 462.1h0.6v0.6h-0.6zM494.8 468.5h0.6v0.6h-0.6zM493.6 464.7h0.6v0.6h-0.6zM495.2 471.6h0.6v0.6h-0.6zM491.8 461.7h0.6v0.6h-0.6zM491.4 462.4h0.6v0.6h-0.6zM492.5 465.5h0.6v0.6h-0.6zM485.9 472.2h0.6v0.6h-0.6zM490.7 464.3h0.6v0.6h-0.6zM487.0 457.9h0.6v0.6h-0.6zM490.1 467.1h0.6v0.6h-0.6zM496.0 458.5h0.6v0.6h-0.6zM494.0 472.4h0.6v0.6h-0.6zM492.4 469.9h0.6v0.6h-0.6zM494.3 462.2h0.6v0.6h-0.6zM496.5 463.6h0.6v0.6h-0.6zM494.4 464.4h0.6v0.6h-0.6zM492.6 466.7h0.6v0.6h-0.6zM497.5 459.1h0.6v0.6h-0.6zM489.7 466.5h0.6v0.6h-0.6zM496.4 465.3h0.6v0.6h-0.6zM492.7 468.3h0.6v0.6h-0.6zM498.3 462.3h0.6v0.6h-0.6zM488.2 464.9h0.6v0.6h-0.6zM495.7 460.6h0.6v0.6h-0.6zM496.9 470.0h0.6v0.6h-0.6zM495.8 462.6h0.6v0.6h-0.6zM489.2 468.8h0.6v0.6h-0.6zM494.1 469.0h0.6v0.6h-0.6zM489.0 453.8h0.6v0.6h-0.6zM496.9 470.3h0.6v0.6h-0.6zM492.4 466.1h0.6v0.6h-0.6zM494.7 469.2h0.6v0.6h-0.6zM492.7 464.0h0.6v0.6h-0.6zM490.2 470.4h0.6v0.6h-0.6zM493.6 451.9h0.6v0.6h-0.6zM494.4 463.7h0.6v0.6h-0.6zM489.2 464.0h0.6v0.6h-0.6zM489.2 464.2h0.6v0.6h-0.6zM491.6 468.2h0.6v0.6h-0.6zM490.1 458.5h0.6v0.6h-0.6zM491.4 460.4h0.6v0.6h-0.6zM495.7 465.2h0.6v0.6h-0.6zM488.0 462.4h0.6v0.6h-0.6zM493.2 465.9h0.6v0.6h-0.6zM487.4 465.6h0.6v0.6h-0.6zM494.2 470.2h0.6v0.6h-0.6zM496.8 465.6h0.6v0.6h-0.6zM489.1 464.5h0.6v0.6h-0.6zM495.4 462.3h0.6v0.6h-0.6zM497.3 462.1h0.6v0.6h-0.6zM489.7 469.6h0.6v0.6h-0.6zM493.0 467.4h0.6v0.6h-0.6zM492.3 466.2h0.6v0.6h-0.6zM491.4 474.0h0.6v0.6h-0.6zM495.4 465.6h0.6v0.6h-0.6zM494.8 469.6h0.6v0.6h-0.6zM491.6 466.8h0.6v0.6h-0.6zM494.0 463.7h0.6v0.6h-0.6zM490.8 465.3h0.6v0.6h-0.6zM492.3 464.4h0.6v0.6h-0.6zM487.1 466.4h0.6v0.6h-0.6zM495.4 466.4h0.6v0.6h-0.6zM498.8 469.7h0.6v0.6h-0.6zM492.2 463.3h0.6v0.6h-0.6zM494.9 464.5h0.6v0.6h-0.6zM488.1 466.6h0.6v0.6h-0.6zM492.3 465.2h0.6v0.6h-0.6zM495.3 466.9h0.6v0.6h-0.6zM499.8 463.0h0.6v0.6h-0.6zM493.0 467.4h0.6v0.6h-0.6zM491.9 464.0h0.6v0.6h-0.6zM498.9 460.1h0.6v0.6h-0.6zM494.4 458.8h0.6v0.6h-0.6zM494.4 458.1h0.6v0.6h-0.6zM489.6 470.8h0.6v0.6h-0.6zM498.2 466.6h0.6v0.6h-0.6zM484.6 470.3h0.6v0.6h-0.6zM494.1 461.5h0.6v0.6h-0.6zM492.2 460.6h0.6v0.6h-0.6zM493.0 465.7h0.6v0.6h-0.6zM493.7 469.4h0.6v0.6h-0.6zM491.2 456.9h0.6v0.6h-0.6zM489.6 460.9h0.6v0.6h-0.6zM492.1 464.3h0.6v0.6h-0.6zM493.2 471.8h0.6v0.6h-0.6zM493.4 461.6h0.6v0.6h-0.6zM492.3 462.5h0.6v0.6h-0.6zM492.5 468.5h0.6v0.6h-0.6zM489.7 469.0h0.6v0.6h-0.6zM499.0 472.4h0.6v0.6h-0.6zM498.5 466.5h0.6v0.6h-0.6zM489.0 474.4h0.6v0.6h-0.6zM493.1 467.1h0.6v0.6h-0.6zM492.2 462.2h0.6v0.6h-0.6zM495.3 460.3h0.6v0.6h-0.6zM488.9 468.4h0.6v0.6h-0.6zM492.1 462.6h0.6v0.6h-0.6zM494.9 472.0h0.6v0.6h-0.6zM492.4 465.5h0.6v0.6h-0.6zM495.1 470.0h0.6v0.6h-0.6zM496.6 468.9h0.6v0.6h-0.6zM491.2 468.3h0.6v0.6h-0.6zM493.3 459.1h0.6v0.6h-0.6zM497.2 468.5h0.6v0.6h-0.6zM497.7 465.8h0.6v0.6h-0.6zM495.6 465.8h0.6v0.6h-0.6zM493.8 469.9h0.6v0.6h-0.6zM493.5 468.6h0.6v0.6h-0.6zM493.2 471.2h0.6v0.6h-0.6zM495.4 459.2h0.6v0.6h-0.6zM498.6 467.9h0.6v0.6h-0.6zM491.7 463.5h0.6v0.6h-0.6zM499.6 466.5h0.6v0.6h-0.6zM494.9 468.6h0.6v0.6h-0.6zM491.4 473.3h0.6v0.6h-0.6zM500.0 462.9h0.6v0.6h-0.6zM496.9 459.4h0.6v0.6h-0.6zM492.2 466.4h0.6v0.6h-0.6zM493.5 468.5h0.6v0.6h-0.6zM494.6 467.6h0.6v0.6h-0.6zM492.9 467.4h0.6v0.6h-0.6zM491.5 474.2h0.6v0.6h-0.6zM493.5 471.2h0.6v0.6h-0.6zM493.6 465.5h0.6v0.6h-0.6zM492.7 460.8h0.6v0.6h-0.6zM499.9 467.8h0.6v0.6h-0.6zM493.7 464.2h0.6v0.6h-0.6zM497.4 464.7h0.6v0.6h-0.6zM491.8 463.9h0.6v0.6h-0.6zM498.2 467.4h0.6v0.6h-0.6zM492.8 463.5h0.6v0.6h-0.6zM497.4 467.3h0.6v0.6h-0.6zM492.3 469.8h0.6v0.6h-0.6zM496.1 462.0h0.6v0.6h-0.6zM497.0 470.6h0.6v0.6h-0.6zM492.5 460.6h0.6v0.6h-0.6zM496.8 464.7h0.6v0.6h-0.6zM492.7 464.9h0.6v0.6h-0.6zM492.4 469.5h0.6v0.6h-0.6zM489.8 468.3h0.6v0.6h-0.6zM497.0 470.4h0.6v0.6h-0.6zM495.6 467.2h0.6v0.6h-0.6zM492.7 465.6h0.6v0.6h-0.6zM490.5 473.0h0.6v0.6h-0.6zM492.9 462.0h0.6v0.6h-0.6zM496.0 472.3h0.6v0.6h-0.6zM494.2 464.8h0.6v0.6h-0.6zM489.8 468.8h0.6v0.6h-0.6zM492.5 463.4h0.6v0.6h-0.6zM495.2 460.8h0.6v0.6h-0.6zM495.6 456.1h0.6v0.6h-0.6zM491.4 460.2h0.6v0.6h-0.6zM492.5 469.4h0.6v0.6h-0.6zM489.2 471.7h0.6v0.6h-0.6zM491.2 464.1h0.6v0.6h-0.6zM496.5 463.1h0.6v0.6h-0.6zM497.9 465.3h0.6v0.6h-0.6zM493.0 462.2h0.6v0.6h-0.6zM497.0 465.8h0.6v0.6h-0.6zM491.8 462.2h0.6v0.6h-0.6zM491.3 465.7h0.6v0.6h-0.6zM491.1 469.4h0.6v0.6h-0.6zM493.2 463.6h0.6v0.6h-0.6zM494.8 471.9h0.6v0.6h-0.6zM486.8 467.6h0.6v0.6h-0.6zM496.7 466.7h0.6v0.6h-0.6zM495.9 459.8h0.6v0.6h-0.6zM491.0 470.2h0.6v0.6h-0.6zM493.0 466.4h0.6v0.6h-0.6zM495.3 467.6h0.6v0.6h-0.6zM494.8 464.1h0.6v0.6h-0.6zM492.4 471.5h0.6v0.6h-0.6zM491.8 460.2h0.6v0.6h-0.6zM492.2 469.8h0.6v0.6h-0.6zM499.0 466.7h0.6v0.6h-0.6zM491.4 468.6h0.6v0.6h-0.6zM494.3 470.9h0.6v0.6h-0.6zM495.0 469.2h0.6v0.6h-0.6zM494.9 467.8h0.6v0.6h-0.6zM490.5 465.4h0.6v0.6h-0.6zM498.4 471.5h0.6v0.6h-0.6zM496.4 467.7h0.6v0.6h-0.6zM493.0 467.5h0.6v0.6h-0.6zM492.3 470.5h0.6v0.6h-0.6zM492.4 463.0h0.6v0.6h-0.6zM488.3 472.4h0.6v0.6h-0.6zM491.0 462.6h0.6v0.6h-0.6zM494.6 473.4h0.6v0.6h-0.6zM495.4 464.8h0.6v0.6h-0.6zM495.1 462.7h0.6v0.6h-0.6zM492.6 466.2h0.6v0.6h-0.6zM493.4 469.3h0.6v0.6h-0.6zM495.1 473.8h0.6v0.6h-0.6zM496.0 465.0h0.6v0.6h-0.6zM494.2 462.7h0.6v0.6h-0.6zM491.5 464.7h0.6v0.6h-0.6zM496.5 463.3h0.6v0.6h-0.6zM488.5 462.0h0.6v0.6h-0.6zM489.6 465.4h0.6v0.6h-0.6zM492.4 461.4h0.6v0.6h-0.6zM490.9 464.4h0.6v0.6h-0.6zM494.6 468.6h0.6v0.6h-0.6zM497.5 465.1h0.6v0.6h-0.6zM495.3 466.4h0.6v0.6h-0.6zM490.0 463.5h0.6v0.6h-0.6zM500.2 465.5h0.6v0.6h-0.6zM498.5 469.5h0.6v0.6h-0.6zM498.6 465.3h0.6v0.6h-0.6zM496.3 464.9h0.6v0.6h-0.6zM490.0 461.4h0.6v0.6h-0.6zM494.8 459.6h0.6v0.6h-0.6zM494.5 462.6h0.6v0.6h-0.6zM494.5 460.5h0.6v0.6h-0.6zM496.0 465.2h0.6v0.6h-0.6zM488.7 460.3h0.6v0.6h-0.6zM493.6 459.5h0.6v0.6h-0.6zM494.4 468.1h0.6v0.6h-0.6zM491.4 471.8h0.6v0.6h-0.6zM497.9 467.4h0.6v0.6h-0.6zM494.8 468.0h0.6v0.6h-0.6zM492.6 471.4h0.6v0.6h-0.6zM491.8 455.9h0.6v0.6h-0.6zM493.5 467.9h0.6v0.6h-0.6zM496.0 461.6h0.6v0.6h-0.6zM497.7 462.8h0.6v0.6h-0.6zM495.4 469.1h0.6v0.6h-0.6zM494.0 470.7h0.6v0.6h-0.6zM491.9 474.4h0.6v0.6h-0.6zM494.9 464.4h0.6v0.6h-0.6zM501.5 466.1h0.6v0.6h-0.6zM488.4 471.9h0.6v0.6h-0.6zM498.2 463.8h0.6v0.6h-0.6zM490.4 470.7h0.6v0.6h-0.6zM493.6 462.2h0.6v0.6h-0.6zM491.9 466.4h0.6v0.6h-0.6zM496.5 472.5h0.6v0.6h-0.6zM491.5 472.3h0.6v0.6h-0.6zM488.7 469.0h0.6v0.6h-0.6zM493.0 467.9h0.6v0.6h-0.6zM492.1 463.2h0.6v0.6h-0.6zM494.3 470.7h0.6v0.6h-0.6zM486.6 466.3h0.6v0.6h-0.6zM492.2 461.8h0.6v0.6h-0.6zM489.3 468.2h0.6v0.6h-0.6zM495.1 468.7h0.6v0.6h-0.6zM487.3 459.9h0.6v0.6h-0.6zM491.5 464.4h0.6v0.6h-0.6zM498.9 464.5h0.6v0.6h-0.6zM493.8 470.2h0.6v0.6h-0.6zM498.6 467.6h0.6v0.6h-0.6zM494.5 474.0h0.6v0.6h-0.6zM492.2 458.8h0.6v0.6h-0.6zM491.1 464.8h0.6v0.6h-0.6zM497.5 467.4h0.6v0.6h-0.6zM497.2 466.5h0.6v0.6h-0.6zM493.6 463.8h0.6v0.6h-0.6zM489.6 468.2h0.6v0.6h-0.6zM494.6 468.4h0.6v0.6h-0.6zM491.8 464.4h0.6v0.6h-0.6zM494.6 468.6h0.6v0.6h-0.6zM499.6 462.6h0.6v0.6h-0.6zM496.5 469.7h0.6v0.6h-0.6zM492.6 466.7h0.6v0.6h-0.6zM493.3 472.3h0.6v0.6h-0.6zM501.3 467.4h0.6v0.6h-0.6zM492.6 470.0h0.6v0.6h-0.6zM495.0 465.4h0.6v0.6h-0.6zM495.8 469.7h0.6v0.6h-0.6zM492.2 469.6h0.6v0.6h-0.6zM486.5 460.9h0.6v0.6h-0.6zM492.5 466.8h0.6v0.6h-0.6zM488.9 472.1h0.6v0.6h-0.6zM492.3 466.7h0.6v0.6h-0.6zM493.3 469.2h0.6v0.6h-0.6zM491.6 469.1h0.6v0.6h-0.6zM490.9 460.1h0.6v0.6h-0.6zM495.0 466.8h0.6v0.6h-0.6zM496.2 458.2h0.6v0.6h-0.6zM493.8 463.5h0.6v0.6h-0.6zM492.9 464.5h0.6v0.6h-0.6zM492.3 463.4h0.6v0.6h-0.6zM496.6 459.1h0.6v0.6h-0.6zM488.3 467.5h0.6v0.6h-0.6zM499.7 463.0h0.6v0.6h-0.6zM490.6 461.3h0.6v0.6h-0.6zM490.3 471.2h0.6v0.6h-0.6zM495.5 469.8h0.6v0.6h-0.6zM494.5 467.1h0.6v0.6h-0.6zM491.6 462.2h0.6v0.6h-0.6zM495.4 476.2h0.6v0.6h-0.6zM492.3 471.3h0.6v0.6h-0.6zM491.3 466.3h0.6v0.6h-0.6zM498.7 465.8h0.6v0.6h-0.6zM495.4 463.8h0.6v0.6h-0.6zM499.3 461.1h0.6v0.6h-0.6zM495.2 465.1h0.6v0.6h-0.6zM494.0 467.6h0.6v0.6h-0.6zM497.5 469.7h0.6v0.6h-0.6zM496.7 467.6h0.6v0.6h-0.6zM490.1 471.6h0.6v0.6h-0.6zM498.2 468.1h0.6v0.6h-0.6zM495.9 465.2h0.6v0.6h-0.6zM489.0 470.1h0.6v0.6h-0.6zM491.2 473.9h0.6v0.6h-0.6zM495.6 466.0h0.6v0.6h-0.6zM491.5 466.5h0.6v0.6h-0.6zM490.3 464.6h0.6v0.6h-0.6zM498.4 464.9h0.6v0.6h-0.6zM499.1 465.7h0.6v0.6h-0.6zM494.7 462.3h0.6v0.6h-0.6zM492.5 464.3h0.6v0.6h-0.6zM489.1 474.0h0.6v0.6h-0.6zM495.3 465.8h0.6v0.6h-0.6zM490.0 466.2h0.6v0.6h-0.6zM490.2 462.1h0.6v0.6h-0.6zM492.8 474.9h0.6v0.6h-0.6zM488.0 468.4h0.6v0.6h-0.6zM491.7 454.2h0.6v0.6h-0.6zM489.1 465.6h0.6v0.6h-0.6zM493.6 463.0h0.6v0.6h-0.6zM498.9 468.3h0.6v0.6h-0.6zM491.5 459.4h0.6v0.6h-0.6zM494.0 463.4h0.6v0.6h-0.6zM496.6 461.8h0.6v0.6h-0.6zM497.1 464.2h0.6v0.6h-0.6zM494.0 465.0h0.6v0.6h-0.6zM495.4 470.8h0.6v0.6h-0.6zM491.7 462.4h0.6v0.6h-0.6zM499.3 470.0h0.6v0.6h-0.6zM499.3 470.0h0.6v0.6h-0.6zM493.8 472.8h0.6v0.6h-0.6zM491.3 464.4h0.6v0.6h-0.6zM492.2 468.9h0.6v0.6h-0.6zM490.8 465.4h0.6v0.6h-0.6zM490.8 465.1h0.6v0.6h-0.6zM496.9 470.7h0.6v0.6h-0.6zM492.7 476.5h0.6v0.6h-0.6zM491.2 468.0h0.6v0.6h-0.6zM491.9 457.0h0.6v0.6h-0.6zM489.7 471.2h0.6v0.6h-0.6zM488.3 478.1h0.6v0.6h-0.6zM493.0 467.2h0.6v0.6h-0.6zM497.3 466.2h0.6v0.6h-0.6zM491.4 463.6h0.6v0.6h-0.6zM490.5 468.4h0.6v0.6h-0.6zM491.9 468.2h0.6v0.6h-0.6zM488.7 464.3h0.6v0.6h-0.6zM499.8 467.6h0.6v0.6h-0.6zM493.1 471.0h0.6v0.6h-0.6zM494.3 472.4h0.6v0.6h-0.6zM489.8 469.3h0.6v0.6h-0.6zM490.1 468.9h0.6v0.6h-0.6zM501.0 472.4h0.6v0.6h-0.6zM490.7 467.8h0.6v0.6h-0.6zM494.8 463.2h0.6v0.6h-0.6zM494.2 461.7h0.6v0.6h-0.6zM496.4 469.9h0.6v0.6h-0.6zM492.9 468.9h0.6v0.6h-0.6zM500.8 465.5h0.6v0.6h-0.6zM487.6 467.5h0.6v0.6h-0.6zM492.0 462.9h0.6v0.6h-0.6zM496.2 470.2h0.6v0.6h-0.6zM495.3 472.8h0.6v0.6h-0.6zM491.4 464.4h0.6v0.6h-0.6zM494.7 455.0h0.6v0.6h-0.6zM484.9 467.5h0.6v0.6h-0.6zM492.7 466.4h0.6v0.6h-0.6zM490.4 467.0h0.6v0.6h-0.6zM496.7 463.5h0.6v0.6h-0.6zM495.1 465.5h0.6v0.6h-0.6zM492.9 466.6h0.6v0.6h-0.6zM498.1 468.3h0.6v0.6h-0.6zM495.5 466.7h0.6v0.6h-0.6zM486.7 470.0h0.6v0.6h-0.6zM493.3 466.5h0.6v0.6h-0.6zM491.8 459.8h0.6v0.6h-0.6zM498.0 473.6h0.6v0.6h-0.6zM498.3 458.5h0.6v0.6h-0.6zM495.1 461.3h0.6v0.6h-0.6zM492.8 464.0h0.6v0.6h-0.6zM491.4 462.9h0.6v0.6h-0.6zM491.9 469.3h0.6v0.6h-0.6zM498.4 469.9h0.6v0.6h-0.6zM493.3 465.5h0.6v0.6h-0.6zM492.6 466.0h0.6v0.6h-0.6zM491.4 465.4h0.6v0.6h-0.6zM496.0 465.2h0.6v0.6h-0.6zM490.8 465.6h0.6v0.6h-0.6zM493.6 465.8h0.6v0.6h-0.6zM492.6 469.0h0.6v0.6h-0.6zM493.2 462.0h0.6v0.6h-0.6zM495.1 463.2h0.6v0.6h-0.6zM495.8 469.5h0.6v0.6h-0.6zM494.9 467.4h0.6v0.6h-0.6zM489.2 465.3h0.6v0.6h-0.6zM493.8 468.7h0.6v0.6h-0.6zM489.9 465.5h0.6v0.6h-0.6zM488.6 466.8h0.6v0.6h-0.6zM493.6 466.6h0.6v0.6h-0.6zM498.5 469.1h0.6v0.6h-0.6zM492.8 463.7h0.6v0.6h-0.6zM492.0 469.3h0.6v0.6h-0.6zM496.2 464.0h0.6v0.6h-0.6zM493.0 464.3h0.6v0.6h-0.6zM495.5 466.9h0.6v0.6h-0.6zM491.1 462.5h0.6v0.6h-0.6zM497.4 460.3h0.6v0.6h-0.6zM487.7 453.5h0.6v0.6h-0.6zM499.7 463.9h0.6v0.6h-0.6zM496.0 468.4h0.6v0.6h-0.6zM496.0 470.8h0.6v0.6h-0.6zM491.9 466.0h0.6v0.6h-0.6zM496.4 468.4h0.6v0.6h-0.6zM491.0 463.0h0.6v0.6h-0.6zM488.8 467.2h0.6v0.6h-0.6zM491.7 459.7h0.6v0.6h-0.6zM491.6 467.4h0.6v0.6h-0.6zM493.9 465.2h0.6v0.6h-0.6zM493.9 468.8h0.6v0.6h-0.6zM489.6 462.8h0.6v0.6h-0.6zM496.4 469.1h0.6v0.6h-0.6zM489.0 463.1h0.6v0.6h-0.6zM497.9 469.2h0.6v0.6h-0.6zM492.9 470.3h0.6v0.6h-0.6zM497.7 471.9h0.6v0.6h-0.6zM489.0 460.8h0.6v0.6h-0.6zM491.8 465.9h0.6v0.6h-0.6zM492.2 467.1h0.6v0.6h-0.6zM498.0 470.6h0.6v0.6h-0.6zM496.5 466.1h0.6v0.6h-0.6zM498.6 468.0h0.6v0.6h-0.6zM494.1 466.0h0.6v0.6h-0.6zM487.6 475.0h0.6v0.6h-0.6zM493.3 469.8h0.6v0.6h-0.6zM512.7 466.7h0.6v0.6h-0.6zM494.1 472.5h0.6v0.6h-0.6zM501.7 463.1h0.6v0.6h-0.6zM505.6 467.7h0.6v0.6h-0.6zM495.3 455.5h0.6v0.6h-0.6zM495.0 469.4h0.6v0.6h-0.6zM494.8 472.3h0.6v0.6h-0.6zM512.3 469.1h0.6v0.6h-0.6zM501.6 467.2h0.6v0.6h-0.6zM505.1 467.8h0.6v0.6h-0.6zM506.0 474.4h0.6v0.6h-0.6zM505.0 463.0h0.6v0.6h-0.6zM504.0 466.4h0.6v0.6h-0.6zM502.1 472.2h0.6v0.6h-0.6zM496.8 468.6h0.6v0.6h-0.6zM508.4 463.6h0.6v0.6h-0.6zM499.4 471.1h0.6v0.6h-0.6zM499.1 472.5h0.6v0.6h-0.6zM494.9 460.5h0.6v0.6h-0.6zM502.5 467.0h0.6v0.6h-0.6zM502.1 472.2h0.6v0.6h-0.6zM506.1 466.0h0.6v0.6h-0.6zM498.3 458.4h0.6v0.6h-0.6zM495.1 468.8h0.6v0.6h-0.6zM501.6 460.5h0.6v0.6h-0.6zM504.7 467.4h0.6v0.6h-0.6zM506.4 465.9h0.6v0.6h-0.6zM505.6 462.3h0.6v0.6h-0.6zM490.3 463.8h0.6v0.6h-0.6zM504.2 469.6h0.6v0.6h-0.6zM490.2 468.3h0.6v0.6h-0.6zM504.0 475.6h0.6v0.6h-0.6zM504.6 470.0h0.6v0.6h-0.6zM491.8 469.4h0.6v0.6h-0.6zM489.7 466.2h0.6v0.6h-0.6zM498.4 463.0h0.6v0.6h-0.6zM494.9 466.9h0.6v0.6h-0.6zM503.6 464.5h0.6v0.6h-0.6zM502.0 471.0h0.6v0.6h-0.6zM500.3 476.7h0.6v0.6h-0.6zM498.7 464.1h0.6v0.6h-0.6zM490.1 472.7h0.6v0.6h-0.6zM504.1 466.7h0.6v0.6h-0.6zM502.1 467.0h0.6v0.6h-0.6zM505.1 467.6h0.6v0.6h-0.6zM501.6 467.2h0.6v0.6h-0.6zM495.6 457.1h0.6v0.6h-0.6zM503.4 461.7h0.6v0.6h-0.6zM502.6 470.7h0.6v0.6h-0.6zM510.6 464.1h0.6v0.6h-0.6zM501.2 472.1h0.6v0.6h-0.6zM496.8 464.8h0.6v0.6h-0.6zM502.8 477.4h0.6v0.6h-0.6zM506.3 472.2h0.6v0.6h-0.6zM495.2 470.7h0.6v0.6h-0.6zM506.6 461.6h0.6v0.6h-0.6zM500.5 466.7h0.6v0.6h-0.6zM503.9 459.4h0.6v0.6h-0.6zM504.2 467.6h0.6v0.6h-0.6zM498.9 457.6h0.6v0.6h-0.6zM489.1 465.0h0.6v0.6h-0.6zM503.9 469.6h0.6v0.6h-0.6zM504.5 459.6h0.6v0.6h-0.6zM501.5 474.0h0.6v0.6h-0.6zM492.0 470.7h0.6v0.6h-0.6zM496.4 470.2h0.6v0.6h-0.6zM500.9 459.9h0.6v0.6h-0.6zM494.7 473.6h0.6v0.6h-0.6zM499.8 473.5h0.6v0.6h-0.6zM502.2 471.8h0.6v0.6h-0.6zM498.2 468.7h0.6v0.6h-0.6zM498.4 471.9h0.6v0.6h-0.6zM497.3 472.9h0.6v0.6h-0.6zM508.9 461.9h0.6v0.6h-0.6zM499.5 470.2h0.6v0.6h-0.6zM510.0 473.1h0.6v0.6h-0.6zM500.9 459.4h0.6v0.6h-0.6zM505.0 464.8h0.6v0.6h-0.6zM501.4 469.5h0.6v0.6h-0.6zM492.7 472.7h0.6v0.6h-0.6zM505.4 470.3h0.6v0.6h-0.6zM503.6 469.3h0.6v0.6h-0.6zM492.8 465.2h0.6v0.6h-0.6zM504.8 466.0h0.6v0.6h-0.6zM500.5 469.4h0.6v0.6h-0.6zM500.9 468.8h0.6v0.6h-0.6zM503.0 467.6h0.6v0.6h-0.6zM494.4 466.3h0.6v0.6h-0.6zM505.6 464.4h0.6v0.6h-0.6zM502.9 469.1h0.6v0.6h-0.6zM495.6 454.3h0.6v0.6h-0.6zM500.3 463.9h0.6v0.6h-0.6zM497.0 472.0h0.6v0.6h-0.6zM496.2 469.3h0.6v0.6h-0.6zM501.0 468.6h0.6v0.6h-0.6zM511.2 458.3h0.6v0.6h-0.6zM505.6 466.9h0.6v0.6h-0.6zM498.9 464.5h0.6v0.6h-0.6zM500.6 467.8h0.6v0.6h-0.6zM495.4 475.3h0.6v0.6h-0.6zM496.3 467.0h0.6v0.6h-0.6zM493.5 468.3h0.6v0.6h-0.6zM502.3 472.7h0.6v0.6h-0.6zM505.7 465.3h0.6v0.6h-0.6zM509.1 467.1h0.6v0.6h-0.6zM508.8 475.7h0.6v0.6h-0.6zM498.2 462.5h0.6v0.6h-0.6zM503.3 474.4h0.6v0.6h-0.6zM502.5 472.8h0.6v0.6h-0.6zM503.6 471.8h0.6v0.6h-0.6zM507.6 466.2h0.6v0.6h-0.6zM492.7 467.0h0.6v0.6h-0.6zM496.1 462.0h0.6v0.6h-0.6zM499.5 471.0h0.6v0.6h-0.6zM490.4 460.5h0.6v0.6h-0.6zM504.7 463.4h0.6v0.6h-0.6zM498.3 474.0h0.6v0.6h-0.6zM506.5 469.3h0.6v0.6h-0.6zM503.3 454.8h0.6v0.6h-0.6zM503.4 469.4h0.6v0.6h-0.6zM492.8 468.5h0.6v0.6h-0.6zM502.9 467.1h0.6v0.6h-0.6zM504.7 471.8h0.6v0.6h-0.6zM500.7 466.4h0.6v0.6h-0.6zM494.0 473.0h0.6v0.6h-0.6zM497.3 469.1h0.6v0.6h-0.6zM508.7 471.3h0.6v0.6h-0.6zM493.5 467.2h0.6v0.6h-0.6zM496.5 459.9h0.6v0.6h-0.6zM496.0 470.4h0.6v0.6h-0.6zM502.2 466.6h0.6v0.6h-0.6zM501.3 462.1h0.6v0.6h-0.6zM496.2 466.8h0.6v0.6h-0.6zM504.7 466.1h0.6v0.6h-0.6zM499.5 469.2h0.6v0.6h-0.6zM508.3 461.7h0.6v0.6h-0.6zM503.3 468.5h0.6v0.6h-0.6zM500.0 468.8h0.6v0.6h-0.6zM489.6 467.7h0.6v0.6h-0.6zM499.1 461.8h0.6v0.6h-0.6zM504.9 467.0h0.6v0.6h-0.6zM498.5 471.2h0.6v0.6h-0.6zM495.4 464.2h0.6v0.6h-0.6zM504.8 471.7h0.6v0.6h-0.6zM511.3 465.5h0.6v0.6h-0.6zM492.5 460.6h0.6v0.6h-0.6zM493.9 468.1h0.6v0.6h-0.6zM499.1 464.4h0.6v0.6h-0.6zM494.9 464.3h0.6v0.6h-0.6zM498.4 473.2h0.6v0.6h-0.6zM503.8 474.1h0.6v0.6h-0.6zM504.8 471.2h0.6v0.6h-0.6zM506.7 469.7h0.6v0.6h-0.6zM508.7 472.9h0.6v0.6h-0.6zM510.2 468.6h0.6v0.6h-0.6zM496.2 479.4h0.6v0.6h-0.6zM498.8 470.1h0.6v0.6h-0.6zM498.3 464.3h0.6v0.6h-0.6zM502.7 462.3h0.6v0.6h-0.6zM499.5 474.2h0.6v0.6h-0.6zM501.0 471.5h0.6v0.6h-0.6zM503.8 469.4h0.6v0.6h-0.6zM500.9 470.5h0.6v0.6h-0.6zM495.1 470.3h0.6v0.6h-0.6zM494.5 464.1h0.6v0.6h-0.6zM497.2 461.3h0.6v0.6h-0.6zM489.7 469.4h0.6v0.6h-0.6zM503.1 470.7h0.6v0.6h-0.6zM512.3 468.4h0.6v0.6h-0.6zM504.4 464.1h0.6v0.6h-0.6zM504.2 462.2h0.6v0.6h-0.6zM511.0 463.1h0.6v0.6h-0.6zM498.1 471.1h0.6v0.6h-0.6zM488.4 473.9h0.6v0.6h-0.6zM495.2 468.5h0.6v0.6h-0.6zM505.7 468.3h0.6v0.6h-0.6zM505.4 465.2h0.6v0.6h-0.6zM503.6 457.4h0.6v0.6h-0.6zM508.5 464.5h0.6v0.6h-0.6zM495.7 467.7h0.6v0.6h-0.6zM509.6 464.3h0.6v0.6h-0.6zM500.2 465.9h0.6v0.6h-0.6zM495.3 461.5h0.6v0.6h-0.6zM503.5 470.9h0.6v0.6h-0.6zM496.3 468.7h0.6v0.6h-0.6zM502.8 469.4h0.6v0.6h-0.6zM499.4 467.8h0.6v0.6h-0.6zM501.8 462.6h0.6v0.6h-0.6zM499.5 471.3h0.6v0.6h-0.6zM497.3 473.8h0.6v0.6h-0.6zM499.0 462.4h0.6v0.6h-0.6zM498.7 461.2h0.6v0.6h-0.6zM503.6 460.1h0.6v0.6h-0.6zM500.4 466.5h0.6v0.6h-0.6zM498.7 469.6h0.6v0.6h-0.6zM501.9 465.0h0.6v0.6h-0.6zM504.8 465.5h0.6v0.6h-0.6zM505.2 473.9h0.6v0.6h-0.6zM502.4 472.0h0.6v0.6h-0.6zM493.1 470.3h0.6v0.6h-0.6zM492.2 466.8h0.6v0.6h-0.6zM504.1 455.0h0.6v0.6h-0.6zM496.1 464.0h0.6v0.6h-0.6zM495.2 467.7h0.6v0.6h-0.6zM503.8 462.2h0.6v0.6h-0.6zM496.9 458.9h0.6v0.6h-0.6zM496.5 457.8h0.6v0.6h-0.6zM492.2 469.8h0.6v0.6h-0.6zM505.1 463.8h0.6v0.6h-0.6zM502.2 463.9h0.6v0.6h-0.6zM506.1 475.8h0.6v0.6h-0.6zM487.0 463.5h0.6v0.6h-0.6zM496.8 465.4h0.6v0.6h-0.6zM508.8 475.0h0.6v0.6h-0.6zM500.2 470.6h0.6v0.6h-0.6zM491.7 466.2h0.6v0.6h-0.6zM498.8 466.9h0.6v0.6h-0.6zM501.9 460.2h0.6v0.6h-0.6zM494.7 477.7h0.6v0.6h-0.6zM490.9 467.9h0.6v0.6h-0.6z" fill="#2828d8" fill-opacity="0.6"/>
<rect x="472.3" y="437.6" width="69" height="68.4" fill="none" stroke="#999" stroke-width="0.7"/>
<rect x="488.3" y="437.6" width="21.1" height="20.4" fill="none" stroke="#444" stroke-width="0.6"/>
<rect x="488.3" y="458" width="14.1" height="14.9" fill="none" stroke="#444" stroke-width="0.6"/>
<rect x="513.4" y="470.3" width="19.6" height="10.6" fill="none" stroke="#444" stroke-width="0.6"/>
<rect x="506.1" y="438.4" width="35.4" height="4.4" fill="#fff" stroke="#ccc" stroke-width="0.3"/>
<text x="507.3" y="442.6" font-size="4.8" textLength="33.8" lengthAdjust="spacingAndGlyphs" stroke="#333" stroke-width="0.06" fill="#333">Ly-6G- Ly-6C High</text>
<rect x="473" y="474.4" width="34.8" height="4.4" fill="#fff" stroke="#ccc" stroke-width="0.3"/>
<text x="473.2" y="478.6" font-size="4.8" textLength="33.5" lengthAdjust="spacingAndGlyphs" stroke="#333" stroke-width="0.06" fill="#333">Ly-6G- Ly-6C Low</text>
<rect x="513.1" y="482.4" width="28.4" height="4.4" fill="#fff" stroke="#ccc" stroke-width="0.3"/>
<text x="513.3" y="486.6" font-size="4.8" textLength="27.5" lengthAdjust="spacingAndGlyphs" stroke="#333" stroke-width="0.06" fill="#333">Ly-6G+ Ly-6C -</text>
<text x="475.1" y="447.9" font-size="6" textLength="11.1" lengthAdjust="spacingAndGlyphs" stroke="#2a2a2a" stroke-width="0.18" fill="#2a2a2a">19%</text>
<text x="486.1" y="503.2" font-size="6.9" textLength="34.2" lengthAdjust="spacingAndGlyphs" stroke="#2a2a2a" stroke-width="0.15" fill="#2a2a2a">OD + aPD-1</text>
<text x="471.1" y="446.1" font-size="2.8" text-anchor="end" fill="#333">10⁵</text>
<line x1="471.4" y1="445.1" x2="472.3" y2="445.1" stroke="#888" stroke-width="0.35"/>
<text x="471.1" y="465.4" font-size="2.8" text-anchor="end" fill="#333">20000</text>
<line x1="471.4" y1="464.4" x2="472.3" y2="464.4" stroke="#888" stroke-width="0.35"/>
<text x="471.1" y="481.9" font-size="2.8" text-anchor="end" fill="#333">0</text>
<line x1="471.4" y1="480.9" x2="472.3" y2="480.9" stroke="#888" stroke-width="0.35"/>
<text x="471.1" y="497.5" font-size="2.8" text-anchor="end" fill="#333">-20000</text>
<line x1="471.4" y1="496.5" x2="472.3" y2="496.5" stroke="#888" stroke-width="0.35"/>
<text x="474.1" y="509.8" font-size="2.8" text-anchor="middle" fill="#333">-4000</text>
<text x="491" y="509.8" font-size="2.8" text-anchor="middle" fill="#333">0</text>
<text x="504.6" y="509.8" font-size="2.8" text-anchor="middle" fill="#333">2000 4000</text>
<text x="517.4" y="509.8" font-size="2.8" text-anchor="middle" fill="#333">10⁴</text>
<text x="535.1" y="509.8" font-size="2.8" text-anchor="middle" fill="#333">10⁵</text>
<line x1="594.5" y1="374.7" x2="594.5" y2="464.6" stroke="#222" stroke-width="0.9"/>
<line x1="594.5" y1="464.6" x2="682.5" y2="464.6" stroke="#222" stroke-width="0.9"/>
<line x1="590.7" y1="464.6" x2="594.5" y2="464.6" stroke="#222" stroke-width="0.9"/>
<text x="589.3" y="466.9" font-size="6.5" font-weight="bold" text-anchor="end" fill="#111">0</text>
<line x1="590.7" y1="442.25" x2="594.5" y2="442.25" stroke="#222" stroke-width="0.9"/>
<text x="589.3" y="444.55" font-size="6.5" font-weight="bold" text-anchor="end" fill="#111">10</text>
<line x1="590.7" y1="419.9" x2="594.5" y2="419.9" stroke="#222" stroke-width="0.9"/>
<text x="589.3" y="422.2" font-size="6.5" font-weight="bold" text-anchor="end" fill="#111">20</text>
<line x1="590.7" y1="397.55" x2="594.5" y2="397.55" stroke="#222" stroke-width="0.9"/>
<text x="589.3" y="399.85" font-size="6.5" font-weight="bold" text-anchor="end" fill="#111">30</text>
<line x1="590.7" y1="375.2" x2="594.5" y2="375.2" stroke="#222" stroke-width="0.9"/>
<text x="589.3" y="377.5" font-size="6.5" font-weight="bold" text-anchor="end" fill="#111">40</text>
<rect x="601.2" y="418.11" width="13.4" height="46.49" fill="#2f2f2f" stroke="#111" stroke-width="1.3"/>
<line x1="607.9" y1="418.11" x2="607.9" y2="414.76" stroke="#222" stroke-width="0.8"/>
<line x1="605.7" y1="414.76" x2="610.1" y2="414.76" stroke="#222" stroke-width="0.8"/>
<circle cx="607.6" cy="413.19" r="0.75" fill="#111"/>
<circle cx="608.6" cy="414.31" r="0.75" fill="#111"/>
<circle cx="607.6" cy="419.9" r="0.75" fill="#111"/>
<circle cx="608.6" cy="424.37" r="0.75" fill="#111"/>
<line x1="607.9" y1="464.6" x2="607.9" y2="468" stroke="#222" stroke-width="0.9"/>
<rect x="621.5" y="418.11" width="13.4" height="46.49" fill="#7b7b7b" stroke="#111" stroke-width="1.3"/>
<line x1="628.2" y1="418.11" x2="628.2" y2="411.41" stroke="#222" stroke-width="0.8"/>
<line x1="626" y1="411.41" x2="630.4" y2="411.41" stroke="#222" stroke-width="0.8"/>
<circle cx="627.9" cy="395.31" r="0.75" fill="#111"/>
<circle cx="628.9" cy="413.19" r="0.75" fill="#111"/>
<circle cx="627.9" cy="416.55" r="0.75" fill="#111"/>
<circle cx="628.9" cy="419.9" r="0.75" fill="#111"/>
<circle cx="627.9" cy="426.61" r="0.75" fill="#111"/>
<line x1="628.2" y1="464.6" x2="628.2" y2="468" stroke="#222" stroke-width="0.9"/>
<rect x="642.3" y="427.28" width="13.4" height="37.32" fill="#d5d5d5" stroke="#111" stroke-width="1.3"/>
<line x1="649" y1="427.28" x2="649" y2="422.81" stroke="#222" stroke-width="0.8"/>
<line x1="646.8" y1="422.81" x2="651.2" y2="422.81" stroke="#222" stroke-width="0.8"/>
<circle cx="648.7" cy="417.67" r="0.75" fill="#111"/>
<circle cx="649.7" cy="422.13" r="0.75" fill="#111"/>
<circle cx="648.7" cy="428.84" r="0.75" fill="#111"/>
<circle cx="649.7" cy="432.19" r="0.75" fill="#111"/>
<line x1="649" y1="464.6" x2="649" y2="468" stroke="#222" stroke-width="0.9"/>
<rect x="663" y="439.34" width="13.4" height="25.26" fill="#ffffff" stroke="#111" stroke-width="1.3"/>
<line x1="669.7" y1="439.34" x2="669.7" y2="436.66" stroke="#222" stroke-width="0.8"/>
<line x1="667.5" y1="436.66" x2="671.9" y2="436.66" stroke="#222" stroke-width="0.8"/>
<circle cx="669.4" cy="433.31" r="0.75" fill="#111"/>
<circle cx="670.4" cy="435.55" r="0.75" fill="#111"/>
<circle cx="669.4" cy="437.78" r="0.75" fill="#111"/>
<circle cx="670.4" cy="442.25" r="0.75" fill="#111"/>
<line x1="669.7" y1="464.6" x2="669.7" y2="468" stroke="#222" stroke-width="0.9"/>
<line x1="607.9" y1="384.5" x2="669.8" y2="384.5" stroke="#222" stroke-width="0.9"/>
<text x="639" y="383.93" font-size="11" font-weight="bold" text-anchor="middle" fill="#111">**</text>
<text x="568.7" y="418.8" font-size="7.55" font-weight="bold" text-anchor="middle" fill="#111" transform="rotate(-90 568.7 418.8)">%Ly6G- Ly6C High cells gated on</text>
<text x="577.3" y="419.7" font-size="7.4" font-weight="bold" text-anchor="middle" fill="#111" transform="rotate(-90 577.3 419.7)">live [GR-1+] [CD11b+] lymphocytes</text>
<text x="609.5" y="475" font-size="6.7" font-weight="bold" text-anchor="end" fill="#111" transform="rotate(-45 609.5 475)">SD no treatment</text>
<text x="629.8" y="475" font-size="6.7" font-weight="bold" text-anchor="end" fill="#111" transform="rotate(-45 629.8 475)">SD + aPD-1</text>
<text x="650.6" y="475" font-size="6.7" font-weight="bold" text-anchor="end" fill="#111" transform="rotate(-45 650.6 475)">OD no treatment</text>
<text x="671.3" y="475" font-size="6.7" font-weight="bold" text-anchor="end" fill="#111" transform="rotate(-45 671.3 475)">OD + aPD-1</text></svg></body></html>
